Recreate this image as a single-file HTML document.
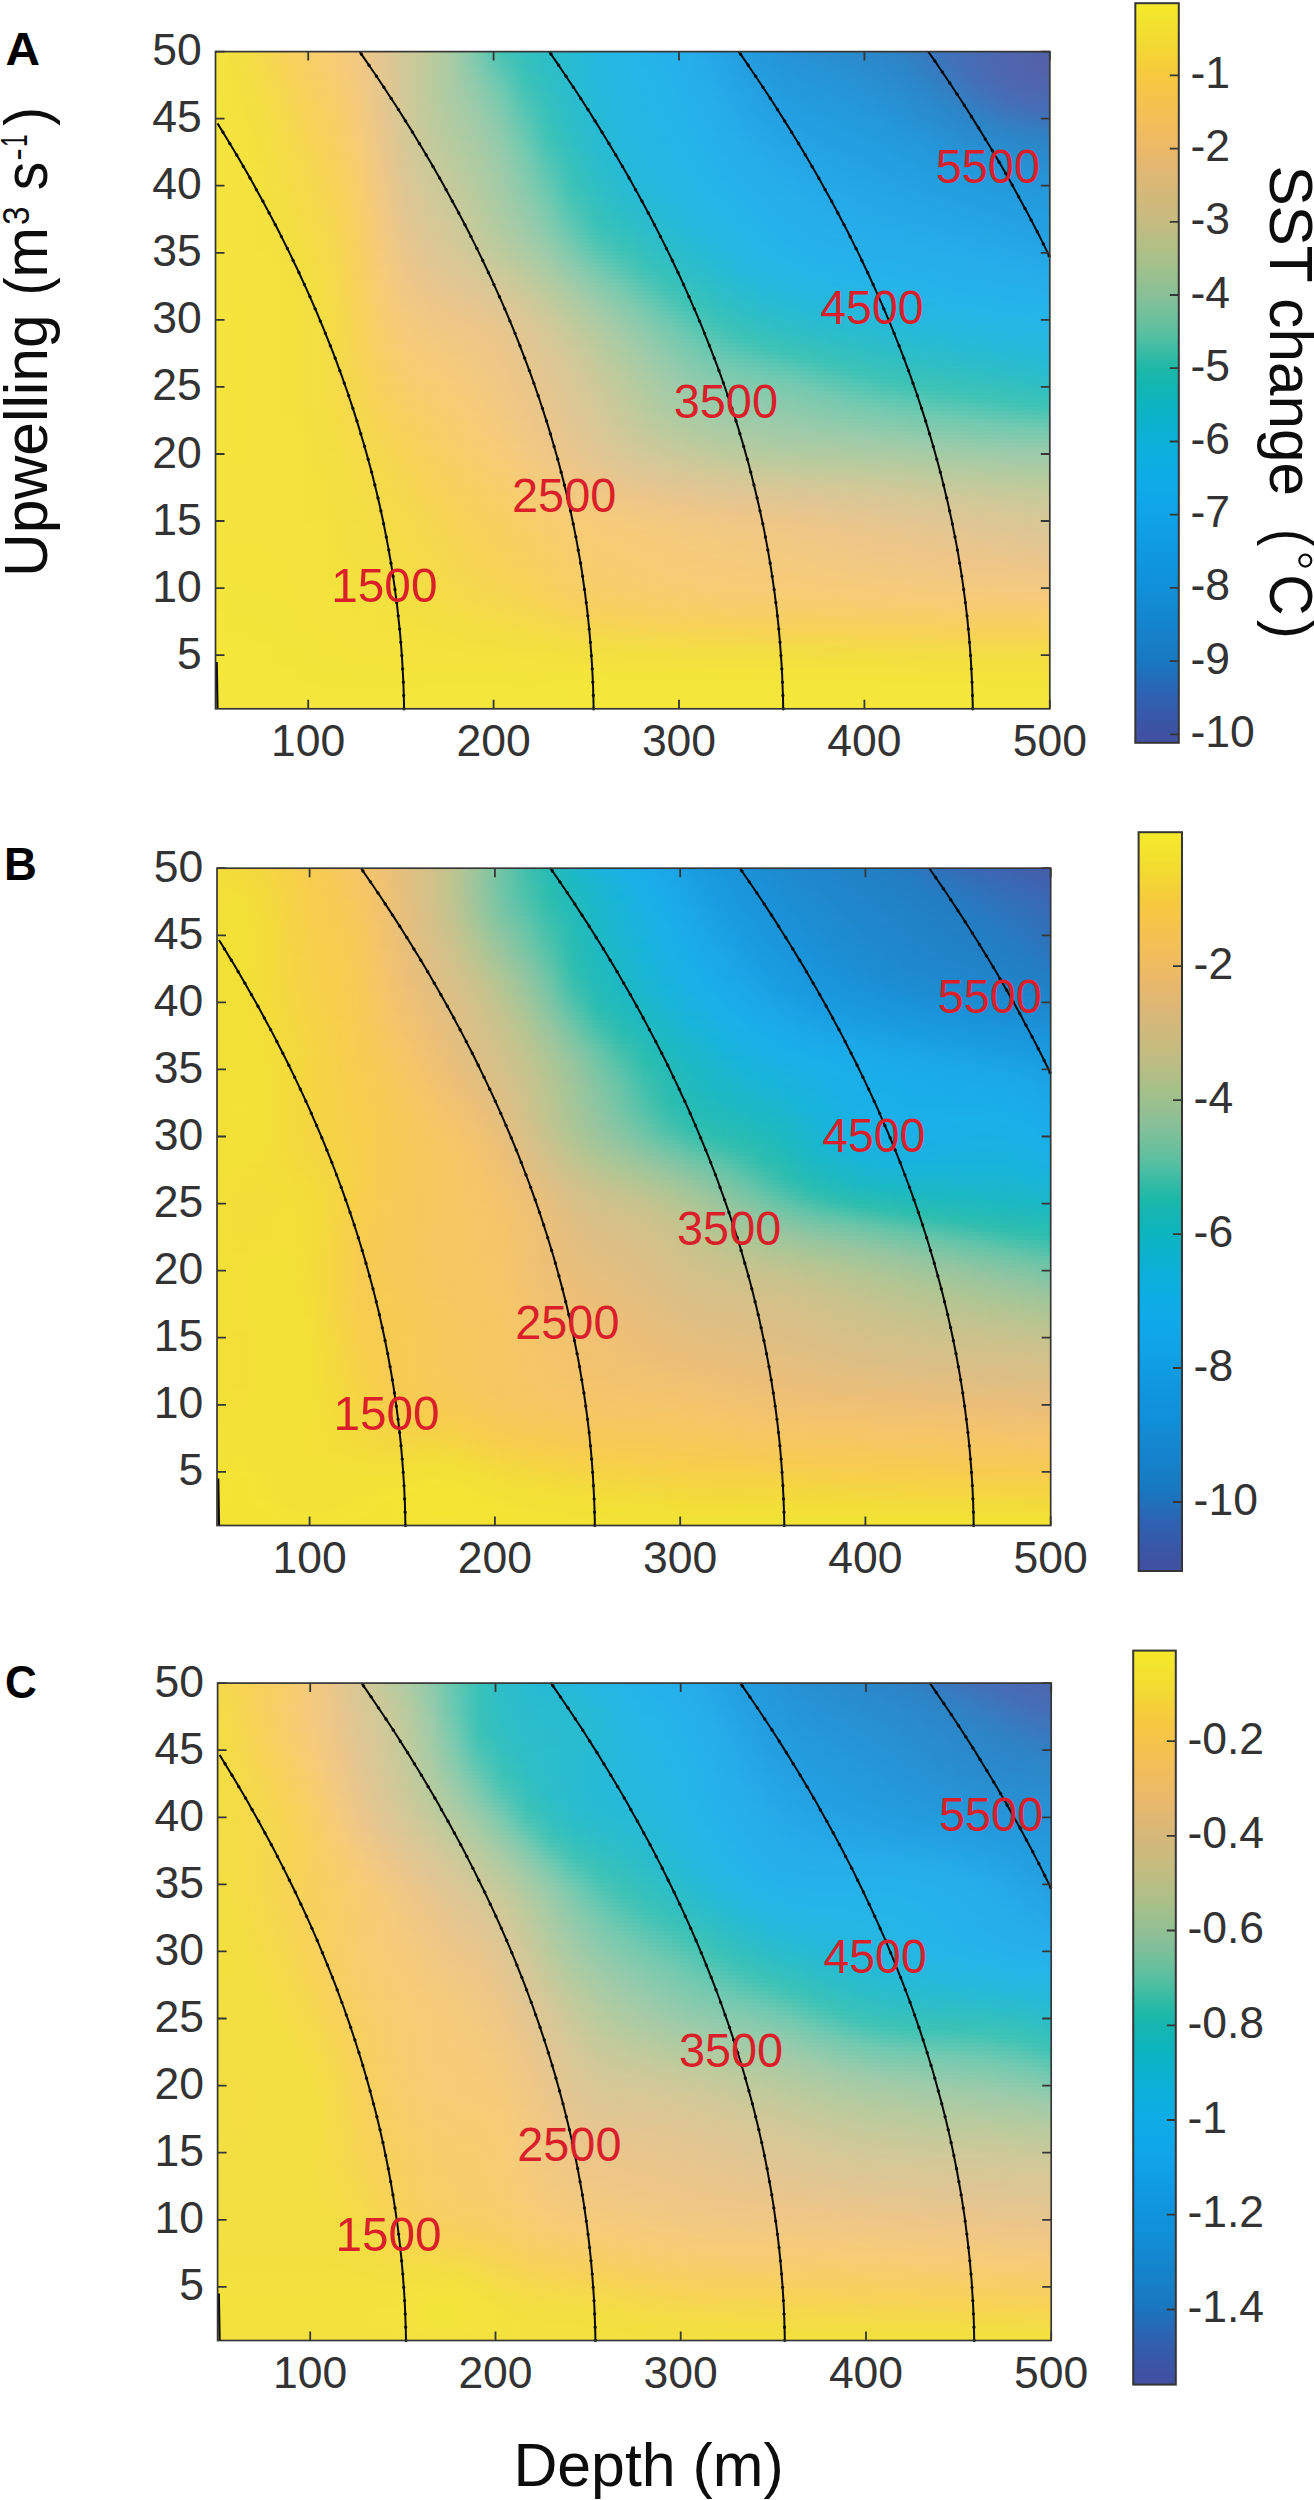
<!DOCTYPE html><html><head><meta charset="utf-8"><style>
html,body{margin:0;padding:0;background:#fff;width:1314px;height:2500px;overflow:hidden}
body{position:relative;font-family:"Liberation Sans",sans-serif}
.hm{position:absolute}.hm div{position:absolute;left:0;width:100%}
svg{position:absolute;left:0;top:0}
.tl{font-size:44.5px;fill:#333}
.let{font-size:44px;font-weight:bold;fill:#000}
.ax{font-size:59px;fill:#111}
.cl{font-size:48.5px;fill:#da1f2a}
</style></head><body>
<div class="hm" style="left:215px;top:0;width:835px"><div style="top:51px;height:4px;background:linear-gradient(90deg,#f4e33e,#f3df40,#f5d94c,#f8d15a,#f8ce68,#f7cd76,#f1c882,#e2c691,#d1c998,#becb9c,#a5cba6,#7acaae,#46c4b4,#35c0be,#2bbec8,#28bad4,#25b7de,#25b6e4,#25b4ea,#25b1ea,#26adea,#24a6e6,#249ee0,#2399db,#2593d6,#278fd1,#298cce,#2a89cb,#2c86c7,#3180c3,#3a78bd,#4270b8,#486bb3,#4d66af,#5163ab,#5361a9)"></div><div style="top:55px;height:4px;background:linear-gradient(90deg,#f4e33d,#f3df40,#f5d94b,#f8d259,#f8cf67,#f7cd75,#f1c882,#e2c691,#d1c998,#bdcb9c,#a5cba6,#7dcaae,#4bc5b4,#36c1bd,#2cbec7,#28bbd3,#25b8de,#25b6e4,#25b4e9,#25b1ea,#26adea,#25a6e6,#249fe1,#239adc,#2594d7,#2790d3,#288dcf,#2a8acc,#2b87c9,#2f82c4,#3879be,#4271b9,#486bb3,#4d66ae,#5163ab,#5361a9)"></div><div style="top:59px;height:4px;background:linear-gradient(90deg,#f4e33d,#f3e040,#f5d94a,#f7d258,#f8cf66,#f7cd74,#f2c881,#e2c691,#d0c998,#bccb9c,#a5cba6,#7fcaae,#50c5b3,#37c1bb,#2cbec7,#28bbd3,#25b8dd,#25b6e4,#25b4e9,#25b2ea,#26aeea,#25a7e7,#24a0e1,#239adc,#2595d7,#2692d4,#288fd0,#298bcd,#2b88ca,#2d83c5,#377abf,#4171b9,#486bb3,#4d66ae,#5163ab,#5361a9)"></div><div style="top:63px;height:4px;background:linear-gradient(90deg,#f4e33d,#f3e040,#f5da49,#f7d357,#f8cf65,#f7cd73,#f2c881,#e3c691,#d0c998,#bccb9d,#a5cba6,#81caad,#54c6b3,#38c1ba,#2dbec6,#28bbd2,#25b8dd,#25b6e3,#25b4e8,#25b2ea,#26aeea,#25a8e7,#24a0e2,#239bdd,#2496d8,#2693d5,#2790d2,#298dce,#2a89cb,#2c85c6,#367cc0,#4072ba,#486bb4,#4d66af,#5163ab,#5361a9)"></div><div style="top:67px;height:4px;background:linear-gradient(90deg,#f4e33d,#f3e040,#f5da49,#f7d356,#f8cf64,#f7cd72,#f2c980,#e3c690,#d0c998,#bccb9d,#a5cba6,#84caad,#59c6b2,#39c2b9,#2dbec6,#28bbd2,#25b8dd,#25b6e3,#25b5e8,#25b2ea,#26afea,#25a8e8,#24a1e2,#239cde,#2497d9,#2594d6,#2791d3,#288ed0,#2a8acc,#2c85c7,#347dc1,#3f73ba,#476cb4,#4d67af,#5163ab,#5362aa)"></div><div style="top:71px;height:4px;background:linear-gradient(90deg,#f4e33d,#f3e03f,#f4db48,#f7d455,#f8cf63,#f7cd71,#f2c980,#e3c690,#d0c998,#bbcb9d,#a6cba5,#86caad,#5dc7b2,#3ac2b8,#2ebec5,#28bbd1,#25b8dc,#25b6e3,#25b5e8,#25b3ea,#25afea,#25a9e8,#24a1e3,#239cde,#2498da,#2595d7,#2692d4,#288fd1,#298bcd,#2b86c8,#327fc2,#3d75bb,#466db5,#4c67b0,#5064ac,#5262aa)"></div><div style="top:75px;height:4px;background:linear-gradient(90deg,#f4e33d,#f3e03f,#f4db47,#f7d454,#f8cf62,#f7cd70,#f3c97f,#e3c690,#d0c998,#bbcb9d,#a6cba5,#88caac,#62c8b1,#3bc2b7,#2fbfc4,#28bbd1,#25b8dc,#25b6e2,#25b5e7,#25b3ea,#25afea,#25aae8,#24a2e3,#239ddf,#2399db,#2496d8,#2693d5,#2790d2,#298cce,#2b87c9,#3080c3,#3c76bc,#456db6,#4b68b0,#4f64ad,#5163ab)"></div><div style="top:79px;height:4px;background:linear-gradient(90deg,#f4e33d,#f3e13f,#f4db46,#f7d553,#f8d061,#f7ce6f,#f3c97f,#e4c690,#d0c998,#bbcb9d,#a6cba5,#8bcaac,#66c8b1,#3cc3b6,#2fbfc3,#29bbd0,#25b8dc,#25b6e2,#25b5e7,#25b3ea,#25b0ea,#25aae9,#24a3e4,#239ddf,#239adc,#2496d9,#2594d6,#2791d3,#288dcf,#2b88ca,#2e82c4,#3a78bd,#446eb7,#4a69b1,#4e65ad,#5064ac)"></div><div style="top:83px;height:4px;background:linear-gradient(90deg,#f4e33d,#f3e13f,#f4dc46,#f6d552,#f8d060,#f7ce6e,#f3ca7e,#e4c690,#d0c998,#bbcb9d,#a7cba5,#8dcbac,#6ac9b0,#3ec3b5,#30bfc3,#29bcd0,#25b8db,#25b6e2,#25b5e7,#25b3ea,#25b0ea,#25abe9,#24a3e4,#239ee0,#239add,#2498da,#2595d7,#2692d4,#288ed0,#2a89cb,#2c84c6,#387abf,#4370b8,#496ab2,#4d66ae,#4f65ad)"></div><div style="top:87px;height:4px;background:linear-gradient(90deg,#f4e33d,#f3e13f,#f4dc45,#f6d652,#f8d05f,#f7ce6c,#f3ca7e,#e4c68f,#d0c998,#bbcb9d,#a8cba5,#8fcbab,#6ec9b0,#42c3b5,#31bfc2,#29bccf,#26b9db,#25b6e1,#25b5e6,#25b4ea,#25b0ea,#26abe9,#24a4e5,#249fe0,#239bdd,#2399db,#2496d8,#2693d5,#278fd1,#2a8acc,#2c85c7,#367cc0,#4172b9,#486bb4,#4c67b0,#4e66ae)"></div><div style="top:91px;height:4px;background:linear-gradient(90deg,#f4e33d,#f3e13f,#f4dd44,#f6d651,#f8d05e,#f7ce6b,#f4ca7d,#e4c68f,#d0c998,#bbcb9d,#a8cba4,#91cbab,#72cab0,#45c4b4,#32c0c1,#29bcce,#26b9da,#25b7e1,#25b5e6,#25b4ea,#25b0ea,#26acea,#24a5e5,#249fe1,#239cde,#2399dc,#2497d9,#2594d6,#2790d2,#298ccd,#2c86c8,#347ec1,#3e74bb,#466cb5,#4b69b1,#4c67af)"></div><div style="top:95px;height:4px;background:linear-gradient(90deg,#f4e43d,#f3e13e,#f4dd44,#f6d650,#f8d05d,#f8ce6a,#f4ca7d,#e5c68f,#d0c998,#bccb9d,#a9cba4,#93cbab,#75caaf,#48c4b4,#33c0c0,#29bccd,#26b9d9,#25b7e1,#25b5e6,#25b4ea,#25b1ea,#26acea,#24a6e6,#24a0e2,#239cde,#239adc,#2498da,#2595d7,#2691d3,#298dce,#2b87c9,#3180c3,#3c76bc,#456eb6,#496ab2,#4b69b1)"></div><div style="top:99px;height:4px;background:linear-gradient(90deg,#f4e43d,#f3e23e,#f4dd43,#f6d74f,#f8d15c,#f8ce69,#f4ca7c,#e5c68e,#d1c998,#bccb9d,#aacba4,#96cbab,#78caaf,#4cc5b4,#34c0bf,#2abccd,#26b9d9,#25b7e0,#25b5e5,#25b4ea,#25b1ea,#26adea,#25a6e6,#24a0e2,#239ddf,#239bdd,#2399db,#2496d8,#2692d4,#288ed0,#2b88ca,#2f82c4,#3a78be,#4370b8,#476cb4,#496ab2)"></div><div style="top:103px;height:4px;background:linear-gradient(90deg,#f4e43d,#f3e23e,#f3de43,#f6d74f,#f8d15b,#f8ce68,#f5cb7c,#e6c68e,#d1c998,#bccb9c,#abcba3,#98cbaa,#7acaae,#4fc5b3,#34c0be,#2abdcc,#26b9d8,#25b7e0,#25b5e5,#25b4e9,#25b1ea,#26adea,#25a7e7,#24a1e3,#239ee0,#239cde,#239adc,#2497d9,#2593d6,#288fd1,#2a8acb,#2c84c6,#377bbf,#4072ba,#456db6,#476cb4)"></div><div style="top:107px;height:4px;background:linear-gradient(90deg,#f4e43d,#f3e23e,#f3de42,#f6d84e,#f8d15a,#f8cf67,#f5cb7b,#e6c68e,#d1c898,#bdcb9c,#accba3,#9acbaa,#7dcaae,#52c6b3,#35c1bd,#2abdcb,#27b9d7,#25b7e0,#25b5e5,#25b4e9,#25b2ea,#26adea,#25a8e7,#24a2e3,#249ee0,#239cde,#239add,#2398da,#2594d7,#2790d2,#298bcd,#2c85c7,#347dc1,#3d75bb,#436fb7,#456db6)"></div><div style="top:111px;height:4px;background:linear-gradient(90deg,#f4e43d,#f3e23e,#f3de41,#f5d84d,#f8d259,#f8cf66,#f5cb7a,#e6c68d,#d1c898,#bdcb9c,#adcba2,#9ccbaa,#7fcaae,#56c6b3,#36c1bc,#2bbdca,#27bad6,#25b7df,#25b6e4,#25b4e9,#25b2ea,#26aeea,#25a8e7,#24a2e4,#249fe1,#239ddf,#239bdd,#2399db,#2495d8,#2791d3,#298cce,#2b87c8,#3180c3,#3a78bd,#4072b9,#436fb8)"></div><div style="top:115px;height:4px;background:linear-gradient(90deg,#f4e43d,#f3e23e,#f3de41,#f5d84c,#f7d258,#f8cf65,#f5cb7a,#e7c68d,#d2c897,#becb9c,#aecba2,#9dcba9,#82caad,#59c6b2,#37c1bb,#2bbdc9,#27bad6,#25b7df,#25b6e4,#25b4e8,#25b2ea,#26aeea,#25a9e8,#24a3e4,#24a0e1,#239ee0,#239cde,#239adc,#2497d9,#2692d4,#288dcf,#2b88ca,#2e83c5,#377bbf,#3d75bb,#4072ba)"></div><div style="top:119px;height:4px;background:linear-gradient(90deg,#f4e43d,#f4e23e,#f3df41,#f5d94c,#f7d358,#f8cf64,#f6cc79,#e7c68d,#d2c897,#bfcb9c,#afcba2,#9fcba9,#84caad,#5cc7b2,#38c1ba,#2bbec8,#27bad5,#25b7df,#25b6e4,#25b5e8,#25b2ea,#26afea,#25aae8,#24a4e5,#24a0e2,#249ee0,#239ddf,#239bdd,#2498da,#2593d5,#288ed0,#2a89cb,#2c85c6,#347ec1,#3a78bd,#3d75bb)"></div><div style="top:123px;height:4px;background:linear-gradient(90deg,#f4e43d,#f4e23e,#f3df40,#f5d94b,#f7d357,#f8cf63,#f6cc79,#e8c68c,#d3c897,#bfcb9c,#b0cba1,#a0cba8,#87caad,#5fc7b2,#39c2b9,#2cbec7,#27bad4,#25b7de,#25b6e3,#25b5e7,#25b3ea,#25afea,#25aae9,#24a5e5,#24a1e3,#249fe1,#239ddf,#239bdd,#2399db,#2594d6,#2790d2,#298bcd,#2c86c8,#3081c3,#367bbf,#3a78bd)"></div><div style="top:127px;height:4px;background:linear-gradient(90deg,#f4e43d,#f4e33e,#f3df40,#f5d94b,#f7d356,#f8cf62,#f6cc78,#e8c68c,#d3c897,#c0ca9c,#b1cba1,#a2cba7,#89caac,#63c8b1,#3ac2b8,#2dbec6,#28bbd3,#25b8de,#25b6e3,#25b5e7,#25b3ea,#25afea,#25abe9,#24a6e6,#24a2e3,#249fe1,#239ee0,#239cde,#239adc,#2495d8,#2791d3,#298cce,#2b88c9,#2d84c5,#337ec2,#367bc0)"></div><div style="top:131px;height:4px;background:linear-gradient(90deg,#f4e43d,#f4e33d,#f3df40,#f5da4a,#f7d455,#f8cf61,#f7cc78,#e9c68b,#d4c897,#c1ca9b,#b2cba0,#a3cba7,#8bcaac,#66c8b1,#3bc2b7,#2ebec5,#28bbd2,#25b8dd,#25b6e3,#25b5e7,#25b3ea,#25b0ea,#26acea,#25a6e6,#24a3e4,#24a0e2,#249fe0,#239ddf,#239adc,#2497d9,#2692d4,#288ed0,#2a89cb,#2c86c7,#2f81c4,#337ec2)"></div><div style="top:135px;height:4px;background:linear-gradient(90deg,#f4e43d,#f4e33d,#f3e040,#f5da49,#f7d454,#f8d061,#f7cc77,#e9c68b,#d4c897,#c2ca9b,#b3cb9f,#a4cba6,#8dcbac,#69c9b1,#3cc3b6,#2fbfc4,#28bbd1,#25b8dd,#25b6e2,#25b5e6,#25b3ea,#25b0ea,#26acea,#25a7e7,#24a3e4,#24a1e3,#249fe1,#239ddf,#239bdd,#2498da,#2593d6,#278fd1,#298bcd,#2b87c9,#2c84c6,#2f81c4)"></div><div style="top:139px;height:4px;background:linear-gradient(90deg,#f4e43d,#f4e33d,#f3e040,#f5da49,#f7d454,#f8d060,#f7cd76,#eac68b,#d5c897,#c3ca9b,#b5cb9f,#a6cba6,#8fcbab,#6cc9b0,#3ec3b5,#30bfc3,#29bbd0,#25b8dc,#25b6e2,#25b5e6,#25b4ea,#25b0ea,#26adea,#25a8e7,#24a4e5,#24a2e3,#24a0e2,#249ee0,#239cde,#2399db,#2595d7,#2790d2,#298cce,#2a89cb,#2c86c8,#2c84c6)"></div><div style="top:143px;height:4px;background:linear-gradient(90deg,#f4e43d,#f4e33d,#f3e040,#f5da48,#f7d553,#f8d05f,#f7cd75,#eac68a,#d5c896,#c4ca9b,#b6cb9e,#a7cba5,#91cbab,#6fc9b0,#42c3b5,#31bfc2,#29bcd0,#25b8dc,#25b6e1,#25b5e5,#25b4ea,#25b1ea,#26adea,#25a9e8,#24a5e5,#24a2e4,#24a0e2,#249fe1,#239ddf,#239adc,#2496d8,#2692d4,#288ed0,#2a8bcc,#2b88c9,#2c86c8)"></div><div style="top:147px;height:4px;background:linear-gradient(90deg,#f4e43d,#f4e33d,#f3e040,#f4db48,#f6d552,#f8d05e,#f7cd74,#ebc68a,#d6c896,#c5ca9b,#b7cb9e,#a8cba4,#93cbab,#72cab0,#45c4b4,#32c0c1,#29bccf,#26b9db,#25b7e1,#25b5e5,#25b4ea,#25b1ea,#26adea,#25a9e8,#25a6e6,#24a3e4,#24a1e3,#249fe1,#239ddf,#239bdd,#2497d9,#2593d5,#2790d2,#298cce,#2a89cb,#2b88c9)"></div><div style="top:151px;height:4px;background:linear-gradient(90deg,#f4e43d,#f4e33d,#f3e03f,#f4db47,#f6d652,#f8d05d,#f7cd73,#ebc689,#d6c896,#c6ca9a,#b8cb9d,#a9cba4,#95cbab,#75caaf,#48c4b4,#33c0c0,#29bcce,#26b9da,#25b7e0,#25b6e5,#25b4e9,#25b1ea,#26aeea,#25aae9,#25a7e6,#24a4e5,#24a2e3,#24a0e2,#239ee0,#239bdd,#2399db,#2595d7,#2691d3,#288ed0,#298bcd,#2a89cb)"></div><div style="top:155px;height:4px;background:linear-gradient(90deg,#f4e43d,#f4e33d,#f3e03f,#f4db47,#f6d651,#f8d05c,#f7cd72,#ecc689,#d7c896,#c7ca9a,#bacb9d,#abcba3,#97cbaa,#78caaf,#4cc5b4,#34c0bf,#2abccd,#26b9d9,#25b7e0,#25b6e4,#25b4e9,#25b2ea,#26aeea,#25abe9,#25a7e7,#24a5e5,#24a3e4,#24a1e2,#249fe1,#239cde,#239adc,#2496d8,#2693d5,#2790d1,#288dcf,#298bcd)"></div><div style="top:159px;height:4px;background:linear-gradient(90deg,#f4e43d,#f4e33d,#f3e03f,#f4dc46,#f6d650,#f8d15b,#f7cd71,#edc688,#d8c796,#c8ca9a,#bbcb9d,#accba3,#99cbaa,#7acaaf,#4fc5b3,#35c1bd,#2abdcb,#26b9d8,#25b7df,#25b6e4,#25b5e8,#25b2ea,#25afea,#26acea,#25a8e7,#24a6e6,#24a3e4,#24a1e3,#249fe1,#239ddf,#239bdd,#2497da,#2594d6,#2691d3,#288fd0,#298cce)"></div><div style="top:163px;height:4px;background:linear-gradient(90deg,#f4e43d,#f4e33d,#f3e13f,#f4dc46,#f6d750,#f8d15a,#f7cd70,#edc688,#d8c795,#c9c99a,#bccb9d,#adcba2,#9bcbaa,#7ccaae,#53c6b3,#36c1bc,#2abdca,#27bad7,#25b7df,#25b6e3,#25b5e8,#25b2ea,#25afea,#26acea,#25a9e8,#25a6e6,#24a4e5,#24a2e3,#24a0e2,#239ee0,#239bdd,#2399db,#2496d8,#2693d5,#2790d2,#288ed0)"></div><div style="top:167px;height:4px;background:linear-gradient(90deg,#f4e43d,#f4e33d,#f3e13f,#f4dc45,#f6d74f,#f8d259,#f7cd6f,#eec687,#d9c795,#cac999,#bdcb9c,#aecba2,#9ccbaa,#7ecaae,#56c6b2,#37c1bb,#2bbdc9,#27bad6,#25b7de,#25b6e2,#25b5e7,#25b3ea,#25b0ea,#26adea,#25aae8,#25a7e7,#24a5e5,#24a3e4,#24a0e2,#249ee0,#239cde,#239adc,#2497d9,#2594d6,#2692d4,#2790d2)"></div><div style="top:171px;height:4px;background:linear-gradient(90deg,#f4e43d,#f4e33d,#f3e13f,#f4dc45,#f6d74e,#f8d259,#f7ce6e,#eec687,#dac795,#ccc999,#bfcb9c,#b0cba1,#9ecba9,#80caae,#5ac7b2,#38c1ba,#2bbec8,#27bad5,#25b8dd,#25b6e2,#25b5e6,#25b3ea,#25b0ea,#26adea,#25aae9,#25a8e7,#24a6e6,#24a4e4,#24a1e3,#249fe1,#239ddf,#239bdd,#2399db,#2496d8,#2593d5,#2691d3)"></div><div style="top:175px;height:4px;background:linear-gradient(90deg,#f4e43d,#f4e43d,#f3e13f,#f4dc45,#f6d84e,#f7d258,#f7ce6d,#efc686,#dac795,#cdc999,#c0ca9c,#b1cba1,#9fcba8,#83caad,#5dc7b2,#39c2b9,#2cbec7,#28bad4,#25b8dd,#25b6e1,#25b5e6,#25b3ea,#25b0ea,#26aeea,#25abe9,#25a8e8,#25a6e6,#24a4e5,#24a2e3,#24a0e2,#239ee0,#239cde,#239adc,#2497da,#2595d7,#2693d5)"></div><div style="top:179px;height:4px;background:linear-gradient(90deg,#f4e43d,#f4e43d,#f3e13f,#f4dd44,#f5d84d,#f7d357,#f7ce6d,#efc686,#dbc795,#cec998,#c1ca9b,#b2cba0,#a0cba8,#85caad,#60c7b1,#3ac2b8,#2dbec6,#28bbd2,#25b8dc,#25b7e0,#25b5e5,#25b4ea,#25b1ea,#26aeea,#26acea,#25a9e8,#25a7e7,#24a5e5,#24a3e4,#24a1e2,#249fe1,#239ddf,#239bdd,#2399db,#2496d9,#2594d6)"></div><div style="top:183px;height:4px;background:linear-gradient(90deg,#f4e43d,#f4e43d,#f3e13f,#f4dd44,#f5d84d,#f7d356,#f7ce6c,#f0c785,#dcc794,#cfc998,#c2ca9b,#b3cb9f,#a1cba7,#87caad,#64c8b1,#3bc2b7,#2ebfc5,#28bbd1,#26b9db,#25b7e0,#25b6e5,#25b4ea,#25b1ea,#26aeea,#26acea,#25aae8,#25a8e7,#24a6e6,#24a4e4,#24a1e3,#24a0e1,#239ee0,#239cde,#239adc,#2498da,#2495d8)"></div><div style="top:187px;height:4px;background:linear-gradient(90deg,#f4e43d,#f4e43d,#f3e13f,#f4dd43,#f5d84c,#f7d356,#f8ce6b,#f0c785,#ddc794,#d0c998,#c3ca9b,#b4cb9f,#a2cba7,#89caac,#67c8b1,#3cc3b5,#2fbfc3,#29bcd0,#26b9d9,#25b7df,#25b6e4,#25b4e9,#25b2ea,#25afea,#26adea,#25aae9,#25a8e8,#25a6e6,#24a4e5,#24a2e4,#24a0e2,#249fe0,#239ddf,#239bdd,#2399db,#2497d9)"></div><div style="top:191px;height:4px;background:linear-gradient(90deg,#f4e43d,#f4e43d,#f3e13f,#f4dd43,#f5d94c,#f7d455,#f8ce6a,#f0c784,#ddc794,#d1c898,#c5ca9b,#b6cb9e,#a4cba6,#8bcaac,#6ac9b0,#3fc3b5,#31bfc2,#29bcce,#26b9d8,#25b7de,#25b6e3,#25b4e9,#25b2ea,#25afea,#26adea,#25abe9,#25a9e8,#25a7e7,#24a5e5,#24a3e4,#24a1e3,#249fe1,#239ee0,#239cde,#239adc,#2498da)"></div><div style="top:195px;height:4px;background:linear-gradient(90deg,#f4e43d,#f4e43d,#f3e13e,#f3de43,#f5d94b,#f7d454,#f8ce69,#f0c784,#dec694,#d2c897,#c6ca9a,#b7cb9e,#a5cba6,#8dcbac,#6ec9b0,#43c4b5,#32c0c1,#2abccd,#27bad6,#25b8dd,#25b6e2,#25b5e8,#25b2ea,#25b0ea,#26aeea,#26acea,#25aae8,#25a8e7,#25a6e6,#24a4e5,#24a2e3,#24a0e2,#249fe1,#239ddf,#239bdd,#2399db)"></div><div style="top:199px;height:4px;background:linear-gradient(90deg,#f4e43d,#f4e43d,#f3e13e,#f3de42,#f5d94a,#f7d454,#f8ce69,#f1c883,#dfc693,#d3c897,#c7ca9a,#b8cb9d,#a6cba5,#8fcbab,#71cab0,#46c4b4,#33c0c0,#2abdcb,#27bad5,#25b8dd,#25b6e2,#25b5e7,#25b3ea,#25b0ea,#26aeea,#26acea,#25aae9,#25a8e7,#25a6e6,#24a5e5,#24a3e4,#24a1e3,#249fe1,#239ee0,#239cde,#239adc)"></div><div style="top:203px;height:4px;background:linear-gradient(90deg,#f4e43d,#f4e43d,#f3e23e,#f3de42,#f5da4a,#f7d553,#f8cf68,#f1c882,#e0c693,#d4c897,#c8ca9a,#b9cb9d,#a7cba5,#92cbab,#74caaf,#4ac4b4,#34c0be,#2bbdca,#28bbd3,#25b8dc,#25b7e1,#25b5e6,#25b3ea,#25b1ea,#26aeea,#26adea,#25abe9,#25a9e8,#25a7e7,#24a5e6,#24a4e5,#24a2e3,#24a0e2,#249fe1,#239ddf,#239bdd)"></div><div style="top:207px;height:4px;background:linear-gradient(90deg,#f4e43d,#f4e43d,#f3e23e,#f3de41,#f5da49,#f6d553,#f8cf67,#f1c882,#e0c692,#d5c897,#cac999,#bacb9d,#a8cba4,#94cbab,#77caaf,#4dc5b3,#36c1bd,#2bbec8,#28bbd2,#26b9da,#25b7e0,#25b5e6,#25b4ea,#25b1ea,#25afea,#26adea,#26abe9,#25a9e8,#25a8e7,#25a6e6,#24a5e5,#24a3e4,#24a1e3,#249fe1,#239ee0,#239cde)"></div><div style="top:211px;height:4px;background:linear-gradient(90deg,#f4e43d,#f4e43d,#f3e23e,#f3de41,#f5da49,#f6d552,#f8cf67,#f2c881,#e1c692,#d5c896,#cbc999,#bbcb9d,#aacba4,#96cbaa,#7acaaf,#51c5b3,#37c1bc,#2dbec7,#29bbd0,#26b9d9,#25b7df,#25b5e5,#25b4ea,#25b1ea,#25afea,#26adea,#26acea,#25aae9,#25a8e8,#25a7e7,#24a5e6,#24a4e5,#24a2e3,#24a0e2,#249fe0,#239ddf)"></div><div style="top:215px;height:4px;background:linear-gradient(90deg,#f4e43d,#f4e43d,#f3e23e,#f3df41,#f5da48,#f6d651,#f8cf66,#f2c881,#e2c691,#d6c896,#ccc999,#bdcb9c,#abcba3,#98cbaa,#7ccaae,#55c6b3,#38c1ba,#2ebec5,#29bcce,#27b9d7,#25b7de,#25b6e4,#25b4e9,#25b2ea,#25b0ea,#26aeea,#26acea,#25abe9,#25a9e8,#25a8e7,#25a6e6,#24a5e5,#24a3e4,#24a1e3,#249fe1,#239ddf)"></div><div style="top:219px;height:4px;background:linear-gradient(90deg,#f4e43d,#f4e43d,#f3e23e,#f3df40,#f4db48,#f6d651,#f8cf65,#f2c980,#e3c691,#d7c896,#cec999,#becb9c,#adcba2,#9bcbaa,#7fcaae,#59c6b2,#3ac2b9,#30bfc3,#2abccd,#27bad6,#25b8de,#25b6e3,#25b4e9,#25b2ea,#25b0ea,#26aeea,#26adea,#26abe9,#25aae8,#25a8e8,#25a7e7,#24a6e6,#24a4e5,#24a2e3,#24a0e2,#249ee0)"></div><div style="top:223px;height:4px;background:linear-gradient(90deg,#f4e43d,#f4e43d,#f3e23e,#f3df40,#f4db47,#f6d650,#f8cf65,#f2c980,#e4c690,#d8c795,#cfc998,#bfcb9c,#aecba2,#9dcba9,#82caad,#5dc7b2,#3bc2b7,#31bfc1,#2abdcb,#28bad4,#25b8dd,#25b6e2,#25b5e8,#25b3ea,#25b1ea,#25afea,#26adea,#26acea,#25aae9,#25a9e8,#25a8e7,#25a6e6,#24a5e5,#24a3e4,#24a1e3,#249fe1)"></div><div style="top:227px;height:4px;background:linear-gradient(90deg,#f4e43d,#f4e43d,#f3e23e,#f3df40,#f4db47,#f6d650,#f8cf64,#f3c97f,#e4c68f,#d9c795,#d0c998,#c1ca9b,#b0cba1,#9fcba8,#85caad,#61c8b1,#3cc3b5,#33c0c0,#2bbdc9,#28bbd2,#25b8db,#25b6e1,#25b5e7,#25b3ea,#25b1ea,#25afea,#26aeea,#26acea,#25abe9,#25aae8,#25a9e8,#25a7e7,#25a6e6,#24a4e5,#24a2e3,#24a0e2)"></div><div style="top:231px;height:4px;background:linear-gradient(90deg,#f4e43d,#f4e43d,#f3e23e,#f3df40,#f4dc46,#f6d74f,#f8cf63,#f3c97f,#e5c68f,#dac795,#d1c898,#c2ca9b,#b2cba0,#a1cba7,#88caad,#66c8b1,#41c3b5,#35c0be,#2cbec7,#29bbd1,#26b9da,#25b7e1,#25b5e6,#25b4ea,#25b1ea,#25b0ea,#26aeea,#26adea,#26acea,#25abe9,#25a9e8,#25a8e7,#25a7e6,#24a5e5,#24a3e4,#24a0e2)"></div><div style="top:235px;height:4px;background:linear-gradient(90deg,#f4e43d,#f4e43d,#f3e23e,#f3e040,#f4dc46,#f6d74f,#f8cf63,#f3ca7e,#e6c68e,#dbc795,#d2c897,#c4ca9b,#b4cb9f,#a3cba7,#8bcaac,#6ac9b0,#46c4b4,#37c1bc,#2ebec5,#29bccf,#26b9d8,#25b7e0,#25b5e5,#25b4ea,#25b2ea,#25b0ea,#26afea,#26adea,#26acea,#26abe9,#25aae9,#25a9e8,#25a8e7,#25a6e6,#24a4e5,#24a1e3)"></div><div style="top:239px;height:4px;background:linear-gradient(90deg,#f4e43d,#f4e43d,#f3e23e,#f3e040,#f4dc45,#f6d74e,#f8cf62,#f4ca7d,#e7c68d,#dcc794,#d3c897,#c6ca9a,#b6cb9e,#a5cba6,#8fcbac,#6fc9b0,#4bc5b4,#38c1ba,#30bfc3,#2abccd,#27bad7,#25b7de,#25b6e4,#25b4e9,#25b2ea,#25b1ea,#25afea,#26aeea,#26adea,#26acea,#25abe9,#25aae8,#25a8e8,#25a7e7,#24a5e5,#24a2e4)"></div><div style="top:243px;height:4px;background:linear-gradient(90deg,#f4e43d,#f4e43d,#f3e23e,#f3e040,#f4dc45,#f6d84e,#f8cf61,#f4ca7d,#e8c68c,#ddc794,#d4c897,#c7ca9a,#b8cb9d,#a8cba5,#92cbab,#74caaf,#50c5b3,#3ac2b8,#31bfc1,#2abdcb,#27bad5,#25b8dd,#25b6e3,#25b5e8,#25b3ea,#25b1ea,#25b0ea,#26aeea,#26adea,#26adea,#26acea,#25abe9,#25a9e8,#25a8e7,#25a6e6,#24a3e4)"></div><div style="top:247px;height:4px;background:linear-gradient(90deg,#f4e43d,#f4e43d,#f3e23e,#f3e040,#f4dd44,#f5d84d,#f8d061,#f4ca7c,#e8c68c,#dec694,#d6c896,#c9c99a,#bacb9d,#aacba3,#96cbaa,#78caaf,#56c6b2,#3cc3b6,#33c0bf,#2bbdc9,#28bbd3,#25b8dc,#25b6e2,#25b5e7,#25b3ea,#25b2ea,#25b0ea,#25afea,#26aeea,#26adea,#26acea,#26abea,#25aae9,#25a9e8,#25a7e7,#24a4e5)"></div><div style="top:251px;height:4px;background:linear-gradient(90deg,#f4e43d,#f4e43d,#f4e23e,#f3e03f,#f4dd44,#f5d84d,#f8d060,#f5cb7c,#e9c68b,#dfc693,#d7c896,#ccc999,#bdcb9c,#adcba2,#9acbaa,#7ccaae,#5cc7b2,#40c3b5,#35c1bd,#2cbec7,#28bbd1,#26b9db,#25b7e1,#25b5e6,#25b4ea,#25b2ea,#25b1ea,#25b0ea,#26afea,#26aeea,#26adea,#26acea,#25abe9,#25aae8,#25a8e7,#24a5e6)"></div><div style="top:255px;height:4px;background:linear-gradient(90deg,#f4e43d,#f4e43d,#f4e33e,#f3e03f,#f4dd43,#f5d84d,#f8d060,#f5cb7b,#eac68a,#e0c693,#d8c795,#cec999,#bfcb9c,#b0cba1,#9ecba9,#80caae,#62c8b1,#46c4b4,#37c1bb,#2ebec5,#29bccf,#26b9d9,#25b7e0,#25b6e5,#25b4e9,#25b3ea,#25b1ea,#25b0ea,#25afea,#26aeea,#26aeea,#26adea,#26acea,#25abe9,#25a9e8,#25a7e6)"></div><div style="top:259px;height:4px;background:linear-gradient(90deg,#f4e43d,#f4e43d,#f4e33e,#f3e03f,#f4dd43,#f5d84c,#f8d05f,#f5cb7b,#ebc68a,#e1c692,#dac795,#d0c998,#c2ca9b,#b3cba0,#a1cba8,#85caad,#68c8b1,#4cc5b4,#39c2b9,#30bfc3,#29bccd,#27bad7,#25b7de,#25b6e3,#25b5e8,#25b3ea,#25b2ea,#25b1ea,#25b0ea,#25afea,#26aeea,#26aeea,#26adea,#26acea,#25aae8,#25a8e7)"></div><div style="top:263px;height:4px;background:linear-gradient(90deg,#f4e43d,#f4e43d,#f4e33d,#f3e13f,#f3de43,#f5d94c,#f8d05e,#f5cb7a,#ecc689,#e2c691,#dbc795,#d2c897,#c5ca9b,#b6cb9e,#a4cba6,#8acaac,#6ec9b0,#52c6b3,#3bc2b7,#31bfc1,#2abdcb,#27bad5,#25b8dd,#25b6e2,#25b5e6,#25b4ea,#25b3ea,#25b2ea,#25b1ea,#25b0ea,#25afea,#26aeea,#26adea,#26acea,#25abe9,#25a9e8)"></div><div style="top:267px;height:4px;background:linear-gradient(90deg,#f4e43d,#f4e43d,#f4e33d,#f3e13f,#f3de42,#f5d94b,#f8d05e,#f6cc79,#edc688,#e4c690,#dcc794,#d4c897,#c8ca9a,#b9cb9d,#a7cba5,#8ecbac,#74caaf,#58c6b2,#3cc3b5,#33c0bf,#2bbdc9,#28bbd3,#25b8dc,#25b7e1,#25b5e5,#25b4e9,#25b3ea,#25b2ea,#25b1ea,#25b0ea,#25b0ea,#25afea,#26aeea,#26adea,#26acea,#25aae9)"></div><div style="top:271px;height:4px;background:linear-gradient(90deg,#f4e43d,#f4e43d,#f4e33d,#f3e13f,#f3de42,#f5d94b,#f8d05d,#f6cc79,#edc688,#e5c68f,#dec794,#d5c896,#cbc999,#bccb9d,#aacba3,#93cbab,#79caaf,#5ec7b2,#42c3b5,#35c1bd,#2cbec7,#28bbd1,#26b9da,#25b7e0,#25b6e4,#25b5e7,#25b4ea,#25b3ea,#25b2ea,#25b1ea,#25b0ea,#25b0ea,#25afea,#26aeea,#26adea,#26abe9)"></div><div style="top:275px;height:4px;background:linear-gradient(90deg,#f4e43d,#f4e43d,#f4e33d,#f3e13f,#f3de41,#f5d94a,#f8d05d,#f6cc78,#eec687,#e6c68e,#dfc693,#d7c896,#cec999,#bfcb9c,#adcba2,#98cbaa,#7ecaae,#65c8b1,#48c4b4,#37c1bb,#2ebec5,#29bccf,#26b9d8,#25b7de,#25b6e2,#25b5e6,#25b4e8,#25b4ea,#25b3ea,#25b2ea,#25b1ea,#25b0ea,#25afea,#26aeea,#26adea,#26acea)"></div><div style="top:279px;height:4px;background:linear-gradient(90deg,#f4e43d,#f4e43c,#f4e33d,#f3e13f,#f3df41,#f5da4a,#f8d05c,#f7cc78,#efc686,#e7c68d,#e1c692,#d9c795,#d0c998,#c2ca9b,#b1cba1,#9dcba9,#83caad,#6bc9b0,#4ec5b3,#39c2b9,#30bfc3,#2abccd,#27bad5,#25b8dd,#25b7e1,#25b6e4,#25b5e7,#25b4e9,#25b4ea,#25b3ea,#25b2ea,#25b1ea,#25b0ea,#25afea,#26aeea,#26adea)"></div><div style="top:283px;height:4px;background:linear-gradient(90deg,#f4e43d,#f4e43c,#f4e33d,#f3e13f,#f3df41,#f5da4a,#f8d15c,#f7cc77,#f0c785,#e8c68c,#e2c691,#dbc795,#d2c897,#c5ca9a,#b4cb9f,#a0cba8,#88caad,#71cab0,#54c6b3,#3bc2b7,#32c0c1,#2abdca,#28bbd3,#25b8db,#25b7e0,#25b6e3,#25b5e5,#25b5e8,#25b4e9,#25b3ea,#25b3ea,#25b2ea,#25b1ea,#25b0ea,#25afea,#26aeea)"></div><div style="top:287px;height:4px;background:linear-gradient(90deg,#f4e43d,#f4e43c,#f4e33d,#f3e13e,#f3df40,#f5da49,#f8d15b,#f7cd76,#f0c784,#e9c68b,#e4c690,#ddc794,#d5c897,#c8ca9a,#b8cb9e,#a4cba6,#8dcbac,#76caaf,#5ac7b2,#3dc3b5,#34c0bf,#2bbec8,#28bbd1,#26b9d9,#25b7de,#25b6e1,#25b6e4,#25b5e6,#25b5e8,#25b4ea,#25b3ea,#25b2ea,#25b1ea,#25b1ea,#25b0ea,#25afea)"></div><div style="top:291px;height:4px;background:linear-gradient(90deg,#f4e43d,#f4e43c,#f4e33d,#f3e23e,#f3df40,#f5da49,#f8d15a,#f7cd75,#f0c783,#eac68a,#e5c68f,#dfc693,#d7c896,#cbc999,#bbcb9d,#a7cba5,#92cbab,#7bcaae,#60c7b1,#43c4b4,#36c1bd,#2dbec6,#29bccf,#27bad6,#25b8dd,#25b7e0,#25b6e2,#25b6e4,#25b5e6,#25b5e8,#25b4ea,#25b3ea,#25b2ea,#25b1ea,#25b1ea,#25b0ea)"></div><div style="top:295px;height:4px;background:linear-gradient(90deg,#f4e43d,#f4e43c,#f4e33d,#f3e23e,#f3df40,#f5da49,#f8d15a,#f7cd74,#f1c883,#ebc689,#e7c68d,#e1c692,#d9c795,#cfc998,#becb9c,#abcba3,#96cbaa,#80caae,#66c8b1,#4ac4b4,#38c1ba,#2fbfc4,#2abccc,#27bad4,#26b9da,#25b7de,#25b7e1,#25b6e3,#25b5e5,#25b5e7,#25b4e8,#25b4ea,#25b3ea,#25b2ea,#25b1ea,#25b1ea)"></div><div style="top:299px;height:4px;background:linear-gradient(90deg,#f4e43d,#f4e43c,#f4e33d,#f3e23e,#f3df40,#f4db48,#f8d259,#f7cd73,#f1c882,#edc688,#e8c68c,#e3c691,#dbc795,#d1c998,#c1ca9c,#aecba2,#9bcbaa,#84caad,#6cc9b0,#50c5b3,#3ac2b8,#31bfc1,#2abdca,#28bbd2,#26b9d8,#25b8dc,#25b7df,#25b7e1,#25b6e3,#25b5e5,#25b5e7,#25b4e9,#25b4ea,#25b3ea,#25b2ea,#25b1ea)"></div><div style="top:303px;height:4px;background:linear-gradient(90deg,#f4e43d,#f4e43c,#f4e33d,#f3e23e,#f3df40,#f4db48,#f8d259,#f7cd72,#f2c881,#eec687,#e9c68b,#e4c68f,#ddc794,#d3c897,#c4ca9b,#b1cba0,#9fcba8,#88caac,#72cab0,#56c6b3,#3cc2b6,#33c0bf,#2bbec8,#29bccf,#27bad5,#26b9da,#25b8dd,#25b7df,#25b6e1,#25b6e3,#25b5e5,#25b5e7,#25b4e9,#25b4ea,#25b3ea,#25b2ea)"></div><div style="top:307px;height:4px;background:linear-gradient(90deg,#f4e43d,#f4e43c,#f4e43d,#f3e23e,#f3e040,#f4db48,#f7d258,#f7cd71,#f2c980,#efc686,#ebc68a,#e6c68e,#dfc693,#d5c896,#c6ca9a,#b4cb9f,#a2cba7,#8dcbac,#77caaf,#5bc7b2,#40c3b5,#35c1bd,#2ebec5,#2abccd,#28bbd3,#26b9d8,#25b8db,#25b8de,#25b7e0,#25b6e2,#25b6e4,#25b5e6,#25b5e8,#25b4e9,#25b4ea,#25b3ea)"></div><div style="top:311px;height:4px;background:linear-gradient(90deg,#f4e43d,#f4e43c,#f4e43d,#f3e23e,#f3e040,#f4db47,#f7d258,#f7cd70,#f3c97f,#efc785,#ecc689,#e7c68d,#e1c692,#d7c896,#c9c99a,#b8cb9e,#a5cba6,#91cbab,#7bcaae,#61c8b1,#46c4b4,#38c1bb,#30bfc3,#2abdca,#29bbd0,#27bad5,#26b9d9,#25b8dc,#25b7de,#25b7e0,#25b6e2,#25b6e4,#25b5e6,#25b5e8,#25b4e9,#25b4ea)"></div><div style="top:315px;height:4px;background:linear-gradient(90deg,#f4e43d,#f4e43c,#f4e43d,#f3e23e,#f3e040,#f4db47,#f7d358,#f7cd6f,#f3ca7e,#f0c784,#edc688,#e9c68b,#e2c691,#d9c795,#ccc999,#bacb9d,#a8cba4,#95cbab,#7fcaae,#67c8b1,#4cc5b4,#3ac2b9,#32c0c1,#2bbec8,#29bcce,#28bbd2,#27bad6,#26b9d9,#25b8dc,#25b7de,#25b7e1,#25b6e3,#25b6e5,#25b5e6,#25b5e7,#25b4e8)"></div><div style="top:319px;height:4px;background:linear-gradient(90deg,#f4e43d,#f4e43c,#f4e43d,#f3e23e,#f3e040,#f4db47,#f7d357,#f7ce6e,#f4ca7d,#f1c783,#eec687,#eac68a,#e4c690,#dac795,#cec998,#bdcb9c,#abcba3,#99cbaa,#83caad,#6cc9b0,#51c5b3,#3bc2b7,#34c0be,#2ebec5,#2abdcb,#29bccf,#28bbd3,#27bad7,#26b9da,#25b8dd,#25b7df,#25b7e1,#25b6e3,#25b6e5,#25b5e6,#25b5e7)"></div><div style="top:323px;height:4px;background:linear-gradient(90deg,#f4e43d,#f4e43c,#f4e43d,#f3e23e,#f3e040,#f4db47,#f7d357,#f7ce6d,#f4ca7c,#f1c882,#efc686,#ecc689,#e5c68e,#dcc794,#d0c998,#c0cb9c,#aecba2,#9dcba9,#87caad,#71cab0,#57c6b2,#3ec3b5,#36c1bc,#30bfc3,#2bbec8,#2abccd,#29bbd1,#28bad4,#27b9d7,#26b9db,#25b8dd,#25b7df,#25b6e1,#25b6e3,#25b6e4,#25b5e5)"></div><div style="top:327px;height:4px;background:linear-gradient(90deg,#f4e43d,#f4e43c,#f4e43d,#f3e23e,#f3e040,#f4db47,#f7d356,#f7ce6c,#f5cb7b,#f2c881,#f0c784,#edc688,#e7c68d,#ddc794,#d2c897,#c2ca9b,#b1cba1,#a0cba8,#8bcaac,#76caaf,#5dc7b2,#45c4b4,#39c2ba,#33c0c0,#2ebec5,#2bbdca,#29bcce,#28bbd1,#27bad5,#26b9d8,#25b8db,#25b8de,#25b7e0,#25b6e1,#25b6e3,#25b6e4)"></div><div style="top:331px;height:4px;background:linear-gradient(90deg,#f4e43d,#f4e43c,#f4e43d,#f3e23e,#f3e040,#f4db47,#f7d356,#f8ce6b,#f5cb7b,#f2c980,#f0c783,#eec687,#e8c68c,#dfc693,#d4c897,#c4ca9b,#b4cb9f,#a2cba7,#8ecbac,#7acaaf,#62c8b1,#4bc5b4,#3bc2b7,#35c1be,#30bfc3,#2cbec7,#2abdcb,#29bccf,#28bbd2,#27bad6,#26b9d9,#25b8dc,#25b7de,#25b7e0,#25b7e1,#25b6e2)"></div><div style="top:335px;height:4px;background:linear-gradient(90deg,#f4e43d,#f4e43c,#f4e43d,#f3e23e,#f3e040,#f4db47,#f7d455,#f8ce6a,#f6cb7a,#f3c97f,#f1c882,#efc686,#e9c68b,#e0c693,#d5c896,#c7ca9a,#b6cb9e,#a5cba6,#92cbab,#7dcaae,#67c8b1,#51c5b3,#3dc3b5,#37c1bb,#33c0c0,#2fbfc4,#2bbec8,#2abdcc,#29bcd0,#28bbd3,#27bad6,#26b9d9,#25b8dc,#25b7de,#25b7df,#25b7e1)"></div><div style="top:339px;height:4px;background:linear-gradient(90deg,#f4e43d,#f4e43c,#f4e43d,#f3e23e,#f3e040,#f4db47,#f7d455,#f8ce69,#f6cc79,#f3ca7e,#f2c881,#efc785,#eac68b,#e1c692,#d6c896,#c9c99a,#b9cb9d,#a8cba5,#96cbab,#81caae,#6cc9b0,#56c6b2,#44c4b4,#3ac2b8,#35c1bd,#31bfc2,#2dbec6,#2bbdc9,#2abccd,#29bbd0,#28bad4,#27bad7,#26b9da,#25b8dc,#25b7de,#25b7df)"></div><div style="top:343px;height:4px;background:linear-gradient(90deg,#f4e43d,#f4e43c,#f4e43d,#f3e23e,#f3e040,#f4db47,#f7d455,#f8ce68,#f6cc78,#f4ca7d,#f2c980,#f0c784,#ebc68a,#e2c691,#d8c796,#cbc999,#bbcb9d,#aacba4,#99cbaa,#84caad,#71cab0,#5cc7b2,#4ac5b4,#3cc3b6,#38c1ba,#34c0bf,#30bfc3,#2cbec7,#2abdca,#29bcce,#28bbd1,#27bad4,#27bad7,#26b9da,#25b8dc,#25b7de)"></div><div style="top:347px;height:4px;background:linear-gradient(90deg,#f4e43d,#f4e43c,#f4e43d,#f3e23e,#f3e040,#f4db46,#f7d454,#f8cf67,#f7cc77,#f4ca7c,#f2c980,#f0c784,#ecc689,#e3c690,#d9c795,#cdc999,#bdcb9c,#accba2,#9ccbaa,#87caad,#75caaf,#62c8b1,#51c5b3,#42c3b5,#3ac2b8,#36c1bc,#33c0c0,#2fbfc4,#2bbec8,#2abdcb,#29bcce,#28bbd1,#27bad4,#27bad7,#26b9da,#25b8dc)"></div><div style="top:351px;height:4px;background:linear-gradient(90deg,#f4e43d,#f4e43c,#f4e43d,#f3e23e,#f3e040,#f4db46,#f7d454,#f8cf66,#f7cd75,#f5cb7b,#f3c97f,#f1c883,#ecc688,#e4c68f,#dac795,#cfc998,#bfcb9c,#afcba1,#9fcba9,#8bcaac,#79caaf,#67c8b1,#58c6b2,#4ac4b4,#3dc3b5,#39c2b9,#35c1be,#31bfc1,#2ebec5,#2bbdc9,#2abdcc,#29bccf,#28bbd2,#27bad4,#27b9d7,#26b9da)"></div><div style="top:355px;height:4px;background:linear-gradient(90deg,#f4e43d,#f4e43c,#f4e43d,#f3e23e,#f3e040,#f4dc46,#f7d554,#f8cf65,#f7cd74,#f5cb7a,#f3ca7e,#f1c882,#edc688,#e5c68e,#dcc794,#d0c998,#c1ca9b,#b1cba0,#a1cba8,#8ecbac,#7ccaae,#6dc9b0,#5ec7b2,#51c5b3,#45c4b4,#3bc2b7,#38c1bb,#34c0bf,#30bfc3,#2dbec6,#2bbdc9,#2abccc,#29bccf,#28bbd2,#27bad5,#26b9d8)"></div><div style="top:359px;height:4px;background:linear-gradient(90deg,#f4e43d,#f4e43c,#f4e43d,#f3e23e,#f3e040,#f4dc46,#f7d553,#f8cf64,#f7cd72,#f6cc79,#f4ca7d,#f1c882,#eec687,#e6c68e,#ddc794,#d2c897,#c3ca9b,#b3cba0,#a3cba7,#91cbab,#80caae,#72cab0,#65c8b1,#59c6b2,#4dc5b3,#40c3b5,#3ac2b8,#36c1bc,#33c0c0,#2fbfc3,#2dbec7,#2bbdc9,#2abccc,#29bccf,#28bbd2,#27bad5)"></div><div style="top:363px;height:4px;background:linear-gradient(90deg,#f4e43d,#f4e43c,#f4e43d,#f3e23e,#f3e040,#f4dc46,#f6d553,#f8cf63,#f7cd71,#f6cc78,#f4ca7c,#f2c881,#eec687,#e7c68d,#dec794,#d3c897,#c5ca9b,#b5cb9f,#a5cba6,#94cbab,#83caad,#77caaf,#6bc9b0,#60c7b1,#54c6b3,#48c4b4,#3cc3b6,#38c2ba,#35c0be,#32c0c1,#2fbfc4,#2cbec7,#2bbdca,#2abccc,#29bccf,#28bbd3)"></div><div style="top:367px;height:4px;background:linear-gradient(90deg,#f4e43d,#f4e43c,#f4e43d,#f3e23e,#f3e040,#f4dc46,#f6d552,#f8cf62,#f7cd70,#f7cc78,#f5cb7c,#f2c980,#efc686,#e8c68c,#dfc693,#d4c897,#c6ca9a,#b7cb9e,#a7cba5,#97cbaa,#86caad,#7bcaae,#71cab0,#67c8b1,#5bc7b2,#4fc5b3,#42c3b5,#3bc2b7,#37c1bb,#34c0be,#31bfc1,#2fbfc4,#2cbec7,#2bbdca,#2abccd,#29bbd0)"></div><div style="top:371px;height:4px;background:linear-gradient(90deg,#f4e43d,#f4e43c,#f4e43d,#f3e23e,#f3e040,#f4dc46,#f6d552,#f8cf61,#f7ce6e,#f7cd76,#f5cb7b,#f2c980,#efc686,#e8c68c,#e0c693,#d5c896,#c8ca9a,#b9cb9d,#a9cba4,#9acbaa,#8acaac,#7ecaae,#76caaf,#6dc9b0,#63c8b1,#56c6b2,#4ac4b4,#3dc3b5,#3ac2b9,#37c1bc,#34c0bf,#31bfc1,#2fbfc4,#2cbec7,#2abdca,#29bcce)"></div><div style="top:375px;height:4px;background:linear-gradient(90deg,#f4e43d,#f4e43c,#f4e43d,#f3e23e,#f3e040,#f4dc46,#f6d652,#f8d060,#f7ce6d,#f7cd75,#f5cb7a,#f3c97f,#f0c785,#e9c68b,#e1c692,#d6c896,#cac999,#bbcb9d,#abcba3,#9dcba9,#8dcbac,#82caad,#7acaae,#74caaf,#69c9b0,#5dc7b2,#51c5b3,#44c4b4,#3cc2b6,#39c2b9,#36c1bc,#34c0bf,#31bfc2,#2fbfc4,#2cbec7,#2abdcb)"></div><div style="top:379px;height:4px;background:linear-gradient(90deg,#f4e43d,#f4e43c,#f4e43d,#f3e23e,#f3e040,#f4dc46,#f6d651,#f8d05f,#f7ce6b,#f7cd73,#f6cc79,#f3c97f,#f0c784,#eac68b,#e1c692,#d7c896,#cbc999,#bdcb9c,#adcba2,#9fcba8,#90cbab,#86caad,#7fcaae,#78caaf,#70cab0,#64c8b1,#58c6b2,#4cc5b4,#41c3b5,#3bc2b7,#39c2ba,#36c1bc,#34c0bf,#31bfc2,#2ebfc5,#2bbec8)"></div><div style="top:383px;height:4px;background:linear-gradient(90deg,#f4e43d,#f4e43c,#f4e43d,#f3e23e,#f3e040,#f4dc46,#f6d651,#f8d05e,#f8ce6a,#f7cd72,#f6cc79,#f3ca7e,#f0c784,#eac68a,#e2c691,#d8c795,#cdc999,#becb9c,#afcba1,#a1cba8,#93cbab,#89caac,#83caad,#7dcaae,#76caaf,#6bc9b0,#5ec7b2,#53c6b3,#48c4b4,#3fc3b5,#3bc2b7,#39c2ba,#36c1bc,#34c0bf,#31bfc2,#2dbec6)"></div><div style="top:387px;height:4px;background:linear-gradient(90deg,#f4e43d,#f4e43c,#f4e43d,#f3e23e,#f3e040,#f4dc46,#f6d650,#f8d05d,#f8ce69,#f7cd71,#f6cc78,#f4ca7d,#f1c783,#ebc689,#e3c690,#d9c795,#cec998,#c0cb9c,#b1cba1,#a3cba7,#97cbaa,#8dcbac,#86caad,#81caae,#7acaaf,#71cab0,#65c8b1,#59c7b2,#4fc5b3,#46c4b4,#3ec3b5,#3bc2b7,#39c2ba,#36c1bc,#33c0bf,#30bfc3)"></div><div style="top:391px;height:4px;background:linear-gradient(90deg,#f4e43d,#f4e43c,#f4e43d,#f3e23e,#f3e040,#f4dc46,#f6d750,#f8d05c,#f8cf67,#f7cd6f,#f7cc77,#f4ca7d,#f1c883,#ecc689,#e4c690,#dac795,#d0c998,#c1ca9b,#b3cba0,#a5cba6,#9acbaa,#90cbab,#8acaac,#85caad,#7ecaae,#76caaf,#6bc9b0,#60c7b1,#56c6b2,#4dc5b3,#46c4b4,#3ec3b5,#3bc2b7,#39c2ba,#36c1bd,#33c0c0)"></div><div style="top:395px;height:4px;background:linear-gradient(90deg,#f4e43d,#f4e43c,#f4e43d,#f3e23e,#f3e040,#f4dc45,#f6d74f,#f8d15b,#f8cf66,#f7ce6e,#f7cd76,#f4ca7c,#f1c882,#ecc688,#e4c68f,#dbc795,#d1c998,#c3ca9b,#b4cb9f,#a7cba5,#9dcba9,#94cbab,#8dcbac,#88caac,#82caad,#7acaae,#71cab0,#67c8b1,#5dc7b2,#55c6b3,#4dc5b3,#46c4b4,#3fc3b5,#3bc2b7,#39c2ba,#36c1bd)"></div><div style="top:399px;height:4px;background:linear-gradient(90deg,#f4e43d,#f4e43c,#f4e43d,#f3e23e,#f3e040,#f4dc45,#f6d74f,#f8d15a,#f8cf65,#f7ce6d,#f7cd75,#f5cb7b,#f2c881,#edc688,#e5c68f,#dcc794,#d2c897,#c4ca9b,#b6cb9e,#a9cba4,#9fcba8,#97cbaa,#91cbab,#8ccbac,#86caad,#7ecaae,#77caaf,#6dc9b0,#64c8b1,#5cc7b2,#54c6b3,#4dc5b3,#46c4b4,#3fc3b5,#3bc2b7,#39c2ba)"></div><div style="top:403px;height:4px;background:linear-gradient(90deg,#f4e43d,#f4e43c,#f4e43d,#f3e23e,#f3e040,#f4dc45,#f6d74e,#f8d259,#f8cf63,#f7ce6c,#f7cd74,#f5cb7b,#f2c881,#eec687,#e6c68e,#ddc794,#d3c897,#c5ca9a,#b8cb9d,#abcba3,#a1cba7,#9bcbaa,#94cbab,#8fcbab,#89caac,#82caad,#7bcaae,#74caaf,#6bc9b0,#63c8b1,#5cc7b2,#55c6b3,#4ec5b3,#47c4b4,#40c3b5,#3bc2b7)"></div><div style="top:407px;height:4px;background:linear-gradient(90deg,#f4e43d,#f4e43c,#f4e43d,#f3e23e,#f3e040,#f4dd44,#f5d84d,#f7d258,#f8cf62,#f8ce6b,#f7cd73,#f5cb7a,#f2c980,#eec687,#e6c68d,#dec794,#d4c897,#c7ca9a,#b9cb9d,#adcba2,#a4cba6,#9ecba9,#98cbaa,#92cbab,#8dcbac,#86caad,#7fcaae,#79caaf,#72cab0,#6ac9b0,#63c8b1,#5cc7b2,#56c6b3,#4fc5b3,#48c4b4,#41c3b5)"></div><div style="top:411px;height:4px;background:linear-gradient(90deg,#f4e43d,#f4e43c,#f4e43d,#f3e23e,#f3e03f,#f4dd44,#f5d84d,#f7d357,#f8d061,#f8ce69,#f7cd72,#f6cc79,#f3c97f,#efc686,#e7c68d,#dec694,#d5c897,#c8ca9a,#bbcb9d,#afcba1,#a6cba5,#a0cba8,#9bcbaa,#96cbab,#90cbab,#8acaac,#84caad,#7ecaae,#78caaf,#71cab0,#6ac9b0,#64c8b1,#5ec7b2,#57c6b2,#51c5b3,#4bc5b4)"></div><div style="top:415px;height:4px;background:linear-gradient(90deg,#f4e43d,#f4e43c,#f4e43d,#f3e23e,#f3e03f,#f4dd44,#f5d84c,#f7d356,#f8d060,#f8ce68,#f7cd71,#f6cc79,#f3c97f,#efc686,#e8c68c,#dfc693,#d6c896,#cac999,#bdcb9c,#b2cba0,#a9cba4,#a3cba7,#9ecba9,#99cbaa,#94cbab,#8ecbac,#88caac,#82caad,#7dcaae,#78caaf,#72cab0,#6cc9b0,#65c8b1,#5fc7b2,#5ac7b2,#54c6b3)"></div><div style="top:419px;height:4px;background:linear-gradient(90deg,#f4e43d,#f4e43c,#f4e43d,#f4e23e,#f3e03f,#f4dd44,#f5d94c,#f7d455,#f8d05f,#f8cf67,#f7cd70,#f6cc78,#f3ca7e,#f0c785,#e9c68c,#e0c693,#d7c896,#cbc999,#bfcb9c,#b4cb9f,#accba3,#a5cba6,#a0cba8,#9dcba9,#97cbaa,#92cbab,#8dcbac,#87caad,#82caad,#7dcaae,#78caaf,#73caaf,#6dc9b0,#68c8b1,#62c8b1,#5ec7b2)"></div><div style="top:423px;height:4px;background:linear-gradient(90deg,#f4e43d,#f4e43c,#f4e43d,#f4e23e,#f3e03f,#f4dd43,#f5d94b,#f7d454,#f8d05d,#f8cf66,#f7ce6e,#f7cc77,#f4ca7d,#f0c784,#e9c68b,#e1c692,#d8c796,#cdc999,#c0ca9c,#b7cb9e,#aecba2,#a8cba4,#a3cba7,#9fcba8,#9bcbaa,#96cbaa,#91cbab,#8ccbac,#87caad,#83caad,#7ecaae,#79caaf,#75caaf,#70cab0,#6bc9b0,#67c8b1)"></div><div style="top:427px;height:4px;background:linear-gradient(90deg,#f4e43d,#f4e43c,#f4e43d,#f4e23e,#f3e03f,#f3dd43,#f5d94b,#f7d553,#f8d05c,#f8cf65,#f7ce6d,#f7cd76,#f4ca7d,#f0c784,#eac68a,#e2c691,#d9c795,#cfc998,#c2ca9b,#b9cb9d,#b1cba0,#abcba3,#a6cba5,#a2cba7,#9ecba9,#9acbaa,#96cbab,#91cbab,#8dcbac,#88caac,#84caad,#7fcaae,#7bcaae,#77caaf,#74caaf,#71cab0)"></div><div style="top:431px;height:4px;background:linear-gradient(90deg,#f4e43d,#f4e43c,#f4e43d,#f4e23e,#f3e13f,#f3de42,#f5da4a,#f6d552,#f8d15b,#f8cf64,#f7ce6c,#f7cd75,#f4cb7c,#f1c883,#ebc68a,#e3c690,#dac795,#d0c998,#c5ca9b,#bccb9d,#b4cb9f,#aecba2,#a9cba4,#a4cba6,#a1cba8,#9ecba9,#9bcbaa,#97cbaa,#92cbab,#8ecbac,#89caac,#85caad,#81caae,#7dcaae,#7bcaae,#79caaf)"></div><div style="top:435px;height:4px;background:linear-gradient(90deg,#f4e43d,#f4e43c,#f4e43d,#f4e33e,#f3e13f,#f3de42,#f5da49,#f6d652,#f8d15a,#f8cf63,#f7ce6b,#f7cd74,#f5cb7b,#f1c882,#ecc689,#e4c690,#dbc795,#d1c898,#c7ca9a,#becb9c,#b7cb9e,#b1cba0,#accba3,#a7cba5,#a4cba6,#a1cba8,#9fcba9,#9ccbaa,#98cbaa,#94cbab,#8fcbab,#8bcaac,#87caad,#83caad,#81caae,#80caae)"></div><div style="top:439px;height:4px;background:linear-gradient(90deg,#f4e43d,#f4e43c,#f4e43d,#f4e33e,#f3e13f,#f3de42,#f5da49,#f6d651,#f8d259,#f8cf62,#f8ce6a,#f7cd72,#f5cb7a,#f2c881,#ecc688,#e5c68f,#dcc794,#d3c897,#c9c99a,#c1ca9b,#bacb9d,#b4cb9f,#afcba1,#aacba3,#a7cba5,#a4cba6,#a2cba7,#a0cba8,#9dcba9,#9acbaa,#95cbab,#91cbab,#8dcbac,#8acaac,#88caad,#87caad)"></div><div style="top:443px;height:4px;background:linear-gradient(90deg,#f4e43d,#f4e43c,#f4e43d,#f4e33d,#f3e13f,#f3de41,#f5da48,#f6d750,#f7d258,#f8d061,#f8ce69,#f7cd71,#f6cc79,#f2c981,#edc688,#e6c68e,#dec794,#d4c897,#ccc999,#c4ca9b,#becb9c,#b8cb9e,#b2cba0,#aecba2,#aacba3,#a8cba4,#a6cba5,#a4cba6,#a1cba7,#9fcba9,#9bcbaa,#97cbaa,#93cbab,#90cbab,#8ecbac,#8ecbac)"></div><div style="top:447px;height:4px;background:linear-gradient(90deg,#f4e43d,#f4e43c,#f4e43d,#f4e33d,#f3e13f,#f3de41,#f4db48,#f6d74f,#f7d357,#f8d060,#f8cf68,#f7cd70,#f6cc79,#f2c980,#eec687,#e7c68d,#dfc693,#d6c896,#cec998,#c7ca9a,#c1ca9b,#bbcb9d,#b6cb9e,#b1cba0,#aecba2,#accba3,#aacba4,#a8cba4,#a6cba5,#a3cba7,#a0cba8,#9dcba9,#99cbaa,#96cbaa,#95cbab,#94cbab)"></div><div style="top:451px;height:4px;background:linear-gradient(90deg,#f4e43d,#f4e43c,#f4e43d,#f4e33d,#f3e13f,#f3df41,#f4db47,#f6d74e,#f7d356,#f8d05f,#f8cf67,#f7ce6f,#f7cc78,#f3c97f,#efc686,#e8c68c,#e0c692,#d8c796,#d1c998,#cac999,#c4ca9b,#bfcb9c,#bacb9d,#b5cb9f,#b2cba0,#b0cba1,#aecba2,#accba3,#aacba4,#a7cba5,#a4cba6,#a1cba7,#9fcba9,#9dcba9,#9bcbaa,#9bcbaa)"></div><div style="top:455px;height:4px;background:linear-gradient(90deg,#f4e43d,#f4e43c,#f4e43d,#f4e33d,#f3e13f,#f3df41,#f4db47,#f5d84e,#f7d455,#f8d05e,#f8cf66,#f7ce6d,#f7cc77,#f3ca7e,#f0c785,#e9c68b,#e2c691,#dac795,#d3c897,#cec999,#c8ca9a,#c2ca9b,#bdcb9c,#b9cb9d,#b6cb9e,#b4cb9f,#b2cba0,#b1cba1,#aecba2,#accba3,#a9cba4,#a6cba5,#a3cba7,#a1cba8,#a0cba8,#a0cba8)"></div><div style="top:459px;height:4px;background:linear-gradient(90deg,#f4e43d,#f4e43c,#f4e43d,#f4e33d,#f3e13f,#f3df40,#f4dc46,#f5d84d,#f7d454,#f8d05d,#f8cf65,#f7ce6c,#f7cd75,#f4ca7d,#f0c784,#ebc68a,#e4c690,#dcc794,#d5c896,#d1c998,#ccc999,#c6ca9a,#c1ca9b,#bdcb9c,#bacb9d,#b8cb9d,#b7cb9e,#b5cb9f,#b3cba0,#b0cba1,#adcba2,#aacba3,#a8cba5,#a5cba6,#a4cba6,#a4cba6)"></div><div style="top:463px;height:4px;background:linear-gradient(90deg,#f4e43d,#f4e43c,#f4e43d,#f4e33d,#f3e13f,#f3df40,#f4dc46,#f5d84c,#f7d553,#f8d15c,#f8cf64,#f8ce6b,#f7cd74,#f4ca7c,#f1c883,#ecc689,#e5c68e,#dec794,#d8c896,#d3c897,#cfc998,#cac999,#c6ca9a,#c1ca9b,#bfcb9c,#bdcb9c,#bbcb9d,#bacb9d,#b8cb9e,#b5cb9f,#b2cba0,#afcba1,#accba3,#aacba4,#a9cba4,#a9cba4)"></div><div style="top:467px;height:4px;background:linear-gradient(90deg,#f4e43d,#f4e43d,#f4e43d,#f4e33d,#f3e13e,#f3df40,#f4dc45,#f5d94c,#f6d553,#f8d15b,#f8cf62,#f8ce69,#f7cd72,#f5cb7b,#f1c882,#eec687,#e7c68d,#e0c693,#dac795,#d6c896,#d2c897,#cfc998,#cac999,#c6ca9a,#c3ca9b,#c1ca9b,#bfcb9c,#becb9c,#bccb9d,#b9cb9d,#b6cb9e,#b3cb9f,#b1cba1,#aecba2,#adcba2,#adcba2)"></div><div style="top:471px;height:4px;background:linear-gradient(90deg,#f4e43d,#f4e43d,#f4e43d,#f4e33d,#f3e13e,#f3df40,#f4dc45,#f5d94b,#f6d552,#f8d15a,#f8cf61,#f8ce68,#f7cd71,#f5cb7a,#f2c980,#efc686,#e9c68c,#e2c691,#ddc794,#d9c795,#d5c896,#d2c897,#cec998,#cac999,#c7ca9a,#c5ca9a,#c4ca9b,#c2ca9b,#c0ca9c,#becb9c,#bbcb9d,#b8cb9d,#b5cb9f,#b3cba0,#b1cba0,#b1cba0)"></div><div style="top:475px;height:4px;background:linear-gradient(90deg,#f4e43d,#f4e43d,#f4e43d,#f4e33d,#f3e23e,#f3df40,#f4dc45,#f5d94a,#f6d651,#f8d259,#f8d060,#f8cf67,#f7cd6f,#f6cc79,#f3c97f,#f0c785,#eac68a,#e4c68f,#dfc693,#dbc794,#d8c795,#d5c896,#d2c897,#cfc998,#ccc999,#cac999,#c8ca9a,#c7ca9a,#c4ca9b,#c2ca9b,#bfcb9c,#bccb9d,#bacb9d,#b7cb9e,#b6cb9e,#b5cb9f)"></div><div style="top:479px;height:4px;background:linear-gradient(90deg,#f4e43d,#f4e43d,#f4e43d,#f4e33d,#f3e23e,#f3e040,#f4dd44,#f5da4a,#f6d650,#f7d258,#f8d05f,#f8cf66,#f7ce6e,#f6cc78,#f3ca7e,#f0c783,#ecc689,#e6c68d,#e2c691,#dec694,#dbc795,#d8c796,#d5c896,#d2c897,#d0c998,#cfc998,#cdc999,#cbc999,#c9ca9a,#c6ca9a,#c3ca9b,#c0ca9c,#becb9c,#bbcb9d,#bacb9d,#b9cb9d)"></div><div style="top:483px;height:4px;background:linear-gradient(90deg,#f4e43d,#f4e43d,#f4e43d,#f4e33d,#f3e23e,#f3e040,#f4dd44,#f5da49,#f6d750,#f7d357,#f8d05e,#f8cf65,#f7ce6d,#f7cc77,#f4ca7d,#f1c882,#eec687,#e9c68c,#e4c68f,#e1c692,#dec794,#dbc795,#d8c795,#d6c896,#d4c897,#d2c897,#d1c998,#cfc998,#cdc999,#cac999,#c7ca9a,#c4ca9b,#c2ca9b,#bfcb9c,#bdcb9c,#bccb9c)"></div><div style="top:487px;height:4px;background:linear-gradient(90deg,#f4e43d,#f4e43d,#f4e43d,#f4e33d,#f3e23e,#f3e040,#f4dd44,#f5da49,#f6d74f,#f7d356,#f8d05d,#f8cf63,#f7ce6b,#f7cd75,#f5cb7b,#f2c981,#efc686,#ebc68a,#e7c68d,#e3c690,#e1c692,#dec794,#dbc795,#d9c795,#d7c896,#d5c896,#d4c897,#d2c897,#d0c998,#cec998,#cbc999,#c8ca9a,#c6ca9a,#c3ca9b,#c1ca9b,#c0cb9c)"></div><div style="top:491px;height:4px;background:linear-gradient(90deg,#f4e43d,#f4e43d,#f4e43d,#f4e33d,#f3e23e,#f3e040,#f4dd43,#f5da48,#f6d74e,#f7d455,#f8d05c,#f8cf62,#f8ce6a,#f7cd73,#f5cb7a,#f3c97f,#f0c784,#edc688,#e9c68b,#e6c68e,#e3c690,#e1c692,#dec694,#dcc794,#dac795,#d8c795,#d7c896,#d5c896,#d3c897,#d1c898,#cfc998,#ccc999,#c9c99a,#c7ca9a,#c5ca9b,#c3ca9b)"></div><div style="top:495px;height:4px;background:linear-gradient(90deg,#f4e43d,#f4e43d,#f4e43d,#f4e33d,#f3e23e,#f3e040,#f4dd43,#f4db48,#f5d84e,#f7d454,#f8d15b,#f8d061,#f8ce68,#f7cd71,#f6cc79,#f3ca7e,#f1c882,#efc686,#ebc689,#e8c68c,#e6c68e,#e3c690,#e1c692,#dfc693,#ddc794,#dbc794,#dac795,#d8c796,#d6c896,#d4c897,#d2c897,#d0c998,#cdc999,#cbc999,#c8ca9a,#c6ca9a)"></div><div style="top:499px;height:4px;background:linear-gradient(90deg,#f4e43d,#f4e43d,#f4e43d,#f4e33d,#f3e23e,#f3e040,#f3de43,#f4db47,#f5d84d,#f7d554,#f8d15a,#f8d060,#f8cf67,#f7cd70,#f7cc78,#f4ca7c,#f2c981,#f0c784,#eec687,#ebc68a,#e8c68c,#e6c68e,#e4c690,#e2c691,#e0c693,#dec694,#ddc794,#dbc795,#d9c795,#d7c896,#d5c897,#d3c897,#d0c998,#cec998,#ccc999,#cac999)"></div><div style="top:503px;height:4px;background:linear-gradient(90deg,#f4e43d,#f4e43d,#f4e43d,#f4e33d,#f3e23e,#f3e03f,#f3de42,#f4db47,#f5d84c,#f6d553,#f8d259,#f8d05f,#f8cf66,#f7ce6e,#f7cd76,#f5cb7b,#f3c97f,#f1c882,#efc785,#edc688,#ebc68a,#e9c68c,#e7c68d,#e5c68f,#e3c690,#e1c692,#dfc693,#ddc794,#dbc794,#d9c795,#d7c896,#d5c896,#d3c897,#d1c898,#cfc998,#cdc999)"></div><div style="top:507px;height:4px;background:linear-gradient(90deg,#f4e43d,#f4e43d,#f4e43d,#f4e33d,#f3e23e,#f3e03f,#f3de42,#f4db47,#f5d94c,#f6d552,#f7d258,#f8d05e,#f8cf65,#f7ce6c,#f7cd74,#f5cb7a,#f4ca7e,#f2c981,#f0c783,#efc686,#edc688,#ebc68a,#e9c68b,#e7c68d,#e6c68e,#e4c690,#e2c691,#e0c693,#dec794,#dcc794,#dac795,#d8c796,#d5c896,#d3c897,#d1c898,#d0c998)"></div><div style="top:511px;height:4px;background:linear-gradient(90deg,#f4e43d,#f4e43d,#f4e43d,#f4e33d,#f3e23e,#f3e03f,#f3de42,#f4dc46,#f5d94b,#f6d651,#f7d357,#f8d05d,#f8cf63,#f8ce6b,#f7cd73,#f6cc79,#f4ca7c,#f3c97f,#f1c882,#f0c784,#efc686,#edc688,#ebc689,#eac68b,#e8c68c,#e6c68e,#e4c68f,#e2c691,#e0c693,#dec794,#dcc794,#dac795,#d8c796,#d6c896,#d4c897,#d2c897)"></div><div style="top:515px;height:4px;background:linear-gradient(90deg,#f4e43d,#f4e43d,#f4e43d,#f4e33d,#f3e23e,#f3e03f,#f3de41,#f4dc46,#f5d94b,#f6d651,#f7d356,#f8d05c,#f8cf62,#f8ce69,#f7cd71,#f7cc78,#f5cb7b,#f4ca7d,#f2c980,#f1c882,#f0c784,#efc686,#eec687,#ecc689,#eac68a,#e8c68c,#e6c68d,#e4c68f,#e2c691,#e0c693,#dec694,#dcc794,#dac795,#d8c795,#d6c896,#d4c897)"></div><div style="top:519px;height:4px;background:linear-gradient(90deg,#f4e43d,#f4e43d,#f4e43d,#f4e33d,#f3e23e,#f3e13f,#f3de41,#f4dc45,#f5da4a,#f6d750,#f7d456,#f8d15b,#f8cf61,#f8ce68,#f7cd6f,#f7cd76,#f6cb7a,#f4ca7c,#f3ca7e,#f2c981,#f1c883,#f0c784,#efc686,#eec687,#ecc688,#eac68a,#e8c68c,#e6c68e,#e4c68f,#e2c691,#e0c693,#dec694,#dcc794,#dac795,#d8c795,#d6c896)"></div><div style="top:523px;height:4px;background:linear-gradient(90deg,#f4e43d,#f4e43d,#f4e43d,#f4e33d,#f4e23e,#f3e13f,#f3df41,#f4dc45,#f5da4a,#f6d74f,#f7d455,#f8d15a,#f8d060,#f8cf67,#f7ce6e,#f7cd75,#f6cc79,#f5cb7b,#f4ca7d,#f3c97f,#f2c881,#f1c883,#f0c784,#efc785,#eec687,#ecc688,#eac68a,#e8c68c,#e6c68e,#e4c68f,#e2c691,#e0c693,#dec694,#dcc794,#dac795,#d8c796)"></div><div style="top:527px;height:4px;background:linear-gradient(90deg,#f4e43d,#f4e43d,#f4e43d,#f4e33d,#f4e23e,#f3e13f,#f3df41,#f4dd45,#f5da49,#f6d74f,#f7d454,#f8d25a,#f8d05f,#f8cf66,#f7ce6d,#f7cd73,#f6cc78,#f6cb7a,#f5cb7c,#f3ca7e,#f2c980,#f2c881,#f1c883,#f0c784,#efc785,#eec687,#ecc689,#eac68b,#e8c68c,#e6c68e,#e4c690,#e2c691,#e0c693,#dec694,#dcc794,#dac795)"></div><div style="top:531px;height:4px;background:linear-gradient(90deg,#f4e43d,#f4e43d,#f4e43d,#f4e43d,#f4e33e,#f3e13f,#f3df40,#f4dd44,#f5da49,#f6d84e,#f7d554,#f8d259,#f8d05e,#f8cf64,#f7ce6b,#f7cd72,#f7cc77,#f6cc79,#f5cb7b,#f4ca7d,#f3c97f,#f2c980,#f2c881,#f1c883,#f0c784,#efc686,#edc688,#ebc689,#e9c68b,#e7c68d,#e6c68e,#e4c690,#e2c691,#e0c693,#dec794,#dcc794)"></div><div style="top:535px;height:4px;background:linear-gradient(90deg,#f4e43c,#f4e43d,#f4e43d,#f4e43d,#f4e33d,#f3e13f,#f3df40,#f4dd44,#f4db48,#f5d84d,#f6d553,#f7d258,#f8d05e,#f8cf63,#f8ce6a,#f7cd71,#f7cd76,#f6cc78,#f6cb7a,#f4ca7c,#f3ca7e,#f3c97f,#f2c980,#f2c881,#f1c883,#f0c785,#efc686,#edc688,#ebc68a,#e9c68b,#e7c68d,#e5c68e,#e4c690,#e2c691,#e0c693,#dec794)"></div><div style="top:539px;height:4px;background:linear-gradient(90deg,#f4e43c,#f4e43d,#f4e43d,#f4e43d,#f4e33d,#f3e13f,#f3df40,#f4dd43,#f4db48,#f5d84d,#f6d552,#f7d358,#f8d05d,#f8cf62,#f8ce69,#f7cd70,#f7cd75,#f7cc77,#f6cc79,#f5cb7b,#f4ca7d,#f3ca7e,#f3c97f,#f2c980,#f1c882,#f0c783,#efc785,#eec687,#ecc689,#eac68a,#e8c68c,#e7c68d,#e5c68e,#e3c690,#e2c691,#e0c693)"></div><div style="top:543px;height:4px;background:linear-gradient(90deg,#f4e43c,#f4e43d,#f4e43d,#f4e43d,#f4e33d,#f3e13f,#f3df40,#f3dd43,#f4db47,#f5d84c,#f6d652,#f7d357,#f8d05c,#f8cf61,#f8ce68,#f7cd6f,#f7cd74,#f7cd76,#f6cc78,#f5cb7a,#f4ca7c,#f4ca7d,#f3c97e,#f3c97f,#f2c981,#f1c882,#f0c784,#efc686,#edc688,#ecc689,#eac68b,#e8c68c,#e7c68d,#e5c68f,#e3c690,#e2c691)"></div><div style="top:547px;height:4px;background:linear-gradient(90deg,#f4e43c,#f4e43c,#f4e43c,#f4e43d,#f4e33d,#f3e13f,#f3df40,#f3de42,#f4db47,#f5d94c,#f6d651,#f7d356,#f8d15b,#f8d060,#f8cf67,#f7ce6e,#f7cd73,#f7cd75,#f7cc78,#f5cb7a,#f5cb7c,#f4ca7d,#f3ca7e,#f3c97f,#f2c980,#f2c881,#f1c783,#f0c785,#eec687,#edc688,#ebc689,#eac68b,#e8c68c,#e7c68d,#e5c68e,#e4c690)"></div><div style="top:551px;height:4px;background:linear-gradient(90deg,#f4e43c,#f4e43c,#f4e43c,#f4e43d,#f4e33d,#f3e13e,#f3e040,#f3de42,#f4dc46,#f5d94b,#f6d651,#f7d456,#f8d15a,#f8d05f,#f8cf66,#f7ce6d,#f7cd72,#f7cd75,#f7cc77,#f6cc79,#f5cb7b,#f4ca7c,#f4ca7d,#f3ca7e,#f3c97f,#f2c981,#f1c882,#f0c784,#efc686,#eec687,#edc688,#ebc689,#eac68b,#e8c68c,#e7c68d,#e5c68e)"></div><div style="top:555px;height:4px;background:linear-gradient(90deg,#f4e43c,#f4e43c,#f4e43c,#f4e43d,#f4e33d,#f3e13e,#f3e040,#f3de42,#f4dc46,#f5d94b,#f6d650,#f7d455,#f8d25a,#f8d05f,#f8cf65,#f7ce6d,#f7cd72,#f7cd74,#f7cd76,#f6cc79,#f5cb7a,#f5cb7c,#f4ca7c,#f4ca7d,#f3ca7e,#f2c980,#f2c881,#f1c883,#f0c784,#efc686,#eec687,#edc688,#ebc689,#eac68a,#e9c68c,#e7c68d)"></div><div style="top:559px;height:4px;background:linear-gradient(90deg,#f4e43c,#f4e43c,#f4e43c,#f4e43d,#f4e33d,#f3e23e,#f3e040,#f3de41,#f4dc45,#f5da4a,#f6d74f,#f7d454,#f8d259,#f8d05e,#f8cf64,#f7ce6c,#f7cd71,#f7cd73,#f7cd75,#f6cc78,#f5cb7a,#f5cb7b,#f5cb7c,#f4ca7c,#f4ca7e,#f3c97f,#f2c980,#f1c882,#f0c783,#f0c785,#efc686,#eec687,#edc688,#ecc689,#eac68a,#e9c68b)"></div><div style="top:563px;height:4px;background:linear-gradient(90deg,#f4e43c,#f4e43c,#f4e43c,#f4e43c,#f4e33d,#f3e23e,#f3e03f,#f3df41,#f4dd45,#f5da49,#f6d74f,#f7d554,#f7d258,#f8d05d,#f8cf63,#f8ce6b,#f7cd70,#f7cd72,#f7cd75,#f7cc78,#f6cc79,#f5cb7a,#f5cb7b,#f4cb7c,#f4ca7d,#f3ca7e,#f3c97f,#f2c881,#f1c882,#f0c784,#f0c785,#efc686,#eec687,#edc688,#ecc689,#ebc68a)"></div><div style="top:567px;height:4px;background:linear-gradient(90deg,#f4e53c,#f4e43c,#f4e43c,#f4e43c,#f4e33d,#f3e23e,#f3e03f,#f3df40,#f4dd44,#f5da49,#f6d74e,#f6d553,#f7d357,#f8d15c,#f8cf62,#f8ce6a,#f7cd6f,#f7cd71,#f7cd74,#f7cc77,#f6cc79,#f6cb7a,#f5cb7a,#f5cb7b,#f4ca7c,#f4ca7d,#f3c97f,#f2c980,#f2c881,#f1c882,#f0c783,#f0c785,#efc686,#efc686,#eec687,#edc688)"></div><div style="top:571px;height:4px;background:linear-gradient(90deg,#f4e53c,#f4e43c,#f4e43c,#f4e43c,#f4e33d,#f3e23e,#f3e03f,#f3df40,#f4dd43,#f4db48,#f5d84d,#f6d552,#f7d356,#f8d15b,#f8d061,#f8ce69,#f7ce6e,#f7cd70,#f7cd73,#f7cd76,#f6cc78,#f6cc79,#f6cb7a,#f5cb7a,#f5cb7b,#f4ca7c,#f4ca7e,#f3c97f,#f2c980,#f2c881,#f1c882,#f1c883,#f0c784,#f0c785,#efc686,#efc686)"></div><div style="top:575px;height:4px;background:linear-gradient(90deg,#f4e53c,#f4e43c,#f4e43c,#f4e43c,#f4e33d,#f3e23e,#f3e13f,#f3df40,#f3dd43,#f4db48,#f5d84d,#f6d651,#f7d456,#f8d25a,#f8d060,#f8cf68,#f7ce6d,#f7cd6f,#f7cd72,#f7cd75,#f7cc77,#f6cc78,#f6cc79,#f6cb7a,#f5cb7a,#f5cb7b,#f4ca7c,#f4ca7e,#f3c97f,#f2c980,#f2c981,#f1c882,#f1c882,#f1c783,#f0c784,#f0c784)"></div><div style="top:579px;height:4px;background:linear-gradient(90deg,#f4e53c,#f4e43c,#f4e43c,#f4e43c,#f4e33d,#f3e23e,#f3e13f,#f3df40,#f3de42,#f4db47,#f5d94c,#f6d650,#f7d455,#f7d259,#f8d05f,#f8cf66,#f7ce6c,#f7ce6e,#f7cd70,#f7cd73,#f7cd76,#f7cc77,#f6cc78,#f6cc79,#f6cc79,#f5cb7a,#f5cb7b,#f4ca7c,#f4ca7d,#f3ca7e,#f3c97f,#f2c980,#f2c881,#f2c881,#f1c882,#f1c882)"></div><div style="top:583px;height:4px;background:linear-gradient(90deg,#f4e53c,#f4e53c,#f4e43c,#f4e43c,#f4e43d,#f3e23e,#f3e13f,#f3e040,#f3de42,#f4dc46,#f5d94b,#f6d750,#f7d553,#f7d357,#f8d05d,#f8cf65,#f8ce6a,#f7ce6d,#f7ce6f,#f7cd72,#f7cd74,#f7cd76,#f7cc77,#f7cc78,#f6cc78,#f6cc79,#f5cb7a,#f5cb7b,#f4cb7c,#f4ca7d,#f4ca7e,#f3c97e,#f3c97f,#f2c980,#f2c980,#f2c980)"></div><div style="top:587px;height:4px;background:linear-gradient(90deg,#f4e53c,#f4e53c,#f4e43c,#f4e43c,#f4e43d,#f4e23e,#f3e13f,#f3e040,#f3de41,#f4dc45,#f5da4a,#f6d74e,#f6d552,#f7d356,#f8d05c,#f8cf63,#f8ce69,#f8ce6b,#f7ce6d,#f7cd70,#f7cd72,#f7cd74,#f7cd75,#f7cd76,#f7cc77,#f6cc78,#f6cc79,#f6cc7a,#f5cb7a,#f5cb7b,#f4cb7c,#f4ca7d,#f4ca7d,#f3ca7e,#f3ca7e,#f3ca7e)"></div><div style="top:591px;height:4px;background:linear-gradient(90deg,#f4e53c,#f4e53c,#f4e53c,#f4e43c,#f4e43d,#f4e33e,#f3e13f,#f3e03f,#f3df41,#f4dd45,#f5da49,#f5d84d,#f6d651,#f7d455,#f8d15a,#f8cf62,#f8cf67,#f8ce69,#f7ce6b,#f7ce6e,#f7cd70,#f7cd72,#f7cd73,#f7cd74,#f7cd75,#f7cd76,#f7cc77,#f6cc78,#f6cc79,#f6cc7a,#f5cb7a,#f5cb7b,#f5cb7b,#f5cb7c,#f4cb7c,#f4cb7c)"></div><div style="top:595px;height:4px;background:linear-gradient(90deg,#f4e53c,#f4e53c,#f4e53c,#f4e43c,#f4e43d,#f4e33d,#f3e13e,#f3e03f,#f3df40,#f4dd44,#f4db48,#f5d84c,#f6d750,#f7d553,#f8d259,#f8d060,#f8cf65,#f8cf67,#f8ce69,#f7ce6c,#f7ce6e,#f7cd70,#f7cd71,#f7cd71,#f7cd72,#f7cd73,#f7cd74,#f7cd76,#f7cc77,#f7cc78,#f6cc78,#f6cc79,#f6cc79,#f6cb7a,#f6cb7a,#f6cb7a)"></div><div style="top:599px;height:4px;background:linear-gradient(90deg,#f4e53b,#f4e53c,#f4e53c,#f4e43c,#f4e43d,#f4e33d,#f3e23e,#f3e13f,#f3df40,#f3dd43,#f4db47,#f5d94b,#f6d74e,#f6d652,#f7d357,#f8d05e,#f8cf63,#f8cf65,#f8cf67,#f8ce69,#f7ce6c,#f7ce6d,#f7ce6e,#f7ce6f,#f7cd70,#f7cd71,#f7cd71,#f7cd73,#f7cd74,#f7cd75,#f7cd76,#f7cc77,#f7cc77,#f7cc78,#f7cc78,#f7cc78)"></div><div style="top:603px;height:4px;background:linear-gradient(90deg,#f4e53b,#f4e53c,#f4e53c,#f4e53c,#f4e43c,#f4e33d,#f3e23e,#f3e13f,#f3e040,#f3de42,#f4dc46,#f5da4a,#f5d84d,#f6d650,#f7d455,#f8d15b,#f8d060,#f8cf62,#f8cf64,#f8cf67,#f8ce69,#f8ce6a,#f7ce6b,#f7ce6c,#f7ce6d,#f7ce6e,#f7ce6e,#f7cd6f,#f7cd70,#f7cd71,#f7cd72,#f7cd73,#f7cd74,#f7cd74,#f7cd74,#f7cd74)"></div><div style="top:607px;height:4px;background:linear-gradient(90deg,#f4e53b,#f4e53c,#f4e53c,#f4e53c,#f4e43c,#f4e33d,#f3e23e,#f3e13f,#f3e040,#f3de41,#f4dc45,#f5db48,#f5d94b,#f6d74e,#f7d553,#f8d259,#f8d05e,#f8d060,#f8cf62,#f8cf64,#f8cf66,#f8cf67,#f8ce68,#f8ce69,#f8ce6a,#f8ce6a,#f8ce6b,#f7ce6c,#f7ce6d,#f7ce6e,#f7ce6f,#f7cd6f,#f7cd70,#f7cd70,#f7cd70,#f7cd70)"></div><div style="top:611px;height:4px;background:linear-gradient(90deg,#f4e63b,#f4e53c,#f4e53c,#f4e53c,#f4e43c,#f4e33d,#f3e23e,#f3e13f,#f3e03f,#f3df40,#f4dd44,#f4db47,#f5da4a,#f5d84d,#f6d651,#f7d357,#f8d15b,#f8d05d,#f8d05f,#f8d061,#f8cf63,#f8cf64,#f8cf65,#f8cf66,#f8cf66,#f8cf67,#f8cf68,#f8ce68,#f8ce69,#f8ce6a,#f8ce6b,#f7ce6c,#f7ce6c,#f7ce6c,#f7ce6c,#f7ce6c)"></div><div style="top:615px;height:4px;background:linear-gradient(90deg,#f4e63b,#f4e53b,#f4e53c,#f4e53c,#f4e43c,#f4e33d,#f4e23e,#f3e23e,#f3e13f,#f3df40,#f3de42,#f4dc45,#f4db48,#f5d94b,#f6d74f,#f7d454,#f7d258,#f8d15a,#f8d05c,#f8d05e,#f8d060,#f8d061,#f8cf62,#f8cf62,#f8cf63,#f8cf64,#f8cf64,#f8cf65,#f8cf66,#f8cf66,#f8cf67,#f8cf68,#f8ce68,#f8ce68,#f8ce68,#f8cf68)"></div><div style="top:619px;height:4px;background:linear-gradient(90deg,#f4e63b,#f4e53b,#f4e53c,#f4e53c,#f4e43c,#f4e33d,#f4e33e,#f3e23e,#f3e13f,#f3e040,#f3de41,#f4dd44,#f4db47,#f5da49,#f5d84d,#f6d652,#f7d455,#f7d357,#f8d259,#f8d15b,#f8d05c,#f8d05d,#f8d05e,#f8d05f,#f8d05f,#f8d060,#f8d060,#f8cf61,#f8cf62,#f8cf63,#f8cf63,#f8cf64,#f8cf64,#f8cf65,#f8cf64,#f8cf64)"></div><div style="top:623px;height:4px;background:linear-gradient(90deg,#f4e63b,#f4e53b,#f4e53c,#f4e53c,#f4e43c,#f4e43d,#f4e33d,#f3e23e,#f3e13f,#f3e03f,#f3df40,#f3de42,#f4dc45,#f4db47,#f5d94b,#f6d74f,#f6d552,#f7d454,#f7d456,#f7d357,#f8d259,#f8d15a,#f8d15b,#f8d15b,#f8d15c,#f8d05c,#f8d05d,#f8d05d,#f8d05e,#f8d05f,#f8d05f,#f8d060,#f8d060,#f8d060,#f8d060,#f8d060)"></div><div style="top:627px;height:4px;background:linear-gradient(90deg,#f4e63b,#f4e53b,#f4e53b,#f4e53c,#f4e43c,#f4e43d,#f4e33d,#f3e23e,#f3e23e,#f3e13f,#f3e040,#f3de41,#f4dd43,#f4dc45,#f5da49,#f5d84c,#f6d74f,#f6d651,#f6d553,#f7d454,#f7d455,#f7d356,#f7d357,#f7d358,#f7d258,#f7d259,#f8d259,#f8d259,#f8d15a,#f8d15b,#f8d15b,#f8d05c,#f8d05c,#f8d05c,#f8d05c,#f8d15c)"></div><div style="top:631px;height:4px;background:linear-gradient(90deg,#f4e63b,#f4e63b,#f4e53b,#f4e53c,#f4e43c,#f4e43d,#f4e33d,#f4e33e,#f3e23e,#f3e13f,#f3e03f,#f3df40,#f3de41,#f4dd44,#f4dc46,#f5da4a,#f5d84c,#f6d84e,#f6d74f,#f6d651,#f6d552,#f6d553,#f7d553,#f7d454,#f7d454,#f7d455,#f7d455,#f7d456,#f7d356,#f7d357,#f7d357,#f7d258,#f7d258,#f7d258,#f7d258,#f7d358)"></div><div style="top:635px;height:4px;background:linear-gradient(90deg,#f4e63b,#f4e63b,#f4e53b,#f4e53c,#f4e53c,#f4e43c,#f4e33d,#f4e33d,#f3e23e,#f3e13e,#f3e13f,#f3e040,#f3df40,#f3de42,#f4dd44,#f4db47,#f5da49,#f5d94b,#f5d94c,#f5d84d,#f6d74e,#f6d74f,#f6d750,#f6d650,#f6d651,#f6d651,#f6d651,#f6d552,#f6d552,#f6d553,#f7d554,#f7d454,#f7d454,#f7d455,#f7d454,#f7d454)"></div><div style="top:639px;height:4px;background:linear-gradient(90deg,#f4e63b,#f4e63b,#f4e53b,#f4e53c,#f4e53c,#f4e43c,#f4e43d,#f4e33d,#f4e33e,#f3e23e,#f3e13f,#f3e03f,#f3e040,#f3df40,#f3de42,#f4dd44,#f4dc46,#f4db48,#f5da49,#f5da4a,#f5d94b,#f5d94c,#f5d84c,#f5d84d,#f5d84d,#f5d84d,#f6d84e,#f6d74e,#f6d74f,#f6d74f,#f6d750,#f6d650,#f6d651,#f6d651,#f6d650,#f6d650)"></div><div style="top:643px;height:4px;background:linear-gradient(90deg,#f4e63b,#f4e63b,#f4e63b,#f4e53c,#f4e53c,#f4e43c,#f4e43d,#f4e33d,#f4e33d,#f3e23e,#f3e23e,#f3e13f,#f3e03f,#f3e040,#f3df40,#f3de42,#f4dd43,#f4dd45,#f4dc46,#f4db47,#f4db47,#f4db48,#f5da49,#f5da49,#f5da49,#f5da4a,#f5da4a,#f5d94a,#f5d94b,#f5d94b,#f5d94c,#f5d84c,#f5d84d,#f5d84d,#f5d84d,#f5d84c)"></div><div style="top:647px;height:4px;background:linear-gradient(90deg,#f4e63b,#f4e63b,#f4e63b,#f4e53b,#f4e53c,#f4e43c,#f4e43d,#f4e43d,#f4e33d,#f4e33d,#f3e23e,#f3e23e,#f3e13f,#f3e03f,#f3e040,#f3df40,#f3df40,#f3de41,#f3de42,#f4dd43,#f4dd44,#f4dd45,#f4dc45,#f4dc46,#f4dc46,#f4dc46,#f4db46,#f4db47,#f4db47,#f4db48,#f5db48,#f5da49,#f5da49,#f5da49,#f5da49,#f5da49)"></div><div style="top:651px;height:4px;background:linear-gradient(90deg,#f4e63b,#f4e63b,#f4e63b,#f4e53b,#f4e53c,#f4e43c,#f4e43c,#f4e43d,#f4e33d,#f4e33d,#f4e33e,#f3e23e,#f3e23e,#f3e13f,#f3e13f,#f3e03f,#f3e040,#f3e040,#f3df40,#f3df40,#f3df41,#f3de41,#f3de42,#f3de42,#f3de42,#f3de43,#f4dd43,#f4dd43,#f4dd44,#f4dd44,#f4dc45,#f4dc45,#f4dc45,#f4dc46,#f4dc45,#f4dc45)"></div><div style="top:655px;height:4px;background:linear-gradient(90deg,#f4e63b,#f4e63b,#f4e63b,#f4e53b,#f4e53c,#f4e53c,#f4e43c,#f4e43c,#f4e43d,#f4e33d,#f4e33d,#f4e33d,#f4e23e,#f3e23e,#f3e13e,#f3e13f,#f3e13f,#f3e13f,#f3e03f,#f3e03f,#f3e040,#f3e040,#f3e040,#f3df40,#f3df40,#f3df40,#f3df40,#f3df40,#f3df40,#f3df41,#f3de41,#f3de42,#f3de42,#f3de42,#f3de42,#f3de42)"></div><div style="top:659px;height:4px;background:linear-gradient(90deg,#f4e63b,#f4e63b,#f4e63b,#f4e53b,#f4e53c,#f4e53c,#f4e43c,#f4e43c,#f4e43c,#f4e43d,#f4e43d,#f4e33d,#f4e33d,#f4e23e,#f3e23e,#f3e23e,#f3e23e,#f3e23e,#f3e23e,#f3e13e,#f3e13f,#f3e13f,#f3e13f,#f3e13f,#f3e13f,#f3e13f,#f3e03f,#f3e03f,#f3e03f,#f3e040,#f3e040,#f3e040,#f3e040,#f3df40,#f3df40,#f3e040)"></div><div style="top:663px;height:4px;background:linear-gradient(90deg,#f4e63b,#f4e63b,#f4e63b,#f4e53b,#f4e53c,#f4e53c,#f4e53c,#f4e43c,#f4e43c,#f4e43c,#f4e43c,#f4e43d,#f4e43d,#f4e33d,#f4e33d,#f4e33d,#f4e33d,#f4e33d,#f4e33d,#f4e33e,#f4e23e,#f3e23e,#f3e23e,#f3e23e,#f3e23e,#f3e23e,#f3e23e,#f3e23e,#f3e13e,#f3e13f,#f3e13f,#f3e13f,#f3e13f,#f3e13f,#f3e13f,#f3e13f)"></div><div style="top:667px;height:4px;background:linear-gradient(90deg,#f4e63b,#f4e63b,#f4e63b,#f4e63b,#f4e53b,#f4e53c,#f4e53c,#f4e53c,#f4e53c,#f4e43c,#f4e43c,#f4e43c,#f4e43c,#f4e43d,#f4e43d,#f4e43c,#f4e43c,#f4e43d,#f4e43d,#f4e43d,#f4e43d,#f4e33d,#f4e33d,#f4e33d,#f4e33d,#f4e33d,#f4e33d,#f4e33d,#f4e33e,#f4e23e,#f3e23e,#f3e23e,#f3e23e,#f3e23e,#f3e23e,#f3e23e)"></div><div style="top:671px;height:4px;background:linear-gradient(90deg,#f4e63b,#f4e63b,#f4e63b,#f4e63b,#f4e53b,#f4e53c,#f4e53c,#f4e53c,#f4e53c,#f4e53c,#f4e53c,#f4e53c,#f4e53c,#f4e43c,#f4e43c,#f4e53c,#f4e53c,#f4e53c,#f4e53c,#f4e53c,#f4e53c,#f4e43c,#f4e43c,#f4e43c,#f4e43c,#f4e43c,#f4e43c,#f4e43d,#f4e43d,#f4e43d,#f4e33d,#f4e33d,#f4e33d,#f4e33d,#f4e33d,#f4e33d)"></div><div style="top:675px;height:4px;background:linear-gradient(90deg,#f4e63b,#f4e63b,#f4e63b,#f4e63b,#f4e53b,#f4e53b,#f4e53c,#f4e53c,#f4e53c,#f4e53c,#f4e53c,#f4e53c,#f4e53c,#f4e53c,#f4e53c,#f4e53b,#f4e63b,#f4e53b,#f4e53b,#f4e53b,#f4e53b,#f4e53b,#f4e53b,#f4e53c,#f4e53c,#f4e53c,#f4e53c,#f4e53c,#f4e53c,#f4e43c,#f4e43c,#f4e43c,#f4e43c,#f4e43c,#f4e43c,#f4e43c)"></div><div style="top:679px;height:4px;background:linear-gradient(90deg,#f4e63b,#f4e63b,#f4e63b,#f4e63b,#f4e53b,#f4e53b,#f4e53b,#f4e53b,#f4e53b,#f4e53b,#f4e53b,#f4e53b,#f4e53b,#f4e53c,#f4e53b,#f4e63b,#f4e63b,#f4e63b,#f4e63b,#f4e63b,#f4e63b,#f4e63b,#f4e63b,#f4e63b,#f4e63b,#f4e63b,#f4e63b,#f4e63b,#f4e53b,#f4e53b,#f4e53c,#f4e53c,#f4e53c,#f4e53c,#f4e53c,#f4e53c)"></div><div style="top:683px;height:4px;background:linear-gradient(90deg,#f4e63b,#f4e63b,#f4e63b,#f4e63b,#f4e63b,#f4e53b,#f4e53b,#f4e53b,#f4e53b,#f4e63b,#f4e63b,#f4e63b,#f4e63b,#f4e53b,#f4e63b,#f4e63b,#f4e73a,#f4e73a,#f4e73a,#f4e73a,#f4e73a,#f4e73a,#f4e73a,#f4e63b,#f4e63b,#f4e63b,#f4e63b,#f4e63b,#f4e63b,#f4e63b,#f4e63b,#f4e63b,#f4e63b,#f4e53b,#f4e53b,#f4e53b)"></div><div style="top:687px;height:4px;background:linear-gradient(90deg,#f4e63b,#f4e63b,#f4e63b,#f4e63b,#f4e63b,#f4e63b,#f4e63b,#f4e63b,#f4e63b,#f4e63b,#f4e63b,#f4e63b,#f4e63b,#f4e63b,#f4e63b,#f4e73a,#f4e73a,#f4e73a,#f4e73a,#f4e73a,#f4e73a,#f4e73a,#f4e73a,#f4e73a,#f4e73a,#f4e73a,#f4e73a,#f4e73a,#f4e73a,#f4e63b,#f4e63b,#f4e63b,#f4e63b,#f4e63b,#f4e63b,#f4e63b)"></div><div style="top:691px;height:4px;background:linear-gradient(90deg,#f4e63b,#f4e63b,#f4e63b,#f4e63b,#f4e63b,#f4e63b,#f4e63b,#f4e63b,#f4e63b,#f4e63b,#f4e63b,#f4e63b,#f4e63b,#f4e63b,#f4e63b,#f4e73a,#f4e73a,#f4e73a,#f4e73a,#f4e73a,#f4e73a,#f4e73a,#f4e73a,#f4e73a,#f4e73a,#f4e73a,#f4e73a,#f4e73a,#f4e73a,#f4e73a,#f4e73a,#f4e73a,#f4e63a,#f4e63b,#f4e63b,#f4e63b)"></div><div style="top:695px;height:4px;background:linear-gradient(90deg,#f4e63b,#f4e63b,#f4e63b,#f4e63b,#f4e63b,#f4e63b,#f4e63b,#f4e63b,#f4e63b,#f4e63b,#f4e63b,#f4e63b,#f4e63b,#f4e63b,#f4e63b,#f4e73a,#f4e73a,#f4e73a,#f4e73a,#f4e73a,#f4e73a,#f4e73a,#f4e73a,#f4e73a,#f4e73a,#f4e73a,#f4e73a,#f4e73a,#f4e73a,#f4e73a,#f4e73a,#f4e73a,#f4e73a,#f4e73a,#f4e73a,#f4e73a)"></div><div style="top:699px;height:4px;background:linear-gradient(90deg,#f4e63b,#f4e63b,#f4e63b,#f4e63b,#f4e63b,#f4e63b,#f4e63b,#f4e63b,#f4e63b,#f4e63b,#f4e63b,#f4e63b,#f4e63b,#f4e63b,#f4e63b,#f4e73a,#f4e73a,#f4e73a,#f4e73a,#f4e73a,#f4e73a,#f4e73a,#f4e73a,#f4e73a,#f4e73a,#f4e73a,#f4e73a,#f4e73a,#f4e73a,#f4e73a,#f4e73a,#f4e73a,#f4e73a,#f4e73a,#f4e73a,#f4e73a)"></div><div style="top:703px;height:4px;background:linear-gradient(90deg,#f4e63b,#f4e63b,#f4e63b,#f4e63b,#f4e63b,#f4e63b,#f4e63b,#f4e63b,#f4e63b,#f4e63b,#f4e63b,#f4e63b,#f4e63b,#f4e63b,#f4e63b,#f4e73a,#f4e73a,#f4e73a,#f4e73a,#f4e73a,#f4e73a,#f4e73a,#f4e73a,#f4e73a,#f4e73a,#f4e73a,#f4e73a,#f4e73a,#f4e73a,#f4e73a,#f4e73a,#f4e73a,#f4e73a,#f4e73a,#f4e73a,#f4e63a)"></div><div style="top:707px;height:2px;background:linear-gradient(90deg,#f4e63b,#f4e63b,#f4e63b,#f4e63b,#f4e63b,#f4e63b,#f4e63b,#f4e63b,#f4e63b,#f4e63b,#f4e63b,#f4e63b,#f4e63b,#f4e63b,#f4e63b,#f4e63b,#f4e63b,#f4e63b,#f4e63b,#f4e63b,#f4e63b,#f4e63b,#f4e63b,#f4e63b,#f4e63b,#f4e63b,#f4e63b,#f4e63b,#f4e63b,#f4e63b,#f4e63b,#f4e63b,#f4e63b,#f4e63b,#f4e63b,#f4e63b)"></div></div>
<div class="hm" style="left:217px;top:0;width:834px"><div style="top:868px;height:4px;background:linear-gradient(90deg,#f3dd38,#f3da3c,#f5d641,#f6d148,#f7cc50,#f7c95b,#f5c568,#efc074,#e2bf80,#d2c189,#bac490,#99c59e,#6fc5a6,#42c0ac,#25bcb7,#1bb8c9,#19b4da,#19b1e5,#1aace9,#1ba6e7,#199de2,#1a98dd,#1a93d8,#1c8dd2,#1e89ce,#1f86cb,#2084c8,#2181c6,#227fc3,#2779c0,#2d74bc,#336eb8,#3968b4,#3d64b0,#4161ad,#445eaa)"></div><div style="top:872px;height:4px;background:linear-gradient(90deg,#f3de38,#f3db3b,#f4d740,#f6d247,#f8cc4f,#f7c95a,#f5c667,#efc174,#e2bf80,#d2c189,#bac490,#98c59e,#6ec5a7,#42c0ac,#26bcb6,#1bb8c7,#19b4d8,#19b1e4,#1aade9,#1ba7e8,#1a9ee3,#1998dd,#1a94d9,#1c8ed3,#1e8acf,#1f87cc,#2084c9,#2182c7,#227fc4,#257bc1,#2b76bd,#3170b9,#376ab6,#3c66b2,#3f62ae,#435fab)"></div><div style="top:876px;height:4px;background:linear-gradient(90deg,#f3de38,#f3dc3a,#f4d83f,#f6d247,#f8cc4f,#f7c959,#f6c666,#efc173,#e2bf80,#d2c189,#bac490,#97c59e,#6dc5a7,#44c0ac,#27bcb5,#1bb8c5,#19b5d6,#19b2e2,#1aaee9,#1ba8e9,#1a9fe3,#1999de,#1a94d9,#1c8fd4,#1d8bd0,#1f87cc,#2085ca,#2182c7,#2280c5,#247dc2,#2977be,#2f72bb,#356cb7,#3a67b3,#3e64b0,#4160ad)"></div><div style="top:880px;height:4px;background:linear-gradient(90deg,#f3de38,#f3dd39,#f4d93e,#f6d246,#f8cc4f,#f7ca58,#f6c665,#efc173,#e2bf80,#d2c189,#bac490,#97c59f,#6dc5a7,#45c1ac,#28bcb4,#1cb9c4,#19b5d4,#19b2e1,#1aafe9,#1ba8e9,#1aa0e4,#199adf,#1a95da,#1b8fd5,#1d8bd0,#1e88cd,#1f85ca,#2083c8,#2181c5,#227ec3,#2879bf,#2d74bc,#336eb8,#3869b5,#3c65b1,#4062ae)"></div><div style="top:884px;height:4px;background:linear-gradient(90deg,#f3de38,#f3de38,#f4d93e,#f6d346,#f8cc4e,#f7ca57,#f6c764,#efc172,#e2bf80,#d2c189,#bac490,#97c59f,#6dc5a7,#47c1ab,#29bdb2,#1db9c2,#1ab6d2,#19b3df,#1aafe9,#1ba9e9,#1aa1e4,#199adf,#1a95da,#1b90d5,#1d8cd1,#1e88cd,#1f86cb,#2083c8,#2181c6,#227fc4,#267ac0,#2b75bd,#3170ba,#366bb6,#3b66b3,#3f63af)"></div><div style="top:888px;height:4px;background:linear-gradient(90deg,#f3df38,#f3de38,#f4da3d,#f6d345,#f8cc4e,#f7ca56,#f6c763,#f0c172,#e2bf80,#d2c189,#bac490,#97c59e,#6ec5a7,#49c1ab,#29bdb1,#1eb9c1,#1ab6d1,#19b3de,#1ab0e9,#1baae9,#1aa2e5,#199be0,#1a96db,#1b91d6,#1d8cd1,#1e89ce,#1f86cb,#2084c9,#2182c6,#227fc4,#257cc1,#2a77be,#2f72bb,#346db7,#3a68b4,#3d64b0)"></div><div style="top:892px;height:4px;background:linear-gradient(90deg,#f3df37,#f3df37,#f3da3c,#f6d345,#f7cd4e,#f7ca56,#f6c762,#f0c172,#e2bf80,#d2c189,#bac490,#98c59e,#6fc5a6,#4bc1ab,#2abdb0,#1fbabf,#1ab6cf,#18b3dd,#19b0e8,#1aaae9,#1aa3e5,#199be0,#1a96db,#1b91d7,#1c8dd2,#1e8acf,#1f87cc,#2084c9,#2182c7,#2280c5,#237dc2,#2878bf,#2d74bc,#326fb8,#3869b5,#3c65b1)"></div><div style="top:896px;height:4px;background:linear-gradient(90deg,#f3df37,#f3df37,#f3db3c,#f5d345,#f7cd4d,#f7ca55,#f6c761,#f0c271,#e2bf80,#d2c189,#bbc490,#99c59e,#70c5a6,#4dc2ab,#2bbdaf,#20babe,#1ab7ce,#18b3dc,#19b1e7,#1aabe9,#1aa3e6,#199ce1,#1a97dc,#1a92d7,#1c8ed3,#1e8acf,#1f87cc,#2085ca,#2083c7,#2180c5,#227ec3,#277ac0,#2c75bd,#3170ba,#366bb6,#3b66b2)"></div><div style="top:900px;height:4px;background:linear-gradient(90deg,#f3df37,#f3e037,#f3db3b,#f5d445,#f7cd4d,#f7cb54,#f6c860,#f0c271,#e3bf80,#d3c189,#bcc490,#9ac59d,#72c5a6,#50c2aa,#2dbeae,#21babd,#1ab7cc,#19b4db,#19b1e6,#1aabe9,#1aa4e6,#199ce1,#1a97dc,#1a93d8,#1c8ed3,#1d8bd0,#1e88cd,#1f85ca,#2083c8,#2181c6,#227fc3,#257bc1,#2a76be,#2f72ba,#356cb7,#3a67b3)"></div><div style="top:904px;height:4px;background:linear-gradient(90deg,#f3df37,#f3e037,#f3db3b,#f5d444,#f7cd4d,#f7cb54,#f6c860,#f0c271,#e3bf80,#d3c189,#bdc48f,#9bc59d,#74c5a6,#53c2aa,#2fbeae,#22bbbc,#1bb7cb,#19b4da,#19b1e5,#1aace9,#1aa5e7,#199de2,#1a98dd,#1a94d9,#1c8fd4,#1d8bd0,#1e88cd,#1f86cb,#2083c8,#2181c6,#227fc4,#247cc2,#2978bf,#2e73bb,#336eb8,#3968b4)"></div><div style="top:908px;height:4px;background:linear-gradient(90deg,#f3df37,#f3e037,#f3dc3a,#f5d444,#f7cd4d,#f7cb53,#f6c85f,#f1c270,#e3bf80,#d4c189,#bec48f,#9cc59c,#76c5a5,#56c3aa,#32beae,#22bbbb,#1bb8ca,#19b4d9,#19b1e4,#1aade9,#1ba6e8,#199ee2,#1998dd,#1a94d9,#1b8fd4,#1d8cd1,#1e89ce,#1f86cb,#2084c9,#2182c7,#2280c4,#237dc2,#2879bf,#2d74bc,#326fb9,#3869b5)"></div><div style="top:912px;height:4px;background:linear-gradient(90deg,#f3e037,#f3e037,#f3dc3a,#f5d444,#f7ce4c,#f7cb52,#f7c85e,#f1c270,#e3bf7f,#d4c188,#bfc48f,#9ec69b,#79c5a5,#59c3a9,#35bfad,#23bbba,#1bb8c9,#19b5d7,#19b2e3,#1aade9,#1ba7e8,#1a9fe3,#1999de,#1a95da,#1b90d5,#1d8cd1,#1e89ce,#1f87cb,#2084c9,#2182c7,#2180c5,#227ec3,#277ac0,#2b75bd,#3170ba,#376bb6)"></div><div style="top:916px;height:4px;background:linear-gradient(90deg,#f3e037,#f3e036,#f3dc3a,#f5d444,#f7ce4c,#f7cb52,#f7c85e,#f1c270,#e4bf7f,#d5c088,#c0c48f,#a0c69a,#7cc5a4,#5dc4a9,#38bfad,#24bbb9,#1bb8c8,#19b5d6,#19b2e2,#1aaee9,#1ba7e9,#1a9fe3,#199adf,#1a95da,#1b91d6,#1c8dd2,#1e8acf,#1f87cc,#2085ca,#2183c7,#2181c5,#227fc3,#257bc1,#2a76be,#2f71ba,#356cb7)"></div><div style="top:920px;height:4px;background:linear-gradient(90deg,#f3e037,#f3e136,#f3dc39,#f5d443,#f7ce4c,#f7cb51,#f7c85d,#f1c26f,#e4bf7f,#d5c088,#c1c38e,#a2c699,#7fc5a4,#60c4a8,#3bbfad,#24bbb8,#1bb8c7,#19b5d5,#19b2e1,#1aaee9,#1ba8e9,#1aa0e4,#199adf,#1a96db,#1b91d6,#1c8dd2,#1e8acf,#1f87cc,#2085ca,#2083c8,#2181c6,#227fc4,#247cc1,#2978be,#2e73bb,#346db7)"></div><div style="top:924px;height:4px;background:linear-gradient(90deg,#f3e037,#f3e136,#f3dd39,#f5d543,#f7ce4c,#f7cb51,#f7c95c,#f1c36f,#e4bf7e,#d6c088,#c3c38e,#a4c698,#82c5a3,#64c5a8,#3ec0ac,#25bcb7,#1bb8c6,#19b5d4,#19b2e0,#1aafe9,#1ba9e9,#1aa1e4,#199be0,#1a96db,#1a92d7,#1c8ed3,#1d8bd0,#1e88cd,#1f85ca,#2083c8,#2181c6,#227fc4,#237dc2,#2879bf,#2d74bc,#336eb8)"></div><div style="top:928px;height:4px;background:linear-gradient(90deg,#f3e037,#f3e136,#f3dd39,#f5d543,#f7ce4b,#f7cc51,#f7c95c,#f2c36e,#e5bf7e,#d6c088,#c4c38e,#a6c697,#86c5a3,#68c5a8,#41c0ac,#26bcb6,#1bb9c5,#1ab6d3,#19b3df,#1aafe9,#1ba9e9,#1aa2e5,#199be0,#1a97dc,#1a93d8,#1c8ed3,#1d8bd0,#1e88cd,#1f86cb,#2084c9,#2182c7,#2280c5,#227ec3,#277ac0,#2c75bd,#326fb9)"></div><div style="top:932px;height:4px;background:linear-gradient(90deg,#f3e037,#f3e136,#f3dd39,#f5d543,#f7cf4b,#f7cc50,#f7c95b,#f2c36e,#e5bf7e,#d7c087,#c6c38d,#a9c696,#8ac5a2,#6bc5a7,#44c0ac,#26bcb6,#1bb9c4,#1ab6d2,#19b3df,#1ab0e9,#1baae9,#1aa3e5,#199ce1,#1a97dc,#1a93d8,#1c8fd4,#1d8cd1,#1e89ce,#1f86cb,#2084c9,#2182c7,#2180c5,#227ec3,#267bc1,#2b76bd,#3170ba)"></div><div style="top:936px;height:4px;background:linear-gradient(90deg,#f3e037,#f3e136,#f3dd39,#f5d543,#f7cf4b,#f7cc50,#f7c95b,#f2c36e,#e6bf7d,#d8c087,#c7c38d,#abc695,#8dc5a2,#6ec5a7,#47c1ab,#27bcb5,#1cb9c4,#1ab6d1,#19b3de,#19b0e9,#1aaae9,#1aa4e6,#199ce1,#1a98dd,#1a94d9,#1b90d5,#1d8cd1,#1e89ce,#1f87cc,#2085c9,#2083c7,#2181c6,#227fc4,#257cc1,#2a77be,#3071ba)"></div><div style="top:940px;height:4px;background:linear-gradient(90deg,#f3e037,#f3e136,#f3dd39,#f5d543,#f7cf4b,#f8cc4f,#f7c95a,#f2c36d,#e6bf7d,#d9c087,#c9c28c,#aec694,#91c5a1,#71c5a6,#4ac1ab,#27bcb4,#1cb9c3,#1ab6d0,#18b3dd,#19b0e8,#1aabe9,#1aa4e7,#199de2,#1998dd,#1a95da,#1b90d5,#1d8dd2,#1e8acf,#1f87cc,#2085ca,#2083c8,#2181c6,#227fc4,#247dc2,#2978bf,#2e72bb)"></div><div style="top:944px;height:4px;background:linear-gradient(90deg,#f3e037,#f3e136,#f3dd39,#f5d543,#f7cf4a,#f8cc4f,#f7c95a,#f2c36d,#e7bf7c,#d9c086,#cac28c,#b0c693,#94c5a0,#74c5a6,#4dc2ab,#28bcb3,#1db9c2,#1ab6cf,#18b3dc,#19b1e7,#1aace9,#1aa5e7,#1a9ee2,#1999de,#1a95da,#1b91d6,#1c8dd2,#1d8acf,#1e88cd,#1f85ca,#2084c8,#2182c7,#2280c5,#237ec3,#2779bf,#2d74bc)"></div><div style="top:948px;height:4px;background:linear-gradient(90deg,#f3e037,#f3e136,#f3dd39,#f5d542,#f7cf4a,#f8cc4f,#f7c95a,#f3c46d,#e7bf7c,#dabf86,#ccc28b,#b3c592,#97c59e,#78c5a5,#50c2aa,#29bdb2,#1db9c1,#1ab7ce,#18b4db,#19b1e6,#1aace9,#1ba6e8,#1a9fe3,#199adf,#1a96db,#1b92d7,#1c8ed3,#1d8bd0,#1e88cd,#1f86cb,#2084c9,#2182c7,#2180c5,#227ec3,#267ac0,#2c75bd)"></div><div style="top:952px;height:4px;background:linear-gradient(90deg,#f3e037,#f3e136,#f3dd39,#f5d542,#f7cf4a,#f8cc4e,#f7c959,#f3c46c,#e8bf7c,#dbbf86,#cdc28b,#b5c591,#9ac59d,#7bc5a4,#53c3aa,#29bdb2,#1ebac1,#1ab7cd,#19b4db,#19b1e5,#1aade9,#1ba7e8,#1aa0e4,#199adf,#1a96db,#1a92d7,#1c8fd4,#1d8bd0,#1e89ce,#1f86cb,#2085c9,#2083c8,#2181c6,#227fc4,#257bc1,#2b76bd)"></div><div style="top:956px;height:4px;background:linear-gradient(90deg,#f3e037,#f3e136,#f3dd39,#f5d642,#f7d04a,#f8cc4e,#f7c959,#f3c46c,#e8bf7b,#dcbf86,#cec28b,#b7c591,#9dc59c,#7fc5a4,#57c3aa,#2abdb1,#1fbac0,#1ab7cc,#19b4da,#19b1e4,#1aade9,#1ba8e9,#1aa1e4,#199be0,#1a97dc,#1a93d8,#1b8fd4,#1d8cd1,#1e89ce,#1f87cc,#1f85ca,#2083c8,#2182c6,#2280c4,#247dc2,#2977be)"></div><div style="top:960px;height:4px;background:linear-gradient(90deg,#f3e037,#f3e136,#f3dd39,#f5d642,#f6d049,#f8cc4e,#f7c959,#f3c46b,#e9bf7a,#ddbf85,#cfc18a,#bac490,#a0c69a,#83c5a3,#5ac3a9,#2abdb0,#1fbabf,#1bb7cb,#19b4d9,#19b2e3,#1aaee9,#1ba9e9,#1aa2e5,#199be0,#1a98dd,#1a94d9,#1b90d5,#1c8dd2,#1e8acf,#1e88cd,#1f86cb,#2084c9,#2182c7,#2180c5,#227ec3,#2879bf)"></div><div style="top:964px;height:4px;background:linear-gradient(90deg,#f3e037,#f3e136,#f3dd39,#f5d642,#f6d049,#f7cd4e,#f7ca58,#f3c46b,#eabf7a,#debf84,#d1c18a,#bcc490,#a3c699,#86c5a3,#5ec4a9,#2bbdaf,#20babe,#1bb7ca,#19b5d7,#19b2e2,#1aaee9,#1ba9e9,#1aa3e5,#199ce1,#1998dd,#1a95da,#1b91d6,#1c8dd2,#1d8bd0,#1e88cd,#1f86cb,#2085ca,#2083c8,#2181c6,#227fc4,#267ac0)"></div><div style="top:968px;height:4px;background:linear-gradient(90deg,#f3e037,#f3e036,#f3dd39,#f5d642,#f6d049,#f7cd4d,#f7ca58,#f4c46b,#eabf79,#debf83,#d2c189,#bfc48f,#a6c697,#8ac5a2,#62c4a8,#2dbeae,#21babd,#1bb8c9,#19b5d6,#19b2e1,#1aafe9,#1baae9,#1aa3e6,#199de2,#1999de,#1a95da,#1b92d7,#1c8ed3,#1d8bd0,#1e89ce,#1f87cc,#1f85ca,#2084c8,#2182c6,#227fc4,#247cc1)"></div><div style="top:972px;height:4px;background:linear-gradient(90deg,#f3e037,#f3e036,#f3dd39,#f5d642,#f6d049,#f7cd4d,#f7ca58,#f4c56a,#ebbf79,#dfbf83,#d3c189,#c1c38e,#a9c696,#8ec5a2,#65c5a8,#30beae,#21babc,#1bb8c8,#19b5d5,#19b2e0,#1ab0e9,#1aaae9,#1aa4e7,#199ee2,#1999de,#1a96db,#1a93d8,#1c8fd4,#1d8cd1,#1e8acf,#1e88cd,#1f86cb,#2084c9,#2182c7,#2180c5,#237ec3)"></div><div style="top:976px;height:4px;background:linear-gradient(90deg,#f3e037,#f3e037,#f3dd39,#f5d641,#f6d148,#f7cd4d,#f7ca58,#f4c56a,#ecbf78,#e0bf82,#d4c088,#c4c38e,#acc695,#91c5a1,#69c5a7,#33beae,#22bbbb,#1bb8c7,#19b5d4,#19b3df,#19b0e9,#1aabe9,#1aa5e7,#1a9fe3,#199adf,#1a97dc,#1a94d9,#1b90d5,#1c8dd2,#1d8bd0,#1e89ce,#1f87cc,#1f85ca,#2083c8,#2181c6,#227fc4)"></div><div style="top:980px;height:4px;background:linear-gradient(90deg,#f3e037,#f3e037,#f3dd39,#f5d641,#f6d148,#f7cd4d,#f7ca57,#f4c569,#ecbf78,#e1bf81,#d6c088,#c6c38d,#afc693,#94c5a0,#6cc5a7,#37bfad,#23bbba,#1bb8c6,#1ab6d2,#19b3de,#19b0e8,#1aace9,#1ba6e8,#1aa0e4,#199be0,#1a97dd,#1a95da,#1b91d6,#1c8ed3,#1d8cd1,#1e8acf,#1e88cd,#1f86cb,#2084c9,#2182c7,#2280c5)"></div><div style="top:984px;height:4px;background:linear-gradient(90deg,#f3e037,#f3e037,#f3dd39,#f5d641,#f6d148,#f7cd4d,#f7ca57,#f4c569,#edbf77,#e2bf80,#d7c087,#c8c38c,#b2c592,#97c59f,#6fc5a6,#3abfad,#24bbb9,#1bb9c5,#1ab6d1,#18b3dd,#19b1e6,#1aace9,#1ba7e9,#1aa1e4,#199ce1,#1998dd,#1a95da,#1a92d7,#1b8fd4,#1c8dd2,#1d8bd0,#1e89ce,#1f87cc,#1f85ca,#2083c8,#2181c6)"></div><div style="top:988px;height:4px;background:linear-gradient(90deg,#f3e037,#f3e037,#f3dd39,#f4d741,#f6d147,#f7cd4c,#f7ca57,#f5c568,#eec076,#e3bf80,#d8c087,#cac28c,#b4c592,#99c59d,#72c5a6,#3ec0ac,#25bbb8,#1cb9c4,#1ab6cf,#18b4dc,#19b1e5,#1aade9,#1ba8e9,#1aa2e5,#199ce1,#1999de,#1a96db,#1a93d8,#1b90d6,#1c8ed3,#1d8cd1,#1e8acf,#1e88cd,#1f86cb,#2084c9,#2182c7)"></div><div style="top:992px;height:4px;background:linear-gradient(90deg,#f3e037,#f3e037,#f3dd39,#f4d741,#f6d247,#f7ce4c,#f7ca56,#f5c668,#eec075,#e4bf7f,#d9c087,#ccc28b,#b7c591,#9cc59c,#76c5a5,#43c0ac,#26bcb6,#1db9c2,#1ab7ce,#19b4db,#19b1e4,#1aaee9,#1ba9e9,#1aa3e6,#199ee2,#199adf,#1a97dc,#1a95da,#1b92d7,#1b8fd4,#1c8dd2,#1d8bd0,#1e89ce,#1f87cc,#1f85ca,#2083c8)"></div><div style="top:996px;height:4px;background:linear-gradient(90deg,#f3e037,#f3e037,#f3dd39,#f4d740,#f6d247,#f7ce4c,#f7ca56,#f5c667,#eec075,#e5bf7e,#dabf86,#cdc28b,#b9c590,#9fc69b,#79c5a5,#47c1ab,#27bcb5,#1ebac1,#1ab7cc,#19b4d9,#19b2e3,#1aafe9,#1baae9,#1aa4e7,#1a9fe3,#199be0,#1a98dd,#1a96db,#1a93d8,#1b91d6,#1c8ed4,#1d8dd2,#1d8bd0,#1e89ce,#1f87cc,#2084c9)"></div><div style="top:1000px;height:4px;background:linear-gradient(90deg,#f3e037,#f3e037,#f3dd39,#f4d740,#f6d247,#f7ce4c,#f7ca56,#f6c667,#efc174,#e6bf7d,#dbbf86,#cec28a,#bbc490,#a1c69a,#7dc5a4,#4cc2ab,#28bcb3,#1fbabf,#1bb7cb,#19b5d7,#19b2e1,#1aafe9,#1aabe9,#1ba6e7,#1aa0e4,#199ce1,#1999de,#1a97dc,#1a95da,#1a92d7,#1b90d5,#1c8ed3,#1d8cd1,#1e8acf,#1e88cd,#1f86cb)"></div><div style="top:1004px;height:4px;background:linear-gradient(90deg,#f3e037,#f3e037,#f3dd39,#f4d740,#f6d246,#f7ce4c,#f7ca56,#f6c666,#efc173,#e7bf7c,#dcbf85,#d0c18a,#bdc48f,#a4c698,#81c5a4,#51c2aa,#29bdb1,#20babd,#1bb8c9,#19b5d6,#19b2e0,#1ab0e9,#1aace9,#1ba7e8,#1aa2e5,#199de2,#199adf,#1a98dd,#1a96db,#1a94d9,#1b91d7,#1b8fd5,#1c8ed3,#1d8cd1,#1e8acf,#1f87cc)"></div><div style="top:1008px;height:4px;background:linear-gradient(90deg,#f3e037,#f3e037,#f3dd38,#f4d83f,#f6d346,#f7ce4c,#f7ca55,#f6c665,#f0c172,#e7bf7c,#ddbf85,#d1c18a,#bfc48f,#a6c697,#85c5a3,#57c3aa,#2bbdb0,#22bbbc,#1bb8c7,#19b5d4,#19b3df,#19b0e7,#1aace9,#1ba8e9,#1aa3e6,#1a9ee3,#199be0,#1999de,#1a97dc,#1a95da,#1a93d8,#1b91d6,#1c8fd4,#1c8dd2,#1d8bd0,#1e89ce)"></div><div style="top:1012px;height:4px;background:linear-gradient(90deg,#f3e037,#f3e037,#f3dd38,#f4d83f,#f6d346,#f7ce4b,#f7ca55,#f6c765,#f0c271,#e8bf7b,#debf84,#d2c189,#c1c38e,#a9c696,#89c5a2,#5cc4a9,#2ebeae,#23bbba,#1bb9c5,#1ab6d2,#19b3dd,#19b1e6,#1aade9,#1ba9e9,#1aa4e7,#1aa0e4,#199ce1,#199adf,#1998dd,#1a96db,#1a95da,#1a93d8,#1b91d6,#1c8fd4,#1c8dd2,#1d8bd0)"></div><div style="top:1016px;height:4px;background:linear-gradient(90deg,#f3e037,#f3e037,#f3de38,#f4d83f,#f6d345,#f7ce4b,#f7ca55,#f6c764,#f1c270,#e9bf7a,#dfbf83,#d3c189,#c3c38e,#abc695,#8dc5a2,#62c4a8,#34beae,#25bbb8,#1cb9c3,#1ab6d0,#18b3dc,#19b1e5,#1aaee9,#1baae9,#1ba6e8,#1aa2e5,#1a9ee2,#199be0,#1999de,#1a98dd,#1a96db,#1a95da,#1a93d8,#1b90d6,#1c8ed3,#1d8cd1)"></div><div style="top:1020px;height:4px;background:linear-gradient(90deg,#f3e037,#f3e037,#f3de38,#f4d93e,#f5d345,#f7cf4b,#f7cb54,#f6c763,#f1c26f,#eabf7a,#dfbf83,#d4c188,#c5c38d,#aec694,#91c5a1,#68c5a8,#3abfad,#26bcb6,#1db9c1,#1ab7ce,#19b4db,#19b2e3,#1aafe9,#1aabe9,#1ba7e9,#1aa3e6,#1aa0e4,#199de2,#199be0,#1999de,#1a97dc,#1a96db,#1a94d9,#1a92d7,#1b90d5,#1c8ed3)"></div><div style="top:1024px;height:4px;background:linear-gradient(90deg,#f3e037,#f3e037,#f3de38,#f4d93e,#f5d445,#f7cf4b,#f7cb54,#f6c762,#f2c36e,#ebbf79,#e0bf82,#d5c088,#c6c38d,#b0c693,#95c5a0,#6dc5a7,#40c0ac,#28bcb4,#1fbac0,#1ab7cc,#19b4d9,#19b2e2,#1ab0e9,#1aace9,#1ba9e9,#1aa5e7,#1aa2e5,#1a9fe3,#199ce1,#199adf,#1999de,#1a97dc,#1a96db,#1a94d9,#1a92d7,#1b90d5)"></div><div style="top:1028px;height:4px;background:linear-gradient(90deg,#f3e037,#f3e037,#f3de38,#f4d93d,#f5d444,#f7cf4b,#f7cb54,#f6c761,#f2c36e,#ecbf78,#e1bf81,#d6c088,#c8c38d,#b2c592,#97c59e,#71c5a6,#46c1ab,#29bdb2,#20babe,#1bb8ca,#19b5d7,#19b2e0,#19b0e8,#1aade9,#1baae9,#1ba7e8,#1aa3e6,#1aa1e4,#199ee2,#199ce1,#199adf,#1999de,#1a97dc,#1a96db,#1a94d9,#1b92d7)"></div><div style="top:1032px;height:4px;background:linear-gradient(90deg,#f3e037,#f3e036,#f3de38,#f4d93d,#f5d444,#f7cf4a,#f7cb53,#f6c860,#f2c36d,#edbf77,#e2bf81,#d6c087,#cac28c,#b5c592,#9ac59d,#76c5a5,#4cc2ab,#2bbdb0,#22bbbc,#1bb8c8,#19b5d5,#19b3df,#19b1e6,#1aaee9,#1aabe9,#1ba8e9,#1aa5e7,#1aa2e5,#1aa0e4,#199de2,#199ce0,#199adf,#1998dd,#1a97dc,#1a95da,#1a93d9)"></div><div style="top:1036px;height:4px;background:linear-gradient(90deg,#f3e037,#f3e036,#f3de38,#f4da3d,#f5d444,#f7cf4a,#f7cb53,#f6c860,#f3c46c,#edbf77,#e2bf80,#d7c087,#cbc28c,#b7c591,#9dc59c,#7ac5a5,#52c2aa,#2ebeae,#23bbba,#1bb8c6,#1ab6d2,#18b3dd,#19b1e5,#1aafe9,#1aace9,#1ba9e9,#1ba7e8,#1aa4e6,#1aa2e5,#1a9fe3,#199de2,#199be0,#199adf,#1998dd,#1a97dc,#1a95da)"></div><div style="top:1040px;height:4px;background:linear-gradient(90deg,#f3e037,#f3e136,#f3df38,#f3da3c,#f5d543,#f7cf4a,#f7cb53,#f6c85f,#f3c46b,#eec076,#e3bf7f,#d8c087,#ccc28b,#b9c590,#a0c69a,#7fc5a4,#59c3a9,#33beae,#25bbb8,#1cb9c4,#1ab6d0,#18b4dc,#19b2e3,#1ab0e9,#1aade9,#1aaae9,#1ba8e9,#1ba6e8,#1aa4e6,#1aa1e5,#1a9fe3,#199de2,#199be0,#199adf,#1a98dd,#1a96db)"></div><div style="top:1044px;height:4px;background:linear-gradient(90deg,#f3e037,#f3e136,#f3df37,#f3da3c,#f5d543,#f7cf4a,#f7cb52,#f7c85e,#f4c56a,#eec075,#e4bf7f,#d9c087,#cdc28b,#bbc490,#a3c699,#83c5a3,#5fc4a9,#39bfad,#26bcb6,#1db9c2,#1ab7ce,#19b4da,#19b2e1,#19b0e8,#1aaee9,#1aace9,#1baae9,#1ba8e9,#1aa5e7,#1aa3e6,#1aa1e4,#1a9fe3,#199de1,#199be0,#1999de,#1a98dd)"></div><div style="top:1048px;height:4px;background:linear-gradient(90deg,#f3e037,#f3e136,#f3df37,#f3db3c,#f5d543,#f7d04a,#f7cb52,#f7c85d,#f4c569,#efc074,#e5bf7e,#dabf86,#cec28b,#bcc48f,#a5c698,#87c5a3,#64c5a8,#3ec0ac,#27bcb4,#1ebac1,#1ab7cd,#19b5d8,#19b2e0,#19b1e6,#1aafe9,#1aade9,#1aabe9,#1ba9e9,#1ba7e8,#1aa5e7,#1aa3e6,#1aa1e4,#1a9fe3,#199ce1,#199be0,#1999de)"></div><div style="top:1052px;height:4px;background:linear-gradient(90deg,#f3e037,#f3e136,#f3df37,#f3db3c,#f5d543,#f7d04a,#f7cb52,#f7c95c,#f5c568,#efc173,#e6bf7d,#dbbf86,#cfc18a,#bec48f,#a8c697,#8cc5a2,#69c5a7,#44c0ac,#29bdb3,#1fbabf,#1bb7cb,#19b5d6,#19b3de,#19b1e4,#1ab0e9,#1aaee9,#1aace9,#1baae9,#1ba9e9,#1ba7e8,#1aa5e7,#1aa3e5,#1aa0e4,#1a9ee2,#199ce1,#199adf)"></div><div style="top:1056px;height:4px;background:linear-gradient(90deg,#f3e037,#f3e136,#f3df37,#f3db3b,#f5d543,#f6d049,#f7cb51,#f7c95b,#f5c668,#efc172,#e7bf7d,#dcbf86,#d0c18a,#c0c48f,#aac696,#8fc5a1,#6dc5a7,#49c1ab,#2abdb1,#21babd,#1bb8c9,#19b5d4,#18b3dd,#19b2e2,#19b0e7,#1aafe9,#1aade9,#1aabe9,#1baae9,#1ba8e9,#1ba6e8,#1aa4e7,#1aa2e5,#1aa0e4,#199ee2,#199be0)"></div><div style="top:1060px;height:4px;background:linear-gradient(90deg,#f3e037,#f3e136,#f3df37,#f3db3b,#f5d542,#f6d049,#f7cb51,#f7c95b,#f6c667,#f0c172,#e7bf7c,#ddbf85,#d1c189,#c2c38e,#acc694,#93c5a0,#71c5a6,#4dc2ab,#2bbdaf,#22bbbc,#1bb8c7,#1ab6d2,#19b4db,#19b2e1,#19b1e6,#1ab0e9,#1aaee9,#1aace9,#1aabe9,#1ba9e9,#1ba8e9,#1ba6e8,#1aa4e6,#1aa2e5,#1a9fe3,#199ce1)"></div><div style="top:1064px;height:4px;background:linear-gradient(90deg,#f3e037,#f3e136,#f3e037,#f3db3b,#f5d542,#f6d049,#f7cc50,#f7c95a,#f6c666,#f0c271,#e8bf7b,#debf84,#d2c189,#c3c38e,#aec694,#95c59f,#75c5a6,#52c2aa,#2ebeae,#23bbba,#1bb9c5,#1ab6d0,#19b4d9,#19b3df,#19b1e4,#19b0e8,#1aafe9,#1aade9,#1aabe9,#1baae9,#1ba9e9,#1ba8e9,#1ba6e7,#1aa3e6,#1aa1e4,#1a9ee2)"></div><div style="top:1068px;height:4px;background:linear-gradient(90deg,#f3e037,#f3e236,#f3e037,#f3db3b,#f5d542,#f6d049,#f7cc50,#f7c959,#f6c665,#f1c270,#e9bf7a,#dfbf83,#d3c189,#c5c38d,#b0c693,#97c59e,#78c5a5,#56c3aa,#32beae,#24bbb9,#1cb9c4,#1ab7ce,#19b5d7,#19b3dd,#19b2e2,#19b1e6,#1aafe9,#1aaee9,#1aace9,#1aabe9,#1baae9,#1ba9e9,#1ba7e8,#1aa5e7,#1aa3e5,#1a9fe3)"></div><div style="top:1072px;height:4px;background:linear-gradient(90deg,#f3e037,#f3e236,#f3e037,#f3db3b,#f5d542,#f6d049,#f7cc50,#f7ca58,#f6c764,#f1c36f,#eabf79,#e0bf82,#d4c088,#c6c38d,#b1c592,#99c59e,#7bc5a5,#5ac3a9,#35bfad,#25bcb7,#1db9c2,#1ab7cc,#19b5d5,#18b4dc,#19b2e0,#19b1e5,#1ab0e9,#1aaee9,#1aade9,#1aace9,#1aabe9,#1baae9,#1ba8e9,#1ba7e8,#1aa4e6,#1aa1e4)"></div><div style="top:1076px;height:4px;background:linear-gradient(90deg,#f3e037,#f3e236,#f3e037,#f3db3b,#f5d542,#f6d049,#f8cc4f,#f7ca58,#f6c763,#f2c36e,#ecbf78,#e1bf81,#d6c088,#c8c38d,#b3c592,#9bc59d,#7dc5a4,#5ec4a9,#39bfad,#26bcb6,#1eb9c1,#1bb7ca,#1ab6d2,#19b4da,#19b3df,#19b1e3,#19b0e8,#1aafe9,#1aade9,#1aace9,#1aabe9,#1aaae9,#1ba9e9,#1ba8e9,#1aa5e7,#1aa2e5)"></div><div style="top:1080px;height:4px;background:linear-gradient(90deg,#f3e037,#f3e236,#f3e037,#f3db3b,#f5d542,#f6d049,#f8cc4f,#f7ca57,#f6c762,#f2c36d,#edbf77,#e2bf80,#d7c087,#c9c28c,#b4c592,#9cc59c,#80c5a4,#61c4a8,#3cc0ad,#27bcb5,#1fbabf,#1bb8c8,#1ab6d0,#19b5d8,#19b3dd,#19b2e2,#19b1e7,#1aafe9,#1aaee9,#1aade9,#1aace9,#1aabe9,#1baae9,#1ba9e9,#1ba7e8,#1aa3e6)"></div><div style="top:1084px;height:4px;background:linear-gradient(90deg,#f3e037,#f3e235,#f3e037,#f3db3b,#f5d542,#f6d049,#f8cc4f,#f7ca57,#f6c761,#f3c46c,#edbf76,#e4bf7f,#d8c087,#cac28c,#b5c591,#9ec69b,#82c5a3,#64c5a8,#3fc0ac,#28bcb4,#20babe,#1bb8c7,#1ab7ce,#19b5d5,#18b3dc,#19b2e1,#19b1e6,#1ab0e9,#1aaee9,#1aade9,#1aace9,#1aace9,#1aabe9,#1baae9,#1ba8e9,#1aa4e6)"></div><div style="top:1088px;height:4px;background:linear-gradient(90deg,#f3e037,#f3e235,#f3e037,#f3db3b,#f5d542,#f6d148,#f8cc4e,#f7ca56,#f6c860,#f3c46b,#eec075,#e5bf7e,#d9c087,#cbc28c,#b6c591,#9fc69b,#84c5a3,#67c5a8,#42c0ac,#29bdb3,#21babd,#1bb9c5,#1ab7cc,#1ab6d3,#19b4da,#19b2e0,#19b1e5,#1ab0e9,#1aaee9,#1aade9,#1aade9,#1aace9,#1aace9,#1aabe9,#1ba9e9,#1aa5e7)"></div><div style="top:1092px;height:4px;background:linear-gradient(90deg,#f3e037,#f3e235,#f3e037,#f3db3b,#f5d543,#f6d148,#f8cc4e,#f7ca56,#f6c860,#f4c46a,#efc074,#e6bf7d,#dabf86,#ccc28b,#b7c591,#a0c69a,#86c5a3,#69c5a7,#45c1ac,#29bdb1,#22bbbb,#1cb9c3,#1bb7ca,#1ab6d1,#19b4d9,#19b3df,#19b1e4,#19b0e9,#1aafe9,#1aaee9,#1aade9,#1aade9,#1aace9,#1aabe9,#1baae9,#1ba6e8)"></div><div style="top:1096px;height:4px;background:linear-gradient(90deg,#f3e037,#f3e235,#f3e037,#f3db3b,#f5d543,#f6d148,#f7cd4e,#f7ca55,#f6c85f,#f4c569,#efc173,#e8bf7c,#dcbf86,#cdc28b,#b8c591,#a1c69a,#88c5a2,#6cc5a7,#48c1ab,#2abdb0,#23bbba,#1db9c2,#1bb8c8,#1ab7cf,#19b5d7,#19b3de,#19b1e3,#19b0e8,#1aafe9,#1aaee9,#1aaee9,#1aade9,#1aade9,#1aace9,#1aaae9,#1ba7e8)"></div><div style="top:1100px;height:4px;background:linear-gradient(90deg,#f3e037,#f3e235,#f3e037,#f3db3b,#f5d543,#f6d148,#f7cd4d,#f7ca55,#f7c85e,#f5c569,#f0c271,#e9bf7a,#ddbf85,#cec28b,#b9c590,#a2c699,#8ac5a2,#6ec5a7,#4cc2ab,#2bbdaf,#24bbb9,#1fbac0,#1bb8c6,#1ab7cd,#19b5d5,#18b3dd,#19b2e3,#19b0e8,#1aafe9,#1aaee9,#1aaee9,#1aaee9,#1aaee9,#1aade9,#1aabe9,#1ba8e9)"></div><div style="top:1104px;height:4px;background:linear-gradient(90deg,#f3e037,#f3e335,#f3e037,#f3db3b,#f5d543,#f6d148,#f7cd4d,#f7cb54,#f7c85e,#f5c668,#f1c270,#eabf79,#debf84,#cec28a,#bac490,#a3c699,#8cc5a2,#70c5a6,#4fc2aa,#2ebeae,#25bcb7,#20babe,#1cb9c4,#1bb7ca,#1ab6d3,#18b4dc,#19b2e2,#19b0e7,#1aafe9,#1aaee9,#1aaee9,#1aaee9,#1aaee9,#1aade9,#1aace9,#1ba8e9)"></div><div style="top:1108px;height:4px;background:linear-gradient(90deg,#f3e037,#f3e335,#f3e037,#f3db3b,#f5d543,#f6d148,#f7cd4d,#f7cb54,#f7c85d,#f5c667,#f1c26f,#ecbf78,#dfbf83,#cfc18a,#bbc490,#a5c698,#8ec5a1,#73c5a6,#53c2aa,#32beae,#26bcb6,#21babc,#1db9c2,#1bb8c8,#1ab6d1,#19b4db,#19b2e1,#19b1e7,#1aafe9,#1aafe9,#1aafe9,#1aafe9,#1aafe9,#1aaee9,#1aace9,#1ba9e9)"></div><div style="top:1112px;height:4px;background:linear-gradient(90deg,#f3e037,#f3e335,#f3e037,#f3db3b,#f5d543,#f6d148,#f7cd4c,#f7cb54,#f7c95c,#f6c666,#f2c36e,#edbf77,#e1bf82,#d0c18a,#bcc490,#a6c698,#91c5a1,#75c5a5,#57c3aa,#36bfad,#27bcb4,#23bbba,#1fbac0,#1bb8c6,#1ab6cf,#19b4da,#19b2e1,#19b1e7,#1ab0e9,#1aafe9,#1aafe9,#1aafe9,#1aafe9,#1aafe9,#1aade9,#1baae9)"></div><div style="top:1116px;height:4px;background:linear-gradient(90deg,#f3e037,#f3e235,#f3e037,#f3db3b,#f5d543,#f6d148,#f7ce4c,#f7cb53,#f7c95c,#f6c665,#f2c36d,#eec076,#e2bf81,#d1c189,#bdc48f,#a7c697,#93c5a1,#78c5a5,#5bc3a9,#3abfad,#29bdb2,#24bbb9,#20babe,#1cb9c4,#1ab7cd,#19b4d8,#19b2e0,#19b1e6,#1ab0e9,#1aafe9,#1aafe9,#1ab0e9,#1ab0e9,#1aafe9,#1aaee9,#1baae9)"></div><div style="top:1120px;height:4px;background:linear-gradient(90deg,#f3e037,#f3e235,#f3e037,#f3db3b,#f5d543,#f6d147,#f7ce4c,#f7cb53,#f7c95b,#f6c764,#f3c46c,#eec074,#e3bf80,#d2c189,#bec48f,#a9c696,#94c5a0,#7bc5a4,#5fc4a9,#3fc0ac,#2abdb0,#26bcb7,#22bbbc,#1db9c2,#1bb7cb,#19b5d7,#19b3df,#19b1e6,#1ab0e9,#1aafe9,#1ab0e9,#1ab0e9,#19b0e8,#1ab0e9,#1aaee9,#1aabe9)"></div><div style="top:1124px;height:4px;background:linear-gradient(90deg,#f3e037,#f3e235,#f3e037,#f3db3b,#f5d543,#f6d247,#f7ce4c,#f7cb53,#f7c95b,#f6c763,#f4c46b,#efc173,#e4bf7e,#d4c189,#c0c48f,#aac695,#96c59f,#7fc5a4,#65c5a8,#44c1ac,#2cbdae,#27bcb5,#23bbba,#1ebac0,#1bb8ca,#19b5d5,#19b3df,#19b1e5,#19b0e8,#1ab0e9,#1ab0e9,#19b0e8,#19b0e7,#19b0e8,#1aafe9,#1aabe9)"></div><div style="top:1128px;height:4px;background:linear-gradient(90deg,#f3e037,#f3e235,#f3e037,#f3db3b,#f5d543,#f6d247,#f7ce4b,#f7cb53,#f7c95b,#f6c762,#f4c56a,#f0c172,#e6bf7d,#d5c088,#c1c38e,#acc695,#99c59e,#82c5a3,#69c5a7,#4ac1ab,#32beae,#29bdb2,#25bbb8,#20babe,#1bb8c8,#19b5d4,#19b3de,#19b1e4,#19b0e8,#1ab0e9,#19b0e8,#19b1e7,#19b1e6,#19b1e7,#1ab0e9,#1aace9)"></div><div style="top:1132px;height:4px;background:linear-gradient(90deg,#f3e037,#f3e236,#f3e037,#f3db3b,#f5d542,#f6d247,#f7ce4b,#f7cb52,#f7c95a,#f6c762,#f4c569,#f0c271,#e7bf7c,#d6c088,#c3c38e,#aec694,#9bc59d,#86c5a3,#6ec5a7,#51c2aa,#38bfad,#2abdb0,#26bcb6,#21babc,#1bb8c6,#1ab6d2,#18b3dd,#19b2e3,#19b1e7,#19b0e8,#19b0e7,#19b1e6,#19b1e5,#19b1e6,#19b0e9,#1aade9)"></div><div style="top:1136px;height:4px;background:linear-gradient(90deg,#f3e037,#f3e236,#f3e037,#f3db3b,#f5d642,#f6d246,#f7ce4b,#f7cb52,#f7c95a,#f6c761,#f5c568,#f1c270,#e8bf7b,#d7c087,#c5c38d,#b0c693,#9dc59b,#8bc5a2,#73c5a6,#58c3a9,#3fc0ac,#2ebeae,#28bcb3,#23bbba,#1cb9c4,#1ab6d0,#18b4dc,#19b2e2,#19b1e6,#19b1e7,#19b1e6,#19b1e5,#19b1e4,#19b1e4,#19b0e7,#1aaee9)"></div><div style="top:1140px;height:4px;background:linear-gradient(90deg,#f3e037,#f3e236,#f3e037,#f3db3b,#f5d642,#f6d246,#f7cf4b,#f7cb52,#f7c95a,#f6c860,#f5c667,#f1c36f,#e9bf7a,#d9c087,#c7c38d,#b3c592,#a0c69a,#8fc5a1,#78c5a5,#60c4a9,#47c1ab,#35bfad,#2abdb1,#24bbb8,#1db9c2,#1ab7ce,#19b4da,#19b2e1,#19b1e5,#19b1e6,#19b1e5,#19b1e4,#19b2e3,#19b2e3,#19b1e6,#1aaee9)"></div><div style="top:1144px;height:4px;background:linear-gradient(90deg,#f3e037,#f3e136,#f3df37,#f3db3b,#f5d641,#f6d346,#f7cf4b,#f7cb52,#f7c95a,#f6c860,#f6c667,#f2c36e,#eabf79,#dabf86,#cac28c,#b5c591,#a3c699,#94c5a0,#7ec5a4,#68c5a8,#4fc2aa,#3cc0ad,#2bbdaf,#26bcb6,#1ebac0,#1ab7cc,#19b4d9,#19b3df,#19b2e3,#19b1e4,#19b1e4,#19b2e2,#19b2e1,#19b2e2,#19b1e5,#1aafe9)"></div><div style="top:1148px;height:4px;background:linear-gradient(90deg,#f3e037,#f3e136,#f3df37,#f3db3b,#f4d741,#f6d345,#f7cf4b,#f7cb52,#f7c959,#f6c860,#f6c666,#f2c36d,#ecbf78,#dcbf85,#cbc28b,#b8c591,#a7c697,#98c59e,#84c5a3,#6ec5a7,#58c3a9,#44c0ac,#31beae,#27bcb4,#20babe,#1bb7ca,#19b5d6,#19b3de,#19b2e1,#19b2e3,#19b2e2,#19b2e1,#19b2e0,#19b2e1,#19b2e3,#1ab0e9)"></div><div style="top:1152px;height:4px;background:linear-gradient(90deg,#f3e037,#f3e136,#f3df37,#f3dc3b,#f4d740,#f5d345,#f7cf4b,#f7cb52,#f7c959,#f6c85f,#f6c666,#f3c46c,#edbf77,#debf84,#cdc28b,#bbc490,#aac695,#9cc59c,#8bc5a2,#75c5a5,#60c4a8,#4bc1ab,#38bfad,#29bdb2,#21babc,#1bb8c8,#19b5d4,#18b3dc,#19b2e0,#19b2e1,#19b2e0,#19b3e0,#19b3df,#19b3df,#19b2e2,#19b1e7)"></div><div style="top:1156px;height:4px;background:linear-gradient(90deg,#f3e037,#f3e037,#f3df37,#f3dc3a,#f4d83f,#f5d445,#f7cf4b,#f7cb52,#f7c959,#f6c85f,#f6c665,#f3c46c,#edbf76,#dfbf83,#cfc18a,#bec48f,#aec694,#a0c69a,#92c5a1,#7cc5a4,#69c5a7,#54c3aa,#3fc0ac,#2abdb0,#23bbba,#1bb8c6,#1ab6d1,#19b4da,#19b3de,#19b3df,#19b3df,#19b3de,#19b3dd,#19b3de,#19b2e0,#19b1e5)"></div><div style="top:1160px;height:4px;background:linear-gradient(90deg,#f3e037,#f3e037,#f3df38,#f3dc3a,#f4d83f,#f5d444,#f7cf4b,#f7cb52,#f7c959,#f6c85f,#f6c765,#f3c46b,#eec075,#e1bf81,#d1c189,#c1c48e,#b1c692,#a4c698,#96c59f,#83c5a3,#70c5a6,#5cc4a9,#45c1ac,#2dbeae,#24bbb8,#1cb9c4,#1ab7ce,#19b5d7,#18b4dc,#18b3dd,#18b3dd,#18b3dc,#18b3dc,#18b3dc,#19b3df,#19b2e3)"></div><div style="top:1164px;height:4px;background:linear-gradient(90deg,#f3e037,#f3df37,#f3de38,#f3dc3a,#f4d93e,#f5d444,#f7cf4b,#f7cb52,#f7c959,#f6c85f,#f6c764,#f4c46b,#efc074,#e2bf80,#d3c189,#c4c38e,#b5c592,#a8c696,#9bc59c,#8bc5a2,#77c5a5,#64c5a8,#4cc2ab,#33beae,#26bcb6,#1eb9c1,#1bb7cc,#19b5d4,#19b4d9,#19b4db,#18b4db,#19b4db,#19b4da,#19b4db,#18b3dd,#19b2e1)"></div><div style="top:1168px;height:4px;background:linear-gradient(90deg,#f3e037,#f3df37,#f3de38,#f3dc39,#f4d93e,#f5d444,#f7cf4b,#f7cb52,#f7c959,#f6c85f,#f6c764,#f4c56a,#efc173,#e4bf7f,#d5c088,#c7c38d,#b8c591,#adc694,#a0c69a,#92c5a1,#7ec5a4,#6bc5a7,#54c3aa,#39bfad,#28bcb4,#20babf,#1bb8c9,#1ab6d1,#19b5d6,#19b5d8,#19b4d9,#19b4d8,#19b5d8,#19b4d9,#18b4db,#19b3df)"></div><div style="top:1172px;height:4px;background:linear-gradient(90deg,#f3e037,#f3df37,#f3de38,#f3dd39,#f4da3d,#f5d543,#f7cf4b,#f7cb52,#f7c959,#f6c85e,#f6c764,#f4c569,#f0c172,#e6bf7d,#d7c087,#cac28c,#bcc490,#b1c692,#a5c698,#97c59e,#85c5a3,#71c5a6,#5bc3a9,#40c0ac,#29bdb1,#22bbbc,#1bb9c5,#1ab7cd,#1ab6d2,#19b5d5,#19b5d5,#19b5d5,#19b5d6,#19b5d7,#19b4d9,#19b3dd)"></div><div style="top:1176px;height:4px;background:linear-gradient(90deg,#f3e037,#f3de38,#f3de38,#f3dd39,#f3da3c,#f5d543,#f7cf4b,#f7cb53,#f7c959,#f6c85e,#f6c763,#f4c569,#f0c271,#e7bf7c,#dac086,#ccc28b,#bfc48f,#b5c591,#aac696,#9cc59c,#8cc5a2,#78c5a5,#62c4a8,#46c1ab,#2bbdaf,#24bbb9,#1db9c2,#1bb8c9,#1ab7ce,#1ab6d1,#1ab6d2,#1ab6d2,#1ab6d3,#19b5d4,#19b5d7,#18b4db)"></div><div style="top:1180px;height:4px;background:linear-gradient(90deg,#f3e037,#f3de38,#f3de38,#f3dd38,#f3db3c,#f5d543,#f7cf4b,#f7cb53,#f7c959,#f6c85e,#f6c763,#f5c569,#f1c270,#e9bf7b,#dcbf86,#cec28a,#c2c38e,#b9c590,#afc693,#a1c69a,#93c5a0,#7ec5a4,#69c5a7,#4dc2ab,#31beae,#26bcb6,#20babf,#1bb8c6,#1bb7ca,#1ab7cd,#1ab7cf,#1ab6cf,#1ab6d0,#1ab6d2,#19b5d4,#19b4d8)"></div><div style="top:1184px;height:4px;background:linear-gradient(90deg,#f3e037,#f3de38,#f3de38,#f3de38,#f3db3b,#f5d542,#f7cf4b,#f7cb53,#f7c959,#f6c85f,#f6c763,#f5c568,#f1c26f,#eabf7a,#ddbf84,#d1c18a,#c6c38d,#bdc48f,#b3c592,#a6c697,#98c59e,#84c5a3,#6fc5a6,#54c3aa,#38bfad,#28bcb3,#22bbbb,#1db9c2,#1bb8c6,#1bb8c9,#1bb7cb,#1ab7cc,#1ab7cd,#1ab6cf,#1ab6d1,#19b5d5)"></div><div style="top:1188px;height:4px;background:linear-gradient(90deg,#f3e037,#f3de38,#f3dd38,#f3de38,#f3dc3a,#f5d642,#f7ce4b,#f7cb53,#f7c959,#f6c85f,#f6c763,#f5c568,#f2c36e,#ecbf78,#dfbf83,#d3c189,#c9c28c,#c0c48f,#b7c591,#abc695,#9cc59c,#8bc5a2,#74c5a6,#5bc4a9,#40c0ac,#2abdb0,#25bbb8,#20babe,#1db9c2,#1bb9c5,#1bb8c8,#1bb8c9,#1bb7ca,#1ab7cc,#1ab7ce,#1ab6d2)"></div><div style="top:1192px;height:4px;background:linear-gradient(90deg,#f3e037,#f3dd38,#f3dd38,#f3de38,#f3dc3a,#f5d642,#f7ce4b,#f7cb53,#f7c95a,#f6c85f,#f6c763,#f5c668,#f2c36e,#edbf77,#e1bf81,#d5c088,#cbc28b,#c4c38e,#bbc490,#afc693,#a1c69a,#91c5a1,#7ac5a5,#63c5a8,#48c1ab,#31beae,#28bcb4,#23bbba,#20babe,#1db9c1,#1cb9c4,#1bb8c6,#1bb8c8,#1bb8c9,#1bb7cc,#1ab7ce)"></div><div style="top:1196px;height:4px;background:linear-gradient(90deg,#f3e037,#f3dd39,#f3dd38,#f3de38,#f3dc3a,#f5d642,#f7ce4b,#f7cb53,#f7c95a,#f6c85f,#f6c763,#f5c667,#f2c36d,#edbf76,#e2bf80,#d6c088,#cdc28b,#c7c38d,#bfc48f,#b3c592,#a5c698,#95c59f,#80c5a4,#6ac5a7,#50c2aa,#3abfad,#2abdb0,#26bcb6,#23bbba,#20babd,#1ebac0,#1db9c2,#1bb9c4,#1bb8c6,#1bb8c9,#1bb7cb)"></div><div style="top:1200px;height:4px;background:linear-gradient(90deg,#f3e037,#f3dd39,#f3dd38,#f3de38,#f3dd39,#f5d642,#f7ce4c,#f7cb54,#f7c95a,#f6c85f,#f6c763,#f5c667,#f3c46c,#eec075,#e4bf7f,#d8c087,#d0c18a,#cac28c,#c2c38e,#b7c591,#a9c696,#9ac59d,#86c5a3,#70c5a6,#59c3a9,#44c0ac,#32beae,#29bdb1,#26bcb6,#23bbb9,#21babc,#1fbabf,#1eb9c1,#1cb9c3,#1bb8c6,#1bb8c8)"></div><div style="top:1204px;height:4px;background:linear-gradient(90deg,#f3e037,#f3dd39,#f3dd38,#f3de38,#f3dd39,#f5d642,#f7ce4c,#f7cb54,#f7c95a,#f6c85f,#f6c763,#f6c667,#f3c46c,#eec074,#e5bf7e,#dac086,#d1c189,#ccc28b,#c6c38d,#bbc490,#adc694,#9ec69b,#8cc5a2,#76c5a5,#62c4a8,#4ec2ab,#3dc0ad,#2fbeae,#29bdb2,#27bcb5,#24bbb9,#22bbbb,#20babe,#1ebac0,#1db9c3,#1bb9c5)"></div><div style="top:1208px;height:4px;background:linear-gradient(90deg,#f3e037,#f3dd39,#f3dd38,#f3df38,#f3dd39,#f5d642,#f7ce4c,#f7cb54,#f7c95a,#f6c85f,#f6c763,#f6c667,#f3c46b,#efc174,#e6bf7d,#dbbf86,#d3c189,#cec28a,#c9c38c,#bec48f,#b1c692,#a1c69a,#92c5a1,#7cc5a4,#6ac5a7,#58c3a9,#48c1ab,#3bbfad,#2fbeae,#2abdb1,#27bcb5,#25bbb8,#22bbbb,#21babd,#1fbac0,#1db9c2)"></div><div style="top:1212px;height:4px;background:linear-gradient(90deg,#f3e037,#f3dd39,#f3dd38,#f3df38,#f3dd39,#f5d642,#f7cd4d,#f7cb54,#f7c95a,#f6c85f,#f6c763,#f6c667,#f3c46b,#efc173,#e7bf7c,#ddbf85,#d5c088,#d0c18a,#cbc28c,#c1c48e,#b4c592,#a5c698,#96c59f,#83c5a3,#72c5a6,#63c4a8,#53c3aa,#46c1ab,#3bbfad,#30beae,#2abdb1,#27bcb4,#25bcb7,#23bbba,#21babc,#20babe)"></div><div style="top:1216px;height:4px;background:linear-gradient(90deg,#f3e037,#f3dd39,#f3de38,#f3df37,#f3dd38,#f5d542,#f7cd4d,#f7cb54,#f7c95a,#f6c85f,#f6c763,#f6c666,#f4c46b,#efc172,#e8bf7b,#debf84,#d6c088,#d2c189,#cdc28b,#c4c38e,#b7c591,#a9c696,#9ac59d,#8ac5a2,#79c5a5,#6cc5a7,#5fc4a9,#52c2aa,#46c1ab,#3bbfad,#30beae,#2abdb1,#28bcb4,#25bcb7,#24bbb9,#22bbbb)"></div><div style="top:1220px;height:4px;background:linear-gradient(90deg,#f3e037,#f3dd39,#f3de38,#f3df37,#f3dd38,#f5d542,#f7cd4d,#f7ca55,#f7c95a,#f6c85f,#f6c763,#f6c666,#f4c46a,#f0c172,#e8bf7b,#dfbf83,#d8c087,#d3c189,#cec28a,#c6c38d,#bac490,#adc694,#9ec69b,#90c5a1,#80c5a4,#74c5a6,#69c5a7,#5ec4a9,#52c2aa,#46c1ab,#3bbfad,#30beae,#2abdb0,#28bcb3,#26bcb6,#24bbb8)"></div><div style="top:1224px;height:4px;background:linear-gradient(90deg,#f3e037,#f3dd39,#f3de38,#f3df37,#f3dd39,#f5d543,#f7cd4d,#f7ca55,#f7c95a,#f6c85f,#f6c763,#f6c666,#f4c56a,#f0c172,#e9bf7a,#e0bf82,#d9c087,#d5c088,#d0c18a,#c9c38c,#bdc48f,#b0c693,#a2c699,#96c59f,#88c5a2,#7cc5a4,#72c5a6,#69c5a7,#5dc4a9,#52c2aa,#46c1ab,#3bbfad,#31beae,#2abdb0,#28bdb3,#27bcb5)"></div><div style="top:1228px;height:4px;background:linear-gradient(90deg,#f3e037,#f3dd38,#f3de38,#f3df37,#f3dd39,#f5d543,#f7cc4e,#f7ca55,#f7c95a,#f6c860,#f6c763,#f6c666,#f4c56a,#f0c271,#eabf7a,#e1bf82,#dabf86,#d6c088,#d1c189,#cac28c,#bfc48f,#b3c592,#a6c697,#9ac59d,#90c5a1,#84c5a3,#7ac5a5,#71c5a6,#68c5a7,#5dc4a9,#51c2aa,#45c1ac,#3bbfad,#31beae,#2bbdb0,#29bdb2)"></div><div style="top:1232px;height:4px;background:linear-gradient(90deg,#f3e037,#f3dd38,#f3de38,#f3df37,#f3dd39,#f5d543,#f8cc4e,#f7ca55,#f7c95a,#f6c860,#f6c763,#f6c666,#f4c56a,#f0c271,#eabf7a,#e1bf81,#dbbf86,#d7c087,#d3c189,#ccc28b,#c2c38e,#b6c591,#aac695,#9fc69b,#96c59f,#8cc5a2,#82c5a3,#7ac5a5,#71c5a6,#68c5a8,#5cc4a9,#50c2aa,#45c1ac,#3bbfad,#32beae,#2bbdaf)"></div><div style="top:1236px;height:4px;background:linear-gradient(90deg,#f3e037,#f3de38,#f3de38,#f3df37,#f3dd39,#f5d444,#f8cc4e,#f7ca55,#f7c95a,#f6c860,#f6c763,#f6c666,#f4c56a,#f0c271,#eabf79,#e2bf80,#dcbf85,#d9c087,#d4c188,#cdc28b,#c4c38e,#b9c590,#aec693,#a4c698,#9bc59d,#93c5a0,#8bc5a2,#82c5a3,#79c5a5,#70c5a6,#66c5a8,#5ac3a9,#4fc2aa,#44c1ac,#3bbfad,#33beae)"></div><div style="top:1240px;height:4px;background:linear-gradient(90deg,#f3e037,#f3de38,#f3df38,#f3df37,#f3dd39,#f5d444,#f8cc4f,#f7ca56,#f7c95a,#f6c860,#f6c763,#f6c665,#f4c569,#f0c271,#ebbf79,#e3bf80,#ddbf84,#dabf86,#d5c088,#cec28a,#c6c38d,#bcc490,#b2c592,#a9c696,#a0c69a,#99c59e,#92c5a1,#8ac5a2,#81c5a4,#78c5a5,#6ec5a7,#65c5a8,#59c3a9,#4ec2ab,#44c1ac,#3cbfad)"></div><div style="top:1244px;height:4px;background:linear-gradient(90deg,#f3e037,#f3de38,#f3df37,#f3df37,#f3dd39,#f5d444,#f8cc4f,#f7ca56,#f7c95a,#f6c860,#f6c763,#f6c665,#f4c569,#f0c271,#ebbf79,#e4bf7f,#debf83,#dbbf86,#d6c088,#d0c18a,#c8c38c,#bfc48f,#b6c591,#adc694,#a5c698,#9ec69b,#98c59e,#92c5a1,#89c5a2,#7fc5a4,#76c5a5,#6dc5a7,#63c4a8,#58c3a9,#4dc2ab,#44c1ac)"></div><div style="top:1248px;height:4px;background:linear-gradient(90deg,#f3e037,#f3de38,#f3df37,#f3df37,#f3dd39,#f5d444,#f8cc4f,#f7ca56,#f7c95a,#f6c860,#f6c763,#f6c665,#f4c569,#f0c271,#ebbf79,#e4bf7f,#dfbf83,#dcbf86,#d7c087,#d1c18a,#cac28c,#c1c38e,#b9c590,#b1c592,#aac695,#a3c699,#9dc59c,#97c59f,#90c5a1,#87c5a3,#7dc5a4,#74c5a6,#6bc5a7,#61c4a8,#56c3aa,#4dc2ab)"></div><div style="top:1252px;height:4px;background:linear-gradient(90deg,#f3e037,#f3df38,#f3df37,#f3e037,#f3dd39,#f5d345,#f7cc50,#f7ca56,#f7c95a,#f6c860,#f6c763,#f6c665,#f4c569,#f1c270,#ecbf78,#e5bf7e,#e0bf82,#ddbf85,#d8c087,#d2c189,#cbc28b,#c4c38e,#bcc490,#b5c591,#afc693,#a8c696,#a2c699,#9cc59c,#96c59f,#8ec5a1,#85c5a3,#7cc5a4,#73c5a6,#6ac5a7,#60c4a9,#55c3aa)"></div><div style="top:1256px;height:4px;background:linear-gradient(90deg,#f3e037,#f3df37,#f3df37,#f3e037,#f3dc39,#f5d345,#f7cc50,#f7ca56,#f7c95a,#f6c85f,#f6c763,#f6c665,#f4c569,#f1c270,#ecbf78,#e5bf7d,#e1bf81,#debf84,#d9c087,#d3c189,#cdc28b,#c6c38d,#c0c48f,#b9c490,#b3c592,#adc694,#a7c697,#a1c69a,#9bc59d,#94c5a0,#8cc5a2,#83c5a3,#7ac5a5,#71c5a6,#68c5a7,#5ec4a9)"></div><div style="top:1260px;height:4px;background:linear-gradient(90deg,#f3e037,#f3df37,#f3e037,#f3e037,#f3dc39,#f6d345,#f7cc50,#f7ca56,#f7c95a,#f6c85f,#f6c763,#f6c765,#f5c569,#f1c270,#ecbf78,#e6bf7d,#e2bf80,#dfbf83,#dabf86,#d4c188,#cec28b,#c9c28c,#c3c38e,#bdc48f,#b7c591,#b2c592,#acc695,#a6c698,#9fc69b,#99c59e,#93c5a1,#8ac5a2,#81c5a4,#78c5a5,#6fc5a6,#67c5a8)"></div><div style="top:1264px;height:4px;background:linear-gradient(90deg,#f3e037,#f3df37,#f3e037,#f3e037,#f3dc39,#f6d345,#f7cc50,#f7ca56,#f7c95a,#f6c85f,#f6c763,#f6c764,#f5c569,#f1c270,#edbf77,#e7bf7c,#e3bf80,#dfbf83,#dbbf86,#d5c088,#cfc18a,#cbc28c,#c6c38d,#c0c48e,#bbc490,#b6c591,#b0c693,#aac696,#a4c699,#9dc59b,#97c59e,#91c5a1,#88c5a2,#7fc5a4,#76c5a5,#6dc5a7)"></div><div style="top:1268px;height:4px;background:linear-gradient(90deg,#f3e037,#f3df37,#f3e037,#f3e037,#f3dc39,#f6d345,#f7cc50,#f7ca56,#f7c95a,#f6c85f,#f6c763,#f6c764,#f5c568,#f1c270,#edbf77,#e7bf7c,#e4bf7f,#e0bf82,#dcbf86,#d6c088,#d1c18a,#ccc28b,#c8c38c,#c4c38e,#bfc48f,#bac490,#b4c592,#aec694,#a8c697,#a2c699,#9cc59c,#96c59f,#8ec5a1,#86c5a3,#7dc5a4,#73c5a6)"></div><div style="top:1272px;height:4px;background:linear-gradient(90deg,#f3e037,#f3df37,#f3e037,#f3e037,#f3dc39,#f6d345,#f7cc50,#f7ca56,#f7c959,#f6c85f,#f6c763,#f6c764,#f5c568,#f1c26f,#edbf77,#e8bf7b,#e4bf7e,#e1bf81,#ddbf85,#d7c087,#d2c189,#cec28b,#cbc28c,#c7c38d,#c2c38e,#bdc48f,#b8c591,#b2c592,#acc695,#a6c697,#a0c69a,#9ac59d,#94c5a0,#8cc5a2,#83c5a3,#7ac5a5)"></div><div style="top:1276px;height:4px;background:linear-gradient(90deg,#f3e037,#f3df37,#f3e037,#f3e037,#f3dd39,#f6d345,#f7cc50,#f7ca55,#f7c959,#f6c85f,#f6c762,#f6c764,#f5c568,#f1c26f,#eec076,#e9bf7a,#e5bf7e,#e2bf80,#ddbf84,#d8c087,#d3c189,#cfc18a,#cdc28b,#cac28c,#c6c38d,#c0c48e,#bbc490,#b5c591,#b0c693,#aac696,#a4c698,#9ec69b,#98c59e,#92c5a1,#8ac5a2,#80c5a4)"></div><div style="top:1280px;height:4px;background:linear-gradient(90deg,#f3e037,#f3df37,#f3e037,#f3e037,#f3dd39,#f6d345,#f7cc50,#f7ca55,#f7c959,#f7c85e,#f6c762,#f6c764,#f5c668,#f1c36f,#eec075,#eabf7a,#e6bf7d,#e3bf80,#debf84,#d9c087,#d4c188,#d1c18a,#cec28a,#ccc28b,#c9c38c,#c4c38e,#bec48f,#b8c591,#b3c592,#aec694,#a8c697,#a2c699,#9dc59c,#97c59f,#90c5a1,#87c5a3)"></div><div style="top:1284px;height:4px;background:linear-gradient(90deg,#f3e037,#f3df37,#f3e037,#f3e037,#f3dd39,#f5d345,#f7cc50,#f7ca55,#f7ca58,#f7c85e,#f6c762,#f6c763,#f5c667,#f2c36e,#eec075,#ebbf79,#e7bf7c,#e4bf7f,#dfbf83,#dac086,#d5c088,#d2c189,#d0c18a,#cec28b,#cbc28c,#c6c38d,#c1c38e,#bbc490,#b6c591,#b1c692,#acc695,#a6c697,#a1c69a,#9bc59d,#95c59f,#8dc5a2)"></div><div style="top:1288px;height:4px;background:linear-gradient(90deg,#f3e037,#f3df37,#f3e037,#f3e036,#f3dd39,#f5d345,#f7cc50,#f7ca55,#f7ca58,#f7c85e,#f6c762,#f6c763,#f5c667,#f2c36e,#efc074,#ecbf78,#e8bf7b,#e4bf7e,#e0bf82,#dbbf86,#d6c088,#d4c189,#d1c189,#cfc18a,#cdc28b,#c9c28c,#c4c38e,#bec48f,#b9c590,#b4c592,#afc693,#aac696,#a5c698,#9fc69b,#99c59d,#93c5a0)"></div><div style="top:1292px;height:4px;background:linear-gradient(90deg,#f3e037,#f3df37,#f3e036,#f3e136,#f3dd38,#f5d445,#f8cc50,#f7cb54,#f7ca58,#f7c85d,#f6c761,#f6c763,#f6c667,#f2c36d,#efc173,#ecbf78,#e9bf7b,#e5bf7e,#e1bf81,#dcbf86,#d8c087,#d5c088,#d3c189,#d1c189,#cec28a,#cbc28c,#c6c38d,#c1c48e,#bcc490,#b7c591,#b2c592,#aec694,#a9c696,#a3c699,#9ec69b,#98c59e)"></div><div style="top:1296px;height:4px;background:linear-gradient(90deg,#f3e037,#f3df37,#f3e036,#f3e136,#f3de38,#f5d444,#f8cc4f,#f7cb54,#f7ca57,#f7c85d,#f6c761,#f6c762,#f6c666,#f3c46d,#efc173,#edbf77,#eabf7a,#e6bf7d,#e2bf81,#ddbf85,#d9c087,#d6c088,#d4c088,#d3c189,#d0c18a,#cdc28b,#c9c38c,#c3c38e,#bec48f,#bac490,#b5c591,#b1c692,#adc694,#a7c697,#a2c699,#9cc59c)"></div><div style="top:1300px;height:4px;background:linear-gradient(90deg,#f3e037,#f3df37,#f3e036,#f3e136,#f3de38,#f5d444,#f8cc4f,#f7cb54,#f7ca57,#f7c95d,#f6c861,#f6c762,#f6c666,#f3c46c,#f0c172,#eec076,#ebbf79,#e7bf7c,#e3bf80,#debf84,#dabf86,#d7c087,#d6c088,#d4c188,#d2c189,#cec28a,#cbc28c,#c6c38d,#c1c48e,#bcc490,#b8c591,#b4c592,#b0c693,#abc695,#a6c697,#a0c69a)"></div><div style="top:1304px;height:4px;background:linear-gradient(90deg,#f3e037,#f3df37,#f3e036,#f3e136,#f3de38,#f5d444,#f8cc4f,#f7cb53,#f7ca57,#f7c95c,#f6c860,#f6c762,#f6c666,#f3c46b,#f0c271,#eec075,#ecbf78,#e8bf7b,#e3bf7f,#dfbf83,#dbbf86,#d9c087,#d7c087,#d6c088,#d3c189,#d0c18a,#ccc28b,#c8c38d,#c3c38e,#bfc48f,#bbc490,#b7c591,#b3c592,#afc693,#aac695,#a5c698)"></div><div style="top:1308px;height:4px;background:linear-gradient(90deg,#f3e037,#f3df37,#f3e036,#f3e136,#f3de38,#f5d543,#f8cc4e,#f7cb53,#f7ca56,#f7c95c,#f6c860,#f6c762,#f6c665,#f3c46b,#f1c270,#efc074,#ecbf78,#e9bf7b,#e4bf7e,#e0bf82,#dcbf85,#dabf86,#d8c087,#d7c087,#d5c088,#d1c189,#cec28b,#cac28c,#c6c38d,#c1c38e,#bec48f,#bac490,#b7c591,#b3c592,#aec693,#a9c696)"></div><div style="top:1312px;height:4px;background:linear-gradient(90deg,#f3e037,#f3df37,#f3e037,#f3e136,#f3de38,#f5d543,#f8cc4e,#f7cb53,#f7ca56,#f7c95c,#f6c860,#f6c761,#f6c665,#f4c46a,#f1c26f,#efc173,#edbf77,#eabf7a,#e5bf7e,#e1bf82,#ddbf84,#dbbf86,#dac086,#d8c087,#d6c088,#d3c189,#cfc18a,#ccc28b,#c8c38d,#c4c38e,#c0c48e,#bdc48f,#bac490,#b6c591,#b2c592,#adc694)"></div><div style="top:1316px;height:4px;background:linear-gradient(90deg,#f3e037,#f3df37,#f3e037,#f3e136,#f3df38,#f5d543,#f7cd4e,#f7cb52,#f7ca56,#f7c95b,#f6c85f,#f6c761,#f6c764,#f4c56a,#f1c36f,#efc173,#eec076,#eabf79,#e6bf7d,#e2bf81,#debf83,#dcbf85,#dbbf86,#d9c086,#d7c087,#d4c188,#d0c18a,#cdc28b,#cac28c,#c6c38d,#c3c38e,#c0c48f,#bdc48f,#b9c490,#b6c591,#b1c692)"></div><div style="top:1320px;height:4px;background:linear-gradient(90deg,#f3e037,#f3df37,#f3e037,#f3e136,#f3df37,#f5d542,#f7cd4d,#f7cb52,#f7ca55,#f7c95b,#f6c85f,#f6c761,#f6c764,#f4c569,#f2c36e,#f0c172,#eec075,#ebbf79,#e7bf7c,#e3bf80,#dfbf83,#debf84,#dcbf85,#dbbf86,#d8c087,#d5c088,#d2c189,#cec28a,#ccc28b,#c9c28c,#c6c38d,#c3c38e,#c0c48f,#bdc48f,#b9c590,#b5c591)"></div><div style="top:1324px;height:4px;background:linear-gradient(90deg,#f3e037,#f3df38,#f3e037,#f3e136,#f3df37,#f5d642,#f7cd4d,#f7cb52,#f7ca55,#f7c95b,#f6c85f,#f6c761,#f6c764,#f5c569,#f2c36d,#f0c271,#eec074,#ecbf78,#e8bf7c,#e4bf7f,#e1bf82,#dfbf83,#ddbf84,#dcbf86,#dac086,#d6c087,#d3c189,#d0c18a,#cdc28b,#cbc28c,#c8c38c,#c6c38d,#c3c38e,#c0c48f,#bdc48f,#b9c591)"></div><div style="top:1328px;height:4px;background:linear-gradient(90deg,#f3e037,#f3df38,#f3e037,#f3e136,#f3df37,#f5d641,#f7cd4c,#f7cb51,#f7ca55,#f7c95a,#f6c85f,#f6c861,#f6c764,#f5c568,#f2c36d,#f1c270,#efc174,#edbf77,#e9bf7b,#e5bf7e,#e2bf81,#e0bf82,#debf83,#ddbf85,#dbbf86,#d8c087,#d4c088,#d1c189,#cfc18a,#ccc28b,#cac28c,#c8c38c,#c6c38d,#c3c38e,#c0c48f,#bcc490)"></div><div style="top:1332px;height:4px;background:linear-gradient(90deg,#f3e037,#f3de38,#f3e037,#f3e136,#f3df37,#f5d641,#f7ce4c,#f7cb51,#f7ca55,#f7c95a,#f6c85e,#f6c860,#f6c763,#f5c568,#f3c46c,#f1c270,#efc173,#edbf77,#eabf7a,#e6bf7d,#e3bf80,#e1bf81,#e0bf82,#debf84,#dcbf86,#d9c087,#d6c088,#d3c189,#d0c18a,#cec28b,#ccc28b,#cbc28c,#c9c38c,#c6c38d,#c3c38e,#c0c48f)"></div><div style="top:1336px;height:4px;background:linear-gradient(90deg,#f3e037,#f3de38,#f3e037,#f3e236,#f3df37,#f4d741,#f7ce4c,#f7cb51,#f7cb55,#f7c95a,#f7c85e,#f6c860,#f6c763,#f5c668,#f3c46c,#f1c26f,#efc172,#eec076,#eabf79,#e7bf7c,#e4bf7f,#e2bf80,#e1bf82,#dfbf83,#ddbf85,#dabf86,#d7c087,#d4c088,#d2c189,#d0c18a,#cec28b,#ccc28b,#cbc28c,#c9c28c,#c6c38d,#c3c38e)"></div><div style="top:1340px;height:4px;background:linear-gradient(90deg,#f3e037,#f3de38,#f3e037,#f3e236,#f3e037,#f4d740,#f7ce4b,#f7cb51,#f7cb55,#f7c95a,#f7c85e,#f6c860,#f6c763,#f5c667,#f3c46b,#f2c36e,#f0c172,#eec075,#ebbf79,#e8bf7b,#e5bf7e,#e3bf7f,#e2bf81,#e0bf82,#debf84,#dbbf86,#d8c087,#d6c088,#d3c189,#d1c189,#d0c18a,#cec28a,#cdc28b,#cbc28b,#cac28c,#c6c38d)"></div><div style="top:1344px;height:4px;background:linear-gradient(90deg,#f3e037,#f3de38,#f3e037,#f3e236,#f3e037,#f4d740,#f7cf4b,#f7cc51,#f7cb54,#f7c95a,#f7c85e,#f6c860,#f6c763,#f5c667,#f4c46b,#f2c36e,#f0c271,#eec075,#ecbf78,#e9bf7b,#e6bf7d,#e4bf7e,#e3bf80,#e1bf81,#dfbf83,#ddbf85,#dabf86,#d7c087,#d5c088,#d3c189,#d2c189,#d0c18a,#cfc18a,#cdc28b,#ccc28b,#cac28c)"></div><div style="top:1348px;height:4px;background:linear-gradient(90deg,#f3e037,#f3de38,#f3e037,#f3e236,#f3e037,#f4d83f,#f7cf4a,#f7cc50,#f7cb54,#f7c959,#f7c85e,#f6c860,#f6c763,#f5c667,#f4c46a,#f2c36e,#f0c271,#efc074,#edbf77,#eabf7a,#e7bf7c,#e6bf7d,#e4bf7f,#e2bf80,#e0bf82,#debf84,#dbbf86,#d9c087,#d7c087,#d5c088,#d4c189,#d2c189,#d1c189,#d0c18a,#cec28b,#ccc28b)"></div><div style="top:1352px;height:4px;background:linear-gradient(90deg,#f3e037,#f3de38,#f3e037,#f3e136,#f3e037,#f4d83f,#f7cf4a,#f7cc50,#f7cb54,#f7c959,#f7c85d,#f6c860,#f6c763,#f6c667,#f4c56a,#f2c36d,#f1c270,#efc173,#eec076,#ebbf79,#e9bf7b,#e7bf7c,#e5bf7e,#e3bf7f,#e1bf81,#dfbf83,#ddbf85,#dabf86,#d8c087,#d7c087,#d5c088,#d4c188,#d3c189,#d2c189,#d0c18a,#cec28a)"></div><div style="top:1356px;height:4px;background:linear-gradient(90deg,#f3e037,#f3de38,#f3e037,#f3e136,#f3e037,#f4d83f,#f7d04a,#f7cc50,#f7cb54,#f7c959,#f7c85d,#f6c860,#f6c763,#f6c667,#f4c56a,#f2c36d,#f1c270,#efc172,#eec075,#ecbf78,#eabf7a,#e8bf7b,#e6bf7d,#e5bf7e,#e3bf80,#e0bf82,#debf84,#dcbf85,#dabf86,#d9c087,#d7c087,#d6c088,#d5c088,#d4c189,#d2c189,#d0c18a)"></div><div style="top:1360px;height:4px;background:linear-gradient(90deg,#f3e037,#f3de38,#f3e037,#f3e136,#f3e037,#f4d93e,#f6d049,#f7cc50,#f7cb54,#f7c959,#f7c85d,#f6c860,#f6c763,#f6c667,#f4c569,#f3c46c,#f1c26f,#f0c172,#eec074,#edbf77,#ebbf79,#e9bf7a,#e7bf7c,#e6bf7d,#e4bf7f,#e2bf81,#dfbf83,#ddbf84,#dcbf86,#dabf86,#d9c087,#d8c087,#d7c087,#d6c088,#d4c088,#d3c189)"></div><div style="top:1364px;height:4px;background:linear-gradient(90deg,#f3e037,#f3de38,#f3e037,#f3e136,#f3e037,#f4d93e,#f6d049,#f8cc4f,#f7cb54,#f7c959,#f7c85d,#f6c860,#f6c763,#f6c667,#f4c569,#f3c46c,#f2c36f,#f0c271,#efc173,#eec076,#ecbf78,#eabf79,#e9bf7b,#e7bf7c,#e5bf7e,#e3bf80,#e1bf81,#dfbf83,#debf84,#dcbf85,#dbbf86,#dabf86,#d9c087,#d8c087,#d6c088,#d5c088)"></div><div style="top:1368px;height:4px;background:linear-gradient(90deg,#f3e037,#f3de38,#f3e037,#f3e136,#f3e037,#f4d93e,#f6d148,#f8cc4f,#f7cb54,#f7ca59,#f7c95c,#f6c860,#f6c763,#f6c666,#f5c569,#f3c46b,#f2c36e,#f1c270,#efc172,#eec074,#edbf76,#ecbf78,#eabf7a,#e8bf7b,#e6bf7d,#e4bf7f,#e2bf80,#e1bf81,#dfbf83,#debf84,#ddbf85,#dcbf86,#dbbf86,#dac086,#d8c087,#d7c087)"></div><div style="top:1372px;height:4px;background:linear-gradient(90deg,#f3e037,#f3de38,#f3e037,#f3e136,#f3e037,#f4d93d,#f6d148,#f8cc4f,#f7cb54,#f7ca58,#f7c95c,#f6c860,#f6c763,#f6c666,#f5c568,#f3c46b,#f2c36d,#f1c26f,#f0c271,#efc173,#eec075,#edbf77,#ebbf79,#e9bf7a,#e7bf7c,#e6bf7d,#e4bf7f,#e2bf80,#e1bf81,#e0bf82,#dfbf83,#debf84,#ddbf85,#dcbf86,#dabf86,#d9c087)"></div><div style="top:1376px;height:4px;background:linear-gradient(90deg,#f3e037,#f3de38,#f3e037,#f3e136,#f3e037,#f4da3d,#f6d247,#f8cc4e,#f7cb54,#f7ca58,#f7c95b,#f6c85f,#f6c763,#f6c666,#f5c568,#f4c46b,#f2c36d,#f1c36f,#f1c270,#f0c172,#efc074,#eec076,#ecbf78,#eabf79,#e9bf7b,#e7bf7c,#e5bf7d,#e4bf7f,#e3bf80,#e2bf81,#e1bf82,#dfbf82,#debf83,#ddbf84,#dcbf85,#dbbf86)"></div><div style="top:1380px;height:4px;background:linear-gradient(90deg,#f3e037,#f3de38,#f3e037,#f3e136,#f3e037,#f4da3c,#f6d247,#f8cc4e,#f7cb54,#f7ca57,#f7c95b,#f6c85f,#f6c763,#f6c665,#f5c668,#f4c56a,#f3c46c,#f2c36e,#f1c26f,#f0c271,#efc173,#eec075,#edbf77,#ecbf78,#eabf7a,#e8bf7b,#e7bf7c,#e6bf7d,#e5bf7e,#e3bf7f,#e2bf80,#e1bf81,#e0bf82,#dfbf83,#debf83,#ddbf84)"></div><div style="top:1384px;height:4px;background:linear-gradient(90deg,#f3e037,#f3de38,#f3e037,#f3e136,#f3e037,#f3da3c,#f6d246,#f7cd4e,#f7cb53,#f7ca57,#f7c95a,#f6c85f,#f6c762,#f6c665,#f5c667,#f4c569,#f3c46b,#f2c36d,#f2c36e,#f1c270,#f0c271,#efc173,#eec075,#edbf77,#ebbf79,#eabf7a,#e9bf7b,#e7bf7c,#e6bf7d,#e5bf7e,#e4bf7e,#e3bf7f,#e2bf80,#e1bf81,#e0bf82,#dfbf83)"></div><div style="top:1388px;height:4px;background:linear-gradient(90deg,#f3e037,#f3df38,#f3e037,#f3e136,#f3e037,#f3db3c,#f6d345,#f7cd4d,#f7cb53,#f7ca56,#f7c959,#f7c85e,#f6c762,#f6c764,#f6c667,#f5c569,#f4c46b,#f3c46c,#f2c36d,#f2c36e,#f1c270,#f0c172,#efc074,#eec076,#edbf77,#ebbf78,#eabf79,#e9bf7a,#e8bf7b,#e7bf7c,#e6bf7d,#e5bf7e,#e4bf7f,#e3bf7f,#e2bf80,#e1bf81)"></div><div style="top:1392px;height:4px;background:linear-gradient(90deg,#f3e037,#f3df37,#f3e037,#f3e136,#f3e037,#f3db3b,#f5d345,#f7cd4d,#f7cb52,#f7ca55,#f7ca58,#f7c85d,#f6c761,#f6c764,#f6c666,#f5c568,#f4c56a,#f3c46b,#f3c46c,#f2c36d,#f1c36f,#f0c271,#efc173,#eec074,#eec076,#edbf77,#ecbf78,#ebbf79,#eabf7a,#e9bf7a,#e8bf7b,#e7bf7c,#e6bf7d,#e5bf7e,#e4bf7f,#e3bf7f)"></div><div style="top:1396px;height:4px;background:linear-gradient(90deg,#f3e037,#f3df37,#f3e037,#f3e136,#f3e037,#f3db3b,#f5d444,#f7ce4c,#f7cb51,#f7cb54,#f7ca57,#f7c95c,#f6c860,#f6c763,#f6c665,#f5c667,#f4c569,#f4c56a,#f3c46b,#f3c46c,#f2c36d,#f1c26f,#f0c271,#efc173,#eec074,#eec076,#edbf76,#edbf77,#ecbf78,#ebbf79,#eabf7a,#e9bf7a,#e8bf7b,#e7bf7c,#e6bf7d,#e5bf7e)"></div><div style="top:1400px;height:4px;background:linear-gradient(90deg,#f3e037,#f3df37,#f3e037,#f3e136,#f3e037,#f3db3b,#f5d543,#f7ce4b,#f7cc50,#f7cb53,#f7ca56,#f7c95b,#f6c85f,#f6c762,#f6c764,#f6c666,#f5c568,#f4c569,#f4c56a,#f4c46b,#f3c46c,#f2c36e,#f1c270,#f0c171,#efc173,#efc074,#eec075,#eec075,#edbf76,#edbf77,#ecbf78,#ebbf79,#eabf7a,#e9bf7a,#e8bf7b,#e7bf7c)"></div><div style="top:1404px;height:4px;background:linear-gradient(90deg,#f3e037,#f3df37,#f3e037,#f3e136,#f3e037,#f3dc3a,#f5d543,#f7cf4a,#f8cc4f,#f7cb51,#f7cb54,#f7c95a,#f7c85e,#f6c860,#f6c763,#f6c665,#f6c667,#f5c668,#f5c568,#f4c569,#f4c46a,#f3c46c,#f2c36e,#f1c270,#f0c271,#f0c172,#efc173,#efc174,#eec074,#eec075,#eec076,#edbf77,#ecbf78,#ebbf79,#eabf79,#e9bf7a)"></div><div style="top:1408px;height:4px;background:linear-gradient(90deg,#f3e037,#f3df37,#f3e037,#f3e136,#f3e037,#f3dc3a,#f5d642,#f6d049,#f8cc4e,#f7cc50,#f7cb53,#f7ca58,#f7c85d,#f6c85f,#f6c761,#f6c764,#f6c666,#f6c666,#f5c667,#f5c668,#f4c569,#f3c46b,#f3c46d,#f2c36e,#f1c270,#f0c271,#f0c271,#f0c172,#efc172,#efc173,#efc074,#eec075,#eec076,#edbf77,#ecbf78,#ecbf78)"></div><div style="top:1412px;height:4px;background:linear-gradient(90deg,#f3e037,#f3e037,#f3e037,#f3e136,#f3e037,#f3dc3a,#f5d641,#f6d148,#f7cd4d,#f8cc4e,#f7cb51,#f7ca56,#f7c95b,#f7c85d,#f6c85f,#f6c762,#f6c764,#f6c765,#f6c665,#f6c666,#f5c668,#f4c569,#f3c46b,#f2c36d,#f2c36e,#f1c36f,#f1c26f,#f1c270,#f0c271,#f0c271,#f0c172,#efc173,#efc074,#eec075,#eec076,#edbf76)"></div><div style="top:1416px;height:4px;background:linear-gradient(90deg,#f3e037,#f3e037,#f3e037,#f3e136,#f3e037,#f3dc39,#f4d740,#f6d247,#f7ce4b,#f7cd4c,#f8cc4f,#f7cb54,#f7c959,#f7c95c,#f7c85e,#f6c860,#f6c762,#f6c763,#f6c763,#f6c764,#f6c666,#f5c668,#f4c569,#f3c46b,#f3c46c,#f2c36d,#f2c36e,#f2c36e,#f1c36f,#f1c26f,#f1c270,#f0c271,#f0c172,#efc173,#efc174,#eec074)"></div><div style="top:1420px;height:4px;background:linear-gradient(90deg,#f3e036,#f3e037,#f3e036,#f3e036,#f3df37,#f3dd39,#f4d83f,#f6d346,#f7d04a,#f7cf4b,#f7cd4d,#f7cb52,#f7ca58,#f7c95a,#f7c95c,#f7c85e,#f6c860,#f6c761,#f6c761,#f6c762,#f6c764,#f6c666,#f5c668,#f4c569,#f4c46a,#f3c46b,#f3c46c,#f3c46c,#f2c36d,#f2c36d,#f2c36e,#f1c26f,#f1c270,#f0c271,#f0c172,#f0c172)"></div><div style="top:1424px;height:4px;background:linear-gradient(90deg,#f3e136,#f3e036,#f3e136,#f3e036,#f3df37,#f3dd39,#f4d83e,#f5d445,#f6d148,#f6d049,#f7cf4b,#f7cc50,#f7ca55,#f7ca58,#f7c95a,#f7c95c,#f7c85e,#f6c85f,#f6c85f,#f6c860,#f6c762,#f6c764,#f6c666,#f5c668,#f5c569,#f4c569,#f4c56a,#f4c56a,#f3c46b,#f3c46b,#f3c46c,#f2c36d,#f2c36e,#f1c36f,#f1c270,#f1c270)"></div><div style="top:1428px;height:4px;background:linear-gradient(90deg,#f3e136,#f3e136,#f3e136,#f3e036,#f3df37,#f3dd38,#f4d93e,#f5d543,#f6d247,#f6d247,#f6d049,#f8cc4e,#f7cb53,#f7ca56,#f7ca58,#f7c95a,#f7c95c,#f7c85d,#f7c85d,#f7c85e,#f6c860,#f6c762,#f6c764,#f6c666,#f6c667,#f5c667,#f5c668,#f5c568,#f5c569,#f4c569,#f4c56a,#f3c46b,#f3c46c,#f2c36d,#f2c36d,#f2c36e)"></div><div style="top:1432px;height:4px;background:linear-gradient(90deg,#f3e136,#f3e136,#f3e136,#f3e036,#f3df37,#f3de38,#f4da3d,#f5d642,#f5d345,#f5d345,#f6d247,#f7ce4c,#f7cb51,#f7cb53,#f7ca55,#f7ca58,#f7c95a,#f7c95b,#f7c95b,#f7c95c,#f7c85d,#f6c85f,#f6c761,#f6c763,#f6c764,#f6c665,#f6c666,#f6c666,#f6c667,#f5c667,#f5c568,#f4c569,#f4c56a,#f4c46b,#f3c46b,#f3c46c)"></div><div style="top:1436px;height:4px;background:linear-gradient(90deg,#f3e136,#f3e136,#f3e136,#f3e036,#f3df37,#f3de38,#f3db3c,#f4d740,#f5d543,#f5d543,#f5d444,#f7cf4a,#f8cc4f,#f7cb51,#f7cb53,#f7ca56,#f7ca58,#f7ca58,#f7c959,#f7c95a,#f7c95b,#f7c85d,#f6c85f,#f6c860,#f6c762,#f6c762,#f6c763,#f6c764,#f6c764,#f6c665,#f6c666,#f5c667,#f5c668,#f5c568,#f4c569,#f4c56a)"></div><div style="top:1440px;height:4px;background:linear-gradient(90deg,#f3e136,#f3e136,#f3e136,#f3e036,#f3df37,#f3de38,#f3db3b,#f4d83f,#f5d641,#f4d741,#f5d542,#f6d148,#f7cd4c,#f8cc4f,#f7cb51,#f7cb53,#f7ca55,#f7ca56,#f7ca57,#f7ca58,#f7c959,#f7c95b,#f7c95c,#f7c85e,#f6c85f,#f6c860,#f6c860,#f6c761,#f6c762,#f6c762,#f6c763,#f6c764,#f6c665,#f6c666,#f5c667,#f5c667)"></div><div style="top:1444px;height:4px;background:linear-gradient(90deg,#f3e136,#f3e236,#f3e136,#f3e036,#f3df37,#f3de38,#f3dc3a,#f4d93d,#f4d83f,#f4d83e,#f4d740,#f6d345,#f7cf4a,#f7cd4c,#f8cc4e,#f7cb51,#f7cb53,#f7cb54,#f7cb54,#f7ca55,#f7ca57,#f7ca58,#f7c95a,#f7c95b,#f7c95c,#f7c85d,#f7c85e,#f7c85e,#f6c85f,#f6c860,#f6c860,#f6c761,#f6c762,#f6c763,#f6c764,#f6c665)"></div><div style="top:1448px;height:4px;background:linear-gradient(90deg,#f3e236,#f3e235,#f3e236,#f3e136,#f3df37,#f3de38,#f3dd39,#f3da3c,#f4d93d,#f3da3c,#f4d93e,#f5d543,#f6d148,#f7cf4a,#f7ce4c,#f8cc4f,#f7cc51,#f7cb51,#f7cb52,#f7cb53,#f7cb55,#f7ca56,#f7ca57,#f7ca59,#f7c959,#f7c95a,#f7c95b,#f7c95b,#f7c95c,#f7c85d,#f7c85e,#f6c85f,#f6c85f,#f6c860,#f6c761,#f6c762)"></div><div style="top:1452px;height:4px;background:linear-gradient(90deg,#f3e236,#f3e235,#f3e236,#f3e136,#f3df37,#f3df37,#f3de38,#f3dc3b,#f3db3b,#f3dc3a,#f3db3b,#f5d641,#f6d346,#f6d148,#f7cf4a,#f7ce4c,#f8cc4e,#f8cc4f,#f7cc50,#f7cb51,#f7cb52,#f7cb54,#f7ca55,#f7ca56,#f7ca57,#f7ca57,#f7ca58,#f7ca59,#f7c959,#f7c95a,#f7c95b,#f7c95c,#f7c95d,#f7c85d,#f7c85e,#f6c85f)"></div><div style="top:1456px;height:4px;background:linear-gradient(90deg,#f3e236,#f3e335,#f3e236,#f3e136,#f3e037,#f3df37,#f3de38,#f3dd39,#f3dc3a,#f3dd38,#f3dd39,#f4d83f,#f5d444,#f6d346,#f6d148,#f7cf4a,#f7ce4c,#f7cd4d,#f7cd4e,#f8cc4f,#f7cc50,#f7cb51,#f7cb52,#f7cb53,#f7cb54,#f7cb55,#f7ca55,#f7ca56,#f7ca56,#f7ca57,#f7ca58,#f7c959,#f7c95a,#f7c95a,#f7c95b,#f7c95c)"></div><div style="top:1460px;height:4px;background:linear-gradient(90deg,#f3e235,#f3e335,#f3e235,#f3e136,#f3e037,#f3df37,#f3df38,#f3de38,#f3de38,#f3df38,#f3de38,#f4da3c,#f5d641,#f5d444,#f6d345,#f6d148,#f7d04a,#f7cf4b,#f7ce4c,#f7cd4d,#f7cc4e,#f8cc4f,#f8cc50,#f7cc50,#f7cb51,#f7cb52,#f7cb52,#f7cb53,#f7cb54,#f7cb54,#f7ca55,#f7ca56,#f7ca57,#f7ca57,#f7ca58,#f7c959)"></div><div style="top:1464px;height:4px;background:linear-gradient(90deg,#f3e235,#f3e335,#f3e235,#f3e136,#f3e037,#f3df37,#f3df37,#f3df38,#f3df37,#f3e037,#f3df37,#f3dc3a,#f4d83f,#f5d641,#f5d543,#f6d346,#f6d148,#f6d049,#f7d049,#f7cf4b,#f7ce4c,#f7cd4c,#f7cd4d,#f7cd4e,#f8cc4e,#f8cc4f,#f8cc50,#f7cc50,#f7cb51,#f7cb52,#f7cb52,#f7cb53,#f7cb54,#f7cb54,#f7ca55,#f7ca56)"></div><div style="top:1468px;height:4px;background:linear-gradient(90deg,#f3e235,#f3e335,#f3e235,#f3e136,#f3e037,#f3e037,#f3e037,#f3df37,#f3e037,#f3e136,#f3e037,#f3dd38,#f4da3d,#f4d83f,#f5d641,#f5d443,#f6d345,#f6d246,#f6d147,#f6d049,#f7d04a,#f7cf4a,#f7cf4b,#f7ce4b,#f7ce4c,#f7ce4c,#f7cd4d,#f7cd4d,#f8cc4e,#f8cc4f,#f8cc4f,#f7cc50,#f7cb51,#f7cb51,#f7cb52,#f7cb53)"></div><div style="top:1472px;height:4px;background:linear-gradient(90deg,#f3e335,#f3e435,#f3e335,#f3e136,#f3e037,#f3e037,#f3e037,#f3e037,#f3e136,#f3e236,#f3e136,#f3df38,#f3db3b,#f4da3d,#f4d83f,#f5d641,#f5d543,#f5d444,#f6d345,#f6d247,#f6d147,#f6d148,#f6d148,#f6d049,#f6d049,#f7d04a,#f7cf4a,#f7cf4b,#f7ce4c,#f7ce4c,#f7cd4d,#f7cd4d,#f7cc4e,#f8cc4e,#f8cc4f,#f8cc50)"></div><div style="top:1476px;height:4px;background:linear-gradient(90deg,#f3e335,#f3e434,#f3e335,#f3e136,#f3e037,#f3e037,#f3e136,#f3e136,#f3e236,#f3e335,#f3e235,#f3e037,#f3dd39,#f3db3b,#f4da3d,#f4d83f,#f5d641,#f5d542,#f5d543,#f5d444,#f6d345,#f6d346,#f6d246,#f6d246,#f6d247,#f6d147,#f6d148,#f6d049,#f6d049,#f7d04a,#f7cf4a,#f7cf4b,#f7cf4b,#f7ce4c,#f7ce4c,#f7cd4d)"></div><div style="top:1480px;height:4px;background:linear-gradient(90deg,#f3e335,#f3e434,#f3e335,#f3e136,#f3e037,#f3e036,#f3e136,#f3e136,#f3e235,#f3e435,#f3e335,#f3e136,#f3de38,#f3dd39,#f3db3b,#f4d93d,#f4d83f,#f4d740,#f5d641,#f5d542,#f5d543,#f5d444,#f5d444,#f5d444,#f5d444,#f5d345,#f6d345,#f6d246,#f6d247,#f6d247,#f6d148,#f6d148,#f6d148,#f6d049,#f6d049,#f7cf4a)"></div><div style="top:1484px;height:4px;background:linear-gradient(90deg,#f3e335,#f3e434,#f3e335,#f3e136,#f3e036,#f3e136,#f3e236,#f3e235,#f3e335,#f3e434,#f3e434,#f3e236,#f3df37,#f3de38,#f3dd39,#f3db3b,#f4da3d,#f4d93e,#f4d83f,#f4d740,#f5d641,#f5d642,#f5d642,#f5d642,#f5d642,#f5d542,#f5d543,#f5d444,#f5d444,#f5d445,#f6d345,#f6d345,#f6d346,#f6d246,#f6d247,#f6d247)"></div><div style="top:1488px;height:4px;background:linear-gradient(90deg,#f3e335,#f3e434,#f3e335,#f3e236,#f3e136,#f3e136,#f3e236,#f3e335,#f3e435,#f4e534,#f4e534,#f3e235,#f3e037,#f3df37,#f3de38,#f3dd39,#f3db3b,#f3da3c,#f4d93d,#f4d83e,#f4d83f,#f4d83f,#f4d83f,#f4d83f,#f4d840,#f4d740,#f4d741,#f5d641,#f5d642,#f5d542,#f5d543,#f5d543,#f5d543,#f5d444,#f5d444,#f5d444)"></div><div style="top:1492px;height:4px;background:linear-gradient(90deg,#f3e335,#f3e434,#f3e335,#f3e236,#f3e136,#f3e136,#f3e235,#f3e335,#f3e434,#f4e533,#f4e534,#f3e335,#f3e136,#f3e037,#f3df37,#f3de38,#f3dd39,#f3dc3a,#f3db3b,#f3da3c,#f4da3d,#f4d93d,#f4d93d,#f4da3d,#f4d93d,#f4d93e,#f4d93e,#f4d83f,#f4d83f,#f4d740,#f4d740,#f4d740,#f4d741,#f5d641,#f5d641,#f5d642)"></div><div style="top:1496px;height:4px;background:linear-gradient(90deg,#f3e435,#f3e434,#f3e335,#f3e236,#f3e136,#f3e236,#f3e335,#f3e435,#f4e534,#f4e633,#f4e633,#f3e434,#f3e236,#f3e136,#f3e037,#f3df37,#f3de38,#f3dd38,#f3dd39,#f3dc3a,#f3db3b,#f3db3b,#f3db3b,#f3db3b,#f3db3b,#f3db3b,#f3da3c,#f4da3c,#f4da3d,#f4d93d,#f4d93e,#f4d93e,#f4d93e,#f4d93e,#f4d83f,#f4d83f)"></div><div style="top:1500px;height:4px;background:linear-gradient(90deg,#f3e435,#f3e434,#f3e435,#f3e235,#f3e136,#f3e236,#f3e335,#f3e434,#f4e534,#f4e633,#f4e633,#f3e434,#f3e335,#f3e236,#f3e136,#f3e037,#f3df37,#f3df38,#f3de38,#f3dd38,#f3dd39,#f3dd39,#f3dd39,#f3dd39,#f3dd39,#f3dd39,#f3dc3a,#f3dc3a,#f3dc3b,#f3db3b,#f3db3b,#f3db3b,#f3db3b,#f3db3c,#f3da3c,#f3da3c)"></div><div style="top:1504px;height:4px;background:linear-gradient(90deg,#f3e434,#f3e434,#f3e435,#f3e235,#f3e236,#f3e235,#f3e335,#f3e434,#f4e534,#f4e633,#f4e633,#f4e534,#f3e335,#f3e235,#f3e236,#f3e136,#f3e037,#f3e037,#f3df37,#f3de38,#f3de38,#f3de38,#f3de38,#f3de38,#f3de38,#f3de38,#f3de38,#f3de38,#f3dd38,#f3dd38,#f3dd39,#f3dd39,#f3dd39,#f3dd39,#f3dc39,#f3dc3a)"></div><div style="top:1508px;height:4px;background:linear-gradient(90deg,#f3e434,#f3e434,#f3e434,#f3e335,#f3e235,#f3e335,#f3e335,#f3e434,#f4e534,#f4e633,#f4e633,#f4e534,#f3e435,#f3e335,#f3e235,#f3e236,#f3e136,#f3e136,#f3e037,#f3e037,#f3df37,#f3df37,#f3e037,#f3e037,#f3e037,#f3df37,#f3df37,#f3df37,#f3df37,#f3df38,#f3df38,#f3df38,#f3de38,#f3de38,#f3de38,#f3de38)"></div><div style="top:1512px;height:4px;background:linear-gradient(90deg,#f3e434,#f3e434,#f3e434,#f3e335,#f3e335,#f3e335,#f3e435,#f3e434,#f4e534,#f4e633,#f4e633,#f4e534,#f3e434,#f3e335,#f3e335,#f3e235,#f3e236,#f3e236,#f3e136,#f3e136,#f3e136,#f3e136,#f3e136,#f3e136,#f3e136,#f3e136,#f3e036,#f3e037,#f3e037,#f3e037,#f3e037,#f3e037,#f3e037,#f3e037,#f3e037,#f3e037)"></div><div style="top:1516px;height:4px;background:linear-gradient(90deg,#f3e434,#f3e434,#f3e434,#f3e335,#f3e335,#f3e335,#f3e434,#f3e434,#f4e534,#f4e534,#f4e534,#f4e534,#f3e434,#f3e434,#f3e335,#f3e335,#f3e335,#f3e235,#f3e235,#f3e236,#f3e236,#f3e236,#f3e236,#f3e236,#f3e236,#f3e236,#f3e236,#f3e236,#f3e136,#f3e136,#f3e136,#f3e136,#f3e136,#f3e136,#f3e136,#f3e136)"></div><div style="top:1520px;height:4px;background:linear-gradient(90deg,#f3e434,#f3e434,#f3e434,#f3e435,#f3e335,#f3e435,#f3e434,#f3e434,#f3e434,#f4e534,#f4e534,#f3e434,#f3e434,#f3e434,#f3e434,#f3e435,#f3e335,#f3e335,#f3e335,#f3e335,#f3e335,#f3e335,#f3e335,#f3e335,#f3e335,#f3e335,#f3e335,#f3e335,#f3e335,#f3e335,#f3e335,#f3e335,#f3e335,#f3e335,#f3e335,#f3e335)"></div><div style="top:1524px;height:2px;background:linear-gradient(90deg,#f3e434,#f3e434,#f3e434,#f3e434,#f3e434,#f3e434,#f3e434,#f3e434,#f3e434,#f3e434,#f3e434,#f3e434,#f3e434,#f3e434,#f3e434,#f3e434,#f3e434,#f3e434,#f3e434,#f3e434,#f3e434,#f3e434,#f3e434,#f3e434,#f3e434,#f3e434,#f3e434,#f3e434,#f3e434,#f3e434,#f3e434,#f3e434,#f3e434,#f3e434,#f3e434,#f3e434)"></div></div>
<div class="hm" style="left:217px;top:0;width:835px"><div style="top:1683px;height:4px;background:linear-gradient(90deg,#f5d94c,#f7d454,#f8d05e,#f8ce6b,#f4ca7c,#e8c68c,#d6c896,#c3ca9b,#accba3,#8dcbac,#61c8b1,#39c2b9,#2cbec7,#28bbd1,#26b9d8,#25b8dc,#25b6e1,#25b4e8,#25b2ea,#25b0ea,#26acea,#24a6e6,#249fe1,#2399db,#2594d6,#278fd1,#298cce,#2a89cb,#2c86c8,#2f82c4,#367bc0,#3d75bb,#436fb7,#476cb4,#4a69b1,#4c67af)"></div><div style="top:1687px;height:4px;background:linear-gradient(90deg,#f5d94b,#f7d554,#f8d05e,#f7ce6c,#f4ca7d,#e8c68c,#d7c896,#c4ca9b,#aecba2,#8fcbac,#62c8b1,#39c2b9,#2cbec7,#29bbd1,#27bad6,#26b9da,#25b7e0,#25b5e7,#25b2ea,#25b0ea,#26adea,#25a6e6,#249fe1,#239adc,#2594d6,#2790d2,#288dcf,#2a8acc,#2b87c9,#2c84c6,#337ec1,#3a77bd,#4171b9,#466db5,#496ab2,#4b68b0)"></div><div style="top:1691px;height:4px;background:linear-gradient(90deg,#f5da49,#f6d553,#f8d05e,#f7ce6d,#f4ca7d,#e8c68c,#d8c796,#c6ca9a,#b0cba1,#90cbab,#62c8b1,#39c2ba,#2cbec7,#29bbd0,#27bad5,#26b9d8,#25b7de,#25b5e6,#25b3ea,#25b1ea,#26adea,#25a7e7,#24a0e1,#239adc,#2595d7,#2791d3,#288ed0,#298bcd,#2b88ca,#2c85c7,#3180c3,#387abf,#3e74bb,#446eb7,#486bb4,#4a69b1)"></div><div style="top:1695px;height:4px;background:linear-gradient(90deg,#f5da48,#f6d552,#f8d05e,#f7ce6d,#f4ca7d,#e8c68c,#d8c795,#c8ca9a,#b1cba0,#92cbab,#63c8b1,#39c2ba,#2cbec7,#29bccf,#28bbd3,#27bad6,#25b8dd,#25b5e5,#25b3ea,#25b1ea,#26aeea,#25a8e7,#24a0e2,#239bdd,#2595d7,#2691d3,#288fd1,#298cce,#2a89cb,#2b86c8,#2e82c4,#357cc0,#3c76bc,#4270b8,#466db5,#496ab2)"></div><div style="top:1699px;height:4px;background:linear-gradient(90deg,#f4db47,#f6d552,#f8d05e,#f7ce6d,#f4ca7d,#e9c68c,#d9c795,#c9c99a,#b3cba0,#93cbab,#64c8b1,#39c2ba,#2cbec7,#29bcce,#28bbd2,#27bad5,#25b8dc,#25b6e4,#25b4ea,#25b2ea,#26aeea,#25a8e8,#24a0e2,#239bdd,#2496d8,#2692d4,#278fd1,#288dcf,#2a8acc,#2b87c9,#2c84c6,#337ec2,#3a78bd,#4072ba,#456eb6,#486bb3)"></div><div style="top:1703px;height:4px;background:linear-gradient(90deg,#f4db47,#f6d651,#f8d05e,#f7ce6e,#f4ca7d,#e9c68b,#dac795,#cac999,#b4cb9f,#95cbab,#65c8b1,#39c2ba,#2cbec7,#29bcce,#28bbd1,#28bad4,#25b8db,#25b6e3,#25b4ea,#25b2ea,#25afea,#25a9e8,#24a1e3,#239bde,#2497d9,#2693d5,#2790d2,#288ed0,#298bcd,#2b88ca,#2c85c7,#3180c3,#387abf,#3e74bb,#436fb7,#476cb5)"></div><div style="top:1707px;height:4px;background:linear-gradient(90deg,#f4dc46,#f6d651,#f8d05e,#f7ce6e,#f4ca7d,#e9c68b,#dac795,#cbc999,#b6cb9e,#97cbaa,#66c8b1,#39c2b9,#2dbec6,#2abccd,#29bbd0,#28bbd2,#26b9da,#25b6e3,#25b4e9,#25b2ea,#25afea,#25aae8,#24a2e3,#239cde,#2497d9,#2593d6,#2791d3,#288ed0,#298cce,#2a89cb,#2c86c8,#2f82c4,#367cc0,#3c76bc,#4271b9,#456db6)"></div><div style="top:1711px;height:4px;background:linear-gradient(90deg,#f4dc45,#f6d650,#f8d05d,#f7ce6d,#f4ca7d,#eac68b,#dbc795,#cdc999,#b7cb9e,#98cbaa,#68c8b1,#39c2b9,#2dbec6,#2abccd,#29bccf,#28bbd2,#26b9d9,#25b6e2,#25b4e8,#25b3ea,#25b0ea,#25aae9,#24a2e4,#239cde,#2498da,#2594d6,#2691d4,#278fd1,#298dcf,#2a8acc,#2b87c9,#2d84c5,#347ec1,#3a78bd,#4072ba,#446eb7)"></div><div style="top:1715px;height:4px;background:linear-gradient(90deg,#f4dd44,#f6d750,#f8d05d,#f7ce6d,#f4ca7d,#eac68a,#dcc794,#cec999,#b8cb9d,#9acbaa,#6ac9b0,#3ac2b9,#2ebec6,#2abccc,#29bccf,#28bbd1,#26b9d8,#25b6e1,#25b5e8,#25b3ea,#25b0ea,#25abe9,#24a3e4,#239ddf,#2399db,#2595d7,#2692d4,#2790d2,#288dcf,#298bcc,#2b88c9,#2c85c6,#327fc2,#3879bf,#3e74bb,#4270b8)"></div><div style="top:1719px;height:4px;background:linear-gradient(90deg,#f4dd44,#f6d74f,#f8d05d,#f7ce6d,#f4ca7d,#eac68a,#dcc794,#cfc998,#b9cb9d,#9bcbaa,#6cc9b0,#3ac2b8,#2ebec5,#2abdcc,#29bcce,#29bbd0,#26b9d7,#25b7e1,#25b5e7,#25b4ea,#25b0ea,#26abe9,#24a3e4,#239ddf,#2399db,#2495d8,#2693d5,#2791d3,#288ed0,#298bcd,#2a88ca,#2c85c7,#3081c4,#367bc0,#3c76bc,#4072b9)"></div><div style="top:1723px;height:4px;background:linear-gradient(90deg,#f4dd43,#f6d74f,#f8d05c,#f7ce6c,#f4ca7c,#ebc68a,#ddc794,#cfc998,#bacb9d,#9dcba9,#6ec9b0,#3bc2b7,#2fbfc4,#2abdcb,#29bcce,#29bbd0,#27bad7,#25b7e0,#25b5e6,#25b4ea,#25b1ea,#26acea,#24a4e5,#239ee0,#239adc,#2496d8,#2594d6,#2691d3,#288fd1,#298cce,#2a89cb,#2c86c8,#2e83c5,#347dc1,#3a78bd,#3e74bb)"></div><div style="top:1727px;height:4px;background:linear-gradient(90deg,#f3de43,#f6d74e,#f8d15c,#f7ce6c,#f4cb7c,#ebc689,#ddc794,#d0c998,#bbcb9d,#9ecba9,#70cab0,#3cc2b6,#2fbfc4,#2abdca,#2abccd,#29bcd0,#27bad7,#25b7e0,#25b5e6,#25b4ea,#25b1ea,#26acea,#24a5e5,#249ee0,#239adc,#2497d9,#2594d6,#2692d4,#2790d2,#288dcf,#2a8acc,#2b87c9,#2d84c6,#327fc2,#387abf,#3c75bc)"></div><div style="top:1731px;height:4px;background:linear-gradient(90deg,#f3de42,#f6d84e,#f8d15b,#f8ce6b,#f5cb7b,#ecc689,#dec794,#d0c998,#bccb9d,#9fcba8,#73caaf,#3cc3b6,#30bfc3,#2bbdca,#2abccd,#29bccf,#27bad6,#25b7df,#25b5e5,#25b4e9,#25b1ea,#26adea,#24a5e6,#249fe1,#239bdd,#2498da,#2595d7,#2693d5,#2790d2,#288dcf,#2a8bcc,#2b88c9,#2c85c6,#3180c3,#367bc0,#3a77bd)"></div><div style="top:1735px;height:4px;background:linear-gradient(90deg,#f3de42,#f5d84d,#f8d15a,#f8ce6a,#f5cb7b,#ecc688,#dec694,#d1c898,#bdcb9c,#a1cba8,#75caaf,#3ec3b5,#31bfc2,#2bbdc9,#2abccd,#29bccf,#27bad6,#25b7df,#25b5e5,#25b4e9,#25b2ea,#26adea,#25a6e6,#249fe1,#239bdd,#2398db,#2496d8,#2593d5,#2791d3,#288ed0,#298bcd,#2b88ca,#2c86c7,#2f82c4,#347dc1,#3879be)"></div><div style="top:1739px;height:4px;background:linear-gradient(90deg,#f3de41,#f5d84d,#f8d25a,#f8ce69,#f5cb7a,#edc688,#dfc693,#d2c898,#becb9c,#a2cba7,#78caaf,#41c3b5,#32bfc1,#2bbdc9,#2abccc,#29bccf,#27bad6,#25b7df,#25b6e4,#25b5e8,#25b2ea,#26adea,#25a6e6,#24a0e2,#239cde,#2399db,#2496d8,#2594d6,#2691d3,#288fd1,#298cce,#2a89cb,#2c86c8,#2d83c5,#327fc2,#367bc0)"></div><div style="top:1743px;height:4px;background:linear-gradient(90deg,#f3de41,#f5d84c,#f8d259,#f8ce68,#f6cb7a,#eec687,#dfc693,#d2c897,#bfcb9c,#a3cba7,#7acaaf,#45c4b4,#33c0c0,#2bbec8,#2abccc,#29bccf,#27bad6,#25b7de,#25b6e4,#25b5e8,#25b2ea,#26aeea,#25a7e7,#24a0e2,#239cde,#239adc,#2497d9,#2594d7,#2692d4,#278fd1,#298dce,#2a8acb,#2b87c9,#2c85c6,#3081c3,#347dc1)"></div><div style="top:1747px;height:4px;background:linear-gradient(90deg,#f3df41,#f5d84c,#f7d258,#f8cf67,#f6cc79,#eec687,#e0c693,#d2c897,#bfcb9c,#a4cba6,#7dcaae,#49c4b4,#34c0bf,#2cbec7,#2abdcc,#29bcd0,#27bad6,#25b7de,#25b6e3,#25b5e7,#25b2ea,#26aeea,#25a8e7,#24a1e3,#239ddf,#239adc,#2498da,#2595d7,#2693d5,#2790d2,#288dcf,#2a8acc,#2b88c9,#2c85c7,#2e82c5,#327fc2)"></div><div style="top:1751px;height:4px;background:linear-gradient(90deg,#f3df41,#f5d94c,#f7d357,#f8cf66,#f6cc78,#efc686,#e0c693,#d3c897,#c0ca9c,#a6cba5,#7fcaae,#4cc5b3,#35c0be,#2cbec7,#2abdcc,#29bcd0,#27bad6,#25b7de,#25b6e3,#25b5e7,#25b3ea,#26aeea,#25a8e7,#24a1e3,#239ddf,#239bdd,#2398db,#2496d8,#2693d5,#2790d3,#288ed0,#298bcd,#2b88ca,#2c86c8,#2d84c6,#3081c4)"></div><div style="top:1755px;height:4px;background:linear-gradient(90deg,#f3df40,#f5d94b,#f7d357,#f8cf65,#f7cc77,#efc686,#e1c692,#d3c897,#c1ca9b,#a7cba5,#82caad,#51c5b3,#36c1bd,#2dbec6,#2abdcc,#29bbd0,#27bad6,#25b8dd,#25b6e2,#25b5e6,#25b3ea,#26afea,#25a9e8,#24a2e3,#239ee0,#239bdd,#2399db,#2496d9,#2594d6,#2691d3,#288ed0,#298cce,#2a89cb,#2b87c9,#2c85c7,#2d83c5)"></div><div style="top:1759px;height:4px;background:linear-gradient(90deg,#f3df40,#f5d94b,#f7d356,#f8cf63,#f7cd76,#f0c785,#e1c692,#d4c897,#c2ca9b,#a9cba4,#85caad,#55c6b3,#37c1bc,#2ebec5,#2abdcb,#29bbd0,#27bad6,#25b8dd,#25b6e2,#25b5e6,#25b3ea,#25afea,#25a9e8,#24a3e4,#249fe0,#239cde,#239adc,#2497d9,#2594d7,#2692d4,#278fd1,#298cce,#2a8acc,#2b88c9,#2c86c8,#2c85c6)"></div><div style="top:1763px;height:4px;background:linear-gradient(90deg,#f3df40,#f5d94a,#f7d455,#f8cf62,#f7cd75,#f0c784,#e2c691,#d4c897,#c3ca9b,#aacba3,#88caad,#59c7b2,#38c1ba,#2fbfc4,#2abdcb,#29bbd0,#27bad6,#25b8dd,#25b6e1,#25b5e6,#25b3ea,#25afea,#25aae9,#24a4e4,#249fe1,#239cde,#239adc,#2498da,#2595d7,#2692d4,#2790d2,#288dcf,#298bcc,#2a89ca,#2b87c9,#2c86c7)"></div><div style="top:1767px;height:4px;background:linear-gradient(90deg,#f3df40,#f5da4a,#f7d454,#f8d061,#f7cd74,#f0c784,#e2c691,#d5c896,#c4ca9b,#accba3,#8bcaac,#5ec7b2,#3ac2b9,#2fbfc4,#2abdcb,#29bbd0,#27bad6,#25b8dd,#25b7e1,#25b5e5,#25b4ea,#25afea,#25aae9,#24a4e5,#24a0e1,#239ddf,#239bdd,#2398db,#2496d8,#2693d5,#2790d2,#288ed0,#298bcd,#2a89cb,#2b88c9,#2b87c8)"></div><div style="top:1771px;height:4px;background:linear-gradient(90deg,#f3df40,#f5da4a,#f7d553,#f8d060,#f7cd72,#f1c883,#e3c690,#d5c896,#c5ca9b,#adcba2,#8ecbac,#63c8b1,#3bc2b7,#30bfc3,#2abdcb,#29bbd0,#27bad6,#25b8dc,#25b7e1,#25b5e5,#25b4ea,#25b0ea,#25abe9,#24a5e5,#24a0e2,#239ddf,#239bdd,#2399db,#2496d8,#2594d6,#2791d3,#288ed0,#298cce,#2a8acc,#2a89ca,#2b88c9)"></div><div style="top:1775px;height:4px;background:linear-gradient(90deg,#f3df40,#f5da49,#f6d553,#f8d05f,#f7cd71,#f1c882,#e4c690,#d6c896,#c6ca9a,#afcba1,#92cbab,#68c9b1,#3cc3b6,#31bfc2,#2abdca,#29bbd0,#27bad6,#25b8dc,#25b7e0,#25b6e4,#25b4ea,#25b0ea,#26abea,#24a6e6,#24a1e3,#239ee0,#239cde,#239adc,#2497d9,#2594d6,#2692d4,#278fd1,#288dcf,#298bcd,#2a8acb,#2a89ca)"></div><div style="top:1779px;height:4px;background:linear-gradient(90deg,#f3df40,#f5da49,#f6d652,#f8d05d,#f7cd6f,#f2c881,#e4c68f,#d7c896,#c7ca9a,#b1cba1,#95cbab,#6ec9b0,#40c3b5,#32c0c0,#2bbdca,#29bbd0,#27bad6,#25b8dc,#25b7e0,#25b6e4,#25b4ea,#25b0ea,#26acea,#25a6e6,#24a1e3,#249ee0,#239cde,#239adc,#2498da,#2595d7,#2692d4,#2790d2,#288ed0,#298cce,#2a8bcc,#2a8acc)"></div><div style="top:1783px;height:4px;background:linear-gradient(90deg,#f3df40,#f5da49,#f6d651,#f8d05c,#f7ce6e,#f2c981,#e5c68f,#d7c896,#c8ca9a,#b3cba0,#99cbaa,#73caaf,#45c4b4,#33c0bf,#2bbdc9,#29bbd0,#27bad6,#25b8db,#25b7df,#25b6e4,#25b4e9,#25b1ea,#26acea,#25a7e7,#24a2e3,#249fe1,#239ddf,#239bdd,#2398db,#2496d8,#2693d5,#2791d3,#288fd1,#288dcf,#298ccd,#298bcd)"></div><div style="top:1787px;height:4px;background:linear-gradient(90deg,#f3df40,#f5da49,#f6d650,#f8d15b,#f7ce6d,#f2c980,#e6c68e,#d8c795,#c9c99a,#b5cb9f,#9ccbaa,#78caaf,#4ac5b4,#35c0be,#2bbdc8,#29bbd0,#27bad6,#26b9db,#25b7df,#25b6e3,#25b4e9,#25b1ea,#26adea,#25a8e7,#24a3e4,#24a0e1,#239ddf,#239bdd,#2399db,#2496d9,#2594d6,#2692d4,#2790d2,#288ed0,#298dce,#298cce)"></div><div style="top:1791px;height:4px;background:linear-gradient(90deg,#f3df40,#f5da48,#f6d750,#f8d15a,#f7ce6b,#f3c97f,#e6c68d,#d9c795,#cac999,#b6cb9e,#9fcba8,#7ccaae,#50c5b3,#36c1bd,#2bbec8,#29bcd0,#27bad5,#26b9da,#25b7de,#25b6e3,#25b4e9,#25b1ea,#26adea,#25a8e7,#24a4e4,#24a0e2,#239ee0,#239cde,#239adc,#2497da,#2595d7,#2693d5,#2790d3,#288fd1,#288ecf,#288dcf)"></div><div style="top:1795px;height:4px;background:linear-gradient(90deg,#f3df40,#f4db48,#f6d74f,#f8d259,#f8ce6a,#f3ca7e,#e7c68d,#dac795,#cbc999,#b8cb9d,#a2cba7,#80caae,#55c6b3,#37c1bb,#2cbec7,#29bccf,#27bad5,#26b9d9,#25b8de,#25b6e2,#25b4e8,#25b1ea,#26adea,#25a9e8,#24a4e5,#24a1e3,#249ee0,#239cde,#239add,#2398da,#2496d8,#2593d6,#2691d4,#2790d2,#288fd1,#288ed0)"></div><div style="top:1799px;height:4px;background:linear-gradient(90deg,#f3df40,#f4db48,#f6d74e,#f7d258,#f8ce69,#f4ca7d,#e8c68c,#dac795,#cdc999,#bacb9d,#a4cba6,#85caad,#5bc7b2,#39c2ba,#2dbec6,#29bccf,#27bad4,#26b9d8,#25b8dd,#25b6e2,#25b5e8,#25b2ea,#26aeea,#25a9e8,#24a5e5,#24a1e3,#249fe1,#239ddf,#239bdd,#2399db,#2497d9,#2594d7,#2692d5,#2791d3,#2790d2,#288fd1)"></div><div style="top:1803px;height:4px;background:linear-gradient(90deg,#f3df40,#f4db48,#f6d84e,#f7d357,#f8cf68,#f4ca7d,#e9c68b,#dbc794,#cec998,#bccb9c,#a7cba5,#8acaac,#61c8b1,#3ac2b8,#2ebfc5,#29bcce,#28bad4,#26b9d8,#25b8dc,#25b6e1,#25b5e7,#25b2ea,#26aeea,#25aae9,#24a6e6,#24a2e4,#24a0e2,#239ee0,#239cde,#239adc,#2498da,#2496d8,#2594d6,#2692d4,#2791d3,#2790d2)"></div><div style="top:1807px;height:4px;background:linear-gradient(90deg,#f3df41,#f4db48,#f5d84d,#f7d356,#f8cf66,#f4cb7c,#eac68a,#dcc794,#d0c998,#becb9c,#aacba4,#8ecbac,#68c8b1,#3cc3b6,#30bfc3,#2abccd,#28bbd3,#27bad7,#25b8dc,#25b7e1,#25b5e7,#25b2ea,#26afea,#25abe9,#25a6e6,#24a3e4,#24a0e2,#249ee0,#239ddf,#239bdd,#2399db,#2497d9,#2595d7,#2693d5,#2692d4,#2791d3)"></div><div style="top:1811px;height:4px;background:linear-gradient(90deg,#f3df41,#f4db47,#f5d84d,#f7d455,#f8cf65,#f5cb7b,#ebc68a,#dec794,#d1c998,#c0ca9c,#adcba2,#93cbab,#6ec9b0,#40c3b5,#31bfc2,#2abdcc,#28bbd2,#27bad6,#26b9db,#25b7e0,#25b5e6,#25b2ea,#25afea,#26abe9,#25a7e7,#24a4e5,#24a1e3,#249fe1,#239ddf,#239cde,#239adc,#2498da,#2496d8,#2594d6,#2693d5,#2692d4)"></div><div style="top:1815px;height:4px;background:linear-gradient(90deg,#f3df41,#f4db47,#f5d84c,#f7d455,#f8cf64,#f5cb7a,#ecc689,#dfc693,#d2c897,#c3ca9b,#b0cba1,#98cbaa,#75caaf,#46c4b4,#33c0c0,#2abdca,#28bbd1,#27bad5,#26b9da,#25b7e0,#25b5e6,#25b3ea,#25afea,#26acea,#25a8e7,#24a5e5,#24a2e3,#24a0e2,#249ee0,#239cde,#239bdd,#2399db,#2497d9,#2495d8,#2594d6,#2693d5)"></div><div style="top:1819px;height:4px;background:linear-gradient(90deg,#f3df41,#f4db47,#f5d84c,#f7d454,#f8cf64,#f6cc79,#edc688,#e0c693,#d4c897,#c5ca9b,#b3cba0,#9dcba9,#7acaaf,#4cc5b4,#34c0be,#2bbdc9,#29bcd0,#28bbd3,#26b9d9,#25b7df,#25b5e5,#25b3ea,#25afea,#26acea,#25a8e8,#24a5e6,#24a3e4,#24a1e2,#249fe1,#239ddf,#239cde,#239adc,#2399db,#2497d9,#2595d7,#2594d6)"></div><div style="top:1823px;height:4px;background:linear-gradient(90deg,#f3de41,#f4db47,#f5d94c,#f7d454,#f8cf63,#f6cc78,#eec687,#e1c692,#d5c896,#c7ca9a,#b6cb9e,#a0cba8,#7fcaae,#53c6b3,#36c1bc,#2cbec7,#29bcce,#28bbd2,#27b9d7,#25b7de,#25b5e5,#25b3ea,#25b0ea,#26adea,#25a9e8,#25a6e6,#24a4e5,#24a2e3,#24a0e2,#249ee0,#239ddf,#239bdd,#239adc,#2498da,#2496d8,#2595d7)"></div><div style="top:1827px;height:4px;background:linear-gradient(90deg,#f3de41,#f4db47,#f5d94c,#f7d554,#f8cf62,#f7cc78,#efc686,#e3c691,#d7c896,#cac999,#b9cb9d,#a4cba6,#85caad,#5ac7b2,#38c2ba,#2ebec5,#2abccc,#28bbd1,#27bad6,#25b8de,#25b6e4,#25b4ea,#25b0ea,#26adea,#25aae8,#25a7e7,#24a5e5,#24a3e4,#24a1e3,#249fe1,#239ee0,#239cde,#239bdd,#2399dc,#2497da,#2495d8)"></div><div style="top:1831px;height:4px;background:linear-gradient(90deg,#f3de41,#f4db47,#f5d94c,#f7d554,#f8cf61,#f7cd76,#f0c784,#e4c68f,#d8c795,#ccc999,#bbcb9d,#a7cba5,#8acaac,#61c8b1,#3bc2b8,#30bfc3,#2abdcb,#29bccf,#27bad5,#25b8dd,#25b6e3,#25b4ea,#25b0ea,#26adea,#25aae9,#25a8e7,#25a6e6,#24a4e5,#24a2e4,#24a0e2,#249fe1,#239ee0,#239cde,#239add,#2399db,#2496d9)"></div><div style="top:1835px;height:4px;background:linear-gradient(90deg,#f3de41,#f4db47,#f5d94c,#f7d553,#f8d061,#f7cd75,#f1c883,#e6c68e,#dac795,#cfc998,#becb9c,#aacba3,#8fcbab,#69c9b1,#3dc3b5,#32c0c1,#2bbdc9,#29bcce,#28bad4,#25b8dc,#25b6e3,#25b4ea,#25b1ea,#26aeea,#25abe9,#25a9e8,#25a7e7,#24a5e6,#24a4e5,#24a2e3,#24a0e2,#249fe1,#239ddf,#239bde,#239adc,#2497d9)"></div><div style="top:1839px;height:4px;background:linear-gradient(90deg,#f3de41,#f4db47,#f5d94c,#f7d553,#f8d060,#f7cd74,#f1c882,#e7c68d,#dcc794,#d1c998,#c1ca9b,#aecba2,#95cbab,#71cab0,#44c4b4,#34c0bf,#2cbec7,#2abdcc,#28bbd2,#25b8db,#25b6e2,#25b4e9,#25b1ea,#26aeea,#26acea,#25aae8,#25a8e7,#25a7e6,#24a5e5,#24a3e4,#24a2e3,#24a0e2,#249ee0,#239cdf,#239bdd,#2398da)"></div><div style="top:1843px;height:4px;background:linear-gradient(90deg,#f3de42,#f4db47,#f5d94c,#f7d554,#f8d060,#f7cd72,#f2c980,#e9c68c,#ddc794,#d2c897,#c4ca9b,#b1cba0,#9bcbaa,#77caaf,#4bc5b4,#36c1bd,#2ebec5,#2abdca,#28bbd1,#26b9da,#25b6e1,#25b5e8,#25b2ea,#26afea,#26acea,#25aae9,#25a9e8,#25a8e7,#25a7e6,#24a5e5,#24a3e4,#24a1e3,#249fe1,#239ee0,#239bdd,#2399db)"></div><div style="top:1847px;height:4px;background:linear-gradient(90deg,#f3de42,#f4db47,#f5d94c,#f7d554,#f8d060,#f7cd71,#f3c97f,#eac68a,#dfc693,#d4c897,#c6ca9a,#b5cb9f,#9fcba8,#7dcaae,#53c6b3,#38c1ba,#30bfc3,#2bbdc9,#29bccf,#26b9d8,#25b7e0,#25b5e7,#25b2ea,#25afea,#26adea,#26abe9,#25aae9,#25a9e8,#25a8e7,#25a7e6,#24a5e5,#24a3e4,#24a1e2,#249fe1,#239cde,#239adc)"></div><div style="top:1851px;height:4px;background:linear-gradient(90deg,#f3de42,#f4db47,#f5d94c,#f7d554,#f8d05f,#f7cd70,#f3ca7e,#ecc689,#e1c692,#d6c896,#c9c99a,#b8cb9d,#a3cba7,#83caad,#5bc7b2,#3ac2b8,#32c0c1,#2cbec7,#29bcce,#27bad7,#25b7e0,#25b5e7,#25b2ea,#25afea,#26adea,#26acea,#25abe9,#25aae9,#25a9e8,#25a8e7,#25a7e6,#24a5e5,#24a2e3,#24a0e1,#239ddf,#239add)"></div><div style="top:1855px;height:4px;background:linear-gradient(90deg,#f3de42,#f4db47,#f5d84c,#f7d454,#f8d05f,#f7ce6e,#f4ca7d,#edc688,#e2c691,#d8c796,#ccc999,#bbcb9d,#a7cba5,#89caac,#63c8b1,#3cc3b5,#34c0bf,#2ebec5,#2abccc,#27bad6,#25b7df,#25b5e6,#25b3ea,#25b0ea,#26aeea,#26adea,#26acea,#26acea,#25abe9,#25aae8,#25a8e7,#25a6e6,#24a4e4,#24a1e2,#239ee0,#239bdd)"></div><div style="top:1859px;height:4px;background:linear-gradient(90deg,#f3de42,#f4db46,#f5d84c,#f7d454,#f8d05f,#f7ce6d,#f5cb7b,#efc686,#e4c690,#d9c795,#cfc998,#becb9c,#aacba3,#8fcbac,#6bc9b0,#44c4b4,#36c1bc,#30bfc3,#2abdcb,#27bad4,#25b8de,#25b5e5,#25b3ea,#25b0ea,#26aeea,#26adea,#26adea,#26adea,#26acea,#26abe9,#25aae8,#25a8e7,#24a5e5,#24a2e3,#249fe1,#239cde)"></div><div style="top:1863px;height:4px;background:linear-gradient(90deg,#f3de42,#f4dc46,#f5d84c,#f7d454,#f8d05f,#f7ce6c,#f5cb7a,#f0c785,#e5c68e,#dbc795,#d1c998,#c1ca9b,#aecba2,#94cbab,#72cab0,#4bc5b4,#38c1ba,#31bfc2,#2bbdc9,#28bbd2,#25b8dd,#25b6e4,#25b4ea,#25b1ea,#25afea,#26aeea,#26aeea,#26aeea,#26adea,#26adea,#26abe9,#25a9e8,#25a7e6,#24a3e4,#24a0e2,#239cde)"></div><div style="top:1867px;height:4px;background:linear-gradient(90deg,#f3de41,#f4dc46,#f5d84c,#f7d454,#f8d05f,#f7ce6b,#f6cc79,#f0c784,#e7c68d,#ddc794,#d2c897,#c4ca9b,#b2cba0,#9acbaa,#79caaf,#52c6b3,#3ac2b8,#33c0c0,#2cbec8,#28bbd1,#25b8db,#25b6e3,#25b4ea,#25b1ea,#25afea,#26afea,#26aeea,#26aeea,#26aeea,#26aeea,#26adea,#25abe9,#25a8e7,#24a5e5,#24a0e2,#239ddf)"></div><div style="top:1871px;height:4px;background:linear-gradient(90deg,#f3de41,#f4dc46,#f5d84d,#f7d455,#f8d05e,#f8ce6a,#f6cc78,#f1c882,#e8c68c,#dec694,#d4c897,#c7ca9a,#b5cb9f,#9fcba9,#7ecaae,#59c7b2,#3cc3b6,#35c0be,#2dbec6,#29bccf,#26b9da,#25b6e2,#25b4e9,#25b2ea,#25b0ea,#25afea,#25afea,#25afea,#25afea,#26aeea,#26aeea,#26acea,#25a9e8,#24a6e6,#24a1e3,#239ee0)"></div><div style="top:1875px;height:4px;background:linear-gradient(90deg,#f3de41,#f4dc46,#f5d84d,#f7d455,#f8d05e,#f8ce69,#f7cc77,#f2c881,#eac68b,#e0c693,#d6c896,#cac999,#b9cb9d,#a2cba7,#83caad,#60c7b1,#40c3b5,#36c1bc,#2fbfc4,#29bccd,#26b9d8,#25b7e1,#25b5e8,#25b2ea,#25b1ea,#25b0ea,#25b0ea,#25b0ea,#25b0ea,#25afea,#26aeea,#26adea,#25aae9,#25a7e7,#24a2e4,#249ee0)"></div><div style="top:1879px;height:4px;background:linear-gradient(90deg,#f3de41,#f4dc46,#f5d84d,#f7d455,#f8d05e,#f8ce69,#f7cd76,#f2c980,#ebc689,#e1c692,#d8c796,#cdc999,#bccb9d,#a6cba5,#88caac,#67c8b1,#46c4b4,#38c1ba,#30bfc2,#2abdcc,#27bad6,#25b7df,#25b5e6,#25b3ea,#25b1ea,#25b1ea,#25b1ea,#25b1ea,#25b1ea,#25b0ea,#25afea,#26aeea,#26acea,#25a8e7,#24a3e4,#249fe1)"></div><div style="top:1883px;height:4px;background:linear-gradient(90deg,#f3df41,#f4dc46,#f5d84d,#f7d455,#f8d05e,#f8ce68,#f7cd74,#f3c97f,#ecc688,#e3c691,#d9c795,#cfc998,#bfcb9c,#a9cba4,#8dcbac,#6dc9b0,#4cc5b3,#3ac2b9,#32c0c1,#2bbdca,#27bad4,#25b7de,#25b5e5,#25b4ea,#25b2ea,#25b1ea,#25b1ea,#25b1ea,#25b1ea,#25b1ea,#25b0ea,#26aeea,#26acea,#25a9e8,#24a4e5,#24a0e2)"></div><div style="top:1887px;height:4px;background:linear-gradient(90deg,#f3df40,#f4dc45,#f5d84c,#f7d455,#f8d05e,#f8cf67,#f7cd73,#f3ca7e,#eec687,#e4c68f,#dbc795,#d1c898,#c2ca9b,#accba3,#92cbab,#73caaf,#52c6b3,#3bc2b7,#34c0bf,#2bbec8,#28bbd2,#25b8dd,#25b6e4,#25b4e9,#25b3ea,#25b2ea,#25b2ea,#25b2ea,#25b2ea,#25b1ea,#25b0ea,#25afea,#26adea,#25aae8,#24a5e6,#24a0e2)"></div><div style="top:1891px;height:4px;background:linear-gradient(90deg,#f3df40,#f4dc45,#f5d84c,#f7d455,#f8d05d,#f8cf67,#f7cd72,#f4ca7d,#efc686,#e5c68e,#dcc794,#d3c897,#c4ca9b,#afcba1,#96cbab,#78caaf,#57c6b2,#3dc3b5,#35c1bd,#2dbec6,#29bbd0,#25b8db,#25b6e2,#25b5e8,#25b3ea,#25b3ea,#25b3ea,#25b3ea,#25b3ea,#25b2ea,#25b1ea,#25afea,#26aeea,#25aae9,#25a6e6,#24a1e3)"></div><div style="top:1895px;height:4px;background:linear-gradient(90deg,#f3df40,#f4dc45,#f5d84c,#f7d454,#f8d05d,#f8cf67,#f7cd72,#f4ca7c,#efc785,#e7c68d,#dec794,#d5c896,#c7ca9a,#b2cba0,#9acbaa,#7bcaae,#5dc7b2,#42c3b5,#37c1bb,#2fbfc4,#29bcce,#26b9d9,#25b7e1,#25b5e6,#25b4ea,#25b3ea,#25b3ea,#25b3ea,#25b3ea,#25b2ea,#25b1ea,#25b0ea,#26aeea,#25abe9,#25a7e7,#24a2e3)"></div><div style="top:1899px;height:4px;background:linear-gradient(90deg,#f3df40,#f4dd45,#f5d94c,#f7d454,#f8d05d,#f8cf66,#f7cd71,#f5cb7c,#f0c784,#e8c68c,#dfc693,#d6c896,#cac999,#b5cb9f,#9dcba9,#7fcaae,#62c8b1,#47c4b4,#39c2ba,#31bfc2,#2abdcc,#27bad6,#25b7df,#25b5e5,#25b4e8,#25b4ea,#25b4ea,#25b4ea,#25b4ea,#25b3ea,#25b2ea,#25b0ea,#26aeea,#26acea,#25a8e7,#24a3e4)"></div><div style="top:1903px;height:4px;background:linear-gradient(90deg,#f3e040,#f4dd44,#f5d94c,#f7d454,#f8d05d,#f8cf66,#f7cd71,#f5cb7b,#f0c783,#e9c68b,#e0c692,#d8c795,#ccc999,#b7cb9e,#9fcba8,#83caad,#67c8b1,#4cc5b3,#3bc2b8,#33c0c0,#2bbdc9,#28bad4,#25b8dd,#25b6e3,#25b5e7,#25b4e9,#25b4e9,#25b4e9,#25b4ea,#25b3ea,#25b2ea,#25b1ea,#26afea,#26acea,#25a8e8,#24a4e5)"></div><div style="top:1907px;height:4px;background:linear-gradient(90deg,#f3e040,#f4dd44,#f5d94b,#f7d554,#f8d05c,#f8cf66,#f7cd70,#f5cb7a,#f1c883,#eac68b,#e2c691,#dac795,#cfc998,#bacb9d,#a2cba7,#86caad,#6bc9b0,#51c5b3,#3cc3b6,#35c0be,#2cbec7,#28bbd1,#25b8dc,#25b6e2,#25b5e5,#25b5e7,#25b5e8,#25b4e8,#25b4e9,#25b4ea,#25b2ea,#25b1ea,#25afea,#26adea,#25a9e8,#24a5e5)"></div><div style="top:1911px;height:4px;background:linear-gradient(90deg,#f3e040,#f4dd44,#f5d94b,#f7d553,#f8d05c,#f8cf66,#f7cd70,#f6cb7a,#f1c882,#ebc68a,#e3c690,#dbc794,#d0c998,#bccb9d,#a4cba6,#89caac,#70cab0,#56c6b2,#40c3b5,#37c1bc,#2ebfc5,#29bccf,#26b9d9,#25b7e0,#25b6e4,#25b5e6,#25b5e7,#25b5e7,#25b4e8,#25b4ea,#25b3ea,#25b1ea,#25afea,#26adea,#25aae8,#25a6e6)"></div><div style="top:1915px;height:4px;background:linear-gradient(90deg,#f3e03f,#f4dd43,#f5d94b,#f6d553,#f8d05c,#f8cf65,#f7cd70,#f6cc79,#f2c881,#ecc689,#e4c68f,#ddc794,#d2c897,#becb9c,#a6cba5,#8ccbac,#75caaf,#5bc7b2,#45c4b4,#39c2ba,#31bfc2,#2abccc,#27bad6,#25b7de,#25b6e2,#25b6e4,#25b5e6,#25b5e6,#25b5e8,#25b4e9,#25b3ea,#25b1ea,#25b0ea,#26adea,#25abe9,#25a7e7)"></div><div style="top:1919px;height:4px;background:linear-gradient(90deg,#f3e03f,#f3dd43,#f5d94a,#f6d553,#f8d15c,#f8cf65,#f7cd6f,#f6cc79,#f2c980,#edc688,#e5c68f,#dec694,#d4c897,#c0ca9c,#a8cba4,#90cbab,#78caaf,#60c7b1,#4bc5b4,#3bc2b8,#33c0c0,#2bbdca,#28bad4,#25b8dc,#25b7e1,#25b6e3,#25b6e4,#25b5e5,#25b5e7,#25b4e9,#25b3ea,#25b2ea,#25b0ea,#26aeea,#26abe9,#25a8e7)"></div><div style="top:1923px;height:4px;background:linear-gradient(90deg,#f3e03f,#f3de42,#f5da4a,#f6d552,#f8d15b,#f8cf65,#f7cd6f,#f6cc79,#f2c980,#eec687,#e6c68e,#e0c693,#d5c896,#c2ca9b,#aacba4,#93cbab,#7bcaae,#65c8b1,#50c5b3,#3cc3b6,#35c0be,#2cbec7,#28bbd1,#26b9da,#25b7df,#25b6e1,#25b6e3,#25b6e4,#25b5e6,#25b4e8,#25b4ea,#25b2ea,#25b0ea,#26aeea,#26acea,#25a9e8)"></div><div style="top:1927px;height:4px;background:linear-gradient(90deg,#f3e13f,#f3de42,#f5da49,#f6d652,#f8d15b,#f8cf65,#f7cd6f,#f6cc78,#f3c97f,#eec687,#e7c68d,#e1c692,#d7c896,#c4ca9b,#accba3,#95cbab,#7ecaae,#69c9b0,#55c6b3,#42c3b5,#37c1bb,#2ebfc5,#29bcce,#27b9d7,#25b8dd,#25b7e0,#25b6e2,#25b6e3,#25b5e5,#25b5e8,#25b4ea,#25b2ea,#25b0ea,#26afea,#26adea,#25aae9)"></div><div style="top:1931px;height:4px;background:linear-gradient(90deg,#f3e13f,#f3de42,#f5da49,#f6d651,#f8d15a,#f8cf65,#f7cd6f,#f6cc78,#f3ca7e,#efc686,#e8c68c,#e2c691,#d8c796,#c6ca9a,#aecba2,#98cbaa,#81caad,#6ec9b0,#5bc7b2,#47c4b4,#39c2b9,#31bfc2,#2abdcc,#27bad5,#25b8db,#25b7de,#25b7e1,#25b6e2,#25b6e5,#25b5e7,#25b4ea,#25b2ea,#25b1ea,#25afea,#26adea,#26abea)"></div><div style="top:1935px;height:4px;background:linear-gradient(90deg,#f3e13f,#f3de41,#f5da48,#f6d651,#f8d15a,#f8cf65,#f7cd6f,#f7cc78,#f3ca7e,#f0c785,#e9c68b,#e3c690,#d9c795,#c7ca9a,#b0cba1,#9bcbaa,#85caad,#73caaf,#60c7b1,#4dc5b3,#3bc2b7,#33c0c0,#2bbdc9,#28bbd2,#26b9d9,#25b8dd,#25b7df,#25b6e1,#25b6e4,#25b5e6,#25b4e9,#25b3ea,#25b1ea,#25afea,#26aeea,#26acea)"></div><div style="top:1939px;height:4px;background:linear-gradient(90deg,#f3e13f,#f3de41,#f4db48,#f6d650,#f8d25a,#f8cf65,#f7ce6f,#f7cc77,#f4ca7d,#f0c784,#eac68a,#e5c68f,#dbc795,#c9c99a,#b2cba0,#9ecba9,#88caad,#77caaf,#65c8b1,#53c6b3,#3dc3b5,#35c1bd,#2dbec7,#29bccf,#27bad6,#25b8db,#25b7de,#25b7e0,#25b6e3,#25b5e6,#25b4e9,#25b3ea,#25b2ea,#25b0ea,#26afea,#26adea)"></div><div style="top:1943px;height:4px;background:linear-gradient(90deg,#f3e13f,#f3df41,#f4db48,#f6d750,#f8d259,#f8cf65,#f7ce6f,#f7cc77,#f4ca7d,#f0c784,#ebc689,#e6c68e,#dcc794,#cbc999,#b4cb9f,#a0cba8,#8bcaac,#7acaaf,#6ac9b0,#58c6b2,#44c4b4,#37c1bb,#2fbfc4,#2abccc,#28bbd3,#26b9d9,#25b8dd,#25b7df,#25b6e2,#25b5e5,#25b5e8,#25b4ea,#25b2ea,#25b1ea,#25afea,#26aeea)"></div><div style="top:1947px;height:4px;background:linear-gradient(90deg,#f3e13f,#f3df41,#f4db47,#f6d74f,#f8d259,#f8cf64,#f7ce6f,#f7cc77,#f4ca7c,#f1c883,#ecc688,#e7c68d,#ddc794,#cdc999,#b6cb9e,#a2cba7,#8ecbac,#7dcaae,#6fc9b0,#5ec7b2,#4ac4b4,#39c2b9,#31bfc1,#2bbdca,#29bbd1,#27bad6,#25b8db,#25b7de,#25b7e1,#25b6e4,#25b5e7,#25b4ea,#25b3ea,#25b1ea,#25b0ea,#25afea)"></div><div style="top:1951px;height:4px;background:linear-gradient(90deg,#f3e13f,#f3df40,#f4db47,#f6d74e,#f7d258,#f8cf64,#f7ce6f,#f7cd76,#f5cb7c,#f1c882,#edc688,#e8c68c,#dfc693,#cfc998,#b8cb9d,#a4cba6,#91cbab,#81caae,#73caaf,#63c8b1,#4fc5b3,#3bc2b7,#34c0bf,#2cbec7,#29bcce,#28bad4,#26b9d9,#25b8dd,#25b7e0,#25b6e3,#25b5e6,#25b4e9,#25b3ea,#25b2ea,#25b1ea,#25b0ea)"></div><div style="top:1955px;height:4px;background:linear-gradient(90deg,#f3e13f,#f3df40,#f4dc46,#f6d84e,#f7d258,#f8cf64,#f7ce6e,#f7cd76,#f5cb7b,#f2c881,#eec687,#e9c68b,#e0c693,#d0c998,#bacb9d,#a6cba5,#95cbab,#84caad,#77caaf,#68c8b1,#55c6b3,#3ec3b5,#36c1bd,#2fbfc4,#2abdcb,#28bbd1,#27bad7,#25b8db,#25b7df,#25b6e2,#25b6e5,#25b5e7,#25b4ea,#25b3ea,#25b2ea,#25b1ea)"></div><div style="top:1959px;height:4px;background:linear-gradient(90deg,#f3e13f,#f3df40,#f4dc46,#f5d84d,#f7d357,#f8cf63,#f7ce6e,#f7cd75,#f5cb7b,#f2c981,#efc686,#eac68a,#e1c692,#d1c898,#bccb9d,#a8cba4,#98cbaa,#87caad,#7acaae,#6cc9b0,#5ac7b2,#44c4b4,#38c1ba,#31bfc2,#2bbdc9,#29bccf,#27bad4,#26b9d9,#25b8dd,#25b7e0,#25b6e3,#25b5e6,#25b5e8,#25b4ea,#25b3ea,#25b2ea)"></div><div style="top:1963px;height:4px;background:linear-gradient(90deg,#f3e13f,#f3df40,#f4dc45,#f5d84d,#f7d357,#f8cf63,#f7ce6d,#f7cd75,#f5cb7a,#f2c980,#f0c785,#ebc689,#e2c691,#d3c897,#becb9c,#abcba3,#9bcbaa,#8bcaac,#7ecaae,#71cab0,#5fc7b2,#4ac5b4,#3ac2b8,#33c0bf,#2dbec6,#2abccc,#28bbd2,#27b9d7,#25b8dc,#25b7df,#25b6e2,#25b6e4,#25b5e6,#25b4e8,#25b4ea,#25b3ea)"></div><div style="top:1967px;height:4px;background:linear-gradient(90deg,#f3e13f,#f3df40,#f4dc45,#f5d84c,#f7d356,#f8cf62,#f7ce6d,#f7cd74,#f6cb7a,#f3c97f,#f0c784,#ecc689,#e3c690,#d4c897,#c0ca9c,#adcba2,#9ecba9,#8ecbac,#81caae,#75caaf,#64c8b1,#50c5b3,#3cc3b6,#36c1bd,#2fbfc4,#2bbdca,#29bbd0,#27bad5,#26b9da,#25b8de,#25b7e0,#25b6e2,#25b6e5,#25b5e6,#25b5e8,#25b4ea)"></div><div style="top:1971px;height:4px;background:linear-gradient(90deg,#f3e13f,#f3df40,#f4dd44,#f5d94c,#f7d455,#f8cf62,#f7ce6c,#f7cd74,#f6cc79,#f3c97e,#f1c783,#edc688,#e4c68f,#d5c896,#c2ca9b,#afcba1,#a0cba8,#91cbab,#84caad,#78caaf,#68c9b1,#55c6b3,#42c3b5,#38c1ba,#32c0c1,#2cbec7,#29bccd,#28bbd3,#26b9d8,#25b8dc,#25b7de,#25b7e1,#25b6e3,#25b6e4,#25b5e6,#25b5e8)"></div><div style="top:1975px;height:4px;background:linear-gradient(90deg,#f3e13f,#f3df40,#f4dd44,#f5d94b,#f7d455,#f8d061,#f7ce6c,#f7cd73,#f6cc79,#f3ca7e,#f1c882,#eec687,#e5c68e,#d7c896,#c4ca9b,#b2cba0,#a2cba7,#95cbab,#87caad,#7bcaae,#6dc9b0,#5bc7b2,#48c4b4,#3ac2b8,#34c0be,#2ebec5,#2abdcb,#29bbd1,#27bad5,#26b9da,#25b8dd,#25b7df,#25b7e0,#25b6e2,#25b6e4,#25b5e6)"></div><div style="top:1979px;height:4px;background:linear-gradient(90deg,#f3e03f,#f3df40,#f4dd44,#f5d94a,#f7d454,#f8d060,#f7ce6b,#f7cd72,#f6cc78,#f4ca7d,#f1c882,#efc686,#e6c68e,#d8c795,#c6ca9a,#b4cb9f,#a5cba6,#98cbaa,#8acaac,#7ecaae,#71cab0,#60c7b1,#4fc5b3,#3cc3b5,#37c1bc,#31bfc2,#2bbdc9,#29bcce,#28bbd3,#27bad7,#26b9da,#25b8dd,#25b7de,#25b7e0,#25b6e2,#25b6e4)"></div><div style="top:1983px;height:4px;background:linear-gradient(90deg,#f3e03f,#f3df40,#f4dd43,#f5da4a,#f7d554,#f8d060,#f8ce6b,#f7cd72,#f6cc78,#f4ca7c,#f2c981,#efc785,#e7c68d,#d9c795,#c8ca9a,#b7cb9e,#a7cba5,#9bcbaa,#8ecbac,#81caad,#76caaf,#66c8b1,#55c6b3,#43c4b4,#39c2b9,#33c0c0,#2dbec6,#2abdcc,#29bbd1,#27bad4,#27b9d7,#26b9da,#25b8dc,#25b8de,#25b7df,#25b6e2)"></div><div style="top:1987px;height:4px;background:linear-gradient(90deg,#f3e040,#f3df40,#f3dd43,#f5da49,#f6d553,#f8d05f,#f8ce6a,#f7cd71,#f7cc78,#f4cb7c,#f2c980,#f0c784,#e8c68c,#dbc795,#cac999,#b9cb9d,#a9cba4,#9ecba9,#91cbab,#84caad,#79caaf,#6bc9b0,#5bc7b2,#4bc5b4,#3bc2b7,#35c1bd,#2fbfc4,#2bbdc9,#29bcce,#28bbd2,#27bad4,#27bad7,#26b9d9,#25b8db,#25b8dd,#25b7df)"></div><div style="top:1991px;height:4px;background:linear-gradient(90deg,#f3e040,#f3df40,#f3de42,#f5da49,#f6d552,#f8d05e,#f8ce69,#f7cd71,#f7cc77,#f5cb7b,#f3c97f,#f0c784,#e9c68b,#dcc794,#cdc999,#bbcb9d,#accba3,#a0cba8,#94cbab,#88caad,#7ccaae,#70cab0,#62c8b1,#52c6b3,#40c3b5,#38c1bb,#32c0c1,#2cbec7,#2abdcb,#29bccf,#28bbd1,#28bbd3,#27bad5,#26b9d7,#26b9da,#25b8dd)"></div><div style="top:1995px;height:4px;background:linear-gradient(90deg,#f3e040,#f3df40,#f3de42,#f4db48,#f6d651,#f8d05d,#f8ce68,#f7cd70,#f7cd76,#f5cb7b,#f3c97e,#f1c883,#eac68a,#ddc794,#cfc998,#bdcb9c,#aecba2,#a2cba7,#97cbaa,#8bcaac,#80caae,#75caaf,#68c8b1,#59c6b2,#47c4b4,#3ac2b8,#34c0bf,#2fbfc4,#2bbdc9,#2abdcc,#29bcce,#29bbd0,#28bbd2,#28bad4,#27bad7,#25b8db)"></div><div style="top:1999px;height:4px;background:linear-gradient(90deg,#f3df40,#f3df40,#f3de42,#f4db48,#f6d651,#f8d05c,#f8cf68,#f7cd6f,#f7cd76,#f5cb7a,#f3ca7e,#f1c882,#ebc68a,#dec694,#d0c998,#bfcb9c,#b0cba1,#a5cba6,#9bcbaa,#8ecbac,#83caad,#79caaf,#6ec9b0,#60c7b1,#4fc5b3,#3cc3b6,#36c1bc,#31bfc2,#2dbec6,#2bbdc9,#2abdcb,#2abccd,#29bcce,#29bbd0,#28bad3,#26b9d8)"></div><div style="top:2003px;height:4px;background:linear-gradient(90deg,#f3df40,#f3df40,#f3de42,#f4db47,#f6d750,#f8d15c,#f8cf67,#f7ce6f,#f7cd75,#f6cb7a,#f4ca7d,#f1c882,#ecc689,#e0c693,#d2c897,#c1ca9b,#b3cba0,#a7cba5,#9ecba9,#91cbab,#87caad,#7ecaae,#75caaf,#67c8b1,#56c6b2,#43c4b4,#39c2b9,#33c0bf,#30bfc3,#2dbec6,#2bbec8,#2bbdc9,#2abdcb,#2abccd,#29bbd0,#27bad5)"></div><div style="top:2007px;height:4px;background:linear-gradient(90deg,#f3df40,#f3df40,#f3de41,#f4dc46,#f6d74f,#f8d15b,#f8cf66,#f7ce6e,#f7cd75,#f6cc79,#f4ca7d,#f2c881,#edc688,#e1c692,#d3c897,#c3ca9b,#b5cb9f,#aacba4,#a0cba8,#95cbab,#8acaac,#82caad,#79caaf,#6ec9b0,#5ec7b2,#4bc5b4,#3bc2b7,#36c1bd,#32c0c1,#30bfc3,#2ebec5,#2dbec6,#2cbec8,#2bbdca,#2abccd,#28bbd2)"></div><div style="top:2011px;height:4px;background:linear-gradient(90deg,#f3df40,#f3df40,#f3de41,#f4dc46,#f6d74e,#f8d15a,#f8cf65,#f7ce6e,#f7cd74,#f6cc79,#f4ca7c,#f2c980,#edc687,#e2c691,#d5c897,#c5ca9a,#b7cb9e,#accba3,#a2cba7,#99cbaa,#8ecbac,#86caad,#7ecaae,#75caaf,#65c8b1,#52c6b3,#3fc3b5,#38c2ba,#35c0be,#32c0c0,#31bfc2,#30bfc3,#2fbfc4,#2dbec6,#2bbdca,#29bccf)"></div><div style="top:2015px;height:4px;background:linear-gradient(90deg,#f3df41,#f3df40,#f3df41,#f4dc45,#f5d84d,#f8d259,#f8cf64,#f7ce6d,#f7cd74,#f6cc79,#f5cb7c,#f2c980,#eec687,#e3c690,#d6c896,#c7ca9a,#b9cb9d,#aecba2,#a5cba6,#9ccbaa,#92cbab,#8acaac,#83caad,#7acaaf,#6cc9b0,#5ac7b2,#47c4b4,#3bc2b7,#37c1bb,#35c1bd,#34c0bf,#33c0c0,#32c0c1,#30bfc3,#2dbec6,#2abdcc)"></div><div style="top:2019px;height:4px;background:linear-gradient(90deg,#f3df41,#f3df40,#f3df41,#f4dc45,#f5d84d,#f7d258,#f8cf64,#f7ce6d,#f7cd74,#f6cc78,#f5cb7b,#f3c97f,#efc686,#e4c68f,#d7c896,#c9c99a,#bbcb9d,#b1cba1,#a8cba5,#9fcba8,#96cbaa,#8fcbac,#88caad,#7fcaae,#74caaf,#61c8b1,#4fc5b3,#3fc3b5,#3ac2b8,#38c1ba,#37c1bc,#36c1bd,#35c0be,#33c0c0,#30bfc3,#2bbdc9)"></div><div style="top:2023px;height:4px;background:linear-gradient(90deg,#f3de41,#f3df40,#f3df41,#f4dd44,#f5d94c,#f7d357,#f8cf63,#f7ce6c,#f7cd73,#f6cc78,#f5cb7b,#f3c97f,#efc785,#e5c68f,#d8c795,#cbc999,#bdcb9c,#b3cb9f,#aacba3,#a2cba7,#9bcbaa,#93cbab,#8ccbac,#84caad,#79caaf,#69c9b1,#57c6b2,#47c4b4,#3cc3b5,#3bc2b8,#3ac2b9,#39c2ba,#38c1bb,#36c1bd,#32c0c0,#2dbec6)"></div><div style="top:2027px;height:4px;background:linear-gradient(90deg,#f3de41,#f3df40,#f3df41,#f4dd44,#f5d94b,#f7d356,#f8cf62,#f7ce6c,#f7cd73,#f7cc78,#f5cb7b,#f3ca7e,#f0c785,#e6c68e,#dac795,#ccc999,#bfcb9c,#b6cb9e,#adcba2,#a5cba6,#9ecba9,#98cbaa,#91cbab,#89caac,#7fcaae,#70cab0,#5fc7b2,#4fc5b3,#44c4b4,#3ec3b5,#3cc3b6,#3bc2b7,#3ac2b8,#38c2ba,#35c1bd,#30bfc3)"></div><div style="top:2031px;height:4px;background:linear-gradient(90deg,#f3de41,#f3df40,#f3df41,#f4dd43,#f5da4a,#f7d455,#f8cf61,#f7ce6b,#f7cd73,#f7cc78,#f5cb7a,#f4ca7e,#f0c784,#e7c68d,#dbc795,#cec998,#c1ca9b,#b8cb9d,#b0cba1,#a8cba4,#a2cba7,#9dcba9,#96cbaa,#8ecbac,#84caad,#77caaf,#66c8b1,#57c6b2,#4dc5b3,#47c4b4,#43c4b4,#41c3b5,#3dc3b5,#3bc2b7,#38c1bb,#33c0c0)"></div><div style="top:2035px;height:4px;background:linear-gradient(90deg,#f3de41,#f3df41,#f3df40,#f3de43,#f5da49,#f7d454,#f8d061,#f8ce6b,#f7cd72,#f7cc78,#f5cb7a,#f4ca7d,#f1c783,#e8c68c,#dcc794,#d0c998,#c3ca9b,#bacb9d,#b3cba0,#abcba3,#a5cba6,#a0cba8,#9bcbaa,#93cbab,#89caac,#7dcaae,#6ec9b0,#60c7b1,#55c6b3,#4fc5b3,#4cc5b4,#49c4b4,#46c4b4,#3fc3b5,#3ac2b8,#35c1bd)"></div><div style="top:2039px;height:4px;background:linear-gradient(90deg,#f3de42,#f3df41,#f3df40,#f3de42,#f5da49,#f7d554,#f8d060,#f8ce6a,#f7cd72,#f7cc77,#f6cb7a,#f4ca7d,#f1c883,#e9c68b,#ddc794,#d1c998,#c5ca9b,#bdcb9c,#b6cb9e,#afcba2,#a8cba4,#a3cba7,#9fcba9,#98cbaa,#8ecbac,#82caad,#76caaf,#68c8b1,#5ec7b2,#58c6b2,#55c6b3,#52c6b3,#4ec5b3,#47c4b4,#3dc3b5,#38c1bb)"></div><div style="top:2043px;height:4px;background:linear-gradient(90deg,#f3de42,#f3de41,#f3df40,#f3de42,#f4db48,#f6d553,#f8d05f,#f8ce6a,#f7cd72,#f7cc77,#f6cb7a,#f4ca7c,#f1c882,#eac68a,#dec694,#d2c897,#c6ca9a,#bfcb9c,#b9cb9d,#b2cba0,#accba3,#a7cba5,#a2cba7,#9dcba9,#93cbab,#87caad,#7bcaae,#70cab0,#66c8b1,#61c7b1,#5dc7b2,#5ac7b2,#56c6b2,#4fc5b3,#44c4b4,#3ac2b8)"></div><div style="top:2047px;height:4px;background:linear-gradient(90deg,#f3de42,#f3de41,#f3df40,#f3de41,#f4db47,#f6d552,#f8d05f,#f8ce6a,#f7cd72,#f7cc77,#f6cc79,#f4ca7c,#f2c881,#ebc68a,#dfc693,#d3c897,#c8ca9a,#c1ca9b,#bccb9d,#b5cb9f,#afcba1,#aacba4,#a5cba6,#a0cba8,#98cbaa,#8dcbac,#81caad,#77caaf,#6fc9b0,#69c9b1,#65c8b1,#62c8b1,#5ec7b2,#57c6b2,#4cc5b4,#3cc3b5)"></div><div style="top:2051px;height:4px;background:linear-gradient(90deg,#f3de41,#f3de41,#f3df40,#f3df41,#f4dc46,#f6d651,#f8d05e,#f8ce69,#f7cd72,#f7cc77,#f6cc79,#f5cb7c,#f2c981,#ecc689,#e0c693,#d4c897,#cac999,#c4ca9b,#becb9c,#b8cb9d,#b3cba0,#aecba2,#a9cba4,#a3cba6,#9dcba9,#92cbab,#87caad,#7dcaae,#76caaf,#71cab0,#6dc9b0,#6ac9b0,#66c8b1,#5fc7b2,#54c6b3,#44c4b4)"></div><div style="top:2055px;height:4px;background:linear-gradient(90deg,#f3de41,#f3de42,#f3df40,#f3df41,#f4dc45,#f6d650,#f8d05d,#f8ce69,#f7cd71,#f7cc77,#f6cc79,#f5cb7b,#f2c980,#ecc688,#e1c692,#d5c896,#ccc999,#c6ca9a,#c1ca9b,#bbcb9d,#b6cb9e,#b1cba0,#accba3,#a7cba5,#a0cba8,#97cbaa,#8ccbac,#83caad,#7ccaae,#78caaf,#75caaf,#72cab0,#6dc9b0,#66c8b1,#5bc7b2,#4cc5b4)"></div><div style="top:2059px;height:4px;background:linear-gradient(90deg,#f3de41,#f3de42,#f3df41,#f3df40,#f4dc45,#f6d750,#f8d05d,#f8ce68,#f7cd71,#f7cc77,#f6cc79,#f5cb7b,#f3c980,#edc688,#e2c691,#d6c896,#cec999,#c8ca9a,#c4ca9b,#becb9c,#b9cb9d,#b4cb9f,#afcba1,#aacba4,#a4cba6,#9ccbaa,#92cbab,#89caac,#82caad,#7ecaae,#7bcaae,#78caaf,#75caaf,#6ec9b0,#63c8b1,#54c6b3)"></div><div style="top:2063px;height:4px;background:linear-gradient(90deg,#f3de41,#f3de42,#f3df41,#f3df40,#f4dd44,#f6d74f,#f8d05c,#f8cf68,#f7cd71,#f7cc77,#f6cc79,#f5cb7b,#f3c97f,#eec687,#e3c690,#d7c896,#cfc998,#cac999,#c6ca9a,#c1ca9b,#bccb9c,#b8cb9e,#b3cba0,#adcba2,#a7cba5,#a0cba8,#97cbaa,#8fcbac,#88caac,#84caad,#81caae,#7ecaae,#7acaae,#75caaf,#6bc9b0,#5cc7b2)"></div><div style="top:2067px;height:4px;background:linear-gradient(90deg,#f3de41,#f3de42,#f3df41,#f3df40,#f4dd43,#f6d74e,#f8d15b,#f8cf67,#f7cd71,#f7cd76,#f6cc79,#f5cb7a,#f3c97e,#efc686,#e4c690,#d8c795,#d1c998,#cdc999,#c9c99a,#c4ca9b,#bfcb9c,#bbcb9d,#b6cb9e,#b0cba1,#aacba4,#a3cba7,#9dcba9,#94cbab,#8ecbac,#8acaac,#86caad,#83caad,#80caae,#7acaae,#72cab0,#64c8b1)"></div><div style="top:2071px;height:4px;background:linear-gradient(90deg,#f3de41,#f3de43,#f3df41,#f3df40,#f3dd43,#f5d84e,#f8d15b,#f8cf67,#f7cd70,#f7cd76,#f6cc79,#f5cb7a,#f3ca7e,#efc686,#e5c68f,#d9c795,#d2c897,#cfc998,#ccc999,#c7ca9a,#c2ca9b,#becb9c,#b9cb9d,#b3cb9f,#adcba2,#a7cba5,#a0cba8,#9acbaa,#94cbab,#8fcbab,#8ccbac,#89caac,#85caad,#80caae,#78caaf,#6cc9b0)"></div><div style="top:2075px;height:4px;background:linear-gradient(90deg,#f3de41,#f3de43,#f3df41,#f3df40,#f3de42,#f5d84d,#f8d15a,#f8cf67,#f7cd70,#f7cd76,#f6cc78,#f6cc7a,#f4ca7d,#f0c785,#e5c68e,#dac795,#d3c897,#d1c998,#cec998,#cac999,#c5ca9a,#c1ca9c,#bccb9d,#b6cb9e,#b0cba1,#aacba4,#a4cba6,#9ecba9,#99cbaa,#95cbab,#91cbab,#8ecbac,#8acaac,#85caad,#7ecaae,#74caaf)"></div><div style="top:2079px;height:4px;background:linear-gradient(90deg,#f3df41,#f3dd43,#f3df41,#f3e040,#f3de42,#f5d84c,#f8d15a,#f8cf66,#f7cd6f,#f7cd76,#f6cc78,#f6cc79,#f4ca7d,#f0c785,#e6c68e,#dbc794,#d5c897,#d2c897,#d0c998,#cdc999,#c8ca9a,#c3ca9b,#becb9c,#b9cb9d,#b3cb9f,#adcba2,#a7cba5,#a2cba7,#9ecba9,#9acbaa,#97cbaa,#93cbab,#8fcbab,#8acaac,#83caad,#7acaaf)"></div><div style="top:2083px;height:4px;background:linear-gradient(90deg,#f3df41,#f4dd43,#f3df41,#f3e040,#f3de41,#f5d94c,#f8d25a,#f8cf66,#f7ce6f,#f7cd75,#f7cc78,#f6cc79,#f4ca7c,#f0c784,#e7c68d,#ddc794,#d6c896,#d4c897,#d2c897,#cfc998,#cbc999,#c6ca9a,#c1ca9b,#bccb9d,#b6cb9e,#b0cba1,#abcba3,#a6cba6,#a2cba7,#9fcba9,#9ccbaa,#99cbaa,#95cbab,#90cbab,#89caac,#80caae)"></div><div style="top:2087px;height:4px;background:linear-gradient(90deg,#f3df41,#f4dd43,#f3df41,#f3e040,#f3de41,#f5d94c,#f8d259,#f8cf65,#f7ce6f,#f7cd75,#f7cc78,#f6cc78,#f4cb7c,#f1c783,#e8c68c,#dec794,#d7c896,#d5c896,#d4c897,#d1c898,#cec999,#c9c99a,#c4ca9b,#bfcb9c,#b9cb9d,#b3cb9f,#aecba2,#a9cba4,#a5cba6,#a2cba7,#a0cba8,#9dcba9,#9acbaa,#95cbab,#8ecbac,#86caad)"></div><div style="top:2091px;height:4px;background:linear-gradient(90deg,#f3df41,#f4dd43,#f3df41,#f3e040,#f3df41,#f5d94b,#f8d259,#f8cf65,#f7ce6e,#f7cd74,#f7cc77,#f6cc78,#f5cb7b,#f1c883,#e8c68c,#dfc693,#d8c795,#d7c896,#d5c896,#d3c897,#d0c998,#cbc999,#c6ca9a,#c1ca9b,#bccb9d,#b6cb9e,#b1cba0,#accba3,#a9cba4,#a6cba5,#a3cba7,#a1cba8,#9ecba9,#9acbaa,#94cbab,#8ccbac)"></div><div style="top:2095px;height:4px;background:linear-gradient(90deg,#f3df41,#f4dd43,#f3df41,#f3e040,#f3df41,#f5d94b,#f7d258,#f8cf64,#f7ce6d,#f7cd74,#f7cc77,#f7cc78,#f5cb7b,#f1c882,#e9c68b,#e0c693,#dac795,#d8c795,#d7c896,#d5c897,#d2c897,#cec999,#c9c99a,#c4ca9b,#becb9c,#b9cb9d,#b4cb9f,#afcba1,#accba3,#a9cba4,#a7cba5,#a4cba6,#a2cba7,#9fcba9,#9acbaa,#92cbab)"></div><div style="top:2099px;height:4px;background:linear-gradient(90deg,#f3df41,#f4dd43,#f3df41,#f3e040,#f3df41,#f5d94b,#f7d258,#f8cf64,#f7ce6d,#f7cd73,#f7cd76,#f7cc77,#f5cb7a,#f1c882,#eac68a,#e1c692,#dbc795,#dac795,#d8c795,#d6c896,#d3c897,#d0c998,#cbc999,#c6ca9a,#c1ca9b,#bccb9d,#b7cb9e,#b3cba0,#afcba1,#accba3,#aacba4,#a8cba5,#a5cba6,#a2cba7,#9ecba9,#98cbaa)"></div><div style="top:2103px;height:4px;background:linear-gradient(90deg,#f3df41,#f4dd43,#f3df41,#f3e040,#f3df40,#f5d94b,#f7d358,#f8cf63,#f7ce6c,#f7cd72,#f7cd75,#f7cc77,#f5cb7a,#f2c881,#ebc68a,#e2c691,#dcc794,#dbc795,#dac795,#d8c796,#d5c896,#d2c897,#cec999,#c9ca9a,#c3ca9b,#becb9c,#bacb9d,#b6cb9e,#b2cba0,#b0cba1,#adcba2,#abcba3,#a9cba4,#a6cba5,#a2cba7,#9ecba9)"></div><div style="top:2107px;height:4px;background:linear-gradient(90deg,#f3df41,#f4dd43,#f3df41,#f3e040,#f3df40,#f5d94a,#f7d357,#f8cf63,#f7ce6b,#f7cd72,#f7cd75,#f7cd76,#f6cb7a,#f2c981,#ebc689,#e3c690,#dec794,#dcc794,#dbc794,#d9c795,#d6c896,#d3c897,#d0c998,#cbc999,#c6ca9a,#c1ca9b,#bccb9c,#b9cb9d,#b5cb9f,#b3cba0,#b1cba1,#afcba2,#accba3,#aacba4,#a6cba5,#a2cba7)"></div><div style="top:2111px;height:4px;background:linear-gradient(90deg,#f3df41,#f4dd43,#f3df41,#f3e040,#f3df40,#f5d94a,#f7d357,#f8cf62,#f8ce6b,#f7cd71,#f7cd74,#f7cd75,#f6cc79,#f2c980,#ecc689,#e4c690,#dfc693,#dec794,#ddc794,#dbc795,#d8c796,#d5c896,#d1c898,#cdc999,#c8ca9a,#c3ca9b,#bfcb9c,#bbcb9d,#b8cb9d,#b6cb9e,#b4cb9f,#b2cba0,#b0cba1,#adcba2,#aacba4,#a6cba5)"></div><div style="top:2115px;height:4px;background:linear-gradient(90deg,#f3df41,#f4dd43,#f3df41,#f3e040,#f3df40,#f5d94a,#f7d357,#f8cf61,#f8ce6a,#f7cd70,#f7cd73,#f7cd74,#f6cc79,#f2c980,#edc688,#e5c68f,#e0c693,#dfc693,#dec794,#dcc794,#d9c795,#d6c896,#d3c897,#cfc998,#cac999,#c6ca9a,#c1ca9b,#becb9c,#bbcb9d,#b9cb9d,#b7cb9e,#b5cb9f,#b3cb9f,#b1cba1,#aecba2,#aacba4)"></div><div style="top:2119px;height:4px;background:linear-gradient(90deg,#f3df41,#f4dd43,#f3df41,#f3e040,#f3df40,#f5da4a,#f7d356,#f8d061,#f8ce69,#f7cd70,#f7cd73,#f7cd74,#f6cc78,#f3c97f,#edc688,#e6c68e,#e2c692,#e0c693,#dfc693,#ddc794,#dbc795,#d8c796,#d4c897,#d1c998,#cdc999,#c8ca9a,#c4ca9b,#c0ca9c,#bdcb9c,#bbcb9d,#bacb9d,#b8cb9d,#b7cb9e,#b4cb9f,#b2cba0,#aecba2)"></div><div style="top:2123px;height:4px;background:linear-gradient(90deg,#f3df41,#f4dd43,#f3df41,#f3e040,#f3df40,#f5da4a,#f7d356,#f8d060,#f8ce69,#f7ce6f,#f7cd72,#f7cd73,#f6cc78,#f3c97f,#eec687,#e7c68d,#e3c691,#e1c692,#e0c692,#dfc693,#dcc794,#d9c795,#d6c896,#d3c897,#cfc998,#cac999,#c6ca9a,#c3ca9b,#c0ca9c,#becb9c,#bccb9c,#bbcb9d,#bacb9d,#b8cb9d,#b5cb9f,#b2cba0)"></div><div style="top:2127px;height:4px;background:linear-gradient(90deg,#f3df41,#f3dd43,#f3df41,#f3e040,#f3df41,#f5da4a,#f7d456,#f8d060,#f8cf68,#f7ce6e,#f7cd71,#f7cd73,#f7cc78,#f3c97f,#efc686,#e8c68c,#e4c690,#e3c691,#e2c691,#e0c693,#ddc794,#dbc795,#d7c896,#d4c897,#d1c998,#cdc999,#c9ca9a,#c5ca9b,#c2ca9b,#c1ca9c,#bfcb9c,#becb9c,#bdcb9c,#bbcb9d,#b9cb9d,#b6cb9e)"></div><div style="top:2131px;height:4px;background:linear-gradient(90deg,#f3df41,#f3dd43,#f3df41,#f3e040,#f3df41,#f5da4a,#f7d455,#f8d05f,#f8cf67,#f7ce6d,#f7cd71,#f7cd72,#f7cc77,#f3ca7e,#efc686,#e9c68b,#e5c68f,#e4c690,#e3c691,#e1c692,#dfc693,#dcc794,#d9c795,#d6c896,#d2c897,#cfc998,#cbc999,#c7ca9a,#c5ca9b,#c3ca9b,#c2ca9b,#c1ca9b,#c0cb9c,#becb9c,#bccb9d,#b9cb9d)"></div><div style="top:2135px;height:4px;background:linear-gradient(90deg,#f3df41,#f3de43,#f3df41,#f3e040,#f3df41,#f5da4a,#f7d455,#f8d05f,#f8cf66,#f7ce6d,#f7cd70,#f7cd71,#f7cc77,#f3ca7e,#efc785,#eac68b,#e6c68e,#e5c68f,#e4c690,#e2c691,#e0c693,#ddc794,#dac795,#d7c896,#d4c897,#d1c998,#cdc999,#cac999,#c7ca9a,#c6ca9a,#c4ca9b,#c3ca9b,#c2ca9b,#c1ca9b,#bfcb9c,#bdcb9c)"></div><div style="top:2139px;height:4px;background:linear-gradient(90deg,#f3df41,#f3de43,#f3df41,#f3e040,#f3df41,#f5da4a,#f7d455,#f8d05e,#f8cf66,#f7ce6c,#f7cd6f,#f7cd71,#f7cd76,#f4ca7d,#f0c785,#ebc68a,#e7c68d,#e6c68e,#e5c68f,#e3c690,#e1c692,#dec694,#dcc794,#d8c795,#d5c896,#d2c897,#cfc998,#ccc999,#cac999,#c8ca9a,#c7ca9a,#c6ca9a,#c5ca9a,#c4ca9b,#c2ca9b,#c0ca9c)"></div><div style="top:2143px;height:4px;background:linear-gradient(90deg,#f3df41,#f3de43,#f3df41,#f3e040,#f3de41,#f5da4a,#f7d454,#f8d05d,#f8cf65,#f7ce6b,#f7ce6f,#f7cd70,#f7cd76,#f4ca7d,#f0c784,#ecc689,#e8c68c,#e7c68d,#e6c68e,#e4c68f,#e2c691,#e0c693,#ddc794,#dac795,#d7c896,#d4c897,#d1c898,#cfc998,#ccc999,#cbc999,#cac999,#c9c99a,#c8ca9a,#c7ca9a,#c5ca9a,#c3ca9b)"></div><div style="top:2147px;height:4px;background:linear-gradient(90deg,#f3df41,#f3de43,#f3df41,#f3df40,#f3de41,#f5da49,#f7d454,#f8d05d,#f8cf65,#f8ce6b,#f7ce6e,#f7cd70,#f7cd75,#f4ca7d,#f0c784,#ecc688,#e9c68b,#e8c68c,#e7c68d,#e5c68f,#e3c690,#e1c692,#dec794,#dbc794,#d8c795,#d5c896,#d3c897,#d0c998,#cfc998,#cdc999,#ccc999,#cbc999,#cbc999,#cac999,#c8ca9a,#c6ca9a)"></div><div style="top:2151px;height:4px;background:linear-gradient(90deg,#f3df41,#f3de42,#f3df41,#f3df40,#f3de41,#f5da49,#f7d553,#f8d05c,#f8cf64,#f8ce6a,#f7ce6e,#f7cd70,#f7cd75,#f4ca7c,#f1c883,#edc688,#eac68a,#e9c68b,#e8c68c,#e6c68e,#e4c68f,#e2c691,#dfc693,#ddc794,#dac795,#d7c896,#d4c897,#d2c897,#d1c998,#d0c998,#cfc998,#cec998,#cdc999,#cdc999,#cbc999,#c9c99a)"></div><div style="top:2155px;height:4px;background:linear-gradient(90deg,#f3df41,#f3de42,#f3df41,#f3df40,#f3de41,#f5da49,#f6d553,#f8d15c,#f8cf64,#f8ce6a,#f7ce6d,#f7cd6f,#f7cd75,#f4ca7c,#f1c883,#eec687,#ebc689,#eac68b,#e8c68c,#e7c68d,#e5c68f,#e3c690,#e0c692,#dec794,#dbc795,#d8c795,#d6c896,#d4c897,#d2c897,#d1c898,#d1c998,#d0c998,#d0c998,#cfc998,#cec998,#ccc999)"></div><div style="top:2159px;height:4px;background:linear-gradient(90deg,#f3df41,#f3de42,#f3df41,#f3df40,#f3de41,#f5da49,#f6d552,#f8d15b,#f8cf63,#f8ce6a,#f7ce6d,#f7ce6f,#f7cd74,#f4cb7c,#f1c882,#efc686,#ecc689,#ebc68a,#e9c68b,#e8c68c,#e6c68e,#e4c690,#e2c692,#dfc693,#ddc794,#dac795,#d8c896,#d5c896,#d4c897,#d3c897,#d2c897,#d2c897,#d2c897,#d1c898,#d0c998,#cfc998)"></div><div style="top:2163px;height:4px;background:linear-gradient(90deg,#f3de41,#f3de42,#f3df41,#f3df40,#f3de42,#f5da49,#f6d652,#f8d15b,#f8cf63,#f8ce69,#f7ce6d,#f7ce6f,#f7cd74,#f5cb7b,#f1c881,#efc686,#edc688,#ebc689,#eac68a,#e9c68c,#e7c68d,#e5c68f,#e3c691,#e0c692,#dec794,#dbc794,#d9c795,#d7c896,#d6c896,#d5c896,#d4c897,#d4c897,#d3c897,#d3c897,#d2c897,#d1c998)"></div><div style="top:2167px;height:4px;background:linear-gradient(90deg,#f3de41,#f3de42,#f3df41,#f3df40,#f3de42,#f5db48,#f6d651,#f8d15a,#f8cf62,#f8ce69,#f7ce6d,#f7ce6e,#f7cd74,#f5cb7b,#f2c881,#f0c785,#eec687,#ecc688,#ebc68a,#e9c68b,#e8c68c,#e6c68e,#e4c690,#e2c691,#dfc693,#ddc794,#dbc795,#d9c795,#d8c896,#d7c896,#d6c896,#d6c896,#d5c896,#d5c897,#d4c897,#d3c897)"></div><div style="top:2171px;height:4px;background:linear-gradient(90deg,#f3de41,#f3de42,#f3de41,#f3df40,#f3de42,#f4db48,#f6d651,#f8d259,#f8cf62,#f8ce69,#f7ce6c,#f7ce6e,#f7cd73,#f5cb7b,#f2c980,#f0c784,#efc686,#edc688,#ecc689,#eac68a,#e8c68c,#e7c68d,#e5c68f,#e3c690,#e1c692,#dfc693,#dcc794,#dbc795,#d9c795,#d8c795,#d8c796,#d7c896,#d7c896,#d6c896,#d6c896,#d5c897)"></div><div style="top:2175px;height:4px;background:linear-gradient(90deg,#f3de41,#f3de42,#f3de41,#f3df40,#f3de42,#f4db48,#f6d650,#f8d259,#f8cf61,#f8ce68,#f7ce6c,#f7ce6e,#f7cd73,#f5cb7a,#f2c980,#f0c783,#efc686,#eec687,#edc688,#ebc68a,#e9c68b,#e8c68c,#e6c68e,#e4c68f,#e2c691,#e0c693,#dec794,#dcc794,#dbc795,#dac795,#dac795,#d9c795,#d9c795,#d8c795,#d7c896,#d6c896)"></div><div style="top:2179px;height:4px;background:linear-gradient(90deg,#f3de41,#f3de42,#f3de41,#f3df40,#f3de42,#f4db47,#f6d74f,#f7d258,#f8d061,#f8cf68,#f7ce6c,#f7ce6d,#f7cd72,#f5cb7a,#f3c97f,#f1c883,#f0c785,#efc686,#edc688,#ecc689,#eac68a,#e9c68c,#e7c68d,#e5c68e,#e3c690,#e1c692,#e0c693,#dec794,#ddc794,#dcc794,#dbc794,#dbc795,#dac795,#dac795,#d9c795,#d8c795)"></div><div style="top:2183px;height:4px;background:linear-gradient(90deg,#f3de41,#f3de42,#f3de41,#f3df40,#f3de42,#f4db47,#f6d74e,#f7d358,#f8d060,#f8cf68,#f7ce6b,#f7ce6d,#f7cd72,#f6cc7a,#f3c97f,#f1c882,#f0c784,#efc686,#eec687,#edc688,#ebc68a,#eac68b,#e8c68c,#e6c68d,#e5c68f,#e3c690,#e1c692,#e0c693,#dfc693,#dec794,#ddc794,#ddc794,#dcc794,#dcc794,#dbc795,#dac795)"></div><div style="top:2187px;height:4px;background:linear-gradient(90deg,#f3de41,#f3de42,#f3de41,#f3df41,#f3de42,#f4dc46,#f6d84e,#f7d357,#f8d060,#f8cf67,#f8ce6b,#f7ce6d,#f7cd71,#f6cc79,#f3ca7e,#f2c881,#f1c783,#f0c785,#efc686,#edc688,#ecc689,#eac68a,#e9c68b,#e8c68c,#e6c68e,#e4c68f,#e3c690,#e1c692,#e0c693,#e0c693,#dfc693,#dec694,#dec794,#ddc794,#dcc794,#dbc794)"></div><div style="top:2191px;height:4px;background:linear-gradient(90deg,#f3de41,#f3de42,#f3de41,#f3df41,#f3de42,#f4dc46,#f5d84d,#f7d356,#f8d05f,#f8cf67,#f8ce6a,#f7ce6c,#f7cd71,#f6cc79,#f4ca7d,#f2c980,#f1c882,#f0c784,#efc785,#eec687,#edc688,#ebc689,#eac68a,#e9c68b,#e7c68d,#e6c68e,#e4c68f,#e3c690,#e2c691,#e1c692,#e1c692,#e0c693,#dfc693,#dfc693,#dec794,#ddc794)"></div><div style="top:2195px;height:4px;background:linear-gradient(90deg,#f3de41,#f3de42,#f3de41,#f3df41,#f3de42,#f4dc45,#f5d84c,#f7d455,#f8d05f,#f8cf66,#f8ce6a,#f7ce6c,#f7cd70,#f6cc78,#f4ca7d,#f3c980,#f2c881,#f1c883,#f0c784,#efc686,#eec687,#ecc688,#ebc689,#eac68a,#e9c68b,#e7c68d,#e6c68e,#e5c68f,#e4c690,#e3c690,#e2c691,#e2c691,#e1c692,#e0c692,#e0c693,#dfc693)"></div><div style="top:2199px;height:4px;background:linear-gradient(90deg,#f3de41,#f3de42,#f3de41,#f3df41,#f3de42,#f4dc45,#f5d94b,#f7d455,#f8d05e,#f8cf65,#f8ce69,#f8ce6b,#f7cd6f,#f7cc77,#f4cb7c,#f3c97f,#f2c980,#f1c882,#f0c784,#f0c785,#efc686,#eec687,#ecc688,#ebc689,#eac68a,#e9c68b,#e8c68c,#e6c68d,#e5c68e,#e5c68f,#e4c68f,#e3c690,#e3c691,#e2c691,#e1c692,#e0c692)"></div><div style="top:2203px;height:4px;background:linear-gradient(90deg,#f3de41,#f3de42,#f3de41,#f3df41,#f3de41,#f4dd44,#f5d94b,#f7d454,#f8d05d,#f8cf64,#f8ce68,#f8ce6a,#f7ce6e,#f7cd76,#f5cb7b,#f3ca7e,#f3c980,#f2c881,#f1c883,#f0c784,#efc685,#efc687,#eec687,#edc688,#ecc689,#eac68a,#e9c68b,#e8c68c,#e7c68d,#e6c68d,#e6c68e,#e5c68f,#e4c68f,#e4c690,#e3c690,#e2c691)"></div><div style="top:2207px;height:4px;background:linear-gradient(90deg,#f3de41,#f3de42,#f3de41,#f3df41,#f3de41,#f4dd44,#f5da4a,#f6d553,#f8d05c,#f8cf63,#f8cf67,#f8ce69,#f7ce6d,#f7cd75,#f5cb7a,#f4ca7d,#f3c97e,#f2c980,#f1c882,#f1c783,#f0c784,#efc686,#efc686,#eec687,#edc688,#ecc689,#ebc68a,#eac68b,#e9c68b,#e8c68c,#e7c68d,#e7c68d,#e6c68e,#e5c68e,#e4c68f,#e4c690)"></div><div style="top:2211px;height:4px;background:linear-gradient(90deg,#f3de41,#f3de41,#f3de41,#f3df41,#f3de41,#f4dd43,#f5da49,#f6d552,#f8d15b,#f8cf62,#f8cf66,#f8cf68,#f7ce6c,#f7cd74,#f6cc79,#f5cb7c,#f4ca7d,#f3c97f,#f2c980,#f1c882,#f0c783,#f0c784,#f0c785,#efc686,#eec687,#eec687,#edc688,#ecc689,#ebc68a,#eac68a,#e9c68b,#e8c68c,#e8c68c,#e7c68d,#e6c68e,#e5c68e)"></div><div style="top:2215px;height:4px;background:linear-gradient(90deg,#f3df41,#f3de41,#f3df41,#f3df41,#f3de41,#f4dd43,#f4db48,#f6d651,#f8d15a,#f8d061,#f8cf64,#f8cf66,#f8ce6b,#f7cd72,#f6cc78,#f5cb7b,#f4ca7c,#f3ca7e,#f3c97f,#f2c881,#f1c882,#f1c783,#f0c784,#f0c785,#efc785,#efc686,#eec687,#edc688,#ecc688,#ecc689,#ebc68a,#eac68a,#e9c68b,#e9c68c,#e8c68c,#e7c68d)"></div><div style="top:2219px;height:4px;background:linear-gradient(90deg,#f3df41,#f3df41,#f3df41,#f3df41,#f3df41,#f3de42,#f4db47,#f6d650,#f8d259,#f8d05f,#f8cf63,#f8cf65,#f8ce69,#f7cd70,#f7cc77,#f6cc79,#f5cb7b,#f4ca7d,#f3ca7e,#f2c980,#f2c881,#f1c882,#f1c883,#f1c783,#f0c784,#f0c784,#efc785,#efc686,#eec687,#edc687,#edc688,#ecc689,#ebc689,#eac68a,#eac68b,#e9c68b)"></div><div style="top:2223px;height:4px;background:linear-gradient(90deg,#f3df41,#f3df41,#f3df41,#f3df40,#f3df41,#f3de42,#f4db46,#f6d74f,#f7d357,#f8d05d,#f8d061,#f8cf63,#f8cf68,#f7ce6f,#f7cd75,#f6cc78,#f6cb7a,#f5cb7b,#f4ca7d,#f3c97e,#f2c980,#f2c981,#f2c881,#f1c882,#f1c882,#f1c883,#f0c784,#f0c784,#f0c785,#efc686,#eec687,#eec687,#edc688,#ecc689,#ebc689,#eac68a)"></div><div style="top:2227px;height:4px;background:linear-gradient(90deg,#f3df40,#f3df40,#f3df40,#f3df40,#f3df40,#f3de41,#f4dc46,#f6d84e,#f7d456,#f8d15b,#f8d05f,#f8cf61,#f8cf66,#f7ce6d,#f7cd73,#f7cd76,#f6cc78,#f6cb7a,#f5cb7c,#f4ca7d,#f3c97e,#f3c97f,#f2c980,#f2c980,#f2c981,#f2c881,#f1c882,#f1c883,#f0c783,#f0c784,#f0c785,#efc686,#efc686,#eec687,#edc688,#ecc688)"></div><div style="top:2231px;height:4px;background:linear-gradient(90deg,#f3df40,#f3df40,#f3df40,#f3df40,#f3df40,#f3df41,#f4dc45,#f5d84c,#f7d454,#f8d259,#f8d05c,#f8d05f,#f8cf64,#f8ce6b,#f7cd70,#f7cd74,#f7cd76,#f6cc78,#f5cb7a,#f5cb7c,#f4ca7d,#f3ca7e,#f3ca7e,#f3c97f,#f3c97f,#f2c980,#f2c980,#f2c881,#f1c882,#f1c882,#f1c783,#f0c784,#f0c785,#efc686,#efc686,#eec687)"></div><div style="top:2235px;height:4px;background:linear-gradient(90deg,#f3df40,#f3df40,#f3df40,#f3df40,#f3df40,#f3df40,#f4dd44,#f5d94b,#f6d552,#f7d357,#f8d15a,#f8d05d,#f8cf62,#f8ce69,#f7ce6e,#f7cd71,#f7cd74,#f7cc77,#f6cc79,#f5cb7a,#f5cb7c,#f4ca7c,#f4ca7d,#f4ca7d,#f4ca7d,#f3ca7e,#f3c97f,#f3c97f,#f2c980,#f2c981,#f2c881,#f1c882,#f1c883,#f0c784,#f0c784,#f0c785)"></div><div style="top:2239px;height:4px;background:linear-gradient(90deg,#f3df40,#f3df40,#f3df40,#f3df40,#f3df40,#f3df40,#f4dd43,#f5da4a,#f6d650,#f7d454,#f7d357,#f8d15b,#f8d060,#f8cf66,#f7ce6b,#f7ce6f,#f7cd71,#f7cd74,#f7cc77,#f6cc79,#f5cb7a,#f5cb7b,#f5cb7b,#f5cb7b,#f4cb7c,#f4ca7c,#f4ca7d,#f4ca7d,#f3ca7e,#f3c97f,#f2c980,#f2c980,#f2c881,#f1c882,#f1c883,#f1c783)"></div><div style="top:2243px;height:4px;background:linear-gradient(90deg,#f3df40,#f3df40,#f3df40,#f3df40,#f3e040,#f3df40,#f3de42,#f5da48,#f6d74e,#f6d552,#f7d455,#f7d258,#f8d05e,#f8cf64,#f8ce69,#f7ce6c,#f7ce6e,#f7cd71,#f7cd74,#f7cc77,#f6cc79,#f6cc79,#f6cc7a,#f6cb7a,#f5cb7a,#f5cb7b,#f5cb7b,#f5cb7c,#f4ca7c,#f4ca7d,#f3ca7e,#f3c97f,#f3c97f,#f2c980,#f2c981,#f2c881)"></div><div style="top:2247px;height:4px;background:linear-gradient(90deg,#f3e040,#f3e040,#f3e040,#f3e040,#f3e040,#f3e040,#f3de41,#f4db47,#f5d84c,#f6d74f,#f6d552,#f7d356,#f8d15b,#f8cf62,#f8cf66,#f8ce69,#f7ce6c,#f7ce6e,#f7cd72,#f7cd74,#f7cc77,#f7cc78,#f6cc78,#f6cc78,#f6cc78,#f6cc79,#f6cc79,#f5cb7a,#f5cb7b,#f5cb7b,#f4cb7c,#f4ca7d,#f4ca7d,#f3ca7e,#f3c97f,#f3c97f)"></div><div style="top:2251px;height:4px;background:linear-gradient(90deg,#f3e040,#f3e040,#f3e040,#f3e040,#f3e040,#f3e040,#f3df41,#f4dc46,#f5d94a,#f5d84d,#f6d74f,#f7d553,#f8d259,#f8d05f,#f8cf64,#f8cf66,#f8ce69,#f7ce6c,#f7ce6f,#f7cd72,#f7cd74,#f7cd75,#f7cd76,#f7cd76,#f7cd76,#f7cc77,#f7cc78,#f6cc78,#f6cc79,#f6cc79,#f5cb7a,#f5cb7b,#f5cb7c,#f4ca7c,#f4ca7d,#f4ca7e)"></div><div style="top:2255px;height:4px;background:linear-gradient(90deg,#f3e040,#f3e040,#f3e040,#f3e040,#f3e040,#f3e040,#f3df40,#f4dd44,#f5da48,#f5da4a,#f5d84c,#f6d651,#f7d357,#f8d05d,#f8d061,#f8cf63,#f8cf66,#f8ce69,#f7ce6c,#f7ce6f,#f7cd71,#f7cd72,#f7cd73,#f7cd73,#f7cd73,#f7cd74,#f7cd75,#f7cd76,#f7cc77,#f7cc78,#f6cc78,#f6cc79,#f6cb7a,#f5cb7a,#f5cb7b,#f5cb7c)"></div><div style="top:2259px;height:4px;background:linear-gradient(90deg,#f3e03f,#f3e03f,#f3e03f,#f3e03f,#f3e03f,#f3e03f,#f3df40,#f4dd43,#f4dc46,#f4db47,#f5da49,#f6d74e,#f7d454,#f8d15a,#f8d05e,#f8d060,#f8cf63,#f8cf66,#f8ce69,#f7ce6c,#f7ce6e,#f7cd6f,#f7cd70,#f7cd70,#f7cd70,#f7cd71,#f7cd72,#f7cd73,#f7cd74,#f7cd75,#f7cd76,#f7cc77,#f7cc78,#f6cc78,#f6cc79,#f6cb7a)"></div><div style="top:2263px;height:4px;background:linear-gradient(90deg,#f3e03f,#f3e03f,#f3e03f,#f3e03f,#f3e03f,#f3e03f,#f3e040,#f3de42,#f4dd44,#f4dc45,#f4db47,#f5d94c,#f6d552,#f7d358,#f8d15b,#f8d05e,#f8d060,#f8cf63,#f8cf66,#f8ce69,#f7ce6b,#f7ce6c,#f7ce6d,#f7ce6d,#f7ce6e,#f7ce6e,#f7ce6f,#f7cd70,#f7cd71,#f7cd72,#f7cd73,#f7cd74,#f7cd75,#f7cd76,#f7cc77,#f7cc78)"></div><div style="top:2267px;height:4px;background:linear-gradient(90deg,#f3e03f,#f3e03f,#f3e03f,#f3e03f,#f3e03f,#f3e13f,#f3e040,#f3df41,#f3de42,#f3de42,#f4dd44,#f5da49,#f6d750,#f7d455,#f8d259,#f8d15b,#f8d05d,#f8d060,#f8cf63,#f8cf66,#f8ce68,#f8ce6a,#f8ce6a,#f8ce6a,#f8ce6b,#f7ce6b,#f7ce6c,#f7ce6d,#f7ce6e,#f7ce6f,#f7cd70,#f7cd71,#f7cd72,#f7cd73,#f7cd74,#f7cd74)"></div><div style="top:2271px;height:4px;background:linear-gradient(90deg,#f3e13f,#f3e13f,#f3e13f,#f3e13f,#f3e13f,#f3e13f,#f3e03f,#f3df40,#f3df40,#f3df40,#f3de41,#f4db47,#f5d84d,#f6d553,#f7d356,#f7d258,#f8d15a,#f8d05d,#f8d060,#f8cf63,#f8cf65,#f8cf67,#f8cf67,#f8cf67,#f8cf68,#f8ce68,#f8ce69,#f8ce6a,#f8ce6b,#f7ce6c,#f7ce6d,#f7ce6e,#f7ce6e,#f7cd6f,#f7cd70,#f7cd71)"></div><div style="top:2275px;height:4px;background:linear-gradient(90deg,#f3e13f,#f3e13f,#f3e13f,#f3e13f,#f3e13f,#f3e13f,#f3e13f,#f3e040,#f3e040,#f3e03f,#f3e040,#f4dd44,#f5d94b,#f6d650,#f7d553,#f7d455,#f7d357,#f8d15a,#f8d05d,#f8d060,#f8cf63,#f8cf64,#f8cf64,#f8cf64,#f8cf65,#f8cf65,#f8cf66,#f8cf67,#f8cf68,#f8ce69,#f8ce69,#f8ce6a,#f7ce6b,#f7ce6c,#f7ce6d,#f7ce6e)"></div><div style="top:2279px;height:4px;background:linear-gradient(90deg,#f3e13f,#f3e13f,#f3e13f,#f3e13f,#f3e13f,#f3e13f,#f3e13f,#f3e03f,#f3e03f,#f3e13f,#f3e13f,#f3de42,#f5da49,#f6d84e,#f6d651,#f6d552,#f7d454,#f7d357,#f8d15a,#f8d05d,#f8d060,#f8d061,#f8d061,#f8cf61,#f8cf62,#f8cf62,#f8cf63,#f8cf64,#f8cf65,#f8cf66,#f8cf66,#f8cf67,#f8cf68,#f8ce69,#f8ce69,#f8ce6a)"></div><div style="top:2283px;height:4px;background:linear-gradient(90deg,#f3e13f,#f3e13f,#f3e13f,#f3e13f,#f3e13f,#f3e13f,#f3e13f,#f3e13f,#f3e13f,#f3e23e,#f3e23e,#f3df40,#f4db47,#f5d94c,#f6d74e,#f6d74f,#f6d651,#f7d454,#f7d358,#f8d15b,#f8d05d,#f8d05e,#f8d05e,#f8d05e,#f8d05f,#f8d05f,#f8d060,#f8d061,#f8cf62,#f8cf63,#f8cf63,#f8cf64,#f8cf65,#f8cf65,#f8cf66,#f8cf67)"></div><div style="top:2287px;height:4px;background:linear-gradient(90deg,#f3e13f,#f3e13f,#f3e13f,#f3e13f,#f3e13f,#f3e13f,#f3e13f,#f3e13f,#f3e23e,#f4e33d,#f4e33e,#f3e040,#f4dc45,#f5da49,#f5d94c,#f5d84d,#f6d74f,#f6d652,#f7d455,#f7d358,#f8d25a,#f8d15b,#f8d15b,#f8d15b,#f8d15c,#f8d05c,#f8d05d,#f8d05e,#f8d05f,#f8d05f,#f8d060,#f8d061,#f8cf61,#f8cf62,#f8cf63,#f8cf63)"></div><div style="top:2291px;height:4px;background:linear-gradient(90deg,#f3e13f,#f3e13f,#f3e13f,#f3e13f,#f3e13f,#f3e13e,#f3e13e,#f3e13e,#f3e23e,#f4e43d,#f4e33d,#f3e13f,#f3de43,#f4db47,#f5da49,#f5d94a,#f5d94c,#f6d74f,#f6d552,#f7d455,#f7d357,#f7d258,#f7d258,#f7d258,#f8d259,#f8d259,#f8d15a,#f8d15b,#f8d15c,#f8d05c,#f8d05d,#f8d05e,#f8d05e,#f8d05f,#f8d05f,#f8d060)"></div><div style="top:2295px;height:4px;background:linear-gradient(90deg,#f3e13e,#f3e13e,#f3e13e,#f3e13e,#f3e13e,#f3e13e,#f3e23e,#f3e23e,#f4e33d,#f4e43c,#f4e43c,#f3e13e,#f3df41,#f4dc45,#f4db47,#f4db48,#f5da4a,#f5d84c,#f6d74f,#f6d552,#f7d454,#f7d455,#f7d455,#f7d456,#f7d356,#f7d357,#f7d357,#f7d258,#f8d259,#f8d259,#f8d15a,#f8d15a,#f8d15b,#f8d15b,#f8d05c,#f8d05c)"></div><div style="top:2299px;height:4px;background:linear-gradient(90deg,#f3e23e,#f3e23e,#f3e23e,#f3e23e,#f3e23e,#f3e23e,#f3e23e,#f3e23e,#f4e33d,#f4e53c,#f4e53c,#f3e23e,#f3df40,#f4dd43,#f4dc45,#f4dc46,#f4db47,#f5da4a,#f5d84d,#f6d74f,#f6d651,#f6d552,#f6d552,#f6d553,#f7d553,#f7d454,#f7d455,#f7d455,#f7d356,#f7d356,#f7d357,#f7d357,#f7d358,#f7d258,#f7d259,#f8d259)"></div><div style="top:2303px;height:4px;background:linear-gradient(90deg,#f3e23e,#f3e23e,#f3e23e,#f3e23e,#f3e23e,#f3e23e,#f3e23e,#f3e23e,#f4e33d,#f4e53c,#f4e53c,#f4e33e,#f3e040,#f3de41,#f4dd43,#f4dd44,#f4dc45,#f4db47,#f5d94a,#f5d84d,#f6d74e,#f6d74f,#f6d750,#f6d650,#f6d650,#f6d651,#f6d652,#f6d552,#f6d553,#f7d553,#f7d454,#f7d454,#f7d454,#f7d455,#f7d455,#f7d356)"></div><div style="top:2307px;height:4px;background:linear-gradient(90deg,#f3e23e,#f3e23e,#f3e23e,#f3e23e,#f3e23e,#f3e23e,#f3e23e,#f4e23e,#f4e43d,#f4e53b,#f4e53b,#f4e33d,#f3e13f,#f3df40,#f3de41,#f3de42,#f4dd43,#f4dc45,#f4db48,#f5d94a,#f5d94c,#f5d84d,#f5d84d,#f5d84d,#f6d84e,#f6d74e,#f6d74f,#f6d750,#f6d650,#f6d651,#f6d651,#f6d651,#f6d651,#f6d652,#f6d552,#f6d552)"></div><div style="top:2311px;height:4px;background:linear-gradient(90deg,#f3e23e,#f3e23e,#f3e23e,#f3e23e,#f3e23e,#f3e23e,#f3e23e,#f4e33e,#f4e43d,#f4e53b,#f4e53b,#f4e33d,#f3e13f,#f3e040,#f3df40,#f3df40,#f3de41,#f4dd43,#f4dc46,#f4db48,#f5da49,#f5da4a,#f5d94a,#f5d94b,#f5d94b,#f5d94c,#f5d84c,#f5d84d,#f5d84d,#f6d84e,#f6d84e,#f6d74e,#f6d74e,#f6d74f,#f6d74f,#f6d74f)"></div><div style="top:2315px;height:4px;background:linear-gradient(90deg,#f3e23e,#f3e23e,#f3e23e,#f3e23e,#f3e23e,#f3e23e,#f3e23e,#f4e33e,#f4e43d,#f4e53b,#f4e53b,#f4e33d,#f3e13f,#f3e03f,#f3e040,#f3e040,#f3df40,#f3de41,#f4dd44,#f4dc45,#f4db47,#f4db47,#f4db48,#f4db48,#f5da48,#f5da49,#f5da49,#f5da4a,#f5d94a,#f5d94b,#f5d94b,#f5d94b,#f5d94b,#f5d94b,#f5d94c,#f5d84c)"></div><div style="top:2319px;height:4px;background:linear-gradient(90deg,#f3e23e,#f3e23e,#f3e23e,#f3e23e,#f3e23e,#f3e23e,#f3e23e,#f4e23e,#f4e43d,#f4e53c,#f4e53c,#f4e33d,#f3e23e,#f3e13f,#f3e03f,#f3e03f,#f3e040,#f3df40,#f3de42,#f4dd43,#f4dd44,#f4dc45,#f4dc45,#f4dc45,#f4dc46,#f4dc46,#f4db47,#f4db47,#f4db48,#f4db48,#f4db48,#f4db48,#f5da48,#f5da48,#f5da49,#f5da49)"></div><div style="top:2323px;height:4px;background:linear-gradient(90deg,#f3e23e,#f3e23e,#f3e23e,#f3e23e,#f3e23e,#f3e23e,#f3e23e,#f4e23e,#f4e33d,#f4e53c,#f4e53c,#f4e33d,#f3e23e,#f3e13f,#f3e13f,#f3e13f,#f3e03f,#f3e040,#f3df40,#f3de41,#f3de42,#f3de43,#f3dd43,#f4dd43,#f4dd43,#f4dd44,#f4dd44,#f4dc45,#f4dc45,#f4dc45,#f4dc45,#f4dc45,#f4dc45,#f4dc45,#f4dc46,#f4dc46)"></div><div style="top:2327px;height:4px;background:linear-gradient(90deg,#f3e23e,#f3e23e,#f3e23e,#f3e23e,#f3e23e,#f3e13e,#f3e23e,#f3e23e,#f4e33d,#f4e43c,#f4e43c,#f4e33d,#f3e23e,#f3e13f,#f3e13f,#f3e13f,#f3e13f,#f3e03f,#f3e040,#f3df40,#f3df40,#f3df41,#f3df41,#f3df41,#f3de41,#f3de41,#f3de42,#f3de42,#f3de42,#f3de42,#f3de42,#f3de43,#f3de43,#f3de43,#f3de43,#f3dd43)"></div><div style="top:2331px;height:4px;background:linear-gradient(90deg,#f3e13e,#f3e13e,#f3e13e,#f3e13e,#f3e13e,#f3e13e,#f3e23e,#f3e23e,#f4e33e,#f4e33d,#f4e33d,#f4e33e,#f3e23e,#f3e13f,#f3e13f,#f3e13f,#f3e13f,#f3e13f,#f3e03f,#f3e040,#f3e040,#f3e040,#f3e040,#f3e040,#f3df40,#f3df40,#f3df40,#f3df40,#f3df40,#f3df40,#f3df40,#f3df40,#f3df40,#f3df40,#f3df40,#f3df40)"></div><div style="top:2335px;height:4px;background:linear-gradient(90deg,#f3e13f,#f3e13f,#f3e13f,#f3e13f,#f3e13f,#f3e13f,#f3e13f,#f3e23e,#f3e23e,#f3e23e,#f3e23e,#f3e23e,#f3e13e,#f3e13f,#f3e13f,#f3e13f,#f3e13f,#f3e13f,#f3e13f,#f3e13f,#f3e13f,#f3e03f,#f3e03f,#f3e03f,#f3e03f,#f3e03f,#f3e03f,#f3e03f,#f3e03f,#f3e03f,#f3e03f,#f3e03f,#f3e03f,#f3e03f,#f3e03f,#f3e03f)"></div><div style="top:2339px;height:2px;background:linear-gradient(90deg,#f3e13f,#f3e13f,#f3e13f,#f3e13f,#f3e13f,#f3e13f,#f3e13f,#f3e13f,#f3e13f,#f3e13f,#f3e13f,#f3e13f,#f3e13f,#f3e13f,#f3e13f,#f3e13f,#f3e13f,#f3e13f,#f3e13f,#f3e13f,#f3e13f,#f3e13f,#f3e13f,#f3e13f,#f3e13f,#f3e13f,#f3e13f,#f3e13f,#f3e13f,#f3e13f,#f3e13f,#f3e13f,#f3e13f,#f3e13f,#f3e13f,#f3e13f)"></div></div>
<svg width="1314" height="2500" viewBox="0 0 1314 2500"><defs>
<linearGradient id="cbA" x1="0" y1="0" x2="0" y2="1"><stop offset="0.0000" stop-color="#f4ea2a"/><stop offset="0.0156" stop-color="#f3e62c"/><stop offset="0.0312" stop-color="#f3e12e"/><stop offset="0.0469" stop-color="#f2dd30"/><stop offset="0.0625" stop-color="#f3d734"/><stop offset="0.0781" stop-color="#f5d039"/><stop offset="0.0938" stop-color="#f6ca3e"/><stop offset="0.1094" stop-color="#f7c644"/><stop offset="0.1250" stop-color="#f6c44b"/><stop offset="0.1406" stop-color="#f5c152"/><stop offset="0.1562" stop-color="#f3bf58"/><stop offset="0.1719" stop-color="#f0bc5e"/><stop offset="0.1875" stop-color="#edba64"/><stop offset="0.2031" stop-color="#e9b86a"/><stop offset="0.2188" stop-color="#e3b86f"/><stop offset="0.2344" stop-color="#ddb874"/><stop offset="0.2500" stop-color="#d7b878"/><stop offset="0.2656" stop-color="#d1b97b"/><stop offset="0.2812" stop-color="#cabb7d"/><stop offset="0.2969" stop-color="#c4bc80"/><stop offset="0.3125" stop-color="#bbbd83"/><stop offset="0.3281" stop-color="#b2bf85"/><stop offset="0.3438" stop-color="#a9c088"/><stop offset="0.3594" stop-color="#9fc08c"/><stop offset="0.3750" stop-color="#95c091"/><stop offset="0.3906" stop-color="#8bc096"/><stop offset="0.4062" stop-color="#7ec09a"/><stop offset="0.4219" stop-color="#70c09c"/><stop offset="0.4375" stop-color="#61c09f"/><stop offset="0.4531" stop-color="#50bfa1"/><stop offset="0.4688" stop-color="#3cbca4"/><stop offset="0.4844" stop-color="#28baa6"/><stop offset="0.5000" stop-color="#19b8aa"/><stop offset="0.5156" stop-color="#14b6b2"/><stop offset="0.5312" stop-color="#10b5ba"/><stop offset="0.5469" stop-color="#0cb4c1"/><stop offset="0.5625" stop-color="#0cb2c9"/><stop offset="0.5781" stop-color="#0cb1d1"/><stop offset="0.5938" stop-color="#0cb0d8"/><stop offset="0.6094" stop-color="#0dafdd"/><stop offset="0.6250" stop-color="#0dade2"/><stop offset="0.6406" stop-color="#0eace7"/><stop offset="0.6562" stop-color="#0faae8"/><stop offset="0.6719" stop-color="#0fa7e8"/><stop offset="0.6875" stop-color="#10a5e8"/><stop offset="0.7031" stop-color="#10a1e6"/><stop offset="0.7188" stop-color="#0f9ee4"/><stop offset="0.7344" stop-color="#0f9ae1"/><stop offset="0.7500" stop-color="#0f97df"/><stop offset="0.7656" stop-color="#0f94dc"/><stop offset="0.7812" stop-color="#1092da"/><stop offset="0.7969" stop-color="#108fd7"/><stop offset="0.8125" stop-color="#128bd3"/><stop offset="0.8281" stop-color="#1387cf"/><stop offset="0.8438" stop-color="#1483cb"/><stop offset="0.8594" stop-color="#1680c8"/><stop offset="0.8750" stop-color="#177cc4"/><stop offset="0.8906" stop-color="#1878c0"/><stop offset="0.9062" stop-color="#2070bb"/><stop offset="0.9219" stop-color="#2769b6"/><stop offset="0.9375" stop-color="#2f61b1"/><stop offset="0.9531" stop-color="#345cac"/><stop offset="0.9688" stop-color="#3957a7"/><stop offset="0.9844" stop-color="#3e52a2"/><stop offset="1.0000" stop-color="#4250a0"/></linearGradient>
<linearGradient id="cbB" x1="0" y1="0" x2="0" y2="1"><stop offset="0.0000" stop-color="#f4ea2a"/><stop offset="0.0156" stop-color="#f3e62c"/><stop offset="0.0312" stop-color="#f3e12e"/><stop offset="0.0469" stop-color="#f2dd30"/><stop offset="0.0625" stop-color="#f3d734"/><stop offset="0.0781" stop-color="#f5d039"/><stop offset="0.0938" stop-color="#f6ca3e"/><stop offset="0.1094" stop-color="#f7c644"/><stop offset="0.1250" stop-color="#f6c44b"/><stop offset="0.1406" stop-color="#f5c152"/><stop offset="0.1562" stop-color="#f3bf58"/><stop offset="0.1719" stop-color="#f0bc5e"/><stop offset="0.1875" stop-color="#edba64"/><stop offset="0.2031" stop-color="#e9b86a"/><stop offset="0.2188" stop-color="#e3b86f"/><stop offset="0.2344" stop-color="#ddb874"/><stop offset="0.2500" stop-color="#d7b878"/><stop offset="0.2656" stop-color="#d1b97b"/><stop offset="0.2812" stop-color="#cabb7d"/><stop offset="0.2969" stop-color="#c4bc80"/><stop offset="0.3125" stop-color="#bbbd83"/><stop offset="0.3281" stop-color="#b2bf85"/><stop offset="0.3438" stop-color="#a9c088"/><stop offset="0.3594" stop-color="#9fc08c"/><stop offset="0.3750" stop-color="#95c091"/><stop offset="0.3906" stop-color="#8bc096"/><stop offset="0.4062" stop-color="#7ec09a"/><stop offset="0.4219" stop-color="#70c09c"/><stop offset="0.4375" stop-color="#61c09f"/><stop offset="0.4531" stop-color="#50bfa1"/><stop offset="0.4688" stop-color="#3cbca4"/><stop offset="0.4844" stop-color="#28baa6"/><stop offset="0.5000" stop-color="#19b8aa"/><stop offset="0.5156" stop-color="#14b6b2"/><stop offset="0.5312" stop-color="#10b5ba"/><stop offset="0.5469" stop-color="#0cb4c1"/><stop offset="0.5625" stop-color="#0cb2c9"/><stop offset="0.5781" stop-color="#0cb1d1"/><stop offset="0.5938" stop-color="#0cb0d8"/><stop offset="0.6094" stop-color="#0dafdd"/><stop offset="0.6250" stop-color="#0dade2"/><stop offset="0.6406" stop-color="#0eace7"/><stop offset="0.6562" stop-color="#0faae8"/><stop offset="0.6719" stop-color="#0fa7e8"/><stop offset="0.6875" stop-color="#10a5e8"/><stop offset="0.7031" stop-color="#10a1e6"/><stop offset="0.7188" stop-color="#0f9ee4"/><stop offset="0.7344" stop-color="#0f9ae1"/><stop offset="0.7500" stop-color="#0f97df"/><stop offset="0.7656" stop-color="#0f94dc"/><stop offset="0.7812" stop-color="#1092da"/><stop offset="0.7969" stop-color="#108fd7"/><stop offset="0.8125" stop-color="#128bd3"/><stop offset="0.8281" stop-color="#1387cf"/><stop offset="0.8438" stop-color="#1483cb"/><stop offset="0.8594" stop-color="#1680c8"/><stop offset="0.8750" stop-color="#177cc4"/><stop offset="0.8906" stop-color="#1878c0"/><stop offset="0.9062" stop-color="#2070bb"/><stop offset="0.9219" stop-color="#2769b6"/><stop offset="0.9375" stop-color="#2f61b1"/><stop offset="0.9531" stop-color="#345cac"/><stop offset="0.9688" stop-color="#3957a7"/><stop offset="0.9844" stop-color="#3e52a2"/><stop offset="1.0000" stop-color="#4250a0"/></linearGradient>
<linearGradient id="cbC" x1="0" y1="0" x2="0" y2="1"><stop offset="0.0000" stop-color="#f4ea2a"/><stop offset="0.0156" stop-color="#f3e62c"/><stop offset="0.0312" stop-color="#f3e12e"/><stop offset="0.0469" stop-color="#f2dd30"/><stop offset="0.0625" stop-color="#f3d734"/><stop offset="0.0781" stop-color="#f5d039"/><stop offset="0.0938" stop-color="#f6ca3e"/><stop offset="0.1094" stop-color="#f7c644"/><stop offset="0.1250" stop-color="#f6c44b"/><stop offset="0.1406" stop-color="#f5c152"/><stop offset="0.1562" stop-color="#f3bf58"/><stop offset="0.1719" stop-color="#f0bc5e"/><stop offset="0.1875" stop-color="#edba64"/><stop offset="0.2031" stop-color="#e9b86a"/><stop offset="0.2188" stop-color="#e3b86f"/><stop offset="0.2344" stop-color="#ddb874"/><stop offset="0.2500" stop-color="#d7b878"/><stop offset="0.2656" stop-color="#d1b97b"/><stop offset="0.2812" stop-color="#cabb7d"/><stop offset="0.2969" stop-color="#c4bc80"/><stop offset="0.3125" stop-color="#bbbd83"/><stop offset="0.3281" stop-color="#b2bf85"/><stop offset="0.3438" stop-color="#a9c088"/><stop offset="0.3594" stop-color="#9fc08c"/><stop offset="0.3750" stop-color="#95c091"/><stop offset="0.3906" stop-color="#8bc096"/><stop offset="0.4062" stop-color="#7ec09a"/><stop offset="0.4219" stop-color="#70c09c"/><stop offset="0.4375" stop-color="#61c09f"/><stop offset="0.4531" stop-color="#50bfa1"/><stop offset="0.4688" stop-color="#3cbca4"/><stop offset="0.4844" stop-color="#28baa6"/><stop offset="0.5000" stop-color="#19b8aa"/><stop offset="0.5156" stop-color="#14b6b2"/><stop offset="0.5312" stop-color="#10b5ba"/><stop offset="0.5469" stop-color="#0cb4c1"/><stop offset="0.5625" stop-color="#0cb2c9"/><stop offset="0.5781" stop-color="#0cb1d1"/><stop offset="0.5938" stop-color="#0cb0d8"/><stop offset="0.6094" stop-color="#0dafdd"/><stop offset="0.6250" stop-color="#0dade2"/><stop offset="0.6406" stop-color="#0eace7"/><stop offset="0.6562" stop-color="#0faae8"/><stop offset="0.6719" stop-color="#0fa7e8"/><stop offset="0.6875" stop-color="#10a5e8"/><stop offset="0.7031" stop-color="#10a1e6"/><stop offset="0.7188" stop-color="#0f9ee4"/><stop offset="0.7344" stop-color="#0f9ae1"/><stop offset="0.7500" stop-color="#0f97df"/><stop offset="0.7656" stop-color="#0f94dc"/><stop offset="0.7812" stop-color="#1092da"/><stop offset="0.7969" stop-color="#108fd7"/><stop offset="0.8125" stop-color="#128bd3"/><stop offset="0.8281" stop-color="#1387cf"/><stop offset="0.8438" stop-color="#1483cb"/><stop offset="0.8594" stop-color="#1680c8"/><stop offset="0.8750" stop-color="#177cc4"/><stop offset="0.8906" stop-color="#1878c0"/><stop offset="0.9062" stop-color="#2070bb"/><stop offset="0.9219" stop-color="#2769b6"/><stop offset="0.9375" stop-color="#2f61b1"/><stop offset="0.9531" stop-color="#345cac"/><stop offset="0.9688" stop-color="#3957a7"/><stop offset="0.9844" stop-color="#3e52a2"/><stop offset="1.0000" stop-color="#4250a0"/></linearGradient>
</defs>
<path d="M404.0,708.8 L404.0,703.3 L403.8,697.8 L403.7,692.2 L403.5,686.7 L403.3,681.2 L403.0,675.7 L402.7,670.1 L402.4,664.6 L402.1,659.1 L401.7,653.6 L401.3,648.1 L400.8,642.5 L400.4,637.0 L399.9,631.5 L399.3,626.0 L398.7,620.4 L398.1,614.9 L397.5,609.4 L396.9,603.9 L396.2,598.3 L395.4,592.8 L394.7,587.3 L393.9,581.8 L393.1,576.3 L392.2,570.7 L391.3,565.2 L390.4,559.7 L389.4,554.2 L388.5,548.6 L387.4,543.1 L386.4,537.6 L385.3,532.1 L384.2,526.6 L383.1,521.0 L381.9,515.5 L380.7,510.0 L379.5,504.5 L378.2,498.9 L376.9,493.4 L375.6,487.9 L374.2,482.4 L372.8,476.8 L371.4,471.3 L369.9,465.8 L368.4,460.3 L366.9,454.8 L365.3,449.2 L363.8,443.7 L362.1,438.2 L360.5,432.7 L358.8,427.1 L357.1,421.6 L355.4,416.1 L353.6,410.6 L351.8,405.1 L349.9,399.5 L348.1,394.0 L346.2,388.5 L344.2,383.0 L342.3,377.4 L340.3,371.9 L338.2,366.4 L336.2,360.9 L334.1,355.3 L332.0,349.8 L329.8,344.3 L327.6,338.8 L325.4,333.3 L323.1,327.7 L320.8,322.2 L318.5,316.7 L316.2,311.2 L313.8,305.6 L311.4,300.1 L309.0,294.6 L306.5,289.1 L304.0,283.6 L301.4,278.0 L298.9,272.5 L296.3,267.0 L293.6,261.5 L291.0,255.9 L288.3,250.4 L285.5,244.9 L282.8,239.4 L280.0,233.8 L277.2,228.3 L274.3,222.8 L271.4,217.3 L268.5,211.8 L265.5,206.2 L262.6,200.7 L259.5,195.2 L256.5,189.7 L253.4,184.1 L250.3,178.6 L247.2,173.1 L244.0,167.6 L240.8,162.1 L237.6,156.5 L234.3,151.0 L231.0,145.5 L227.7,140.0 L224.3,134.4 L220.9,128.9 L217.5,123.4M593.6,708.8 L593.5,703.3 L593.4,697.8 L593.2,692.2 L593.1,686.7 L592.8,681.2 L592.6,675.7 L592.3,670.1 L592.0,664.6 L591.6,659.1 L591.3,653.6 L590.8,648.1 L590.4,642.5 L589.9,637.0 L589.4,631.5 L588.9,626.0 L588.3,620.4 L587.7,614.9 L587.1,609.4 L586.4,603.9 L585.7,598.3 L585.0,592.8 L584.2,587.3 L583.4,581.8 L582.6,576.3 L581.8,570.7 L580.9,565.2 L580.0,559.7 L579.0,554.2 L578.0,548.6 L577.0,543.1 L576.0,537.6 L574.9,532.1 L573.8,526.6 L572.6,521.0 L571.5,515.5 L570.3,510.0 L569.0,504.5 L567.8,498.9 L566.5,493.4 L565.1,487.9 L563.8,482.4 L562.4,476.8 L560.9,471.3 L559.5,465.8 L558.0,460.3 L556.5,454.8 L554.9,449.2 L553.3,443.7 L551.7,438.2 L550.1,432.7 L548.4,427.1 L546.7,421.6 L544.9,416.1 L543.2,410.6 L541.3,405.1 L539.5,399.5 L537.6,394.0 L535.7,388.5 L533.8,383.0 L531.8,377.4 L529.8,371.9 L527.8,366.4 L525.7,360.9 L523.6,355.3 L521.5,349.8 L519.4,344.3 L517.2,338.8 L515.0,333.3 L512.7,327.7 L510.4,322.2 L508.1,316.7 L505.8,311.2 L503.4,305.6 L501.0,300.1 L498.5,294.6 L496.0,289.1 L493.5,283.6 L491.0,278.0 L488.4,272.5 L485.8,267.0 L483.2,261.5 L480.5,255.9 L477.8,250.4 L475.1,244.9 L472.3,239.4 L469.6,233.8 L466.7,228.3 L463.9,222.8 L461.0,217.3 L458.1,211.8 L455.1,206.2 L452.1,200.7 L449.1,195.2 L446.1,189.7 L443.0,184.1 L439.9,178.6 L436.7,173.1 L433.6,167.6 L430.4,162.1 L427.1,156.5 L423.9,151.0 L420.6,145.5 L417.2,140.0 L413.9,134.4 L410.5,128.9 L407.0,123.4 L403.6,117.9 L400.1,112.3 L396.6,106.8 L393.0,101.3 L389.4,95.8 L385.8,90.3 L382.2,84.7 L378.5,79.2 L374.8,73.7 L371.0,68.2 L367.2,62.6 L363.4,57.1 L359.6,51.6M783.2,708.8 L783.1,703.3 L783.0,697.8 L782.8,692.2 L782.6,686.7 L782.4,681.2 L782.2,675.7 L781.9,670.1 L781.6,664.6 L781.2,659.1 L780.8,653.6 L780.4,648.1 L780.0,642.5 L779.5,637.0 L779.0,631.5 L778.5,626.0 L777.9,620.4 L777.3,614.9 L776.7,609.4 L776.0,603.9 L775.3,598.3 L774.6,592.8 L773.8,587.3 L773.0,581.8 L772.2,576.3 L771.3,570.7 L770.5,565.2 L769.5,559.7 L768.6,554.2 L767.6,548.6 L766.6,543.1 L765.5,537.6 L764.5,532.1 L763.4,526.6 L762.2,521.0 L761.0,515.5 L759.8,510.0 L758.6,504.5 L757.3,498.9 L756.0,493.4 L754.7,487.9 L753.3,482.4 L751.9,476.8 L750.5,471.3 L749.1,465.8 L747.6,460.3 L746.0,454.8 L744.5,449.2 L742.9,443.7 L741.3,438.2 L739.6,432.7 L738.0,427.1 L736.2,421.6 L734.5,416.1 L732.7,410.6 L730.9,405.1 L729.1,399.5 L727.2,394.0 L725.3,388.5 L723.4,383.0 L721.4,377.4 L719.4,371.9 L717.4,366.4 L715.3,360.9 L713.2,355.3 L711.1,349.8 L708.9,344.3 L706.7,338.8 L704.5,333.3 L702.3,327.7 L700.0,322.2 L697.7,316.7 L695.3,311.2 L692.9,305.6 L690.5,300.1 L688.1,294.6 L685.6,289.1 L683.1,283.6 L680.6,278.0 L678.0,272.5 L675.4,267.0 L672.8,261.5 L670.1,255.9 L667.4,250.4 L664.7,244.9 L661.9,239.4 L659.1,233.8 L656.3,228.3 L653.4,222.8 L650.6,217.3 L647.6,211.8 L644.7,206.2 L641.7,200.7 L638.7,195.2 L635.6,189.7 L632.6,184.1 L629.5,178.6 L626.3,173.1 L623.1,167.6 L619.9,162.1 L616.7,156.5 L613.4,151.0 L610.1,145.5 L606.8,140.0 L603.4,134.4 L600.0,128.9 L596.6,123.4 L593.1,117.9 L589.7,112.3 L586.1,106.8 L582.6,101.3 L579.0,95.8 L575.4,90.3 L571.7,84.7 L568.0,79.2 L564.3,73.7 L560.6,68.2 L556.8,62.6 L553.0,57.1 L549.2,51.6M972.8,708.8 L972.7,703.3 L972.5,697.8 L972.4,692.2 L972.2,686.7 L972.0,681.2 L971.7,675.7 L971.4,670.1 L971.1,664.6 L970.8,659.1 L970.4,653.6 L970.0,648.1 L969.5,642.5 L969.1,637.0 L968.6,631.5 L968.0,626.0 L967.5,620.4 L966.9,614.9 L966.2,609.4 L965.6,603.9 L964.9,598.3 L964.1,592.8 L963.4,587.3 L962.6,581.8 L961.8,576.3 L960.9,570.7 L960.0,565.2 L959.1,559.7 L958.2,554.2 L957.2,548.6 L956.2,543.1 L955.1,537.6 L954.0,532.1 L952.9,526.6 L951.8,521.0 L950.6,515.5 L949.4,510.0 L948.2,504.5 L946.9,498.9 L945.6,493.4 L944.3,487.9 L942.9,482.4 L941.5,476.8 L940.1,471.3 L938.6,465.8 L937.1,460.3 L935.6,454.8 L934.1,449.2 L932.5,443.7 L930.9,438.2 L929.2,432.7 L927.5,427.1 L925.8,421.6 L924.1,416.1 L922.3,410.6 L920.5,405.1 L918.6,399.5 L916.8,394.0 L914.9,388.5 L912.9,383.0 L911.0,377.4 L909.0,371.9 L906.9,366.4 L904.9,360.9 L902.8,355.3 L900.7,349.8 L898.5,344.3 L896.3,338.8 L894.1,333.3 L891.8,327.7 L889.6,322.2 L887.2,316.7 L884.9,311.2 L882.5,305.6 L880.1,300.1 L877.7,294.6 L875.2,289.1 L872.7,283.6 L870.1,278.0 L867.6,272.5 L865.0,267.0 L862.3,261.5 L859.7,255.9 L857.0,250.4 L854.2,244.9 L851.5,239.4 L848.7,233.8 L845.9,228.3 L843.0,222.8 L840.1,217.3 L837.2,211.8 L834.3,206.2 L831.3,200.7 L828.3,195.2 L825.2,189.7 L822.1,184.1 L819.0,178.6 L815.9,173.1 L812.7,167.6 L809.5,162.1 L806.3,156.5 L803.0,151.0 L799.7,145.5 L796.4,140.0 L793.0,134.4 L789.6,128.9 L786.2,123.4 L782.7,117.9 L779.2,112.3 L775.7,106.8 L772.2,101.3 L768.6,95.8 L764.9,90.3 L761.3,84.7 L757.6,79.2 L753.9,73.7 L750.2,68.2 L746.4,62.6 L742.6,57.1 L738.7,51.6M1049.2,255.9 L1046.5,250.4 L1043.8,244.9 L1041.1,239.4 L1038.3,233.8 L1035.4,228.3 L1032.6,222.8 L1029.7,217.3 L1026.8,211.8 L1023.8,206.2 L1020.8,200.7 L1017.8,195.2 L1014.8,189.7 L1011.7,184.1 L1008.6,178.6 L1005.5,173.1 L1002.3,167.6 L999.1,162.1 L995.8,156.5 L992.6,151.0 L989.3,145.5 L985.9,140.0 L982.6,134.4 L979.2,128.9 L975.7,123.4 L972.3,117.9 L968.8,112.3 L965.3,106.8 L961.7,101.3 L958.1,95.8 L954.5,90.3 L950.9,84.7 L947.2,79.2 L943.5,73.7 L939.7,68.2 L936.0,62.6 L932.1,57.1 L928.3,51.6" fill="none" stroke="#0a0a0a" stroke-width="2.0"/>
<path d="M404.0,708.8 L404.0,703.3 L403.8,697.8 L403.7,692.2 L403.5,686.7 L403.3,681.2 L403.0,675.7 L402.7,670.1 L402.4,664.6 L402.1,659.1 L401.7,653.6 L401.3,648.1 L400.8,642.5 L400.4,637.0 L399.9,631.5 L399.3,626.0 L398.7,620.4 L398.1,614.9 L397.5,609.4 L396.9,603.9 L396.2,598.3 L395.4,592.8 L394.7,587.3 L393.9,581.8 L393.1,576.3 L392.2,570.7 L391.3,565.2 L390.4,559.7 L389.4,554.2 L388.5,548.6 L387.4,543.1 L386.4,537.6 L385.3,532.1 L384.2,526.6 L383.1,521.0 L381.9,515.5 L380.7,510.0 L379.5,504.5 L378.2,498.9 L376.9,493.4 L375.6,487.9 L374.2,482.4 L372.8,476.8 L371.4,471.3 L369.9,465.8 L368.4,460.3 L366.9,454.8 L365.3,449.2 L363.8,443.7 L362.1,438.2 L360.5,432.7 L358.8,427.1 L357.1,421.6 L355.4,416.1 L353.6,410.6 L351.8,405.1 L349.9,399.5 L348.1,394.0 L346.2,388.5 L344.2,383.0 L342.3,377.4 L340.3,371.9 L338.2,366.4 L336.2,360.9 L334.1,355.3 L332.0,349.8 L329.8,344.3 L327.6,338.8 L325.4,333.3 L323.1,327.7 L320.8,322.2 L318.5,316.7 L316.2,311.2 L313.8,305.6 L311.4,300.1 L309.0,294.6 L306.5,289.1 L304.0,283.6 L301.4,278.0 L298.9,272.5 L296.3,267.0 L293.6,261.5 L291.0,255.9 L288.3,250.4 L285.5,244.9 L282.8,239.4 L280.0,233.8 L277.2,228.3 L274.3,222.8 L271.4,217.3 L268.5,211.8 L265.5,206.2 L262.6,200.7 L259.5,195.2 L256.5,189.7 L253.4,184.1 L250.3,178.6 L247.2,173.1 L244.0,167.6 L240.8,162.1 L237.6,156.5 L234.3,151.0 L231.0,145.5 L227.7,140.0 L224.3,134.4 L220.9,128.9 L217.5,123.4M593.6,708.8 L593.5,703.3 L593.4,697.8 L593.2,692.2 L593.1,686.7 L592.8,681.2 L592.6,675.7 L592.3,670.1 L592.0,664.6 L591.6,659.1 L591.3,653.6 L590.8,648.1 L590.4,642.5 L589.9,637.0 L589.4,631.5 L588.9,626.0 L588.3,620.4 L587.7,614.9 L587.1,609.4 L586.4,603.9 L585.7,598.3 L585.0,592.8 L584.2,587.3 L583.4,581.8 L582.6,576.3 L581.8,570.7 L580.9,565.2 L580.0,559.7 L579.0,554.2 L578.0,548.6 L577.0,543.1 L576.0,537.6 L574.9,532.1 L573.8,526.6 L572.6,521.0 L571.5,515.5 L570.3,510.0 L569.0,504.5 L567.8,498.9 L566.5,493.4 L565.1,487.9 L563.8,482.4 L562.4,476.8 L560.9,471.3 L559.5,465.8 L558.0,460.3 L556.5,454.8 L554.9,449.2 L553.3,443.7 L551.7,438.2 L550.1,432.7 L548.4,427.1 L546.7,421.6 L544.9,416.1 L543.2,410.6 L541.3,405.1 L539.5,399.5 L537.6,394.0 L535.7,388.5 L533.8,383.0 L531.8,377.4 L529.8,371.9 L527.8,366.4 L525.7,360.9 L523.6,355.3 L521.5,349.8 L519.4,344.3 L517.2,338.8 L515.0,333.3 L512.7,327.7 L510.4,322.2 L508.1,316.7 L505.8,311.2 L503.4,305.6 L501.0,300.1 L498.5,294.6 L496.0,289.1 L493.5,283.6 L491.0,278.0 L488.4,272.5 L485.8,267.0 L483.2,261.5 L480.5,255.9 L477.8,250.4 L475.1,244.9 L472.3,239.4 L469.6,233.8 L466.7,228.3 L463.9,222.8 L461.0,217.3 L458.1,211.8 L455.1,206.2 L452.1,200.7 L449.1,195.2 L446.1,189.7 L443.0,184.1 L439.9,178.6 L436.7,173.1 L433.6,167.6 L430.4,162.1 L427.1,156.5 L423.9,151.0 L420.6,145.5 L417.2,140.0 L413.9,134.4 L410.5,128.9 L407.0,123.4 L403.6,117.9 L400.1,112.3 L396.6,106.8 L393.0,101.3 L389.4,95.8 L385.8,90.3 L382.2,84.7 L378.5,79.2 L374.8,73.7 L371.0,68.2 L367.2,62.6 L363.4,57.1 L359.6,51.6M783.2,708.8 L783.1,703.3 L783.0,697.8 L782.8,692.2 L782.6,686.7 L782.4,681.2 L782.2,675.7 L781.9,670.1 L781.6,664.6 L781.2,659.1 L780.8,653.6 L780.4,648.1 L780.0,642.5 L779.5,637.0 L779.0,631.5 L778.5,626.0 L777.9,620.4 L777.3,614.9 L776.7,609.4 L776.0,603.9 L775.3,598.3 L774.6,592.8 L773.8,587.3 L773.0,581.8 L772.2,576.3 L771.3,570.7 L770.5,565.2 L769.5,559.7 L768.6,554.2 L767.6,548.6 L766.6,543.1 L765.5,537.6 L764.5,532.1 L763.4,526.6 L762.2,521.0 L761.0,515.5 L759.8,510.0 L758.6,504.5 L757.3,498.9 L756.0,493.4 L754.7,487.9 L753.3,482.4 L751.9,476.8 L750.5,471.3 L749.1,465.8 L747.6,460.3 L746.0,454.8 L744.5,449.2 L742.9,443.7 L741.3,438.2 L739.6,432.7 L738.0,427.1 L736.2,421.6 L734.5,416.1 L732.7,410.6 L730.9,405.1 L729.1,399.5 L727.2,394.0 L725.3,388.5 L723.4,383.0 L721.4,377.4 L719.4,371.9 L717.4,366.4 L715.3,360.9 L713.2,355.3 L711.1,349.8 L708.9,344.3 L706.7,338.8 L704.5,333.3 L702.3,327.7 L700.0,322.2 L697.7,316.7 L695.3,311.2 L692.9,305.6 L690.5,300.1 L688.1,294.6 L685.6,289.1 L683.1,283.6 L680.6,278.0 L678.0,272.5 L675.4,267.0 L672.8,261.5 L670.1,255.9 L667.4,250.4 L664.7,244.9 L661.9,239.4 L659.1,233.8 L656.3,228.3 L653.4,222.8 L650.6,217.3 L647.6,211.8 L644.7,206.2 L641.7,200.7 L638.7,195.2 L635.6,189.7 L632.6,184.1 L629.5,178.6 L626.3,173.1 L623.1,167.6 L619.9,162.1 L616.7,156.5 L613.4,151.0 L610.1,145.5 L606.8,140.0 L603.4,134.4 L600.0,128.9 L596.6,123.4 L593.1,117.9 L589.7,112.3 L586.1,106.8 L582.6,101.3 L579.0,95.8 L575.4,90.3 L571.7,84.7 L568.0,79.2 L564.3,73.7 L560.6,68.2 L556.8,62.6 L553.0,57.1 L549.2,51.6M972.8,708.8 L972.7,703.3 L972.5,697.8 L972.4,692.2 L972.2,686.7 L972.0,681.2 L971.7,675.7 L971.4,670.1 L971.1,664.6 L970.8,659.1 L970.4,653.6 L970.0,648.1 L969.5,642.5 L969.1,637.0 L968.6,631.5 L968.0,626.0 L967.5,620.4 L966.9,614.9 L966.2,609.4 L965.6,603.9 L964.9,598.3 L964.1,592.8 L963.4,587.3 L962.6,581.8 L961.8,576.3 L960.9,570.7 L960.0,565.2 L959.1,559.7 L958.2,554.2 L957.2,548.6 L956.2,543.1 L955.1,537.6 L954.0,532.1 L952.9,526.6 L951.8,521.0 L950.6,515.5 L949.4,510.0 L948.2,504.5 L946.9,498.9 L945.6,493.4 L944.3,487.9 L942.9,482.4 L941.5,476.8 L940.1,471.3 L938.6,465.8 L937.1,460.3 L935.6,454.8 L934.1,449.2 L932.5,443.7 L930.9,438.2 L929.2,432.7 L927.5,427.1 L925.8,421.6 L924.1,416.1 L922.3,410.6 L920.5,405.1 L918.6,399.5 L916.8,394.0 L914.9,388.5 L912.9,383.0 L911.0,377.4 L909.0,371.9 L906.9,366.4 L904.9,360.9 L902.8,355.3 L900.7,349.8 L898.5,344.3 L896.3,338.8 L894.1,333.3 L891.8,327.7 L889.6,322.2 L887.2,316.7 L884.9,311.2 L882.5,305.6 L880.1,300.1 L877.7,294.6 L875.2,289.1 L872.7,283.6 L870.1,278.0 L867.6,272.5 L865.0,267.0 L862.3,261.5 L859.7,255.9 L857.0,250.4 L854.2,244.9 L851.5,239.4 L848.7,233.8 L845.9,228.3 L843.0,222.8 L840.1,217.3 L837.2,211.8 L834.3,206.2 L831.3,200.7 L828.3,195.2 L825.2,189.7 L822.1,184.1 L819.0,178.6 L815.9,173.1 L812.7,167.6 L809.5,162.1 L806.3,156.5 L803.0,151.0 L799.7,145.5 L796.4,140.0 L793.0,134.4 L789.6,128.9 L786.2,123.4 L782.7,117.9 L779.2,112.3 L775.7,106.8 L772.2,101.3 L768.6,95.8 L764.9,90.3 L761.3,84.7 L757.6,79.2 L753.9,73.7 L750.2,68.2 L746.4,62.6 L742.6,57.1 L738.7,51.6M1049.2,255.9 L1046.5,250.4 L1043.8,244.9 L1041.1,239.4 L1038.3,233.8 L1035.4,228.3 L1032.6,222.8 L1029.7,217.3 L1026.8,211.8 L1023.8,206.2 L1020.8,200.7 L1017.8,195.2 L1014.8,189.7 L1011.7,184.1 L1008.6,178.6 L1005.5,173.1 L1002.3,167.6 L999.1,162.1 L995.8,156.5 L992.6,151.0 L989.3,145.5 L985.9,140.0 L982.6,134.4 L979.2,128.9 L975.7,123.4 L972.3,117.9 L968.8,112.3 L965.3,106.8 L961.7,101.3 L958.1,95.8 L954.5,90.3 L950.9,84.7 L947.2,79.2 L943.5,73.7 L939.7,68.2 L936.0,62.6 L932.1,57.1 L928.3,51.6" fill="none" stroke="#0a0a0a" stroke-width="3.2" stroke-linecap="round" stroke-dasharray="0.1 13.2"/>
<path d="M216.7,661.9 L217.5,708.8" stroke="#0a0a0a" stroke-width="2.2"/>
<rect x="215.5" y="51.6" width="834.3" height="657.2" fill="none" stroke="#363636" stroke-width="1.7"/>
<path d="M308.2,708.8v-9M308.2,51.6v9M493.6,708.8v-9M493.6,51.6v9M679.0,708.8v-9M679.0,51.6v9M864.4,708.8v-9M864.4,51.6v9M1049.8,708.8v-9M1049.8,51.6v9M215.5,655.2h9M1049.8,655.2h-9M215.5,588.1h9M1049.8,588.1h-9M215.5,521.0h9M1049.8,521.0h-9M215.5,454.0h9M1049.8,454.0h-9M215.5,386.9h9M1049.8,386.9h-9M215.5,319.8h9M1049.8,319.8h-9M215.5,252.8h9M1049.8,252.8h-9M215.5,185.7h9M1049.8,185.7h-9M215.5,118.7h9M1049.8,118.7h-9M215.5,51.6h9M1049.8,51.6h-9" stroke="#363636" stroke-width="1.8"/>
<text x="308.2" y="755.8" class="tl" text-anchor="middle">100</text>
<text x="493.6" y="755.8" class="tl" text-anchor="middle">200</text>
<text x="679.0" y="755.8" class="tl" text-anchor="middle">300</text>
<text x="864.4" y="755.8" class="tl" text-anchor="middle">400</text>
<text x="1049.8" y="755.8" class="tl" text-anchor="middle">500</text>
<text x="201.8" y="668.7" class="tl" text-anchor="end">5</text>
<text x="201.8" y="601.6" class="tl" text-anchor="end">10</text>
<text x="201.8" y="534.5" class="tl" text-anchor="end">15</text>
<text x="201.8" y="467.5" class="tl" text-anchor="end">20</text>
<text x="201.8" y="400.4" class="tl" text-anchor="end">25</text>
<text x="201.8" y="333.3" class="tl" text-anchor="end">30</text>
<text x="201.8" y="266.3" class="tl" text-anchor="end">35</text>
<text x="201.8" y="199.2" class="tl" text-anchor="end">40</text>
<text x="201.8" y="132.2" class="tl" text-anchor="end">45</text>
<text x="201.8" y="65.1" class="tl" text-anchor="end">50</text>
<rect x="1135.3" y="3.2" width="43.5" height="739.6" fill="url(#cbA)" stroke="#363636" stroke-width="2"/>
<text x="1190.4" y="87.8" class="tl">-1</text>
<text x="1190.4" y="161.1" class="tl">-2</text>
<text x="1190.4" y="234.3" class="tl">-3</text>
<text x="1190.4" y="307.5" class="tl">-4</text>
<text x="1190.4" y="380.7" class="tl">-5</text>
<text x="1190.4" y="454.0" class="tl">-6</text>
<text x="1190.4" y="527.2" class="tl">-7</text>
<text x="1190.4" y="600.4" class="tl">-8</text>
<text x="1190.4" y="673.7" class="tl">-9</text>
<text x="1190.4" y="746.9" class="tl">-10</text>
<path d="M1178.8,75.3h-9M1178.8,148.6h-9M1178.8,221.8h-9M1178.8,295.0h-9M1178.8,368.2h-9M1178.8,441.5h-9M1178.8,514.7h-9M1178.8,587.9h-9M1178.8,661.2h-9M1178.8,734.4h-9" stroke="#363636" stroke-width="1.8"/>
<text x="5.56" y="65.00" font-size="46" textLength="34.52" lengthAdjust="spacingAndGlyphs" font-weight="bold" fill="#000">A</text>
<text x="331.26" y="602.20" font-size="48.5" textLength="106.21" lengthAdjust="spacingAndGlyphs" fill="#da1f2a">1500</text>
<text x="512.07" y="511.50" font-size="48.5" textLength="104.17" lengthAdjust="spacingAndGlyphs" fill="#da1f2a">2500</text>
<text x="673.77" y="417.70" font-size="48.5" textLength="104.17" lengthAdjust="spacingAndGlyphs" fill="#da1f2a">3500</text>
<text x="820.34" y="323.90" font-size="48.5" textLength="103.18" lengthAdjust="spacingAndGlyphs" fill="#da1f2a">4500</text>
<text x="935.77" y="182.90" font-size="48.5" textLength="104.17" lengthAdjust="spacingAndGlyphs" fill="#da1f2a">5500</text>
<path d="M405.4,1525.5 L405.3,1520.0 L405.2,1514.5 L405.0,1508.9 L404.9,1503.4 L404.6,1497.9 L404.4,1492.4 L404.1,1486.8 L403.8,1481.3 L403.4,1475.8 L403.1,1470.3 L402.6,1464.7 L402.2,1459.2 L401.7,1453.7 L401.2,1448.2 L400.7,1442.6 L400.1,1437.1 L399.5,1431.6 L398.9,1426.1 L398.2,1420.6 L397.5,1415.0 L396.8,1409.5 L396.0,1404.0 L395.2,1398.5 L394.4,1392.9 L393.6,1387.4 L392.7,1381.9 L391.8,1376.4 L390.8,1370.8 L389.8,1365.3 L388.8,1359.8 L387.8,1354.3 L386.7,1348.7 L385.6,1343.2 L384.5,1337.7 L383.3,1332.2 L382.1,1326.7 L380.8,1321.1 L379.6,1315.6 L378.3,1310.1 L376.9,1304.6 L375.6,1299.0 L374.2,1293.5 L372.8,1288.0 L371.3,1282.5 L369.8,1276.9 L368.3,1271.4 L366.7,1265.9 L365.2,1260.4 L363.5,1254.8 L361.9,1249.3 L360.2,1243.8 L358.5,1238.3 L356.8,1232.8 L355.0,1227.2 L353.2,1221.7 L351.3,1216.2 L349.5,1210.7 L347.6,1205.1 L345.6,1199.6 L343.7,1194.1 L341.7,1188.6 L339.6,1183.0 L337.6,1177.5 L335.5,1172.0 L333.4,1166.5 L331.2,1160.9 L329.0,1155.4 L326.8,1149.9 L324.6,1144.4 L322.3,1138.9 L320.0,1133.3 L317.6,1127.8 L315.2,1122.3 L312.8,1116.8 L310.4,1111.2 L307.9,1105.7 L305.4,1100.2 L302.9,1094.7 L300.3,1089.1 L297.7,1083.6 L295.1,1078.1 L292.4,1072.6 L289.7,1067.0 L287.0,1061.5 L284.2,1056.0 L281.4,1050.5 L278.6,1045.0 L275.8,1039.4 L272.9,1033.9 L270.0,1028.4 L267.0,1022.9 L264.0,1017.3 L261.0,1011.8 L258.0,1006.3 L254.9,1000.8 L251.8,995.2 L248.6,989.7 L245.5,984.2 L242.3,978.7 L239.0,973.1 L235.8,967.6 L232.5,962.1 L229.1,956.6 L225.8,951.1 L222.4,945.5 L219.0,940.0M594.8,1525.5 L594.8,1520.0 L594.6,1514.5 L594.5,1508.9 L594.3,1503.4 L594.1,1497.9 L593.8,1492.4 L593.5,1486.8 L593.2,1481.3 L592.9,1475.8 L592.5,1470.3 L592.1,1464.7 L591.6,1459.2 L591.2,1453.7 L590.7,1448.2 L590.1,1442.6 L589.6,1437.1 L589.0,1431.6 L588.3,1426.1 L587.7,1420.6 L587.0,1415.0 L586.2,1409.5 L585.5,1404.0 L584.7,1398.5 L583.9,1392.9 L583.0,1387.4 L582.1,1381.9 L581.2,1376.4 L580.2,1370.8 L579.3,1365.3 L578.3,1359.8 L577.2,1354.3 L576.1,1348.7 L575.0,1343.2 L573.9,1337.7 L572.7,1332.2 L571.5,1326.7 L570.3,1321.1 L569.0,1315.6 L567.7,1310.1 L566.4,1304.6 L565.0,1299.0 L563.6,1293.5 L562.2,1288.0 L560.7,1282.5 L559.2,1276.9 L557.7,1271.4 L556.2,1265.9 L554.6,1260.4 L553.0,1254.8 L551.3,1249.3 L549.6,1243.8 L547.9,1238.3 L546.2,1232.8 L544.4,1227.2 L542.6,1221.7 L540.8,1216.2 L538.9,1210.7 L537.0,1205.1 L535.1,1199.6 L533.1,1194.1 L531.1,1188.6 L529.1,1183.0 L527.0,1177.5 L524.9,1172.0 L522.8,1166.5 L520.6,1160.9 L518.5,1155.4 L516.2,1149.9 L514.0,1144.4 L511.7,1138.9 L509.4,1133.3 L507.0,1127.8 L504.7,1122.3 L502.3,1116.8 L499.8,1111.2 L497.3,1105.7 L494.8,1100.2 L492.3,1094.7 L489.7,1089.1 L487.1,1083.6 L484.5,1078.1 L481.8,1072.6 L479.1,1067.0 L476.4,1061.5 L473.7,1056.0 L470.9,1050.5 L468.0,1045.0 L465.2,1039.4 L462.3,1033.9 L459.4,1028.4 L456.4,1022.9 L453.5,1017.3 L450.4,1011.8 L447.4,1006.3 L444.3,1000.8 L441.2,995.2 L438.1,989.7 L434.9,984.2 L431.7,978.7 L428.5,973.1 L425.2,967.6 L421.9,962.1 L418.6,956.6 L415.2,951.1 L411.8,945.5 L408.4,940.0 L404.9,934.5 L401.5,929.0 L397.9,923.4 L394.4,917.9 L390.8,912.4 L387.2,906.9 L383.5,901.3 L379.9,895.8 L376.1,890.3 L372.4,884.8 L368.6,879.2 L364.8,873.7 L361.0,868.2M784.3,1525.5 L784.2,1520.0 L784.1,1514.5 L783.9,1508.9 L783.7,1503.4 L783.5,1497.9 L783.2,1492.4 L783.0,1486.8 L782.6,1481.3 L782.3,1475.8 L781.9,1470.3 L781.5,1464.7 L781.1,1459.2 L780.6,1453.7 L780.1,1448.2 L779.6,1442.6 L779.0,1437.1 L778.4,1431.6 L777.8,1426.1 L777.1,1420.6 L776.4,1415.0 L775.7,1409.5 L774.9,1404.0 L774.1,1398.5 L773.3,1392.9 L772.4,1387.4 L771.6,1381.9 L770.6,1376.4 L769.7,1370.8 L768.7,1365.3 L767.7,1359.8 L766.6,1354.3 L765.6,1348.7 L764.5,1343.2 L763.3,1337.7 L762.1,1332.2 L760.9,1326.7 L759.7,1321.1 L758.4,1315.6 L757.1,1310.1 L755.8,1304.6 L754.4,1299.0 L753.1,1293.5 L751.6,1288.0 L750.2,1282.5 L748.7,1276.9 L747.2,1271.4 L745.6,1265.9 L744.0,1260.4 L742.4,1254.8 L740.8,1249.3 L739.1,1243.8 L737.4,1238.3 L735.6,1232.8 L733.9,1227.2 L732.0,1221.7 L730.2,1216.2 L728.3,1210.7 L726.4,1205.1 L724.5,1199.6 L722.5,1194.1 L720.5,1188.6 L718.5,1183.0 L716.5,1177.5 L714.4,1172.0 L712.2,1166.5 L710.1,1160.9 L707.9,1155.4 L705.7,1149.9 L703.4,1144.4 L701.1,1138.9 L698.8,1133.3 L696.5,1127.8 L694.1,1122.3 L691.7,1116.8 L689.3,1111.2 L686.8,1105.7 L684.3,1100.2 L681.7,1094.7 L679.2,1089.1 L676.6,1083.6 L673.9,1078.1 L671.3,1072.6 L668.6,1067.0 L665.9,1061.5 L663.1,1056.0 L660.3,1050.5 L657.5,1045.0 L654.6,1039.4 L651.7,1033.9 L648.8,1028.4 L645.9,1022.9 L642.9,1017.3 L639.9,1011.8 L636.8,1006.3 L633.8,1000.8 L630.7,995.2 L627.5,989.7 L624.3,984.2 L621.1,978.7 L617.9,973.1 L614.6,967.6 L611.3,962.1 L608.0,956.6 L604.7,951.1 L601.3,945.5 L597.8,940.0 L594.4,934.5 L590.9,929.0 L587.4,923.4 L583.8,917.9 L580.2,912.4 L576.6,906.9 L573.0,901.3 L569.3,895.8 L565.6,890.3 L561.8,884.8 L558.1,879.2 L554.3,873.7 L550.4,868.2M973.7,1525.5 L973.6,1520.0 L973.5,1514.5 L973.3,1508.9 L973.2,1503.4 L972.9,1497.9 L972.7,1492.4 L972.4,1486.8 L972.1,1481.3 L971.7,1475.8 L971.4,1470.3 L970.9,1464.7 L970.5,1459.2 L970.0,1453.7 L969.5,1448.2 L969.0,1442.6 L968.4,1437.1 L967.8,1431.6 L967.2,1426.1 L966.5,1420.6 L965.8,1415.0 L965.1,1409.5 L964.3,1404.0 L963.5,1398.5 L962.7,1392.9 L961.9,1387.4 L961.0,1381.9 L960.1,1376.4 L959.1,1370.8 L958.1,1365.3 L957.1,1359.8 L956.1,1354.3 L955.0,1348.7 L953.9,1343.2 L952.8,1337.7 L951.6,1332.2 L950.4,1326.7 L949.1,1321.1 L947.9,1315.6 L946.6,1310.1 L945.2,1304.6 L943.9,1299.0 L942.5,1293.5 L941.1,1288.0 L939.6,1282.5 L938.1,1276.9 L936.6,1271.4 L935.0,1265.9 L933.5,1260.4 L931.8,1254.8 L930.2,1249.3 L928.5,1243.8 L926.8,1238.3 L925.1,1232.8 L923.3,1227.2 L921.5,1221.7 L919.6,1216.2 L917.8,1210.7 L915.9,1205.1 L913.9,1199.6 L912.0,1194.1 L910.0,1188.6 L907.9,1183.0 L905.9,1177.5 L903.8,1172.0 L901.7,1166.5 L899.5,1160.9 L897.3,1155.4 L895.1,1149.9 L892.9,1144.4 L890.6,1138.9 L888.3,1133.3 L885.9,1127.8 L883.5,1122.3 L881.1,1116.8 L878.7,1111.2 L876.2,1105.7 L873.7,1100.2 L871.2,1094.7 L868.6,1089.1 L866.0,1083.6 L863.4,1078.1 L860.7,1072.6 L858.0,1067.0 L855.3,1061.5 L852.5,1056.0 L849.7,1050.5 L846.9,1045.0 L844.1,1039.4 L841.2,1033.9 L838.3,1028.4 L835.3,1022.9 L832.3,1017.3 L829.3,1011.8 L826.3,1006.3 L823.2,1000.8 L820.1,995.2 L817.0,989.7 L813.8,984.2 L810.6,978.7 L807.3,973.1 L804.1,967.6 L800.8,962.1 L797.4,956.6 L794.1,951.1 L790.7,945.5 L787.3,940.0 L783.8,934.5 L780.3,929.0 L776.8,923.4 L773.3,917.9 L769.7,912.4 L766.1,906.9 L762.4,901.3 L758.7,895.8 L755.0,890.3 L751.3,884.8 L747.5,879.2 L743.7,873.7 L739.9,868.2M1050.1,1072.6 L1047.4,1067.0 L1044.7,1061.5 L1042.0,1056.0 L1039.2,1050.5 L1036.4,1045.0 L1033.5,1039.4 L1030.6,1033.9 L1027.7,1028.4 L1024.7,1022.9 L1021.8,1017.3 L1018.8,1011.8 L1015.7,1006.3 L1012.6,1000.8 L1009.5,995.2 L1006.4,989.7 L1003.2,984.2 L1000.0,978.7 L996.8,973.1 L993.5,967.6 L990.2,962.1 L986.9,956.6 L983.5,951.1 L980.1,945.5 L976.7,940.0 L973.2,934.5 L969.8,929.0 L966.2,923.4 L962.7,917.9 L959.1,912.4 L955.5,906.9 L951.8,901.3 L948.2,895.8 L944.5,890.3 L940.7,884.8 L936.9,879.2 L933.1,873.7 L929.3,868.2" fill="none" stroke="#0a0a0a" stroke-width="2.0"/>
<path d="M405.4,1525.5 L405.3,1520.0 L405.2,1514.5 L405.0,1508.9 L404.9,1503.4 L404.6,1497.9 L404.4,1492.4 L404.1,1486.8 L403.8,1481.3 L403.4,1475.8 L403.1,1470.3 L402.6,1464.7 L402.2,1459.2 L401.7,1453.7 L401.2,1448.2 L400.7,1442.6 L400.1,1437.1 L399.5,1431.6 L398.9,1426.1 L398.2,1420.6 L397.5,1415.0 L396.8,1409.5 L396.0,1404.0 L395.2,1398.5 L394.4,1392.9 L393.6,1387.4 L392.7,1381.9 L391.8,1376.4 L390.8,1370.8 L389.8,1365.3 L388.8,1359.8 L387.8,1354.3 L386.7,1348.7 L385.6,1343.2 L384.5,1337.7 L383.3,1332.2 L382.1,1326.7 L380.8,1321.1 L379.6,1315.6 L378.3,1310.1 L376.9,1304.6 L375.6,1299.0 L374.2,1293.5 L372.8,1288.0 L371.3,1282.5 L369.8,1276.9 L368.3,1271.4 L366.7,1265.9 L365.2,1260.4 L363.5,1254.8 L361.9,1249.3 L360.2,1243.8 L358.5,1238.3 L356.8,1232.8 L355.0,1227.2 L353.2,1221.7 L351.3,1216.2 L349.5,1210.7 L347.6,1205.1 L345.6,1199.6 L343.7,1194.1 L341.7,1188.6 L339.6,1183.0 L337.6,1177.5 L335.5,1172.0 L333.4,1166.5 L331.2,1160.9 L329.0,1155.4 L326.8,1149.9 L324.6,1144.4 L322.3,1138.9 L320.0,1133.3 L317.6,1127.8 L315.2,1122.3 L312.8,1116.8 L310.4,1111.2 L307.9,1105.7 L305.4,1100.2 L302.9,1094.7 L300.3,1089.1 L297.7,1083.6 L295.1,1078.1 L292.4,1072.6 L289.7,1067.0 L287.0,1061.5 L284.2,1056.0 L281.4,1050.5 L278.6,1045.0 L275.8,1039.4 L272.9,1033.9 L270.0,1028.4 L267.0,1022.9 L264.0,1017.3 L261.0,1011.8 L258.0,1006.3 L254.9,1000.8 L251.8,995.2 L248.6,989.7 L245.5,984.2 L242.3,978.7 L239.0,973.1 L235.8,967.6 L232.5,962.1 L229.1,956.6 L225.8,951.1 L222.4,945.5 L219.0,940.0M594.8,1525.5 L594.8,1520.0 L594.6,1514.5 L594.5,1508.9 L594.3,1503.4 L594.1,1497.9 L593.8,1492.4 L593.5,1486.8 L593.2,1481.3 L592.9,1475.8 L592.5,1470.3 L592.1,1464.7 L591.6,1459.2 L591.2,1453.7 L590.7,1448.2 L590.1,1442.6 L589.6,1437.1 L589.0,1431.6 L588.3,1426.1 L587.7,1420.6 L587.0,1415.0 L586.2,1409.5 L585.5,1404.0 L584.7,1398.5 L583.9,1392.9 L583.0,1387.4 L582.1,1381.9 L581.2,1376.4 L580.2,1370.8 L579.3,1365.3 L578.3,1359.8 L577.2,1354.3 L576.1,1348.7 L575.0,1343.2 L573.9,1337.7 L572.7,1332.2 L571.5,1326.7 L570.3,1321.1 L569.0,1315.6 L567.7,1310.1 L566.4,1304.6 L565.0,1299.0 L563.6,1293.5 L562.2,1288.0 L560.7,1282.5 L559.2,1276.9 L557.7,1271.4 L556.2,1265.9 L554.6,1260.4 L553.0,1254.8 L551.3,1249.3 L549.6,1243.8 L547.9,1238.3 L546.2,1232.8 L544.4,1227.2 L542.6,1221.7 L540.8,1216.2 L538.9,1210.7 L537.0,1205.1 L535.1,1199.6 L533.1,1194.1 L531.1,1188.6 L529.1,1183.0 L527.0,1177.5 L524.9,1172.0 L522.8,1166.5 L520.6,1160.9 L518.5,1155.4 L516.2,1149.9 L514.0,1144.4 L511.7,1138.9 L509.4,1133.3 L507.0,1127.8 L504.7,1122.3 L502.3,1116.8 L499.8,1111.2 L497.3,1105.7 L494.8,1100.2 L492.3,1094.7 L489.7,1089.1 L487.1,1083.6 L484.5,1078.1 L481.8,1072.6 L479.1,1067.0 L476.4,1061.5 L473.7,1056.0 L470.9,1050.5 L468.0,1045.0 L465.2,1039.4 L462.3,1033.9 L459.4,1028.4 L456.4,1022.9 L453.5,1017.3 L450.4,1011.8 L447.4,1006.3 L444.3,1000.8 L441.2,995.2 L438.1,989.7 L434.9,984.2 L431.7,978.7 L428.5,973.1 L425.2,967.6 L421.9,962.1 L418.6,956.6 L415.2,951.1 L411.8,945.5 L408.4,940.0 L404.9,934.5 L401.5,929.0 L397.9,923.4 L394.4,917.9 L390.8,912.4 L387.2,906.9 L383.5,901.3 L379.9,895.8 L376.1,890.3 L372.4,884.8 L368.6,879.2 L364.8,873.7 L361.0,868.2M784.3,1525.5 L784.2,1520.0 L784.1,1514.5 L783.9,1508.9 L783.7,1503.4 L783.5,1497.9 L783.2,1492.4 L783.0,1486.8 L782.6,1481.3 L782.3,1475.8 L781.9,1470.3 L781.5,1464.7 L781.1,1459.2 L780.6,1453.7 L780.1,1448.2 L779.6,1442.6 L779.0,1437.1 L778.4,1431.6 L777.8,1426.1 L777.1,1420.6 L776.4,1415.0 L775.7,1409.5 L774.9,1404.0 L774.1,1398.5 L773.3,1392.9 L772.4,1387.4 L771.6,1381.9 L770.6,1376.4 L769.7,1370.8 L768.7,1365.3 L767.7,1359.8 L766.6,1354.3 L765.6,1348.7 L764.5,1343.2 L763.3,1337.7 L762.1,1332.2 L760.9,1326.7 L759.7,1321.1 L758.4,1315.6 L757.1,1310.1 L755.8,1304.6 L754.4,1299.0 L753.1,1293.5 L751.6,1288.0 L750.2,1282.5 L748.7,1276.9 L747.2,1271.4 L745.6,1265.9 L744.0,1260.4 L742.4,1254.8 L740.8,1249.3 L739.1,1243.8 L737.4,1238.3 L735.6,1232.8 L733.9,1227.2 L732.0,1221.7 L730.2,1216.2 L728.3,1210.7 L726.4,1205.1 L724.5,1199.6 L722.5,1194.1 L720.5,1188.6 L718.5,1183.0 L716.5,1177.5 L714.4,1172.0 L712.2,1166.5 L710.1,1160.9 L707.9,1155.4 L705.7,1149.9 L703.4,1144.4 L701.1,1138.9 L698.8,1133.3 L696.5,1127.8 L694.1,1122.3 L691.7,1116.8 L689.3,1111.2 L686.8,1105.7 L684.3,1100.2 L681.7,1094.7 L679.2,1089.1 L676.6,1083.6 L673.9,1078.1 L671.3,1072.6 L668.6,1067.0 L665.9,1061.5 L663.1,1056.0 L660.3,1050.5 L657.5,1045.0 L654.6,1039.4 L651.7,1033.9 L648.8,1028.4 L645.9,1022.9 L642.9,1017.3 L639.9,1011.8 L636.8,1006.3 L633.8,1000.8 L630.7,995.2 L627.5,989.7 L624.3,984.2 L621.1,978.7 L617.9,973.1 L614.6,967.6 L611.3,962.1 L608.0,956.6 L604.7,951.1 L601.3,945.5 L597.8,940.0 L594.4,934.5 L590.9,929.0 L587.4,923.4 L583.8,917.9 L580.2,912.4 L576.6,906.9 L573.0,901.3 L569.3,895.8 L565.6,890.3 L561.8,884.8 L558.1,879.2 L554.3,873.7 L550.4,868.2M973.7,1525.5 L973.6,1520.0 L973.5,1514.5 L973.3,1508.9 L973.2,1503.4 L972.9,1497.9 L972.7,1492.4 L972.4,1486.8 L972.1,1481.3 L971.7,1475.8 L971.4,1470.3 L970.9,1464.7 L970.5,1459.2 L970.0,1453.7 L969.5,1448.2 L969.0,1442.6 L968.4,1437.1 L967.8,1431.6 L967.2,1426.1 L966.5,1420.6 L965.8,1415.0 L965.1,1409.5 L964.3,1404.0 L963.5,1398.5 L962.7,1392.9 L961.9,1387.4 L961.0,1381.9 L960.1,1376.4 L959.1,1370.8 L958.1,1365.3 L957.1,1359.8 L956.1,1354.3 L955.0,1348.7 L953.9,1343.2 L952.8,1337.7 L951.6,1332.2 L950.4,1326.7 L949.1,1321.1 L947.9,1315.6 L946.6,1310.1 L945.2,1304.6 L943.9,1299.0 L942.5,1293.5 L941.1,1288.0 L939.6,1282.5 L938.1,1276.9 L936.6,1271.4 L935.0,1265.9 L933.5,1260.4 L931.8,1254.8 L930.2,1249.3 L928.5,1243.8 L926.8,1238.3 L925.1,1232.8 L923.3,1227.2 L921.5,1221.7 L919.6,1216.2 L917.8,1210.7 L915.9,1205.1 L913.9,1199.6 L912.0,1194.1 L910.0,1188.6 L907.9,1183.0 L905.9,1177.5 L903.8,1172.0 L901.7,1166.5 L899.5,1160.9 L897.3,1155.4 L895.1,1149.9 L892.9,1144.4 L890.6,1138.9 L888.3,1133.3 L885.9,1127.8 L883.5,1122.3 L881.1,1116.8 L878.7,1111.2 L876.2,1105.7 L873.7,1100.2 L871.2,1094.7 L868.6,1089.1 L866.0,1083.6 L863.4,1078.1 L860.7,1072.6 L858.0,1067.0 L855.3,1061.5 L852.5,1056.0 L849.7,1050.5 L846.9,1045.0 L844.1,1039.4 L841.2,1033.9 L838.3,1028.4 L835.3,1022.9 L832.3,1017.3 L829.3,1011.8 L826.3,1006.3 L823.2,1000.8 L820.1,995.2 L817.0,989.7 L813.8,984.2 L810.6,978.7 L807.3,973.1 L804.1,967.6 L800.8,962.1 L797.4,956.6 L794.1,951.1 L790.7,945.5 L787.3,940.0 L783.8,934.5 L780.3,929.0 L776.8,923.4 L773.3,917.9 L769.7,912.4 L766.1,906.9 L762.4,901.3 L758.7,895.8 L755.0,890.3 L751.3,884.8 L747.5,879.2 L743.7,873.7 L739.9,868.2M1050.1,1072.6 L1047.4,1067.0 L1044.7,1061.5 L1042.0,1056.0 L1039.2,1050.5 L1036.4,1045.0 L1033.5,1039.4 L1030.6,1033.9 L1027.7,1028.4 L1024.7,1022.9 L1021.8,1017.3 L1018.8,1011.8 L1015.7,1006.3 L1012.6,1000.8 L1009.5,995.2 L1006.4,989.7 L1003.2,984.2 L1000.0,978.7 L996.8,973.1 L993.5,967.6 L990.2,962.1 L986.9,956.6 L983.5,951.1 L980.1,945.5 L976.7,940.0 L973.2,934.5 L969.8,929.0 L966.2,923.4 L962.7,917.9 L959.1,912.4 L955.5,906.9 L951.8,901.3 L948.2,895.8 L944.5,890.3 L940.7,884.8 L936.9,879.2 L933.1,873.7 L929.3,868.2" fill="none" stroke="#0a0a0a" stroke-width="3.2" stroke-linecap="round" stroke-dasharray="0.1 13.2"/>
<path d="M218.2,1478.6 L219.0,1525.5" stroke="#0a0a0a" stroke-width="2.2"/>
<rect x="217.0" y="868.2" width="833.7" height="657.3" fill="none" stroke="#363636" stroke-width="1.7"/>
<path d="M309.6,1525.5v-9M309.6,868.2v9M494.9,1525.5v-9M494.9,868.2v9M680.2,1525.5v-9M680.2,868.2v9M865.4,1525.5v-9M865.4,868.2v9M1050.7,1525.5v-9M1050.7,868.2v9M217.0,1471.8h9M1050.7,1471.8h-9M217.0,1404.8h9M1050.7,1404.8h-9M217.0,1337.7h9M1050.7,1337.7h-9M217.0,1270.6h9M1050.7,1270.6h-9M217.0,1203.6h9M1050.7,1203.6h-9M217.0,1136.5h9M1050.7,1136.5h-9M217.0,1069.4h9M1050.7,1069.4h-9M217.0,1002.3h9M1050.7,1002.3h-9M217.0,935.3h9M1050.7,935.3h-9M217.0,868.2h9M1050.7,868.2h-9" stroke="#363636" stroke-width="1.8"/>
<text x="309.6" y="1572.5" class="tl" text-anchor="middle">100</text>
<text x="494.9" y="1572.5" class="tl" text-anchor="middle">200</text>
<text x="680.2" y="1572.5" class="tl" text-anchor="middle">300</text>
<text x="865.4" y="1572.5" class="tl" text-anchor="middle">400</text>
<text x="1050.7" y="1572.5" class="tl" text-anchor="middle">500</text>
<text x="203.3" y="1485.3" class="tl" text-anchor="end">5</text>
<text x="203.3" y="1418.3" class="tl" text-anchor="end">10</text>
<text x="203.3" y="1351.2" class="tl" text-anchor="end">15</text>
<text x="203.3" y="1284.1" class="tl" text-anchor="end">20</text>
<text x="203.3" y="1217.1" class="tl" text-anchor="end">25</text>
<text x="203.3" y="1150.0" class="tl" text-anchor="end">30</text>
<text x="203.3" y="1082.9" class="tl" text-anchor="end">35</text>
<text x="203.3" y="1015.8" class="tl" text-anchor="end">40</text>
<text x="203.3" y="948.8" class="tl" text-anchor="end">45</text>
<text x="203.3" y="881.7" class="tl" text-anchor="end">50</text>
<rect x="1138.6" y="832.2" width="43.4" height="738.8" fill="url(#cbB)" stroke="#363636" stroke-width="2"/>
<text x="1193.6" y="978.7" class="tl">-2</text>
<text x="1193.6" y="1112.6" class="tl">-4</text>
<text x="1193.6" y="1246.6" class="tl">-6</text>
<text x="1193.6" y="1380.5" class="tl">-8</text>
<text x="1193.6" y="1514.5" class="tl">-10</text>
<path d="M1182.0,966.2h-9M1182.0,1100.1h-9M1182.0,1234.1h-9M1182.0,1368.0h-9M1182.0,1502.0h-9" stroke="#363636" stroke-width="1.8"/>
<text x="3.93" y="880.30" font-size="46" textLength="32.88" lengthAdjust="spacingAndGlyphs" font-weight="bold" fill="#000">B</text>
<text x="333.46" y="1429.80" font-size="48.5" textLength="106.21" lengthAdjust="spacingAndGlyphs" fill="#da1f2a">1500</text>
<text x="515.27" y="1339.20" font-size="48.5" textLength="104.17" lengthAdjust="spacingAndGlyphs" fill="#da1f2a">2500</text>
<text x="677.07" y="1245.30" font-size="48.5" textLength="104.17" lengthAdjust="spacingAndGlyphs" fill="#da1f2a">3500</text>
<text x="822.24" y="1151.60" font-size="48.5" textLength="103.18" lengthAdjust="spacingAndGlyphs" fill="#da1f2a">4500</text>
<text x="937.67" y="1012.50" font-size="48.5" textLength="104.17" lengthAdjust="spacingAndGlyphs" fill="#da1f2a">5500</text>
<path d="M406.0,2340.5 L405.9,2335.0 L405.8,2329.5 L405.6,2323.9 L405.4,2318.4 L405.2,2312.9 L405.0,2307.4 L404.7,2301.8 L404.4,2296.3 L404.0,2290.8 L403.6,2285.3 L403.2,2279.7 L402.8,2274.2 L402.3,2268.7 L401.8,2263.2 L401.3,2257.6 L400.7,2252.1 L400.1,2246.6 L399.5,2241.1 L398.8,2235.5 L398.1,2230.0 L397.4,2224.5 L396.6,2219.0 L395.8,2213.4 L395.0,2207.9 L394.1,2202.4 L393.3,2196.9 L392.3,2191.3 L391.4,2185.8 L390.4,2180.3 L389.4,2174.8 L388.4,2169.2 L387.3,2163.7 L386.2,2158.2 L385.0,2152.7 L383.9,2147.1 L382.7,2141.6 L381.4,2136.1 L380.2,2130.6 L378.9,2125.0 L377.5,2119.5 L376.2,2114.0 L374.8,2108.5 L373.3,2103.0 L371.9,2097.4 L370.4,2091.9 L368.9,2086.4 L367.3,2080.9 L365.7,2075.3 L364.1,2069.8 L362.5,2064.3 L360.8,2058.8 L359.1,2053.2 L357.3,2047.7 L355.6,2042.2 L353.8,2036.7 L351.9,2031.1 L350.1,2025.6 L348.2,2020.1 L346.2,2014.6 L344.3,2009.0 L342.3,2003.5 L340.2,1998.0 L338.2,1992.5 L336.1,1986.9 L334.0,1981.4 L331.8,1975.9 L329.6,1970.4 L327.4,1964.8 L325.1,1959.3 L322.9,1953.8 L320.5,1948.3 L318.2,1942.7 L315.8,1937.2 L313.4,1931.7 L311.0,1926.2 L308.5,1920.6 L306.0,1915.1 L303.5,1909.6 L300.9,1904.1 L298.3,1898.6 L295.7,1893.0 L293.0,1887.5 L290.3,1882.0 L287.6,1876.5 L284.8,1870.9 L282.0,1865.4 L279.2,1859.9 L276.4,1854.4 L273.5,1848.8 L270.6,1843.3 L267.6,1837.8 L264.6,1832.3 L261.6,1826.7 L258.6,1821.2 L255.5,1815.7 L252.4,1810.2 L249.2,1804.6 L246.1,1799.1 L242.9,1793.6 L239.6,1788.1 L236.4,1782.5 L233.1,1777.0 L229.7,1771.5 L226.4,1766.0 L223.0,1760.4 L219.6,1754.9M595.4,2340.5 L595.3,2335.0 L595.2,2329.5 L595.0,2323.9 L594.8,2318.4 L594.6,2312.9 L594.4,2307.4 L594.1,2301.8 L593.8,2296.3 L593.4,2290.8 L593.0,2285.3 L592.6,2279.7 L592.2,2274.2 L591.7,2268.7 L591.2,2263.2 L590.7,2257.6 L590.1,2252.1 L589.5,2246.6 L588.9,2241.1 L588.2,2235.5 L587.5,2230.0 L586.8,2224.5 L586.0,2219.0 L585.2,2213.4 L584.4,2207.9 L583.6,2202.4 L582.7,2196.9 L581.8,2191.3 L580.8,2185.8 L579.8,2180.3 L578.8,2174.8 L577.8,2169.2 L576.7,2163.7 L575.6,2158.2 L574.4,2152.7 L573.3,2147.1 L572.1,2141.6 L570.8,2136.1 L569.6,2130.6 L568.3,2125.0 L566.9,2119.5 L565.6,2114.0 L564.2,2108.5 L562.8,2103.0 L561.3,2097.4 L559.8,2091.9 L558.3,2086.4 L556.7,2080.9 L555.2,2075.3 L553.5,2069.8 L551.9,2064.3 L550.2,2058.8 L548.5,2053.2 L546.8,2047.7 L545.0,2042.2 L543.2,2036.7 L541.3,2031.1 L539.5,2025.6 L537.6,2020.1 L535.6,2014.6 L533.7,2009.0 L531.7,2003.5 L529.6,1998.0 L527.6,1992.5 L525.5,1986.9 L523.4,1981.4 L521.2,1975.9 L519.0,1970.4 L516.8,1964.8 L514.6,1959.3 L512.3,1953.8 L510.0,1948.3 L507.6,1942.7 L505.2,1937.2 L502.8,1931.7 L500.4,1926.2 L497.9,1920.6 L495.4,1915.1 L492.9,1909.6 L490.3,1904.1 L487.7,1898.6 L485.1,1893.0 L482.4,1887.5 L479.7,1882.0 L477.0,1876.5 L474.2,1870.9 L471.4,1865.4 L468.6,1859.9 L465.8,1854.4 L462.9,1848.8 L460.0,1843.3 L457.0,1837.8 L454.0,1832.3 L451.0,1826.7 L448.0,1821.2 L444.9,1815.7 L441.8,1810.2 L438.7,1804.6 L435.5,1799.1 L432.3,1793.6 L429.0,1788.1 L425.8,1782.5 L422.5,1777.0 L419.2,1771.5 L415.8,1766.0 L412.4,1760.4 L409.0,1754.9 L405.5,1749.4 L402.0,1743.9 L398.5,1738.3 L395.0,1732.8 L391.4,1727.3 L387.8,1721.8 L384.1,1716.2 L380.4,1710.7 L376.7,1705.2 L373.0,1699.7 L369.2,1694.1 L365.4,1688.6 L361.6,1683.1M784.8,2340.5 L784.7,2335.0 L784.6,2329.5 L784.4,2323.9 L784.3,2318.4 L784.0,2312.9 L783.8,2307.4 L783.5,2301.8 L783.2,2296.3 L782.8,2290.8 L782.5,2285.3 L782.0,2279.7 L781.6,2274.2 L781.1,2268.7 L780.6,2263.2 L780.1,2257.6 L779.5,2252.1 L778.9,2246.6 L778.3,2241.1 L777.6,2235.5 L776.9,2230.0 L776.2,2224.5 L775.4,2219.0 L774.6,2213.4 L773.8,2207.9 L773.0,2202.4 L772.1,2196.9 L771.2,2191.3 L770.2,2185.8 L769.2,2180.3 L768.2,2174.8 L767.2,2169.2 L766.1,2163.7 L765.0,2158.2 L763.9,2152.7 L762.7,2147.1 L761.5,2141.6 L760.2,2136.1 L759.0,2130.6 L757.7,2125.0 L756.3,2119.5 L755.0,2114.0 L753.6,2108.5 L752.2,2103.0 L750.7,2097.4 L749.2,2091.9 L747.7,2086.4 L746.1,2080.9 L744.6,2075.3 L742.9,2069.8 L741.3,2064.3 L739.6,2058.8 L737.9,2053.2 L736.2,2047.7 L734.4,2042.2 L732.6,2036.7 L730.7,2031.1 L728.9,2025.6 L727.0,2020.1 L725.0,2014.6 L723.1,2009.0 L721.1,2003.5 L719.1,1998.0 L717.0,1992.5 L714.9,1986.9 L712.8,1981.4 L710.6,1975.9 L708.4,1970.4 L706.2,1964.8 L704.0,1959.3 L701.7,1953.8 L699.4,1948.3 L697.0,1942.7 L694.6,1937.2 L692.2,1931.7 L689.8,1926.2 L687.3,1920.6 L684.8,1915.1 L682.3,1909.6 L679.7,1904.1 L677.1,1898.6 L674.5,1893.0 L671.8,1887.5 L669.1,1882.0 L666.4,1876.5 L663.6,1870.9 L660.9,1865.4 L658.0,1859.9 L655.2,1854.4 L652.3,1848.8 L649.4,1843.3 L646.4,1837.8 L643.4,1832.3 L640.4,1826.7 L637.4,1821.2 L634.3,1815.7 L631.2,1810.2 L628.1,1804.6 L624.9,1799.1 L621.7,1793.6 L618.5,1788.1 L615.2,1782.5 L611.9,1777.0 L608.6,1771.5 L605.2,1766.0 L601.8,1760.4 L598.4,1754.9 L594.9,1749.4 L591.4,1743.9 L587.9,1738.3 L584.4,1732.8 L580.8,1727.3 L577.2,1721.8 L573.5,1716.2 L569.9,1710.7 L566.1,1705.2 L562.4,1699.7 L558.6,1694.1 L554.8,1688.6 L551.0,1683.1M974.2,2340.5 L974.1,2335.0 L974.0,2329.5 L973.9,2323.9 L973.7,2318.4 L973.4,2312.9 L973.2,2307.4 L972.9,2301.8 L972.6,2296.3 L972.2,2290.8 L971.9,2285.3 L971.5,2279.7 L971.0,2274.2 L970.5,2268.7 L970.0,2263.2 L969.5,2257.6 L968.9,2252.1 L968.3,2246.6 L967.7,2241.1 L967.0,2235.5 L966.3,2230.0 L965.6,2224.5 L964.9,2219.0 L964.1,2213.4 L963.2,2207.9 L962.4,2202.4 L961.5,2196.9 L960.6,2191.3 L959.6,2185.8 L958.6,2180.3 L957.6,2174.8 L956.6,2169.2 L955.5,2163.7 L954.4,2158.2 L953.3,2152.7 L952.1,2147.1 L950.9,2141.6 L949.7,2136.1 L948.4,2130.6 L947.1,2125.0 L945.8,2119.5 L944.4,2114.0 L943.0,2108.5 L941.6,2103.0 L940.1,2097.4 L938.6,2091.9 L937.1,2086.4 L935.6,2080.9 L934.0,2075.3 L932.4,2069.8 L930.7,2064.3 L929.0,2058.8 L927.3,2053.2 L925.6,2047.7 L923.8,2042.2 L922.0,2036.7 L920.2,2031.1 L918.3,2025.6 L916.4,2020.1 L914.5,2014.6 L912.5,2009.0 L910.5,2003.5 L908.5,1998.0 L906.4,1992.5 L904.3,1986.9 L902.2,1981.4 L900.0,1975.9 L897.8,1970.4 L895.6,1964.8 L893.4,1959.3 L891.1,1953.8 L888.8,1948.3 L886.4,1942.7 L884.1,1937.2 L881.6,1931.7 L879.2,1926.2 L876.7,1920.6 L874.2,1915.1 L871.7,1909.6 L869.1,1904.1 L866.5,1898.6 L863.9,1893.0 L861.2,1887.5 L858.5,1882.0 L855.8,1876.5 L853.1,1870.9 L850.3,1865.4 L847.4,1859.9 L844.6,1854.4 L841.7,1848.8 L838.8,1843.3 L835.8,1837.8 L832.9,1832.3 L829.8,1826.7 L826.8,1821.2 L823.7,1815.7 L820.6,1810.2 L817.5,1804.6 L814.3,1799.1 L811.1,1793.6 L807.9,1788.1 L804.6,1782.5 L801.3,1777.0 L798.0,1771.5 L794.6,1766.0 L791.2,1760.4 L787.8,1754.9 L784.3,1749.4 L780.9,1743.9 L777.3,1738.3 L773.8,1732.8 L770.2,1727.3 L766.6,1721.8 L762.9,1716.2 L759.3,1710.7 L755.6,1705.2 L751.8,1699.7 L748.0,1694.1 L744.2,1688.6 L740.4,1683.1M1050.6,1887.5 L1047.9,1882.0 L1045.2,1876.5 L1042.5,1870.9 L1039.7,1865.4 L1036.9,1859.9 L1034.0,1854.4 L1031.1,1848.8 L1028.2,1843.3 L1025.2,1837.8 L1022.3,1832.3 L1019.3,1826.7 L1016.2,1821.2 L1013.1,1815.7 L1010.0,1810.2 L1006.9,1804.6 L1003.7,1799.1 L1000.5,1793.6 L997.3,1788.1 L994.0,1782.5 L990.7,1777.0 L987.4,1771.5 L984.0,1766.0 L980.6,1760.4 L977.2,1754.9 L973.8,1749.4 L970.3,1743.9 L966.7,1738.3 L963.2,1732.8 L959.6,1727.3 L956.0,1721.8 L952.4,1716.2 L948.7,1710.7 L945.0,1705.2 L941.2,1699.7 L937.4,1694.1 L933.6,1688.6 L929.8,1683.1" fill="none" stroke="#0a0a0a" stroke-width="2.0"/>
<path d="M406.0,2340.5 L405.9,2335.0 L405.8,2329.5 L405.6,2323.9 L405.4,2318.4 L405.2,2312.9 L405.0,2307.4 L404.7,2301.8 L404.4,2296.3 L404.0,2290.8 L403.6,2285.3 L403.2,2279.7 L402.8,2274.2 L402.3,2268.7 L401.8,2263.2 L401.3,2257.6 L400.7,2252.1 L400.1,2246.6 L399.5,2241.1 L398.8,2235.5 L398.1,2230.0 L397.4,2224.5 L396.6,2219.0 L395.8,2213.4 L395.0,2207.9 L394.1,2202.4 L393.3,2196.9 L392.3,2191.3 L391.4,2185.8 L390.4,2180.3 L389.4,2174.8 L388.4,2169.2 L387.3,2163.7 L386.2,2158.2 L385.0,2152.7 L383.9,2147.1 L382.7,2141.6 L381.4,2136.1 L380.2,2130.6 L378.9,2125.0 L377.5,2119.5 L376.2,2114.0 L374.8,2108.5 L373.3,2103.0 L371.9,2097.4 L370.4,2091.9 L368.9,2086.4 L367.3,2080.9 L365.7,2075.3 L364.1,2069.8 L362.5,2064.3 L360.8,2058.8 L359.1,2053.2 L357.3,2047.7 L355.6,2042.2 L353.8,2036.7 L351.9,2031.1 L350.1,2025.6 L348.2,2020.1 L346.2,2014.6 L344.3,2009.0 L342.3,2003.5 L340.2,1998.0 L338.2,1992.5 L336.1,1986.9 L334.0,1981.4 L331.8,1975.9 L329.6,1970.4 L327.4,1964.8 L325.1,1959.3 L322.9,1953.8 L320.5,1948.3 L318.2,1942.7 L315.8,1937.2 L313.4,1931.7 L311.0,1926.2 L308.5,1920.6 L306.0,1915.1 L303.5,1909.6 L300.9,1904.1 L298.3,1898.6 L295.7,1893.0 L293.0,1887.5 L290.3,1882.0 L287.6,1876.5 L284.8,1870.9 L282.0,1865.4 L279.2,1859.9 L276.4,1854.4 L273.5,1848.8 L270.6,1843.3 L267.6,1837.8 L264.6,1832.3 L261.6,1826.7 L258.6,1821.2 L255.5,1815.7 L252.4,1810.2 L249.2,1804.6 L246.1,1799.1 L242.9,1793.6 L239.6,1788.1 L236.4,1782.5 L233.1,1777.0 L229.7,1771.5 L226.4,1766.0 L223.0,1760.4 L219.6,1754.9M595.4,2340.5 L595.3,2335.0 L595.2,2329.5 L595.0,2323.9 L594.8,2318.4 L594.6,2312.9 L594.4,2307.4 L594.1,2301.8 L593.8,2296.3 L593.4,2290.8 L593.0,2285.3 L592.6,2279.7 L592.2,2274.2 L591.7,2268.7 L591.2,2263.2 L590.7,2257.6 L590.1,2252.1 L589.5,2246.6 L588.9,2241.1 L588.2,2235.5 L587.5,2230.0 L586.8,2224.5 L586.0,2219.0 L585.2,2213.4 L584.4,2207.9 L583.6,2202.4 L582.7,2196.9 L581.8,2191.3 L580.8,2185.8 L579.8,2180.3 L578.8,2174.8 L577.8,2169.2 L576.7,2163.7 L575.6,2158.2 L574.4,2152.7 L573.3,2147.1 L572.1,2141.6 L570.8,2136.1 L569.6,2130.6 L568.3,2125.0 L566.9,2119.5 L565.6,2114.0 L564.2,2108.5 L562.8,2103.0 L561.3,2097.4 L559.8,2091.9 L558.3,2086.4 L556.7,2080.9 L555.2,2075.3 L553.5,2069.8 L551.9,2064.3 L550.2,2058.8 L548.5,2053.2 L546.8,2047.7 L545.0,2042.2 L543.2,2036.7 L541.3,2031.1 L539.5,2025.6 L537.6,2020.1 L535.6,2014.6 L533.7,2009.0 L531.7,2003.5 L529.6,1998.0 L527.6,1992.5 L525.5,1986.9 L523.4,1981.4 L521.2,1975.9 L519.0,1970.4 L516.8,1964.8 L514.6,1959.3 L512.3,1953.8 L510.0,1948.3 L507.6,1942.7 L505.2,1937.2 L502.8,1931.7 L500.4,1926.2 L497.9,1920.6 L495.4,1915.1 L492.9,1909.6 L490.3,1904.1 L487.7,1898.6 L485.1,1893.0 L482.4,1887.5 L479.7,1882.0 L477.0,1876.5 L474.2,1870.9 L471.4,1865.4 L468.6,1859.9 L465.8,1854.4 L462.9,1848.8 L460.0,1843.3 L457.0,1837.8 L454.0,1832.3 L451.0,1826.7 L448.0,1821.2 L444.9,1815.7 L441.8,1810.2 L438.7,1804.6 L435.5,1799.1 L432.3,1793.6 L429.0,1788.1 L425.8,1782.5 L422.5,1777.0 L419.2,1771.5 L415.8,1766.0 L412.4,1760.4 L409.0,1754.9 L405.5,1749.4 L402.0,1743.9 L398.5,1738.3 L395.0,1732.8 L391.4,1727.3 L387.8,1721.8 L384.1,1716.2 L380.4,1710.7 L376.7,1705.2 L373.0,1699.7 L369.2,1694.1 L365.4,1688.6 L361.6,1683.1M784.8,2340.5 L784.7,2335.0 L784.6,2329.5 L784.4,2323.9 L784.3,2318.4 L784.0,2312.9 L783.8,2307.4 L783.5,2301.8 L783.2,2296.3 L782.8,2290.8 L782.5,2285.3 L782.0,2279.7 L781.6,2274.2 L781.1,2268.7 L780.6,2263.2 L780.1,2257.6 L779.5,2252.1 L778.9,2246.6 L778.3,2241.1 L777.6,2235.5 L776.9,2230.0 L776.2,2224.5 L775.4,2219.0 L774.6,2213.4 L773.8,2207.9 L773.0,2202.4 L772.1,2196.9 L771.2,2191.3 L770.2,2185.8 L769.2,2180.3 L768.2,2174.8 L767.2,2169.2 L766.1,2163.7 L765.0,2158.2 L763.9,2152.7 L762.7,2147.1 L761.5,2141.6 L760.2,2136.1 L759.0,2130.6 L757.7,2125.0 L756.3,2119.5 L755.0,2114.0 L753.6,2108.5 L752.2,2103.0 L750.7,2097.4 L749.2,2091.9 L747.7,2086.4 L746.1,2080.9 L744.6,2075.3 L742.9,2069.8 L741.3,2064.3 L739.6,2058.8 L737.9,2053.2 L736.2,2047.7 L734.4,2042.2 L732.6,2036.7 L730.7,2031.1 L728.9,2025.6 L727.0,2020.1 L725.0,2014.6 L723.1,2009.0 L721.1,2003.5 L719.1,1998.0 L717.0,1992.5 L714.9,1986.9 L712.8,1981.4 L710.6,1975.9 L708.4,1970.4 L706.2,1964.8 L704.0,1959.3 L701.7,1953.8 L699.4,1948.3 L697.0,1942.7 L694.6,1937.2 L692.2,1931.7 L689.8,1926.2 L687.3,1920.6 L684.8,1915.1 L682.3,1909.6 L679.7,1904.1 L677.1,1898.6 L674.5,1893.0 L671.8,1887.5 L669.1,1882.0 L666.4,1876.5 L663.6,1870.9 L660.9,1865.4 L658.0,1859.9 L655.2,1854.4 L652.3,1848.8 L649.4,1843.3 L646.4,1837.8 L643.4,1832.3 L640.4,1826.7 L637.4,1821.2 L634.3,1815.7 L631.2,1810.2 L628.1,1804.6 L624.9,1799.1 L621.7,1793.6 L618.5,1788.1 L615.2,1782.5 L611.9,1777.0 L608.6,1771.5 L605.2,1766.0 L601.8,1760.4 L598.4,1754.9 L594.9,1749.4 L591.4,1743.9 L587.9,1738.3 L584.4,1732.8 L580.8,1727.3 L577.2,1721.8 L573.5,1716.2 L569.9,1710.7 L566.1,1705.2 L562.4,1699.7 L558.6,1694.1 L554.8,1688.6 L551.0,1683.1M974.2,2340.5 L974.1,2335.0 L974.0,2329.5 L973.9,2323.9 L973.7,2318.4 L973.4,2312.9 L973.2,2307.4 L972.9,2301.8 L972.6,2296.3 L972.2,2290.8 L971.9,2285.3 L971.5,2279.7 L971.0,2274.2 L970.5,2268.7 L970.0,2263.2 L969.5,2257.6 L968.9,2252.1 L968.3,2246.6 L967.7,2241.1 L967.0,2235.5 L966.3,2230.0 L965.6,2224.5 L964.9,2219.0 L964.1,2213.4 L963.2,2207.9 L962.4,2202.4 L961.5,2196.9 L960.6,2191.3 L959.6,2185.8 L958.6,2180.3 L957.6,2174.8 L956.6,2169.2 L955.5,2163.7 L954.4,2158.2 L953.3,2152.7 L952.1,2147.1 L950.9,2141.6 L949.7,2136.1 L948.4,2130.6 L947.1,2125.0 L945.8,2119.5 L944.4,2114.0 L943.0,2108.5 L941.6,2103.0 L940.1,2097.4 L938.6,2091.9 L937.1,2086.4 L935.6,2080.9 L934.0,2075.3 L932.4,2069.8 L930.7,2064.3 L929.0,2058.8 L927.3,2053.2 L925.6,2047.7 L923.8,2042.2 L922.0,2036.7 L920.2,2031.1 L918.3,2025.6 L916.4,2020.1 L914.5,2014.6 L912.5,2009.0 L910.5,2003.5 L908.5,1998.0 L906.4,1992.5 L904.3,1986.9 L902.2,1981.4 L900.0,1975.9 L897.8,1970.4 L895.6,1964.8 L893.4,1959.3 L891.1,1953.8 L888.8,1948.3 L886.4,1942.7 L884.1,1937.2 L881.6,1931.7 L879.2,1926.2 L876.7,1920.6 L874.2,1915.1 L871.7,1909.6 L869.1,1904.1 L866.5,1898.6 L863.9,1893.0 L861.2,1887.5 L858.5,1882.0 L855.8,1876.5 L853.1,1870.9 L850.3,1865.4 L847.4,1859.9 L844.6,1854.4 L841.7,1848.8 L838.8,1843.3 L835.8,1837.8 L832.9,1832.3 L829.8,1826.7 L826.8,1821.2 L823.7,1815.7 L820.6,1810.2 L817.5,1804.6 L814.3,1799.1 L811.1,1793.6 L807.9,1788.1 L804.6,1782.5 L801.3,1777.0 L798.0,1771.5 L794.6,1766.0 L791.2,1760.4 L787.8,1754.9 L784.3,1749.4 L780.9,1743.9 L777.3,1738.3 L773.8,1732.8 L770.2,1727.3 L766.6,1721.8 L762.9,1716.2 L759.3,1710.7 L755.6,1705.2 L751.8,1699.7 L748.0,1694.1 L744.2,1688.6 L740.4,1683.1M1050.6,1887.5 L1047.9,1882.0 L1045.2,1876.5 L1042.5,1870.9 L1039.7,1865.4 L1036.9,1859.9 L1034.0,1854.4 L1031.1,1848.8 L1028.2,1843.3 L1025.2,1837.8 L1022.3,1832.3 L1019.3,1826.7 L1016.2,1821.2 L1013.1,1815.7 L1010.0,1810.2 L1006.9,1804.6 L1003.7,1799.1 L1000.5,1793.6 L997.3,1788.1 L994.0,1782.5 L990.7,1777.0 L987.4,1771.5 L984.0,1766.0 L980.6,1760.4 L977.2,1754.9 L973.8,1749.4 L970.3,1743.9 L966.7,1738.3 L963.2,1732.8 L959.6,1727.3 L956.0,1721.8 L952.4,1716.2 L948.7,1710.7 L945.0,1705.2 L941.2,1699.7 L937.4,1694.1 L933.6,1688.6 L929.8,1683.1" fill="none" stroke="#0a0a0a" stroke-width="3.2" stroke-linecap="round" stroke-dasharray="0.1 13.2"/>
<path d="M218.8,2293.5 L219.6,2340.5" stroke="#0a0a0a" stroke-width="2.2"/>
<rect x="217.6" y="1683.1" width="833.6" height="657.4" fill="none" stroke="#363636" stroke-width="1.7"/>
<path d="M310.2,2340.5v-9M310.2,1683.1v9M495.5,2340.5v-9M495.5,1683.1v9M680.7,2340.5v-9M680.7,1683.1v9M866.0,2340.5v-9M866.0,1683.1v9M1051.2,2340.5v-9M1051.2,1683.1v9M217.6,2286.8h9M1051.2,2286.8h-9M217.6,2219.8h9M1051.2,2219.8h-9M217.6,2152.7h9M1051.2,2152.7h-9M217.6,2085.6h9M1051.2,2085.6h-9M217.6,2018.5h9M1051.2,2018.5h-9M217.6,1951.4h9M1051.2,1951.4h-9M217.6,1884.3h9M1051.2,1884.3h-9M217.6,1817.3h9M1051.2,1817.3h-9M217.6,1750.2h9M1051.2,1750.2h-9M217.6,1683.1h9M1051.2,1683.1h-9" stroke="#363636" stroke-width="1.8"/>
<text x="310.2" y="2387.5" class="tl" text-anchor="middle">100</text>
<text x="495.5" y="2387.5" class="tl" text-anchor="middle">200</text>
<text x="680.7" y="2387.5" class="tl" text-anchor="middle">300</text>
<text x="866.0" y="2387.5" class="tl" text-anchor="middle">400</text>
<text x="1051.2" y="2387.5" class="tl" text-anchor="middle">500</text>
<text x="203.9" y="2300.3" class="tl" text-anchor="end">5</text>
<text x="203.9" y="2233.3" class="tl" text-anchor="end">10</text>
<text x="203.9" y="2166.2" class="tl" text-anchor="end">15</text>
<text x="203.9" y="2099.1" class="tl" text-anchor="end">20</text>
<text x="203.9" y="2032.0" class="tl" text-anchor="end">25</text>
<text x="203.9" y="1964.9" class="tl" text-anchor="end">30</text>
<text x="203.9" y="1897.8" class="tl" text-anchor="end">35</text>
<text x="203.9" y="1830.8" class="tl" text-anchor="end">40</text>
<text x="203.9" y="1763.7" class="tl" text-anchor="end">45</text>
<text x="203.9" y="1696.6" class="tl" text-anchor="end">50</text>
<rect x="1133.2" y="1650.6" width="42.6" height="734.0" fill="url(#cbC)" stroke="#363636" stroke-width="2"/>
<text x="1187.4" y="1753.6" class="tl">-0.2</text>
<text x="1187.4" y="1848.3" class="tl">-0.4</text>
<text x="1187.4" y="1943.0" class="tl">-0.6</text>
<text x="1187.4" y="2037.8" class="tl">-0.8</text>
<text x="1187.4" y="2132.5" class="tl">-1</text>
<text x="1187.4" y="2227.2" class="tl">-1.2</text>
<text x="1187.4" y="2322.0" class="tl">-1.4</text>
<path d="M1175.8,1741.1h-9M1175.8,1835.8h-9M1175.8,1930.5h-9M1175.8,2025.3h-9M1175.8,2120.0h-9M1175.8,2214.7h-9M1175.8,2309.5h-9" stroke="#363636" stroke-width="1.8"/>
<text x="4.99" y="1697.60" font-size="46" textLength="31.79" lengthAdjust="spacingAndGlyphs" font-weight="bold" fill="#000">C</text>
<text x="335.46" y="2251.20" font-size="48.5" textLength="106.21" lengthAdjust="spacingAndGlyphs" fill="#da1f2a">1500</text>
<text x="517.27" y="2160.70" font-size="48.5" textLength="104.17" lengthAdjust="spacingAndGlyphs" fill="#da1f2a">2500</text>
<text x="678.97" y="2066.90" font-size="48.5" textLength="104.17" lengthAdjust="spacingAndGlyphs" fill="#da1f2a">3500</text>
<text x="823.54" y="1973.10" font-size="48.5" textLength="103.18" lengthAdjust="spacingAndGlyphs" fill="#da1f2a">4500</text>
<text x="938.97" y="1830.80" font-size="48.5" textLength="104.17" lengthAdjust="spacingAndGlyphs" fill="#da1f2a">5500</text>
<g fill="#0d0d0d">
<text transform="translate(1269.6,0) rotate(90)" x="165.38" y="0.00" font-size="62" textLength="330.62" lengthAdjust="spacingAndGlyphs">SST change</text>
<text transform="translate(1269.6,0) rotate(90)" x="528.95" y="0.00" font-size="62" textLength="17.30" lengthAdjust="spacingAndGlyphs">(</text>
<circle cx="1305.3" cy="560.6" r="6.0" fill="none" stroke="#0d0d0d" stroke-width="2.2"/>
<text transform="translate(1269.6,0) rotate(90)" x="574.23" y="0.00" font-size="62" textLength="41.34" lengthAdjust="spacingAndGlyphs">C</text>
<text transform="translate(1269.6,0) rotate(90)" x="619.99" y="0.00" font-size="62" textLength="18.72" lengthAdjust="spacingAndGlyphs">)</text>
<text transform="translate(47.3,0) rotate(-90)" x="-576.99" y="0.00" font-size="62" textLength="262.71" lengthAdjust="spacingAndGlyphs">Upwelling</text>
<text transform="translate(47.3,0) rotate(-90)" x="-295.62" y="0.00" font-size="62" textLength="18.20" lengthAdjust="spacingAndGlyphs">(</text>
<text transform="translate(47.3,0) rotate(-90)" x="-277.73" y="0.00" font-size="62" textLength="50.72" lengthAdjust="spacingAndGlyphs">m</text>
<text transform="translate(47.3,0) rotate(-90)" x="-225.00" y="-18.70" font-size="37" textLength="18.52" lengthAdjust="spacingAndGlyphs">3</text>
<text transform="translate(47.3,0) rotate(-90)" x="-190.34" y="0.00" font-size="62" textLength="28.47" lengthAdjust="spacingAndGlyphs">s</text>
<text transform="translate(47.3,0) rotate(-90)" x="-160.84" y="-18.70" font-size="37" textLength="12.60" lengthAdjust="spacingAndGlyphs">-</text>
<text transform="translate(47.3,0) rotate(-90)" x="-147.12" y="-20.30" font-size="37" textLength="12.48" lengthAdjust="spacingAndGlyphs">1</text>
<text transform="translate(47.3,0) rotate(-90)" x="-125.71" y="0.00" font-size="62" textLength="18.72" lengthAdjust="spacingAndGlyphs">)</text>
<text x="513.40" y="2486.10" font-size="62" textLength="270.24" lengthAdjust="spacingAndGlyphs" >Depth (m)</text>
</g>
</svg></body></html>
